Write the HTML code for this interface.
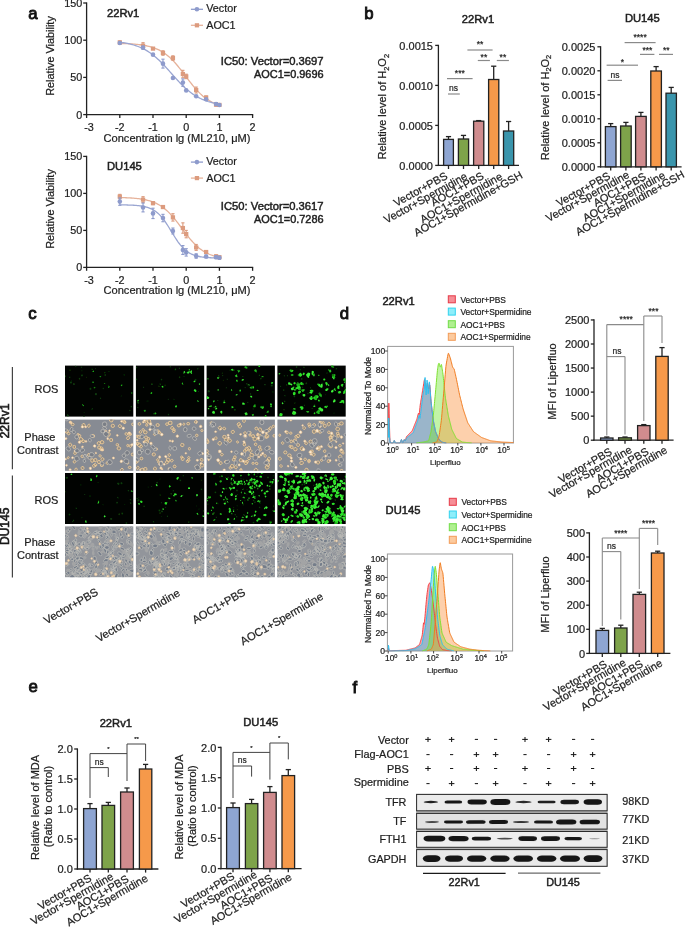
<!DOCTYPE html>
<html><head><meta charset="utf-8"><style>
html,body{margin:0;padding:0;background:#fff;}
svg{display:block;}
text{font-family:"Liberation Sans", sans-serif;}
svg{-webkit-font-smoothing:antialiased;will-change:transform;}
text{stroke:#1e1e1e;stroke-width:0.22px;}
</style></head><body>
<svg width="685" height="928" viewBox="0 0 685 928">
<rect width="685" height="928" fill="#fff"/>
<text x="28.30" y="19.00" font-size="16.8" text-anchor="start" fill="#111" style="stroke-width:0.9px;stroke:#111">a</text>
<line x1="86.60" y1="2.40" x2="86.60" y2="115.25" stroke="#222" stroke-width="1.3"/>
<line x1="85.95" y1="114.60" x2="253.20" y2="114.60" stroke="#222" stroke-width="1.3"/>
<line x1="83.20" y1="114.60" x2="86.60" y2="114.60" stroke="#222" stroke-width="1.3"/>
<text x="82.20" y="118.50" font-size="10.8" text-anchor="end" fill="#1e1e1e">0</text>
<line x1="83.20" y1="77.40" x2="86.60" y2="77.40" stroke="#222" stroke-width="1.3"/>
<text x="82.20" y="81.30" font-size="10.8" text-anchor="end" fill="#1e1e1e">50</text>
<line x1="83.20" y1="40.20" x2="86.60" y2="40.20" stroke="#222" stroke-width="1.3"/>
<text x="82.20" y="44.10" font-size="10.8" text-anchor="end" fill="#1e1e1e">100</text>
<line x1="83.20" y1="3.00" x2="86.60" y2="3.00" stroke="#222" stroke-width="1.3"/>
<text x="82.20" y="6.90" font-size="10.8" text-anchor="end" fill="#1e1e1e">150</text>
<line x1="86.60" y1="114.60" x2="86.60" y2="118.00" stroke="#222" stroke-width="1.3"/>
<text x="89.00" y="131.20" font-size="10.8" text-anchor="middle" fill="#1e1e1e">-3</text>
<line x1="119.80" y1="114.60" x2="119.80" y2="118.00" stroke="#222" stroke-width="1.3"/>
<text x="119.80" y="131.20" font-size="10.8" text-anchor="middle" fill="#1e1e1e">-2</text>
<line x1="153.00" y1="114.60" x2="153.00" y2="118.00" stroke="#222" stroke-width="1.3"/>
<text x="153.00" y="131.20" font-size="10.8" text-anchor="middle" fill="#1e1e1e">-1</text>
<line x1="186.20" y1="114.60" x2="186.20" y2="118.00" stroke="#222" stroke-width="1.3"/>
<text x="186.20" y="131.20" font-size="10.8" text-anchor="middle" fill="#1e1e1e">0</text>
<line x1="219.40" y1="114.60" x2="219.40" y2="118.00" stroke="#222" stroke-width="1.3"/>
<text x="219.40" y="131.20" font-size="10.8" text-anchor="middle" fill="#1e1e1e">1</text>
<line x1="252.60" y1="114.60" x2="252.60" y2="118.00" stroke="#222" stroke-width="1.3"/>
<text x="252.60" y="131.20" font-size="10.8" text-anchor="middle" fill="#1e1e1e">2</text>
<text x="177.00" y="142.20" font-size="11.1" text-anchor="middle" fill="#1e1e1e">Concentration lg (ML210, μM)</text>
<text x="54.30" y="56.00" font-size="10.9" text-anchor="middle" fill="#1e1e1e" transform="rotate(-90 54.30 56.00)">Relative Viability</text>
<text x="107.00" y="17.20" font-size="11.2" text-anchor="start" fill="#1e1e1e" style="stroke-width:0.5px">22Rv1</text>
<line x1="190.90" y1="9.30" x2="203.00" y2="9.30" stroke="#8e9bcc" stroke-width="1.3"/>
<circle cx="196.90" cy="9.30" r="2.30" fill="#8e9bcc"/>
<text x="206.20" y="12.10" font-size="10.8" text-anchor="start" fill="#1e1e1e">Vector</text>
<line x1="190.90" y1="25.30" x2="203.00" y2="25.30" stroke="#e6b29a" stroke-width="1.3"/>
<rect x="194.80" y="23.20" width="4.30" height="4.20" fill="#dc9b7e"/>
<text x="206.20" y="29.10" font-size="10.8" text-anchor="start" fill="#1e1e1e">AOC1</text>
<text x="323.60" y="65.00" font-size="11.2" text-anchor="end" fill="#1e1e1e" textLength="102.8" lengthAdjust="spacingAndGlyphs" style="stroke-width:0.45px">IC50: Vector=0.3697</text>
<text x="323.60" y="77.80" font-size="11.2" text-anchor="end" fill="#1e1e1e" textLength="69.6" lengthAdjust="spacingAndGlyphs" style="stroke-width:0.45px">AOC1=0.9696</text>
<path d="M119.80,43.45 L121.06,43.49 L122.32,43.53 L123.58,43.57 L124.84,43.61 L126.10,43.67 L127.36,43.72 L128.63,43.78 L129.89,43.85 L131.15,43.93 L132.41,44.01 L133.67,44.11 L134.93,44.21 L136.19,44.32 L137.45,44.45 L138.71,44.59 L139.97,44.74 L141.23,44.91 L142.49,45.09 L143.75,45.29 L145.02,45.52 L146.28,45.76 L147.54,46.03 L148.80,46.33 L150.06,46.65 L151.32,47.01 L152.58,47.40 L153.84,47.82 L155.10,48.29 L156.36,48.79 L157.62,49.34 L158.88,49.94 L160.14,50.59 L161.41,51.29 L162.67,52.05 L163.93,52.86 L165.19,53.74 L166.45,54.67 L167.71,55.68 L168.97,56.75 L170.23,57.88 L171.49,59.08 L172.75,60.34 L174.01,61.67 L175.27,63.06 L176.53,64.51 L177.79,66.00 L179.06,67.55 L180.32,69.14 L181.58,70.76 L182.84,72.41 L184.10,74.08 L185.36,75.76 L186.62,77.44 L187.88,79.11 L189.14,80.77 L190.40,82.41 L191.66,84.01 L192.92,85.58 L194.18,87.10 L195.45,88.57 L196.71,89.99 L197.97,91.35 L199.23,92.64 L200.49,93.87 L201.75,95.04 L203.01,96.14 L204.27,97.17 L205.53,98.14 L206.79,99.04 L208.05,99.89 L209.31,100.67 L210.57,101.40 L211.84,102.07 L213.10,102.69 L214.36,103.26 L215.62,103.79 L216.88,104.27 L218.14,104.72 L219.40,105.12" fill="none" stroke="#e6b29a" stroke-width="1.3"/>
<line x1="119.80" y1="40.94" x2="119.80" y2="43.92" stroke="#dc9b7e" stroke-width="1.1"/>
<line x1="118.20" y1="40.94" x2="121.40" y2="40.94" stroke="#dc9b7e" stroke-width="1.1"/>
<line x1="118.20" y1="43.92" x2="121.40" y2="43.92" stroke="#dc9b7e" stroke-width="1.1"/>
<rect x="117.65" y="40.33" width="4.30" height="4.20" fill="#dc9b7e"/>
<line x1="143.04" y1="42.66" x2="143.04" y2="48.61" stroke="#dc9b7e" stroke-width="1.1"/>
<line x1="141.44" y1="42.66" x2="144.64" y2="42.66" stroke="#dc9b7e" stroke-width="1.1"/>
<line x1="141.44" y1="48.61" x2="144.64" y2="48.61" stroke="#dc9b7e" stroke-width="1.1"/>
<rect x="140.89" y="43.53" width="4.30" height="4.20" fill="#dc9b7e"/>
<rect x="150.85" y="46.51" width="4.30" height="4.20" fill="#dc9b7e"/>
<line x1="162.96" y1="50.76" x2="162.96" y2="55.23" stroke="#dc9b7e" stroke-width="1.1"/>
<line x1="161.36" y1="50.76" x2="164.56" y2="50.76" stroke="#dc9b7e" stroke-width="1.1"/>
<line x1="161.36" y1="55.23" x2="164.56" y2="55.23" stroke="#dc9b7e" stroke-width="1.1"/>
<rect x="160.81" y="50.90" width="4.30" height="4.20" fill="#dc9b7e"/>
<line x1="172.92" y1="55.82" x2="172.92" y2="60.29" stroke="#dc9b7e" stroke-width="1.1"/>
<line x1="171.32" y1="55.82" x2="174.52" y2="55.82" stroke="#dc9b7e" stroke-width="1.1"/>
<line x1="171.32" y1="60.29" x2="174.52" y2="60.29" stroke="#dc9b7e" stroke-width="1.1"/>
<rect x="170.77" y="55.96" width="4.30" height="4.20" fill="#dc9b7e"/>
<line x1="182.88" y1="70.33" x2="182.88" y2="77.77" stroke="#dc9b7e" stroke-width="1.1"/>
<line x1="181.28" y1="70.33" x2="184.48" y2="70.33" stroke="#dc9b7e" stroke-width="1.1"/>
<line x1="181.28" y1="77.77" x2="184.48" y2="77.77" stroke="#dc9b7e" stroke-width="1.1"/>
<rect x="180.73" y="71.95" width="4.30" height="4.20" fill="#dc9b7e"/>
<line x1="186.20" y1="74.20" x2="186.20" y2="78.66" stroke="#dc9b7e" stroke-width="1.1"/>
<line x1="184.60" y1="74.20" x2="187.80" y2="74.20" stroke="#dc9b7e" stroke-width="1.1"/>
<line x1="184.60" y1="78.66" x2="187.80" y2="78.66" stroke="#dc9b7e" stroke-width="1.1"/>
<rect x="184.05" y="74.33" width="4.30" height="4.20" fill="#dc9b7e"/>
<line x1="196.16" y1="87.07" x2="196.16" y2="93.02" stroke="#dc9b7e" stroke-width="1.1"/>
<line x1="194.56" y1="87.07" x2="197.76" y2="87.07" stroke="#dc9b7e" stroke-width="1.1"/>
<line x1="194.56" y1="93.02" x2="197.76" y2="93.02" stroke="#dc9b7e" stroke-width="1.1"/>
<rect x="194.01" y="87.95" width="4.30" height="4.20" fill="#dc9b7e"/>
<line x1="206.12" y1="96.00" x2="206.12" y2="98.98" stroke="#dc9b7e" stroke-width="1.1"/>
<line x1="204.52" y1="96.00" x2="207.72" y2="96.00" stroke="#dc9b7e" stroke-width="1.1"/>
<line x1="204.52" y1="98.98" x2="207.72" y2="98.98" stroke="#dc9b7e" stroke-width="1.1"/>
<rect x="203.97" y="95.39" width="4.30" height="4.20" fill="#dc9b7e"/>
<line x1="216.08" y1="103.14" x2="216.08" y2="106.12" stroke="#dc9b7e" stroke-width="1.1"/>
<line x1="214.48" y1="103.14" x2="217.68" y2="103.14" stroke="#dc9b7e" stroke-width="1.1"/>
<line x1="214.48" y1="106.12" x2="217.68" y2="106.12" stroke="#dc9b7e" stroke-width="1.1"/>
<rect x="213.93" y="102.53" width="4.30" height="4.20" fill="#dc9b7e"/>
<line x1="219.40" y1="104.18" x2="219.40" y2="105.67" stroke="#dc9b7e" stroke-width="1.1"/>
<line x1="217.80" y1="104.18" x2="221.00" y2="104.18" stroke="#dc9b7e" stroke-width="1.1"/>
<line x1="217.80" y1="105.67" x2="221.00" y2="105.67" stroke="#dc9b7e" stroke-width="1.1"/>
<rect x="217.25" y="102.83" width="4.30" height="4.20" fill="#dc9b7e"/>
<path d="M119.80,42.22 L121.06,42.39 L122.32,42.57 L123.58,42.76 L124.84,42.97 L126.10,43.20 L127.36,43.44 L128.63,43.71 L129.89,43.99 L131.15,44.30 L132.41,44.64 L133.67,45.00 L134.93,45.38 L136.19,45.80 L137.45,46.25 L138.71,46.73 L139.97,47.25 L141.23,47.80 L142.49,48.39 L143.75,49.02 L145.02,49.69 L146.28,50.40 L147.54,51.16 L148.80,51.97 L150.06,52.82 L151.32,53.71 L152.58,54.66 L153.84,55.65 L155.10,56.69 L156.36,57.77 L157.62,58.90 L158.88,60.07 L160.14,61.29 L161.41,62.54 L162.67,63.83 L163.93,65.15 L165.19,66.50 L166.45,67.88 L167.71,69.27 L168.97,70.68 L170.23,72.10 L171.49,73.53 L172.75,74.95 L174.01,76.37 L175.27,77.78 L176.53,79.17 L177.79,80.54 L179.06,81.89 L180.32,83.20 L181.58,84.49 L182.84,85.73 L184.10,86.94 L185.36,88.11 L186.62,89.23 L187.88,90.30 L189.14,91.33 L190.40,92.32 L191.66,93.25 L192.92,94.14 L194.18,94.98 L195.45,95.78 L196.71,96.53 L197.97,97.24 L199.23,97.90 L200.49,98.53 L201.75,99.11 L203.01,99.65 L204.27,100.16 L205.53,100.64 L206.79,101.08 L208.05,101.50 L209.31,101.88 L210.57,102.23 L211.84,102.56 L213.10,102.87 L214.36,103.15 L215.62,103.41 L216.88,103.66 L218.14,103.88 L219.40,104.09" fill="none" stroke="#9aa6d2" stroke-width="1.3"/>
<line x1="119.80" y1="42.28" x2="119.80" y2="43.77" stroke="#8e9bcc" stroke-width="1.1"/>
<line x1="118.20" y1="42.28" x2="121.40" y2="42.28" stroke="#8e9bcc" stroke-width="1.1"/>
<line x1="118.20" y1="43.77" x2="121.40" y2="43.77" stroke="#8e9bcc" stroke-width="1.1"/>
<circle cx="119.80" cy="43.03" r="2.30" fill="#8e9bcc"/>
<line x1="143.04" y1="46.15" x2="143.04" y2="49.13" stroke="#8e9bcc" stroke-width="1.1"/>
<line x1="141.44" y1="46.15" x2="144.64" y2="46.15" stroke="#8e9bcc" stroke-width="1.1"/>
<line x1="141.44" y1="49.13" x2="144.64" y2="49.13" stroke="#8e9bcc" stroke-width="1.1"/>
<circle cx="143.04" cy="47.64" r="2.30" fill="#8e9bcc"/>
<circle cx="153.00" cy="54.63" r="2.30" fill="#8e9bcc"/>
<line x1="162.96" y1="59.17" x2="162.96" y2="68.10" stroke="#8e9bcc" stroke-width="1.1"/>
<line x1="161.36" y1="59.17" x2="164.56" y2="59.17" stroke="#8e9bcc" stroke-width="1.1"/>
<line x1="161.36" y1="68.10" x2="164.56" y2="68.10" stroke="#8e9bcc" stroke-width="1.1"/>
<circle cx="162.96" cy="63.64" r="2.30" fill="#8e9bcc"/>
<circle cx="172.92" cy="78.00" r="2.30" fill="#8e9bcc"/>
<line x1="182.88" y1="78.89" x2="182.88" y2="86.33" stroke="#8e9bcc" stroke-width="1.1"/>
<line x1="181.28" y1="78.89" x2="184.48" y2="78.89" stroke="#8e9bcc" stroke-width="1.1"/>
<line x1="181.28" y1="86.33" x2="184.48" y2="86.33" stroke="#8e9bcc" stroke-width="1.1"/>
<circle cx="182.88" cy="82.61" r="2.30" fill="#8e9bcc"/>
<circle cx="186.20" cy="90.42" r="2.30" fill="#8e9bcc"/>
<circle cx="196.16" cy="96.22" r="2.30" fill="#8e9bcc"/>
<circle cx="206.12" cy="99.20" r="2.30" fill="#8e9bcc"/>
<line x1="216.08" y1="102.55" x2="216.08" y2="105.52" stroke="#8e9bcc" stroke-width="1.1"/>
<line x1="214.48" y1="102.55" x2="217.68" y2="102.55" stroke="#8e9bcc" stroke-width="1.1"/>
<line x1="214.48" y1="105.52" x2="217.68" y2="105.52" stroke="#8e9bcc" stroke-width="1.1"/>
<circle cx="216.08" cy="104.04" r="2.30" fill="#8e9bcc"/>
<line x1="219.40" y1="104.26" x2="219.40" y2="105.75" stroke="#8e9bcc" stroke-width="1.1"/>
<line x1="217.80" y1="104.26" x2="221.00" y2="104.26" stroke="#8e9bcc" stroke-width="1.1"/>
<line x1="217.80" y1="105.75" x2="221.00" y2="105.75" stroke="#8e9bcc" stroke-width="1.1"/>
<circle cx="219.40" cy="105.00" r="2.30" fill="#8e9bcc"/>
<line x1="86.60" y1="155.80" x2="86.60" y2="268.05" stroke="#222" stroke-width="1.3"/>
<line x1="85.95" y1="267.40" x2="253.20" y2="267.40" stroke="#222" stroke-width="1.3"/>
<line x1="83.20" y1="267.40" x2="86.60" y2="267.40" stroke="#222" stroke-width="1.3"/>
<text x="82.20" y="271.30" font-size="10.8" text-anchor="end" fill="#1e1e1e">0</text>
<line x1="83.20" y1="230.40" x2="86.60" y2="230.40" stroke="#222" stroke-width="1.3"/>
<text x="82.20" y="234.30" font-size="10.8" text-anchor="end" fill="#1e1e1e">50</text>
<line x1="83.20" y1="193.40" x2="86.60" y2="193.40" stroke="#222" stroke-width="1.3"/>
<text x="82.20" y="197.30" font-size="10.8" text-anchor="end" fill="#1e1e1e">100</text>
<line x1="83.20" y1="156.40" x2="86.60" y2="156.40" stroke="#222" stroke-width="1.3"/>
<text x="82.20" y="160.30" font-size="10.8" text-anchor="end" fill="#1e1e1e">150</text>
<line x1="86.60" y1="267.40" x2="86.60" y2="270.80" stroke="#222" stroke-width="1.3"/>
<text x="89.00" y="284.00" font-size="10.8" text-anchor="middle" fill="#1e1e1e">-3</text>
<line x1="119.80" y1="267.40" x2="119.80" y2="270.80" stroke="#222" stroke-width="1.3"/>
<text x="119.80" y="284.00" font-size="10.8" text-anchor="middle" fill="#1e1e1e">-2</text>
<line x1="153.00" y1="267.40" x2="153.00" y2="270.80" stroke="#222" stroke-width="1.3"/>
<text x="153.00" y="284.00" font-size="10.8" text-anchor="middle" fill="#1e1e1e">-1</text>
<line x1="186.20" y1="267.40" x2="186.20" y2="270.80" stroke="#222" stroke-width="1.3"/>
<text x="186.20" y="284.00" font-size="10.8" text-anchor="middle" fill="#1e1e1e">0</text>
<line x1="219.40" y1="267.40" x2="219.40" y2="270.80" stroke="#222" stroke-width="1.3"/>
<text x="219.40" y="284.00" font-size="10.8" text-anchor="middle" fill="#1e1e1e">1</text>
<line x1="252.60" y1="267.40" x2="252.60" y2="270.80" stroke="#222" stroke-width="1.3"/>
<text x="252.60" y="284.00" font-size="10.8" text-anchor="middle" fill="#1e1e1e">2</text>
<text x="177.00" y="294.40" font-size="11.1" text-anchor="middle" fill="#1e1e1e">Concentration lg (ML210, μM)</text>
<text x="54.30" y="209.00" font-size="10.9" text-anchor="middle" fill="#1e1e1e" transform="rotate(-90 54.30 209.00)">Relative Viability</text>
<text x="107.00" y="169.60" font-size="11.2" text-anchor="start" fill="#1e1e1e" style="stroke-width:0.5px">DU145</text>
<line x1="190.90" y1="162.10" x2="203.00" y2="162.10" stroke="#8e9bcc" stroke-width="1.3"/>
<circle cx="196.90" cy="162.10" r="2.30" fill="#8e9bcc"/>
<text x="206.20" y="164.90" font-size="10.8" text-anchor="start" fill="#1e1e1e">Vector</text>
<line x1="190.90" y1="178.10" x2="203.00" y2="178.10" stroke="#e6b29a" stroke-width="1.3"/>
<rect x="194.80" y="176.00" width="4.30" height="4.20" fill="#dc9b7e"/>
<text x="206.20" y="181.90" font-size="10.8" text-anchor="start" fill="#1e1e1e">AOC1</text>
<text x="323.60" y="210.20" font-size="11.2" text-anchor="end" fill="#1e1e1e" textLength="102.8" lengthAdjust="spacingAndGlyphs" style="stroke-width:0.45px">IC50: Vector=0.3617</text>
<text x="323.60" y="223.00" font-size="11.2" text-anchor="end" fill="#1e1e1e" textLength="69.6" lengthAdjust="spacingAndGlyphs" style="stroke-width:0.45px">AOC1=0.7286</text>
<path d="M119.80,197.53 L121.06,197.56 L122.32,197.60 L123.58,197.64 L124.84,197.69 L126.10,197.74 L127.36,197.80 L128.63,197.86 L129.89,197.93 L131.15,198.01 L132.41,198.10 L133.67,198.20 L134.93,198.30 L136.19,198.42 L137.45,198.56 L138.71,198.70 L139.97,198.87 L141.23,199.05 L142.49,199.25 L143.75,199.47 L145.02,199.72 L146.28,199.99 L147.54,200.29 L148.80,200.63 L150.06,200.99 L151.32,201.39 L152.58,201.84 L153.84,202.32 L155.10,202.85 L156.36,203.43 L157.62,204.06 L158.88,204.75 L160.14,205.50 L161.41,206.31 L162.67,207.19 L163.93,208.13 L165.19,209.14 L166.45,210.22 L167.71,211.38 L168.97,212.60 L170.23,213.89 L171.49,215.25 L172.75,216.67 L174.01,218.16 L175.27,219.69 L176.53,221.28 L177.79,222.90 L179.06,224.56 L180.32,226.24 L181.58,227.93 L182.84,229.62 L184.10,231.31 L185.36,232.98 L186.62,234.63 L187.88,236.24 L189.14,237.80 L190.40,239.32 L191.66,240.78 L192.92,242.18 L194.18,243.51 L195.45,244.78 L196.71,245.97 L197.97,247.10 L199.23,248.15 L200.49,249.14 L201.75,250.05 L203.01,250.90 L204.27,251.69 L205.53,252.41 L206.79,253.08 L208.05,253.69 L209.31,254.25 L210.57,254.76 L211.84,255.23 L213.10,255.66 L214.36,256.05 L215.62,256.40 L216.88,256.72 L218.14,257.01 L219.40,257.27" fill="none" stroke="#e6b29a" stroke-width="1.3"/>
<line x1="119.80" y1="194.36" x2="119.80" y2="198.80" stroke="#dc9b7e" stroke-width="1.1"/>
<line x1="118.20" y1="194.36" x2="121.40" y2="194.36" stroke="#dc9b7e" stroke-width="1.1"/>
<line x1="118.20" y1="198.80" x2="121.40" y2="198.80" stroke="#dc9b7e" stroke-width="1.1"/>
<rect x="117.65" y="194.48" width="4.30" height="4.20" fill="#dc9b7e"/>
<line x1="143.04" y1="196.66" x2="143.04" y2="202.58" stroke="#dc9b7e" stroke-width="1.1"/>
<line x1="141.44" y1="196.66" x2="144.64" y2="196.66" stroke="#dc9b7e" stroke-width="1.1"/>
<line x1="141.44" y1="202.58" x2="144.64" y2="202.58" stroke="#dc9b7e" stroke-width="1.1"/>
<rect x="140.89" y="197.52" width="4.30" height="4.20" fill="#dc9b7e"/>
<line x1="153.00" y1="201.69" x2="153.00" y2="204.65" stroke="#dc9b7e" stroke-width="1.1"/>
<line x1="151.40" y1="201.69" x2="154.60" y2="201.69" stroke="#dc9b7e" stroke-width="1.1"/>
<line x1="151.40" y1="204.65" x2="154.60" y2="204.65" stroke="#dc9b7e" stroke-width="1.1"/>
<rect x="150.85" y="201.07" width="4.30" height="4.20" fill="#dc9b7e"/>
<line x1="162.96" y1="205.54" x2="162.96" y2="208.50" stroke="#dc9b7e" stroke-width="1.1"/>
<line x1="161.36" y1="205.54" x2="164.56" y2="205.54" stroke="#dc9b7e" stroke-width="1.1"/>
<line x1="161.36" y1="208.50" x2="164.56" y2="208.50" stroke="#dc9b7e" stroke-width="1.1"/>
<rect x="160.81" y="204.92" width="4.30" height="4.20" fill="#dc9b7e"/>
<line x1="172.92" y1="213.68" x2="172.92" y2="221.08" stroke="#dc9b7e" stroke-width="1.1"/>
<line x1="171.32" y1="213.68" x2="174.52" y2="213.68" stroke="#dc9b7e" stroke-width="1.1"/>
<line x1="171.32" y1="221.08" x2="174.52" y2="221.08" stroke="#dc9b7e" stroke-width="1.1"/>
<rect x="170.77" y="215.28" width="4.30" height="4.20" fill="#dc9b7e"/>
<line x1="182.88" y1="222.85" x2="182.88" y2="233.21" stroke="#dc9b7e" stroke-width="1.1"/>
<line x1="181.28" y1="222.85" x2="184.48" y2="222.85" stroke="#dc9b7e" stroke-width="1.1"/>
<line x1="181.28" y1="233.21" x2="184.48" y2="233.21" stroke="#dc9b7e" stroke-width="1.1"/>
<rect x="180.73" y="225.93" width="4.30" height="4.20" fill="#dc9b7e"/>
<line x1="186.20" y1="230.40" x2="186.20" y2="237.80" stroke="#dc9b7e" stroke-width="1.1"/>
<line x1="184.60" y1="230.40" x2="187.80" y2="230.40" stroke="#dc9b7e" stroke-width="1.1"/>
<line x1="184.60" y1="237.80" x2="187.80" y2="237.80" stroke="#dc9b7e" stroke-width="1.1"/>
<rect x="184.05" y="232.00" width="4.30" height="4.20" fill="#dc9b7e"/>
<line x1="196.16" y1="244.46" x2="196.16" y2="250.38" stroke="#dc9b7e" stroke-width="1.1"/>
<line x1="194.56" y1="244.46" x2="197.76" y2="244.46" stroke="#dc9b7e" stroke-width="1.1"/>
<line x1="194.56" y1="250.38" x2="197.76" y2="250.38" stroke="#dc9b7e" stroke-width="1.1"/>
<rect x="194.01" y="245.32" width="4.30" height="4.20" fill="#dc9b7e"/>
<line x1="206.12" y1="250.53" x2="206.12" y2="253.49" stroke="#dc9b7e" stroke-width="1.1"/>
<line x1="204.52" y1="250.53" x2="207.72" y2="250.53" stroke="#dc9b7e" stroke-width="1.1"/>
<line x1="204.52" y1="253.49" x2="207.72" y2="253.49" stroke="#dc9b7e" stroke-width="1.1"/>
<rect x="203.97" y="249.91" width="4.30" height="4.20" fill="#dc9b7e"/>
<line x1="216.08" y1="254.89" x2="216.08" y2="257.85" stroke="#dc9b7e" stroke-width="1.1"/>
<line x1="214.48" y1="254.89" x2="217.68" y2="254.89" stroke="#dc9b7e" stroke-width="1.1"/>
<line x1="214.48" y1="257.85" x2="217.68" y2="257.85" stroke="#dc9b7e" stroke-width="1.1"/>
<rect x="213.93" y="254.27" width="4.30" height="4.20" fill="#dc9b7e"/>
<line x1="219.40" y1="256.45" x2="219.40" y2="257.93" stroke="#dc9b7e" stroke-width="1.1"/>
<line x1="217.80" y1="256.45" x2="221.00" y2="256.45" stroke="#dc9b7e" stroke-width="1.1"/>
<line x1="217.80" y1="257.93" x2="221.00" y2="257.93" stroke="#dc9b7e" stroke-width="1.1"/>
<rect x="217.25" y="255.09" width="4.30" height="4.20" fill="#dc9b7e"/>
<path d="M119.80,204.86 L121.06,204.87 L122.32,204.89 L123.58,204.91 L124.84,204.93 L126.10,204.96 L127.36,205.00 L128.63,205.03 L129.89,205.08 L131.15,205.13 L132.41,205.19 L133.67,205.26 L134.93,205.35 L136.19,205.44 L137.45,205.55 L138.71,205.69 L139.97,205.84 L141.23,206.01 L142.49,206.22 L143.75,206.46 L145.02,206.73 L146.28,207.05 L147.54,207.41 L148.80,207.84 L150.06,208.32 L151.32,208.87 L152.58,209.51 L153.84,210.22 L155.10,211.04 L156.36,211.95 L157.62,212.98 L158.88,214.13 L160.14,215.39 L161.41,216.78 L162.67,218.30 L163.93,219.94 L165.19,221.69 L166.45,223.54 L167.71,225.48 L168.97,227.49 L170.23,229.55 L171.49,231.63 L172.75,233.71 L174.01,235.76 L175.27,237.76 L176.53,239.69 L177.79,241.53 L179.06,243.26 L180.32,244.88 L181.58,246.37 L182.84,247.75 L184.10,248.99 L185.36,250.12 L186.62,251.13 L187.88,252.03 L189.14,252.83 L190.40,253.53 L191.66,254.15 L192.92,254.69 L194.18,255.17 L195.45,255.58 L196.71,255.94 L197.97,256.25 L199.23,256.51 L200.49,256.75 L201.75,256.95 L203.01,257.12 L204.27,257.27 L205.53,257.40 L206.79,257.50 L208.05,257.60 L209.31,257.68 L210.57,257.75 L211.84,257.81 L213.10,257.86 L214.36,257.90 L215.62,257.94 L216.88,257.97 L218.14,258.00 L219.40,258.02" fill="none" stroke="#9aa6d2" stroke-width="1.3"/>
<line x1="119.80" y1="197.91" x2="119.80" y2="205.31" stroke="#8e9bcc" stroke-width="1.1"/>
<line x1="118.20" y1="197.91" x2="121.40" y2="197.91" stroke="#8e9bcc" stroke-width="1.1"/>
<line x1="118.20" y1="205.31" x2="121.40" y2="205.31" stroke="#8e9bcc" stroke-width="1.1"/>
<circle cx="119.80" cy="201.61" r="2.30" fill="#8e9bcc"/>
<line x1="143.04" y1="203.02" x2="143.04" y2="211.90" stroke="#8e9bcc" stroke-width="1.1"/>
<line x1="141.44" y1="203.02" x2="144.64" y2="203.02" stroke="#8e9bcc" stroke-width="1.1"/>
<line x1="141.44" y1="211.90" x2="144.64" y2="211.90" stroke="#8e9bcc" stroke-width="1.1"/>
<circle cx="143.04" cy="207.46" r="2.30" fill="#8e9bcc"/>
<line x1="153.00" y1="208.20" x2="153.00" y2="218.56" stroke="#8e9bcc" stroke-width="1.1"/>
<line x1="151.40" y1="208.20" x2="154.60" y2="208.20" stroke="#8e9bcc" stroke-width="1.1"/>
<line x1="151.40" y1="218.56" x2="154.60" y2="218.56" stroke="#8e9bcc" stroke-width="1.1"/>
<circle cx="153.00" cy="213.38" r="2.30" fill="#8e9bcc"/>
<line x1="162.96" y1="214.34" x2="162.96" y2="221.74" stroke="#8e9bcc" stroke-width="1.1"/>
<line x1="161.36" y1="214.34" x2="164.56" y2="214.34" stroke="#8e9bcc" stroke-width="1.1"/>
<line x1="161.36" y1="221.74" x2="164.56" y2="221.74" stroke="#8e9bcc" stroke-width="1.1"/>
<circle cx="162.96" cy="218.04" r="2.30" fill="#8e9bcc"/>
<line x1="172.92" y1="228.03" x2="172.92" y2="233.95" stroke="#8e9bcc" stroke-width="1.1"/>
<line x1="171.32" y1="228.03" x2="174.52" y2="228.03" stroke="#8e9bcc" stroke-width="1.1"/>
<line x1="171.32" y1="233.95" x2="174.52" y2="233.95" stroke="#8e9bcc" stroke-width="1.1"/>
<circle cx="172.92" cy="230.99" r="2.30" fill="#8e9bcc"/>
<line x1="182.88" y1="245.57" x2="182.88" y2="254.45" stroke="#8e9bcc" stroke-width="1.1"/>
<line x1="181.28" y1="245.57" x2="184.48" y2="245.57" stroke="#8e9bcc" stroke-width="1.1"/>
<line x1="181.28" y1="254.45" x2="184.48" y2="254.45" stroke="#8e9bcc" stroke-width="1.1"/>
<circle cx="182.88" cy="250.01" r="2.30" fill="#8e9bcc"/>
<line x1="186.20" y1="248.68" x2="186.20" y2="256.08" stroke="#8e9bcc" stroke-width="1.1"/>
<line x1="184.60" y1="248.68" x2="187.80" y2="248.68" stroke="#8e9bcc" stroke-width="1.1"/>
<line x1="184.60" y1="256.08" x2="187.80" y2="256.08" stroke="#8e9bcc" stroke-width="1.1"/>
<circle cx="186.20" cy="252.38" r="2.30" fill="#8e9bcc"/>
<line x1="196.16" y1="253.78" x2="196.16" y2="258.22" stroke="#8e9bcc" stroke-width="1.1"/>
<line x1="194.56" y1="253.78" x2="197.76" y2="253.78" stroke="#8e9bcc" stroke-width="1.1"/>
<line x1="194.56" y1="258.22" x2="197.76" y2="258.22" stroke="#8e9bcc" stroke-width="1.1"/>
<circle cx="196.16" cy="256.00" r="2.30" fill="#8e9bcc"/>
<line x1="206.12" y1="255.04" x2="206.12" y2="258.00" stroke="#8e9bcc" stroke-width="1.1"/>
<line x1="204.52" y1="255.04" x2="207.72" y2="255.04" stroke="#8e9bcc" stroke-width="1.1"/>
<line x1="204.52" y1="258.00" x2="207.72" y2="258.00" stroke="#8e9bcc" stroke-width="1.1"/>
<circle cx="206.12" cy="256.52" r="2.30" fill="#8e9bcc"/>
<line x1="216.08" y1="255.71" x2="216.08" y2="258.67" stroke="#8e9bcc" stroke-width="1.1"/>
<line x1="214.48" y1="255.71" x2="217.68" y2="255.71" stroke="#8e9bcc" stroke-width="1.1"/>
<line x1="214.48" y1="258.67" x2="217.68" y2="258.67" stroke="#8e9bcc" stroke-width="1.1"/>
<circle cx="216.08" cy="257.19" r="2.30" fill="#8e9bcc"/>
<line x1="219.40" y1="256.30" x2="219.40" y2="259.26" stroke="#8e9bcc" stroke-width="1.1"/>
<line x1="217.80" y1="256.30" x2="221.00" y2="256.30" stroke="#8e9bcc" stroke-width="1.1"/>
<line x1="217.80" y1="259.26" x2="221.00" y2="259.26" stroke="#8e9bcc" stroke-width="1.1"/>
<circle cx="219.40" cy="257.78" r="2.30" fill="#8e9bcc"/>
<text x="364.20" y="19.00" font-size="16.8" text-anchor="start" fill="#111" style="stroke-width:0.9px;stroke:#111">b</text>
<text x="478.00" y="23.00" font-size="11.2" text-anchor="middle" fill="#1e1e1e" style="stroke-width:0.5px">22Rv1</text>
<line x1="438.40" y1="44.80" x2="438.40" y2="166.05" stroke="#222" stroke-width="1.3"/>
<line x1="437.75" y1="165.40" x2="519.00" y2="165.40" stroke="#222" stroke-width="1.3"/>
<line x1="435.20" y1="45.40" x2="438.40" y2="45.40" stroke="#222" stroke-width="1.3"/>
<text x="433.00" y="49.50" font-size="11" text-anchor="end" fill="#1e1e1e">0.0015</text>
<line x1="435.20" y1="85.40" x2="438.40" y2="85.40" stroke="#222" stroke-width="1.3"/>
<text x="433.00" y="89.50" font-size="11" text-anchor="end" fill="#1e1e1e">0.0010</text>
<line x1="435.20" y1="125.40" x2="438.40" y2="125.40" stroke="#222" stroke-width="1.3"/>
<text x="433.00" y="129.50" font-size="11" text-anchor="end" fill="#1e1e1e">0.0005</text>
<line x1="435.20" y1="165.40" x2="438.40" y2="165.40" stroke="#222" stroke-width="1.3"/>
<text x="433.00" y="169.50" font-size="11" text-anchor="end" fill="#1e1e1e">0.0000</text>
<line x1="448.50" y1="136.60" x2="448.50" y2="139.40" stroke="#222" stroke-width="1.3"/>
<line x1="445.90" y1="136.60" x2="451.10" y2="136.60" stroke="#222" stroke-width="1.3"/>
<rect x="443.60" y="139.40" width="9.80" height="26.00" fill="#8ea5d2" stroke="#222" stroke-width="1.3"/>
<line x1="448.50" y1="165.40" x2="448.50" y2="169.00" stroke="#222" stroke-width="1.3"/>
<line x1="463.50" y1="135.40" x2="463.50" y2="139.00" stroke="#222" stroke-width="1.3"/>
<line x1="460.90" y1="135.40" x2="466.10" y2="135.40" stroke="#222" stroke-width="1.3"/>
<rect x="458.40" y="139.00" width="10.20" height="26.40" fill="#7ea34a" stroke="#222" stroke-width="1.3"/>
<line x1="463.50" y1="165.40" x2="463.50" y2="169.00" stroke="#222" stroke-width="1.3"/>
<line x1="478.70" y1="120.60" x2="478.70" y2="121.20" stroke="#222" stroke-width="1.3"/>
<line x1="476.10" y1="120.60" x2="481.30" y2="120.60" stroke="#222" stroke-width="1.3"/>
<rect x="473.60" y="121.20" width="10.20" height="44.20" fill="#d08c8e" stroke="#222" stroke-width="1.3"/>
<line x1="478.70" y1="165.40" x2="478.70" y2="169.00" stroke="#222" stroke-width="1.3"/>
<line x1="493.70" y1="66.20" x2="493.70" y2="79.50" stroke="#222" stroke-width="1.3"/>
<line x1="491.10" y1="66.20" x2="496.30" y2="66.20" stroke="#222" stroke-width="1.3"/>
<rect x="488.60" y="79.50" width="10.20" height="85.90" fill="#f6994a" stroke="#222" stroke-width="1.3"/>
<line x1="493.70" y1="165.40" x2="493.70" y2="169.00" stroke="#222" stroke-width="1.3"/>
<line x1="508.60" y1="121.50" x2="508.60" y2="131.00" stroke="#222" stroke-width="1.3"/>
<line x1="506.00" y1="121.50" x2="511.20" y2="121.50" stroke="#222" stroke-width="1.3"/>
<rect x="503.50" y="131.00" width="10.20" height="34.40" fill="#3a95ac" stroke="#222" stroke-width="1.3"/>
<line x1="508.60" y1="165.40" x2="508.60" y2="169.00" stroke="#222" stroke-width="1.3"/>
<text x="386.50" y="106.70" font-size="11" text-anchor="middle" fill="#1e1e1e" transform="rotate(-90 386.50 106.70)">Relative level of H<tspan font-size="7.48" dy="2.2">2</tspan><tspan dy="-2.2">O</tspan><tspan font-size="7.48" dy="2.2">2</tspan></text>
<line x1="448.00" y1="94.00" x2="459.80" y2="94.00" stroke="#8a8a8a" stroke-width="1.2"/>
<text x="453.50" y="90.50" font-size="8.5" text-anchor="middle" fill="#333">ns</text>
<line x1="447.00" y1="78.60" x2="472.60" y2="78.60" stroke="#8a8a8a" stroke-width="1.2"/>
<text x="459.80" y="75.50" font-size="8.5" text-anchor="middle" fill="#333">***</text>
<line x1="467.40" y1="50.00" x2="492.60" y2="50.00" stroke="#8a8a8a" stroke-width="1.2"/>
<text x="480.00" y="46.50" font-size="8.5" text-anchor="middle" fill="#333">**</text>
<line x1="477.80" y1="60.50" x2="489.90" y2="60.50" stroke="#8a8a8a" stroke-width="1.2"/>
<text x="483.90" y="60.30" font-size="8.5" text-anchor="middle" fill="#333">**</text>
<line x1="496.80" y1="60.50" x2="508.90" y2="60.50" stroke="#8a8a8a" stroke-width="1.2"/>
<text x="502.90" y="60.30" font-size="8.5" text-anchor="middle" fill="#333">**</text>
<text x="448.39" y="178.08" font-size="11" text-anchor="end" fill="#1e1e1e" transform="rotate(-29 448.39 178.08)">Vector+PBS</text>
<text x="468.09" y="178.58" font-size="11" text-anchor="end" fill="#1e1e1e" transform="rotate(-29 468.09 178.58)">Vector+Spermidine</text>
<text x="484.69" y="178.18" font-size="11" text-anchor="end" fill="#1e1e1e" transform="rotate(-29 484.69 178.18)">AOC1+PBS</text>
<text x="503.29" y="178.78" font-size="11" text-anchor="end" fill="#1e1e1e" transform="rotate(-29 503.29 178.78)">AOC1+Spermidine</text>
<text x="523.49" y="177.38" font-size="11" text-anchor="end" fill="#1e1e1e" transform="rotate(-29 523.49 177.38)">AOC1+Spermidine+GSH</text>
<text x="642.30" y="22.40" font-size="11.2" text-anchor="middle" fill="#1e1e1e" style="stroke-width:0.5px">DU145</text>
<line x1="600.60" y1="46.20" x2="600.60" y2="167.45" stroke="#222" stroke-width="1.3"/>
<line x1="599.95" y1="166.80" x2="681.60" y2="166.80" stroke="#222" stroke-width="1.3"/>
<line x1="597.40" y1="46.80" x2="600.60" y2="46.80" stroke="#222" stroke-width="1.3"/>
<text x="595.40" y="50.90" font-size="11" text-anchor="end" fill="#1e1e1e">0.0025</text>
<line x1="597.40" y1="70.80" x2="600.60" y2="70.80" stroke="#222" stroke-width="1.3"/>
<text x="595.40" y="74.90" font-size="11" text-anchor="end" fill="#1e1e1e">0.0020</text>
<line x1="597.40" y1="94.80" x2="600.60" y2="94.80" stroke="#222" stroke-width="1.3"/>
<text x="595.40" y="98.90" font-size="11" text-anchor="end" fill="#1e1e1e">0.0015</text>
<line x1="597.40" y1="118.80" x2="600.60" y2="118.80" stroke="#222" stroke-width="1.3"/>
<text x="595.40" y="122.90" font-size="11" text-anchor="end" fill="#1e1e1e">0.0010</text>
<line x1="597.40" y1="142.80" x2="600.60" y2="142.80" stroke="#222" stroke-width="1.3"/>
<text x="595.40" y="146.90" font-size="11" text-anchor="end" fill="#1e1e1e">0.0005</text>
<line x1="597.40" y1="166.80" x2="600.60" y2="166.80" stroke="#222" stroke-width="1.3"/>
<text x="595.40" y="170.90" font-size="11" text-anchor="end" fill="#1e1e1e">0.0000</text>
<line x1="610.70" y1="123.60" x2="610.70" y2="126.60" stroke="#222" stroke-width="1.3"/>
<line x1="608.10" y1="123.60" x2="613.30" y2="123.60" stroke="#222" stroke-width="1.3"/>
<rect x="605.40" y="126.60" width="10.60" height="40.20" fill="#8ea5d2" stroke="#222" stroke-width="1.3"/>
<line x1="610.70" y1="166.80" x2="610.70" y2="170.40" stroke="#222" stroke-width="1.3"/>
<line x1="625.90" y1="122.40" x2="625.90" y2="126.00" stroke="#222" stroke-width="1.3"/>
<line x1="623.30" y1="122.40" x2="628.50" y2="122.40" stroke="#222" stroke-width="1.3"/>
<rect x="620.60" y="126.00" width="10.60" height="40.80" fill="#7ea34a" stroke="#222" stroke-width="1.3"/>
<line x1="625.90" y1="166.80" x2="625.90" y2="170.40" stroke="#222" stroke-width="1.3"/>
<line x1="640.90" y1="112.40" x2="640.90" y2="116.40" stroke="#222" stroke-width="1.3"/>
<line x1="638.30" y1="112.40" x2="643.50" y2="112.40" stroke="#222" stroke-width="1.3"/>
<rect x="635.60" y="116.40" width="10.60" height="50.40" fill="#d08c8e" stroke="#222" stroke-width="1.3"/>
<line x1="640.90" y1="166.80" x2="640.90" y2="170.40" stroke="#222" stroke-width="1.3"/>
<line x1="656.10" y1="66.60" x2="656.10" y2="71.00" stroke="#222" stroke-width="1.3"/>
<line x1="653.50" y1="66.60" x2="658.70" y2="66.60" stroke="#222" stroke-width="1.3"/>
<rect x="650.80" y="71.00" width="10.60" height="95.80" fill="#f6994a" stroke="#222" stroke-width="1.3"/>
<line x1="656.10" y1="166.80" x2="656.10" y2="170.40" stroke="#222" stroke-width="1.3"/>
<line x1="671.20" y1="87.40" x2="671.20" y2="93.20" stroke="#222" stroke-width="1.3"/>
<line x1="668.60" y1="87.40" x2="673.80" y2="87.40" stroke="#222" stroke-width="1.3"/>
<rect x="666.00" y="93.20" width="10.40" height="73.60" fill="#3a95ac" stroke="#222" stroke-width="1.3"/>
<line x1="671.20" y1="166.80" x2="671.20" y2="170.40" stroke="#222" stroke-width="1.3"/>
<text x="548.50" y="107.50" font-size="11" text-anchor="middle" fill="#1e1e1e" transform="rotate(-90 548.50 107.50)">Relative level of H<tspan font-size="7.48" dy="2.2">2</tspan><tspan dy="-2.2">O</tspan><tspan font-size="7.48" dy="2.2">2</tspan></text>
<line x1="607.60" y1="80.40" x2="622.00" y2="80.40" stroke="#8a8a8a" stroke-width="1.2"/>
<text x="615.00" y="77.60" font-size="8.5" text-anchor="middle" fill="#333">ns</text>
<line x1="606.60" y1="65.20" x2="638.00" y2="65.20" stroke="#8a8a8a" stroke-width="1.2"/>
<text x="622.30" y="64.50" font-size="8.5" text-anchor="middle" fill="#333">*</text>
<line x1="624.60" y1="42.60" x2="655.60" y2="42.60" stroke="#8a8a8a" stroke-width="1.2"/>
<text x="640.10" y="39.50" font-size="8.5" text-anchor="middle" fill="#333">****</text>
<line x1="640.00" y1="54.40" x2="654.40" y2="54.40" stroke="#8a8a8a" stroke-width="1.2"/>
<text x="647.40" y="52.80" font-size="8.5" text-anchor="middle" fill="#333">***</text>
<line x1="659.00" y1="54.40" x2="673.00" y2="54.40" stroke="#8a8a8a" stroke-width="1.2"/>
<text x="666.20" y="52.80" font-size="8.5" text-anchor="middle" fill="#333">**</text>
<text x="611.09" y="178.18" font-size="11" text-anchor="end" fill="#1e1e1e" transform="rotate(-29 611.09 178.18)">Vector+PBS</text>
<text x="630.09" y="177.08" font-size="11" text-anchor="end" fill="#1e1e1e" transform="rotate(-29 630.09 177.08)">Vector+Spermidine</text>
<text x="646.99" y="178.58" font-size="11" text-anchor="end" fill="#1e1e1e" transform="rotate(-29 646.99 178.58)">AOC1+PBS</text>
<text x="666.09" y="177.48" font-size="11" text-anchor="end" fill="#1e1e1e" transform="rotate(-29 666.09 177.48)">AOC1+Spermidine</text>
<text x="685.19" y="176.78" font-size="11" text-anchor="end" fill="#1e1e1e" transform="rotate(-29 685.19 176.78)">AOC1+Spermidine+GSH</text>
<defs><filter id="gb" x="-5%" y="-5%" width="110%" height="110%"><feGaussianBlur stdDeviation="0.35"/></filter><filter id="pb" x="-5%" y="-5%" width="110%" height="110%"><feGaussianBlur stdDeviation="0.3"/></filter></defs>
<text x="28.30" y="319.20" font-size="16.8" text-anchor="start" fill="#111" style="stroke-width:0.9px;stroke:#111">c</text>
<line x1="12.40" y1="367.00" x2="12.40" y2="469.20" stroke="#444" stroke-width="1.2"/>
<line x1="12.40" y1="475.40" x2="12.40" y2="577.60" stroke="#444" stroke-width="1.2"/>
<text x="8.90" y="421.00" font-size="12" text-anchor="middle" fill="#111" transform="rotate(-90 8.90 421.00)" style="stroke-width:0.6px">22Rv1</text>
<text x="8.90" y="526.30" font-size="12" text-anchor="middle" fill="#111" transform="rotate(-90 8.90 526.30)" style="stroke-width:0.6px">DU145</text>
<text x="58.40" y="393.00" font-size="11" text-anchor="end" fill="#1e1e1e">ROS</text>
<text x="58.40" y="504.40" font-size="11" text-anchor="end" fill="#1e1e1e">ROS</text>
<text x="39.90" y="440.60" font-size="11" text-anchor="middle" fill="#1e1e1e">Phase</text>
<text x="58.60" y="453.60" font-size="11" text-anchor="end" fill="#1e1e1e">Contrast</text>
<text x="39.90" y="545.80" font-size="11" text-anchor="middle" fill="#1e1e1e">Phase</text>
<text x="58.60" y="559.40" font-size="11" text-anchor="end" fill="#1e1e1e">Contrast</text>
<clipPath id="clip11"><rect x="65.00" y="365.60" width="68.30" height="51.00"/></clipPath>
<rect x="65.00" y="365.60" width="68.30" height="51.00" fill="#010301"/>
<g clip-path="url(#clip11)"><g filter="url(#gb)">
<path d="M95.9,393.2A1.0,0.8,91,1,0,95.9,395.1A1.0,0.8,91,1,0,95.9,393.2ZM105.7,374.6A0.8,0.6,143,1,0,104.5,375.5A0.8,0.6,143,1,0,105.7,374.6ZM71.7,380.6A0.5,0.5,125,1,0,71.1,381.5A0.5,0.5,125,1,0,71.7,380.6ZM68.2,414.8A1.0,0.8,111,1,0,67.5,416.6A1.0,0.8,111,1,0,68.2,414.8ZM75.1,365.9A0.8,0.5,34,1,0,76.4,366.8A0.8,0.5,34,1,0,75.1,365.9ZM82.2,366.8A0.7,0.6,152,1,0,80.9,367.5A0.7,0.6,152,1,0,82.2,366.8ZM100.4,397.5A0.7,0.6,82,1,0,100.6,399.0A0.7,0.6,82,1,0,100.4,397.5ZM84.6,415.7A1.0,0.9,127,1,0,83.4,417.3A1.0,0.9,127,1,0,84.6,415.7ZM87.0,376.9A0.6,0.4,138,1,0,86.1,377.7A0.6,0.4,138,1,0,87.0,376.9ZM93.0,408.5A0.7,0.7,153,1,0,91.7,409.1A0.7,0.7,153,1,0,93.0,408.5ZM66.0,376.2A1.0,0.8,176,1,0,64.1,376.4A1.0,0.8,176,1,0,66.0,376.2ZM91.6,368.7A0.8,0.7,49,1,0,92.7,369.9A0.8,0.7,49,1,0,91.6,368.7ZM70.0,382.2A1.0,0.9,21,1,0,71.9,382.9A1.0,0.9,21,1,0,70.0,382.2ZM81.4,370.5A0.5,0.5,32,1,0,82.3,371.0A0.5,0.5,32,1,0,81.4,370.5ZM102.7,388.2A0.6,0.5,24,1,0,103.7,388.7A0.6,0.5,24,1,0,102.7,388.2ZM108.5,371.0A0.7,0.5,49,1,0,109.4,372.1A0.7,0.5,49,1,0,108.5,371.0ZM130.8,406.2A0.7,0.6,38,1,0,131.8,407.0A0.7,0.6,38,1,0,130.8,406.2ZM92.7,409.1A0.8,0.5,178,1,0,91.1,409.2A0.8,0.5,178,1,0,92.7,409.1ZM79.0,378.1A0.9,0.6,53,1,0,80.1,379.5A0.9,0.6,53,1,0,79.0,378.1ZM70.3,369.4A0.8,0.6,108,1,0,69.8,370.9A0.8,0.6,108,1,0,70.3,369.4ZM90.6,387.8A1.0,0.8,103,1,0,90.2,389.7A1.0,0.8,103,1,0,90.6,387.8ZM124.7,374.6A0.6,0.6,147,1,0,123.7,375.2A0.6,0.6,147,1,0,124.7,374.6ZM81.3,374.8A0.9,0.8,35,1,0,82.7,375.8A0.9,0.8,35,1,0,81.3,374.8ZM129.1,410.3A0.8,0.6,19,1,0,130.7,410.8A0.8,0.6,19,1,0,129.1,410.3ZM67.2,414.2A0.6,0.5,46,1,0,68.1,415.1A0.6,0.5,46,1,0,67.2,414.2ZM121.7,395.5A0.6,0.4,130,1,0,120.8,396.5A0.6,0.4,130,1,0,121.7,395.5ZM70.0,376.5A0.8,0.7,111,1,0,69.4,378.0A0.8,0.7,111,1,0,70.0,376.5ZM83.7,411.9A0.6,0.4,48,1,0,84.5,412.8A0.6,0.4,48,1,0,83.7,411.9ZM95.6,368.1A0.6,0.4,103,1,0,95.3,369.3A0.6,0.4,103,1,0,95.6,368.1ZM74.4,383.2A0.9,0.9,118,1,0,73.5,384.9A0.9,0.9,118,1,0,74.4,383.2Z" fill="#0d3a0b"/>
<path d="M105.4,372.6A0.5,0.4,164,1,0,104.4,372.9A0.5,0.4,164,1,0,105.4,372.6ZM91.9,382.5A0.5,0.4,5,1,0,92.9,382.6A0.5,0.4,5,1,0,91.9,382.5ZM101.3,375.9A0.5,0.3,151,1,0,100.4,376.4A0.5,0.3,151,1,0,101.3,375.9ZM105.1,382.9A0.3,0.1,110,1,0,104.9,383.4A0.3,0.1,110,1,0,105.1,382.9ZM103.9,383.1A0.3,0.2,43,1,0,104.4,383.5A0.3,0.2,43,1,0,103.9,383.1ZM109.7,386.6A0.4,0.4,153,1,0,108.9,387.0A0.4,0.4,153,1,0,109.7,386.6ZM95.4,387.4A0.9,0.6,168,1,0,93.7,387.8A0.9,0.6,168,1,0,95.4,387.4ZM132.5,392.8A0.8,0.6,164,1,0,131.0,393.2A0.8,0.6,164,1,0,132.5,392.8Z" fill="#127a10"/>
<path d="M92.2,381.9A0.6,0.4,14,1,0,93.4,382.2A0.6,0.4,14,1,0,92.2,381.9ZM93.9,382.1A0.5,0.4,165,1,0,93.0,382.3A0.5,0.4,165,1,0,93.9,382.1ZM99.6,376.5A0.7,0.5,14,1,0,101.0,376.8A0.7,0.5,14,1,0,99.6,376.5ZM104.2,383.2A0.5,0.4,20,1,0,105.2,383.5A0.5,0.4,20,1,0,104.2,383.2ZM109.5,386.8A0.8,0.5,158,1,0,108.0,387.4A0.8,0.5,158,1,0,109.5,386.8ZM108.5,385.6A0.5,0.3,85,1,0,108.6,386.6A0.5,0.3,85,1,0,108.5,385.6ZM122.2,384.6A0.7,0.6,129,1,0,121.3,385.7A0.7,0.6,129,1,0,122.2,384.6ZM121.1,385.0A0.4,0.3,51,1,0,121.5,385.5A0.4,0.3,51,1,0,121.1,385.0ZM120.9,385.4A0.5,0.3,34,1,0,121.7,385.9A0.5,0.3,34,1,0,120.9,385.4ZM82.4,405.1A0.8,0.4,21,1,0,84.0,405.6A0.8,0.4,21,1,0,82.4,405.1ZM82.6,403.9A0.7,0.4,86,1,0,82.8,405.3A0.7,0.4,86,1,0,82.6,403.9ZM83.1,405.4A0.5,0.3,49,1,0,83.8,406.2A0.5,0.3,49,1,0,83.1,405.4ZM93.9,371.1A0.7,0.5,158,1,0,92.7,371.6A0.7,0.5,158,1,0,93.9,371.1ZM93.0,371.4A0.4,0.2,162,1,0,92.3,371.6A0.4,0.2,162,1,0,93.0,371.4Z" fill="#1eb41a"/>
<path d="M131.2,392.5A0.5,0.4,88,1,0,131.3,393.5A0.5,0.4,88,1,0,131.2,392.5Z" fill="#0a3a08"/>
</g></g>
<clipPath id="clip21"><rect x="65.00" y="473.00" width="68.30" height="51.00"/></clipPath>
<rect x="65.00" y="473.00" width="68.30" height="51.00" fill="#010301"/>
<g clip-path="url(#clip21)"><g filter="url(#gb)">
<path d="M75.6,507.7A0.8,0.6,39,1,0,76.9,508.7A0.8,0.6,39,1,0,75.6,507.7ZM118.6,513.7A0.8,0.6,42,1,0,119.7,514.7A0.8,0.6,42,1,0,118.6,513.7ZM65.8,491.4A0.8,0.5,143,1,0,64.6,492.4A0.8,0.5,143,1,0,65.8,491.4ZM81.2,484.5A0.5,0.5,133,1,0,80.5,485.2A0.5,0.5,133,1,0,81.2,484.5ZM124.8,503.9A0.5,0.4,90,1,0,124.8,504.9A0.5,0.4,90,1,0,124.8,503.9ZM73.5,521.2A0.7,0.5,147,1,0,72.3,521.9A0.7,0.5,147,1,0,73.5,521.2ZM73.2,519.7A0.7,0.6,62,1,0,73.9,521.0A0.7,0.6,62,1,0,73.2,519.7ZM97.7,482.2A0.5,0.5,42,1,0,98.5,482.9A0.5,0.5,42,1,0,97.7,482.2ZM119.0,483.0A1.0,0.9,136,1,0,117.6,484.3A1.0,0.9,136,1,0,119.0,483.0ZM117.0,501.8A0.9,0.6,86,1,0,117.2,503.5A0.9,0.6,86,1,0,117.0,501.8ZM121.2,482.3A1.0,0.9,74,1,0,121.8,484.2A1.0,0.9,74,1,0,121.2,482.3ZM89.7,495.4A0.7,0.7,70,1,0,90.2,496.7A0.7,0.7,70,1,0,89.7,495.4ZM66.8,476.9A0.9,0.9,89,1,0,66.8,478.6A0.9,0.9,89,1,0,66.8,476.9ZM98.9,500.2A0.9,0.6,110,1,0,98.3,501.9A0.9,0.6,110,1,0,98.9,500.2ZM102.7,504.2A0.6,0.4,63,1,0,103.3,505.3A0.6,0.4,63,1,0,102.7,504.2ZM127.6,490.4A0.8,0.6,19,1,0,129.1,490.9A0.8,0.6,19,1,0,127.6,490.4ZM70.0,513.8A0.9,0.7,123,1,0,69.0,515.2A0.9,0.7,123,1,0,70.0,513.8ZM112.1,518.8A1.0,0.7,178,1,0,110.2,518.9A1.0,0.7,178,1,0,112.1,518.8ZM130.3,502.2A0.9,0.7,68,1,0,131.0,504.0A0.9,0.7,68,1,0,130.3,502.2ZM82.4,517.3A0.6,0.4,145,1,0,81.4,518.0A0.6,0.4,145,1,0,82.4,517.3ZM117.2,497.0A0.9,0.6,46,1,0,118.5,498.3A0.9,0.6,46,1,0,117.2,497.0ZM84.5,493.9A0.6,0.4,61,1,0,85.1,494.9A0.6,0.4,61,1,0,84.5,493.9ZM125.8,522.5A0.9,0.7,45,1,0,127.0,523.8A0.9,0.7,45,1,0,125.8,522.5ZM129.8,499.3A0.9,0.5,38,1,0,131.2,500.3A0.9,0.5,38,1,0,129.8,499.3ZM122.0,512.6A0.9,0.8,77,1,0,122.5,514.5A0.9,0.8,77,1,0,122.0,512.6Z" fill="#0d3a0b"/>
<path d="M104.1,515.7A0.9,0.6,50,1,0,105.2,517.0A0.9,0.6,50,1,0,104.1,515.7ZM86.1,520.2A0.9,0.5,112,1,0,85.4,521.9A0.9,0.5,112,1,0,86.1,520.2ZM85.4,521.9A0.7,0.6,1,1,0,86.7,522.0A0.7,0.6,1,1,0,85.4,521.9ZM130.9,490.8A0.9,0.4,19,1,0,132.5,491.4A0.9,0.4,19,1,0,130.9,490.8Z" fill="#3cf038"/>
<path d="M90.6,478.5A1.1,0.6,59,1,0,91.7,480.3A1.1,0.6,59,1,0,90.6,478.5ZM90.2,480.1A0.9,0.5,17,1,0,91.9,480.6A0.9,0.5,17,1,0,90.2,480.1ZM72.3,473.9A0.9,0.7,156,1,0,70.6,474.7A0.9,0.7,156,1,0,72.3,473.9ZM97.4,475.4A1.1,0.6,128,1,0,96.0,477.1A1.1,0.6,128,1,0,97.4,475.4ZM98.8,501.3A1.0,0.6,107,1,0,98.2,503.2A1.0,0.6,107,1,0,98.8,501.3ZM98.8,502.7A0.7,0.4,147,1,0,97.6,503.5A0.7,0.4,147,1,0,98.8,502.7Z" fill="#2ce028"/>
<path d="M97.2,475.1A0.6,0.5,145,1,0,96.2,475.8A0.6,0.5,145,1,0,97.2,475.1Z" fill="#1eb41a"/>
</g></g>
<clipPath id="clip31"><rect x="65.00" y="419.60" width="68.30" height="51.20"/></clipPath>
<rect x="65.00" y="419.60" width="68.30" height="51.20" fill="#878b93"/>
<g clip-path="url(#clip31)"><g filter="url(#pb)">
<path d="M134.4,424.1A1.4,1.1,169,1,0,131.7,424.6A1.4,1.1,169,1,0,134.4,424.1ZM118.6,425.3A1.5,1.4,32,1,0,121.2,427.0A1.5,1.4,32,1,0,118.6,425.3ZM117.2,447.8A1.8,1.4,18,1,0,120.6,448.9A1.8,1.4,18,1,0,117.2,447.8ZM81.7,441.0A1.5,1.3,10,1,0,84.7,441.5A1.5,1.3,10,1,0,81.7,441.0ZM98.9,460.4A1.6,1.4,88,1,0,99.0,463.7A1.6,1.4,88,1,0,98.9,460.4ZM61.5,428.7A1.2,1.1,8,1,0,63.9,429.1A1.2,1.1,8,1,0,61.5,428.7ZM99.1,455.1A1.2,1.1,41,1,0,101.0,456.7A1.2,1.1,41,1,0,99.1,455.1ZM100.0,442.2A1.6,1.6,141,1,0,97.5,444.2A1.6,1.6,141,1,0,100.0,442.2ZM114.5,425.7A1.7,1.6,174,1,0,111.1,426.0A1.7,1.6,174,1,0,114.5,425.7ZM121.0,468.9A1.3,1.3,49,1,0,122.7,470.8A1.3,1.3,49,1,0,121.0,468.9ZM67.2,429.8A1.7,1.5,109,1,0,66.1,433.0A1.7,1.5,109,1,0,67.2,429.8ZM63.1,416.5A1.4,1.2,163,1,0,60.3,417.3A1.4,1.2,163,1,0,63.1,416.5ZM82.8,423.7A1.6,1.5,59,1,0,84.5,426.5A1.6,1.5,59,1,0,82.8,423.7ZM69.2,443.6A1.6,1.5,49,1,0,71.3,446.1A1.6,1.5,49,1,0,69.2,443.6ZM113.3,417.2A1.2,1.1,30,1,0,115.3,418.4A1.2,1.1,30,1,0,113.3,417.2ZM96.3,464.0A1.2,1.2,135,1,0,94.6,465.6A1.2,1.2,135,1,0,96.3,464.0ZM129.3,445.2A1.3,1.0,43,1,0,131.2,446.9A1.3,1.0,43,1,0,129.3,445.2ZM109.7,419.7A1.7,1.5,17,1,0,112.9,420.7A1.7,1.5,17,1,0,109.7,419.7ZM87.6,454.7A1.5,1.3,11,1,0,90.5,455.3A1.5,1.3,11,1,0,87.6,454.7ZM103.4,458.0A1.5,1.5,127,1,0,101.6,460.4A1.5,1.5,127,1,0,103.4,458.0ZM66.8,416.4A1.7,1.3,154,1,0,63.8,417.9A1.7,1.3,154,1,0,66.8,416.4ZM106.9,433.9A1.7,1.6,18,1,0,110.1,434.9A1.7,1.6,18,1,0,106.9,433.9ZM92.3,458.7A1.8,1.5,93,1,0,92.1,462.3A1.8,1.5,93,1,0,92.3,458.7ZM59.3,429.4A1.2,0.9,7,1,0,61.6,429.7A1.2,0.9,7,1,0,59.3,429.4ZM129.2,436.7A1.7,1.4,129,1,0,127.0,439.3A1.7,1.4,129,1,0,129.2,436.7ZM61.5,421.9A1.6,1.5,3,1,0,64.7,422.1A1.6,1.5,3,1,0,61.5,421.9ZM125.2,433.1A1.4,1.2,41,1,0,127.4,434.9A1.4,1.2,41,1,0,125.2,433.1ZM130.4,433.6A1.3,1.2,172,1,0,127.9,434.0A1.3,1.2,172,1,0,130.4,433.6ZM93.1,434.5A1.6,1.6,92,1,0,93.0,437.7A1.6,1.6,92,1,0,93.1,434.5ZM117.6,443.7A1.1,1.0,100,1,0,117.2,445.8A1.1,1.0,100,1,0,117.6,443.7ZM71.1,424.2A1.5,1.2,8,1,0,74.1,424.6A1.5,1.2,8,1,0,71.1,424.2ZM101.7,463.3A1.6,1.3,85,1,0,102.0,466.4A1.6,1.3,85,1,0,101.7,463.3ZM95.8,458.4A1.7,1.3,102,1,0,95.1,461.7A1.7,1.3,102,1,0,95.8,458.4ZM128.0,444.3A1.2,0.9,101,1,0,127.5,446.7A1.2,0.9,101,1,0,128.0,444.3ZM79.9,434.6A1.4,1.2,113,1,0,78.8,437.1A1.4,1.2,113,1,0,79.9,434.6ZM123.2,420.1A1.6,1.3,64,1,0,124.7,423.0A1.6,1.3,64,1,0,123.2,420.1ZM83.0,466.6A1.5,1.5,106,1,0,82.1,469.5A1.5,1.5,106,1,0,83.0,466.6ZM76.4,452.8A1.4,1.2,164,1,0,73.7,453.6A1.4,1.2,164,1,0,76.4,452.8ZM112.6,440.0A1.5,1.2,177,1,0,109.7,440.1A1.5,1.2,177,1,0,112.6,440.0ZM130.4,433.2A1.1,1.0,83,1,0,130.7,435.4A1.1,1.0,83,1,0,130.4,433.2ZM77.0,434.1A1.2,0.9,19,1,0,79.3,434.8A1.2,0.9,19,1,0,77.0,434.1ZM100.3,442.1A1.7,1.6,6,1,0,103.8,442.4A1.7,1.6,6,1,0,100.3,442.1ZM75.5,446.9A1.3,1.2,179,1,0,73.0,446.9A1.3,1.2,179,1,0,75.5,446.9ZM67.4,432.8A1.3,1.2,33,1,0,69.7,434.3A1.3,1.2,33,1,0,67.4,432.8ZM68.9,456.8A1.1,0.9,128,1,0,67.5,458.6A1.1,0.9,128,1,0,68.9,456.8ZM125.9,422.0A1.2,1.1,165,1,0,123.6,422.6A1.2,1.1,165,1,0,125.9,422.0ZM132.5,453.1A1.4,1.2,83,1,0,132.9,455.8A1.4,1.2,83,1,0,132.5,453.1ZM102.4,447.2A1.7,1.5,127,1,0,100.3,450.0A1.7,1.5,127,1,0,102.4,447.2ZM131.1,467.3A1.4,1.1,177,1,0,128.3,467.5A1.4,1.1,177,1,0,131.1,467.3ZM98.8,446.1A1.5,1.2,74,1,0,99.6,448.9A1.5,1.2,74,1,0,98.8,446.1ZM106.2,462.3A1.3,1.2,34,1,0,108.4,463.8A1.3,1.2,34,1,0,106.2,462.3ZM75.5,460.5A1.5,1.2,131,1,0,73.5,462.8A1.5,1.2,131,1,0,75.5,460.5ZM76.2,468.1A1.5,1.2,96,1,0,75.9,471.1A1.5,1.2,96,1,0,76.2,468.1ZM95.4,465.0A1.5,1.4,149,1,0,92.8,466.6A1.5,1.4,149,1,0,95.4,465.0ZM82.1,438.1A1.6,1.6,127,1,0,80.2,440.6A1.6,1.6,127,1,0,82.1,438.1ZM89.4,424.2A1.6,1.2,107,1,0,88.4,427.3A1.6,1.2,107,1,0,89.4,424.2ZM80.9,456.2A1.4,1.2,7,1,0,83.7,456.5A1.4,1.2,7,1,0,80.9,456.2ZM128.5,462.2A1.2,1.1,149,1,0,126.5,463.4A1.2,1.1,149,1,0,128.5,462.2Z" fill="#948c80" stroke="#f0cc98" stroke-width="0.85"/>
<path d="M70.8,421.6A1.1,0.9,75,1,0,71.4,423.8A1.1,0.9,75,1,0,70.8,421.6ZM110.1,430.1A0.9,0.8,131,1,0,108.9,431.5A0.9,0.8,131,1,0,110.1,430.1ZM65.4,429.3A1.1,1.0,87,1,0,65.5,431.6A1.1,1.0,87,1,0,65.4,429.3ZM133.0,444.2A1.0,1.0,154,1,0,131.1,445.2A1.0,1.0,154,1,0,133.0,444.2ZM86.1,440.5A0.9,0.9,97,1,0,85.9,442.3A0.9,0.9,97,1,0,86.1,440.5ZM122.4,421.0A0.9,0.8,161,1,0,120.6,421.6A0.9,0.8,161,1,0,122.4,421.0ZM95.7,452.2A0.8,0.7,75,1,0,96.1,453.8A0.8,0.7,75,1,0,95.7,452.2ZM128.9,432.0A0.9,0.9,72,1,0,129.5,433.8A0.9,0.9,72,1,0,128.9,432.0ZM118.2,435.2A0.9,0.9,168,1,0,116.4,435.6A0.9,0.9,168,1,0,118.2,435.2ZM65.8,464.8A0.9,0.7,36,1,0,67.2,465.8A0.9,0.7,36,1,0,65.8,464.8ZM83.3,446.3A1.0,0.8,148,1,0,81.6,447.4A1.0,0.8,148,1,0,83.3,446.3ZM101.9,449.1A1.1,1.0,47,1,0,103.4,450.7A1.1,1.0,47,1,0,101.9,449.1ZM73.4,457.1A1.0,0.9,144,1,0,71.7,458.3A1.0,0.9,144,1,0,73.4,457.1ZM66.6,437.8A1.0,0.9,130,1,0,65.2,439.4A1.0,0.9,130,1,0,66.6,437.8ZM106.9,431.2A0.8,0.7,177,1,0,105.3,431.3A0.8,0.7,177,1,0,106.9,431.2ZM122.5,460.7A1.3,1.2,149,1,0,120.2,462.0A1.3,1.2,149,1,0,122.5,460.7ZM107.7,437.6A1.1,0.9,87,1,0,107.8,439.8A1.1,0.9,87,1,0,107.7,437.6ZM100.8,449.2A1.0,0.9,36,1,0,102.4,450.3A1.0,0.9,36,1,0,100.8,449.2ZM85.4,426.0A0.9,0.9,72,1,0,86.0,427.8A0.9,0.9,72,1,0,85.4,426.0ZM83.5,426.4A1.2,1.1,160,1,0,81.2,427.3A1.2,1.1,160,1,0,83.5,426.4ZM78.3,441.9A1.2,1.0,13,1,0,80.6,442.4A1.2,1.0,13,1,0,78.3,441.9ZM90.0,467.2A1.2,0.9,71,1,0,90.8,469.4A1.2,0.9,71,1,0,90.0,467.2ZM95.2,445.1A1.1,1.0,122,1,0,94.1,446.9A1.1,1.0,122,1,0,95.2,445.1ZM63.7,412.8A1.0,0.9,18,1,0,65.5,413.4A1.0,0.9,18,1,0,63.7,412.8ZM75.9,450.2A1.1,1.0,135,1,0,74.4,451.8A1.1,1.0,135,1,0,75.9,450.2ZM122.2,427.5A1.2,1.1,30,1,0,124.4,428.8A1.2,1.1,30,1,0,122.2,427.5ZM88.1,457.8A1.0,1.0,4,1,0,90.2,458.0A1.0,1.0,4,1,0,88.1,457.8ZM71.2,421.6A1.1,1.0,149,1,0,69.2,422.8A1.1,1.0,149,1,0,71.2,421.6ZM71.2,469.6A1.1,1.1,166,1,0,69.0,470.2A1.1,1.1,166,1,0,71.2,469.6ZM113.1,457.0A1.0,1.0,68,1,0,113.8,459.0A1.0,1.0,68,1,0,113.1,457.0ZM105.9,431.9A1.1,1.0,174,1,0,103.8,432.1A1.1,1.0,174,1,0,105.9,431.9ZM66.3,458.7A0.9,0.8,153,1,0,64.7,459.5A0.9,0.8,153,1,0,66.3,458.7Z" fill="#faeed8" stroke="#ecc08a" stroke-width="0.6"/>
<path d="M91.2,457.8A1.6,1.3,178,1,0,87.9,457.9A1.6,1.3,178,1,0,91.2,457.8ZM72.1,427.3A2.3,1.3,108,1,0,70.7,431.7A2.3,1.3,108,1,0,72.1,427.3ZM125.5,451.7A2.1,1.7,35,1,0,128.8,454.0A2.1,1.7,35,1,0,125.5,451.7ZM84.5,449.5A2.3,1.7,156,1,0,80.3,451.4A2.3,1.7,156,1,0,84.5,449.5ZM102.7,427.4A2.0,1.2,21,1,0,106.5,428.8A2.0,1.2,21,1,0,102.7,427.4ZM89.2,438.5A1.8,1.1,69,1,0,90.5,441.8A1.8,1.1,69,1,0,89.2,438.5ZM66.5,447.1A2.4,1.7,43,1,0,70.1,450.5A2.4,1.7,43,1,0,66.5,447.1ZM90.2,435.4A2.0,1.2,23,1,0,93.9,436.9A2.0,1.2,23,1,0,90.2,435.4ZM124.0,460.3A2.5,2.0,21,1,0,128.6,462.1A2.5,2.0,21,1,0,124.0,460.3ZM100.9,462.2A1.7,1.3,47,1,0,103.2,464.6A1.7,1.3,47,1,0,100.9,462.2ZM86.8,455.1A1.7,1.2,157,1,0,83.6,456.5A1.7,1.2,157,1,0,86.8,455.1ZM122.9,454.1A1.8,1.6,59,1,0,124.8,457.3A1.8,1.6,59,1,0,122.9,454.1ZM83.7,455.1A2.1,1.2,50,1,0,86.3,458.2A2.1,1.2,50,1,0,83.7,455.1ZM89.7,453.8A2.3,1.7,23,1,0,93.8,455.6A2.3,1.7,23,1,0,89.7,453.8ZM67.0,429.6A1.6,1.1,155,1,0,64.1,430.9A1.6,1.1,155,1,0,67.0,429.6ZM104.4,422.0A2.3,1.9,84,1,0,104.9,426.5A2.3,1.9,84,1,0,104.4,422.0ZM77.3,435.1A2.0,1.7,109,1,0,76.0,438.9A2.0,1.7,109,1,0,77.3,435.1ZM64.0,419.0A2.2,1.3,8,1,0,68.3,419.6A2.2,1.3,8,1,0,64.0,419.0ZM75.5,456.6A2.4,2.1,58,1,0,78.1,460.6A2.4,2.1,58,1,0,75.5,456.6ZM101.0,431.0A1.8,1.2,9,1,0,104.4,431.5A1.8,1.2,9,1,0,101.0,431.0ZM74.9,450.3A2.2,1.9,9,1,0,79.3,451.0A2.2,1.9,9,1,0,74.9,450.3ZM108.1,460.3A2.5,2.2,49,1,0,111.5,464.1A2.5,2.2,49,1,0,108.1,460.3ZM104.3,432.4A2.5,2.1,46,1,0,107.8,435.9A2.5,2.1,46,1,0,104.3,432.4ZM73.1,430.7A1.6,1.4,63,1,0,74.6,433.6A1.6,1.4,63,1,0,73.1,430.7ZM83.9,459.4A1.6,1.2,71,1,0,84.9,462.5A1.6,1.2,71,1,0,83.9,459.4Z" fill="#7a7e86" stroke="#cfcbc2" stroke-width="0.6"/>
</g></g>
<clipPath id="clip41"><rect x="65.00" y="526.40" width="68.30" height="50.80"/></clipPath>
<rect x="65.00" y="526.40" width="68.30" height="50.80" fill="#92959b"/>
<g clip-path="url(#clip41)"><g filter="url(#pb)">
<path d="M93.1,537.5A2.2,1.3,164,1,0,88.9,538.7A2.2,1.3,164,1,0,93.1,537.5ZM103.4,543.5A2.4,1.5,104,1,0,102.2,548.3A2.4,1.5,104,1,0,103.4,543.5ZM120.2,547.6A2.4,1.1,27,1,0,124.4,549.8A2.4,1.1,27,1,0,120.2,547.6ZM110.9,557.0A1.5,1.0,141,1,0,108.5,558.9A1.5,1.0,141,1,0,110.9,557.0ZM123.5,536.1A1.7,1.0,132,1,0,121.3,538.6A1.7,1.0,132,1,0,123.5,536.1ZM75.0,572.7A1.6,0.8,176,1,0,71.9,572.9A1.6,0.8,176,1,0,75.0,572.7ZM109.7,556.4A2.5,1.2,160,1,0,105.0,558.2A2.5,1.2,160,1,0,109.7,556.4ZM76.0,558.5A2.1,1.1,119,1,0,73.9,562.1A2.1,1.1,119,1,0,76.0,558.5ZM67.8,531.7A2.0,1.3,131,1,0,65.2,534.8A2.0,1.3,131,1,0,67.8,531.7ZM101.0,569.7A1.7,0.7,58,1,0,102.8,572.5A1.7,0.7,58,1,0,101.0,569.7ZM75.3,570.0A2.2,1.2,135,1,0,72.1,573.1A2.2,1.2,135,1,0,75.3,570.0ZM122.5,572.9A2.4,1.4,79,1,0,123.4,577.6A2.4,1.4,79,1,0,122.5,572.9ZM85.8,571.5A2.0,1.3,166,1,0,82.0,572.4A2.0,1.3,166,1,0,85.8,571.5ZM115.0,562.8A1.5,0.7,30,1,0,117.6,564.3A1.5,0.7,30,1,0,115.0,562.8ZM110.9,528.0A1.7,0.8,102,1,0,110.2,531.3A1.7,0.8,102,1,0,110.9,528.0ZM82.8,560.7A2.2,1.4,180,1,0,78.4,560.8A2.2,1.4,180,1,0,82.8,560.7ZM105.4,572.0A2.3,1.0,92,1,0,105.2,576.5A2.3,1.0,92,1,0,105.4,572.0ZM114.8,564.0A2.2,1.1,92,1,0,114.6,568.4A2.2,1.1,92,1,0,114.8,564.0ZM84.2,565.5A2.1,1.2,43,1,0,87.2,568.3A2.1,1.2,43,1,0,84.2,565.5ZM78.9,535.2A2.1,1.4,13,1,0,83.0,536.1A2.1,1.4,13,1,0,78.9,535.2ZM68.4,563.9A1.9,1.0,145,1,0,65.3,566.1A1.9,1.0,145,1,0,68.4,563.9ZM78.7,569.7A2.1,0.9,157,1,0,74.8,571.3A2.1,0.9,157,1,0,78.7,569.7ZM111.3,552.4A1.8,0.7,148,1,0,108.2,554.3A1.8,0.7,148,1,0,111.3,552.4ZM115.6,562.2A2.1,1.2,34,1,0,119.1,564.5A2.1,1.2,34,1,0,115.6,562.2ZM113.2,549.9A1.7,0.8,130,1,0,111.0,552.6A1.7,0.8,130,1,0,113.2,549.9ZM111.3,531.3A2.5,1.8,12,1,0,116.2,532.3A2.5,1.8,12,1,0,111.3,531.3ZM112.0,563.7A1.6,0.8,143,1,0,109.5,565.6A1.6,0.8,143,1,0,112.0,563.7ZM87.6,569.5A1.6,1.0,29,1,0,90.4,571.1A1.6,1.0,29,1,0,87.6,569.5ZM88.1,571.4A1.7,1.2,151,1,0,85.0,573.1A1.7,1.2,151,1,0,88.1,571.4ZM134.0,570.2A2.6,1.8,161,1,0,129.0,571.9A2.6,1.8,161,1,0,134.0,570.2ZM128.4,549.7A2.1,1.0,160,1,0,124.5,551.1A2.1,1.0,160,1,0,128.4,549.7ZM113.3,551.3A2.6,1.2,125,1,0,110.4,555.6A2.6,1.2,125,1,0,113.3,551.3ZM118.6,563.4A2.3,1.1,35,1,0,122.4,566.0A2.3,1.1,35,1,0,118.6,563.4ZM79.7,569.0A2.5,1.8,17,1,0,84.5,570.5A2.5,1.8,17,1,0,79.7,569.0ZM86.9,545.9A1.5,0.9,136,1,0,84.8,548.0A1.5,0.9,136,1,0,86.9,545.9ZM83.0,573.2A2.0,1.2,170,1,0,79.0,574.0A2.0,1.2,170,1,0,83.0,573.2ZM66.9,535.1A1.7,0.9,66,1,0,68.3,538.3A1.7,0.9,66,1,0,66.9,535.1ZM112.3,558.0A2.6,1.7,15,1,0,117.2,559.3A2.6,1.7,15,1,0,112.3,558.0ZM84.0,526.6A1.6,1.1,111,1,0,82.9,529.6A1.6,1.1,111,1,0,84.0,526.6ZM126.0,568.4A2.1,1.1,69,1,0,127.4,572.3A2.1,1.1,69,1,0,126.0,568.4ZM72.4,552.2A1.6,1.0,149,1,0,69.7,553.8A1.6,1.0,149,1,0,72.4,552.2ZM130.2,533.9A2.1,0.9,1,1,0,134.3,534.0A2.1,0.9,1,1,0,130.2,533.9ZM116.3,534.1A1.8,0.8,98,1,0,115.8,537.7A1.8,0.8,98,1,0,116.3,534.1ZM69.8,550.4A2.1,1.0,63,1,0,71.7,554.1A2.1,1.0,63,1,0,69.8,550.4ZM89.4,564.6A2.0,1.0,17,1,0,93.3,565.8A2.0,1.0,17,1,0,89.4,564.6ZM87.4,530.8A1.8,0.9,47,1,0,89.9,533.4A1.8,0.9,47,1,0,87.4,530.8ZM105.5,571.6A1.8,0.8,91,1,0,105.5,575.1A1.8,0.8,91,1,0,105.5,571.6ZM95.8,546.8A1.5,0.8,171,1,0,92.8,547.3A1.5,0.8,171,1,0,95.8,546.8ZM113.0,569.8A2.0,1.3,71,1,0,114.3,573.7A2.0,1.3,71,1,0,113.0,569.8ZM86.9,570.0A2.3,0.9,123,1,0,84.5,573.8A2.3,0.9,123,1,0,86.9,570.0ZM85.3,568.5A2.1,1.2,10,1,0,89.4,569.2A2.1,1.2,10,1,0,85.3,568.5ZM118.7,537.4A1.6,0.7,137,1,0,116.4,539.6A1.6,0.7,137,1,0,118.7,537.4ZM66.3,543.3A1.8,0.9,61,1,0,68.1,546.5A1.8,0.9,61,1,0,66.3,543.3ZM78.5,529.8A2.0,1.1,4,1,0,82.5,530.1A2.0,1.1,4,1,0,78.5,529.8ZM118.0,562.2A2.4,1.5,1,1,0,122.7,562.3A2.4,1.5,1,1,0,118.0,562.2ZM107.9,574.7A2.1,0.9,71,1,0,109.3,578.7A2.1,0.9,71,1,0,107.9,574.7ZM108.6,530.9A2.3,1.1,110,1,0,107.0,535.3A2.3,1.1,110,1,0,108.6,530.9ZM75.1,576.1A2.0,0.8,3,1,0,79.1,576.3A2.0,0.8,3,1,0,75.1,576.1ZM131.8,572.9A1.9,1.2,157,1,0,128.3,574.4A1.9,1.2,157,1,0,131.8,572.9ZM72.0,572.8A2.0,0.8,42,1,0,75.0,575.6A2.0,0.8,42,1,0,72.0,572.8ZM69.7,550.5A2.1,1.1,179,1,0,65.4,550.5A2.1,1.1,179,1,0,69.7,550.5ZM114.5,557.8A2.6,1.6,157,1,0,109.7,559.9A2.6,1.6,157,1,0,114.5,557.8ZM79.8,548.8A2.1,1.1,171,1,0,75.6,549.4A2.1,1.1,171,1,0,79.8,548.8ZM70.6,528.2A1.8,1.1,122,1,0,68.7,531.2A1.8,1.1,122,1,0,70.6,528.2ZM110.2,540.2A1.5,0.9,150,1,0,107.6,541.7A1.5,0.9,150,1,0,110.2,540.2ZM117.4,573.3A2.5,1.2,115,1,0,115.3,577.7A2.5,1.2,115,1,0,117.4,573.3ZM120.9,557.4A2.2,0.9,2,1,0,125.3,557.6A2.2,0.9,2,1,0,120.9,557.4ZM90.3,574.7A2.4,1.2,124,1,0,87.6,578.6A2.4,1.2,124,1,0,90.3,574.7ZM104.8,569.1A2.7,1.6,60,1,0,107.4,573.7A2.7,1.6,60,1,0,104.8,569.1ZM81.7,575.9A2.1,1.3,164,1,0,77.7,577.1A2.1,1.3,164,1,0,81.7,575.9ZM107.8,540.2A1.8,1.2,148,1,0,104.7,542.2A1.8,1.2,148,1,0,107.8,540.2ZM116.4,564.6A2.3,1.2,128,1,0,113.6,568.2A2.3,1.2,128,1,0,116.4,564.6ZM65.5,552.9A2.0,1.1,100,1,0,64.8,556.8A2.0,1.1,100,1,0,65.5,552.9ZM70.7,558.5A1.6,1.1,24,1,0,73.6,559.8A1.6,1.1,24,1,0,70.7,558.5ZM71.3,554.4A1.7,0.8,50,1,0,73.4,557.0A1.7,0.8,50,1,0,71.3,554.4ZM124.7,550.7A1.7,0.7,26,1,0,127.8,552.2A1.7,0.7,26,1,0,124.7,550.7ZM129.2,564.9A1.5,1.0,14,1,0,132.2,565.6A1.5,1.0,14,1,0,129.2,564.9ZM77.9,548.7A1.8,1.2,40,1,0,80.7,551.1A1.8,1.2,40,1,0,77.9,548.7ZM78.6,567.0A2.0,1.2,124,1,0,76.4,570.3A2.0,1.2,124,1,0,78.6,567.0ZM112.6,545.5A2.4,1.0,77,1,0,113.6,550.2A2.4,1.0,77,1,0,112.6,545.5ZM79.2,542.4A1.8,1.2,92,1,0,79.1,546.0A1.8,1.2,92,1,0,79.2,542.4ZM106.4,571.3A2.2,1.1,171,1,0,102.1,571.9A2.2,1.1,171,1,0,106.4,571.3ZM77.6,565.7A2.5,1.1,148,1,0,73.4,568.4A2.5,1.1,148,1,0,77.6,565.7ZM116.6,560.2A2.6,1.3,137,1,0,112.8,563.8A2.6,1.3,137,1,0,116.6,560.2ZM99.2,546.1A2.3,1.6,29,1,0,103.2,548.4A2.3,1.6,29,1,0,99.2,546.1ZM72.0,525.6A2.5,1.2,48,1,0,75.4,529.4A2.5,1.2,48,1,0,72.0,525.6ZM66.1,540.2A2.0,1.0,78,1,0,67.0,544.1A2.0,1.0,78,1,0,66.1,540.2ZM132.3,526.2A1.7,0.8,148,1,0,129.3,528.0A1.7,0.8,148,1,0,132.3,526.2ZM92.8,535.6A2.5,1.5,141,1,0,88.9,538.8A2.5,1.5,141,1,0,92.8,535.6ZM73.3,550.3A2.5,1.5,22,1,0,78.0,552.2A2.5,1.5,22,1,0,73.3,550.3ZM126.8,570.5A2.5,1.4,50,1,0,130.0,574.4A2.5,1.4,50,1,0,126.8,570.5ZM71.1,546.3A2.5,1.3,110,1,0,69.4,551.0A2.5,1.3,110,1,0,71.1,546.3ZM85.0,533.1A2.5,1.5,101,1,0,84.0,538.0A2.5,1.5,101,1,0,85.0,533.1ZM87.8,551.6A2.1,1.1,134,1,0,84.9,554.6A2.1,1.1,134,1,0,87.8,551.6ZM114.5,542.6A1.8,0.9,102,1,0,113.7,546.2A1.8,0.9,102,1,0,114.5,542.6ZM115.5,573.5A1.6,1.0,158,1,0,112.6,574.7A1.6,1.0,158,1,0,115.5,573.5ZM69.8,553.2A1.5,0.8,146,1,0,67.3,555.0A1.5,0.8,146,1,0,69.8,553.2ZM131.7,551.2A2.5,1.5,117,1,0,129.5,555.6A2.5,1.5,117,1,0,131.7,551.2ZM90.6,541.9A2.4,1.2,178,1,0,85.8,542.1A2.4,1.2,178,1,0,90.6,541.9ZM113.7,566.7A2.1,1.4,134,1,0,110.8,569.7A2.1,1.4,134,1,0,113.7,566.7ZM115.7,543.1A2.0,0.9,73,1,0,116.8,546.9A2.0,0.9,73,1,0,115.7,543.1ZM110.0,569.5A2.2,1.1,21,1,0,114.0,571.1A2.2,1.1,21,1,0,110.0,569.5ZM66.3,531.2A1.7,1.1,6,1,0,69.6,531.5A1.7,1.1,6,1,0,66.3,531.2ZM100.3,534.3A1.9,1.3,52,1,0,102.6,537.3A1.9,1.3,52,1,0,100.3,534.3ZM79.4,571.9A2.2,1.5,145,1,0,75.8,574.4A2.2,1.5,145,1,0,79.4,571.9ZM129.6,556.6A1.7,0.8,54,1,0,131.6,559.3A1.7,0.8,54,1,0,129.6,556.6ZM109.2,547.2A2.4,1.6,171,1,0,104.5,547.9A2.4,1.6,171,1,0,109.2,547.2ZM118.2,537.6A1.7,1.0,126,1,0,116.3,540.3A1.7,1.0,126,1,0,118.2,537.6ZM70.6,553.4A2.5,1.5,83,1,0,71.2,558.3A2.5,1.5,83,1,0,70.6,553.4ZM79.5,549.7A1.8,0.8,70,1,0,80.7,553.1A1.8,0.8,70,1,0,79.5,549.7ZM107.1,527.5A2.1,1.2,89,1,0,107.1,531.6A2.1,1.2,89,1,0,107.1,527.5ZM117.8,552.3A2.6,1.4,32,1,0,122.2,555.1A2.6,1.4,32,1,0,117.8,552.3ZM97.6,535.5A2.2,1.2,68,1,0,99.2,539.6A2.2,1.2,68,1,0,97.6,535.5ZM83.8,541.6A2.2,1.2,94,1,0,83.5,545.9A2.2,1.2,94,1,0,83.8,541.6ZM75.0,575.9A2.7,1.6,170,1,0,69.7,576.8A2.7,1.6,170,1,0,75.0,575.9ZM78.3,559.8A2.5,1.6,65,1,0,80.5,564.3A2.5,1.6,65,1,0,78.3,559.8ZM65.5,572.7A2.0,0.9,54,1,0,67.8,575.8A2.0,0.9,54,1,0,65.5,572.7ZM95.2,533.7A2.4,1.0,8,1,0,100.0,534.4A2.4,1.0,8,1,0,95.2,533.7ZM88.1,546.8A2.7,1.3,178,1,0,82.7,547.0A2.7,1.3,178,1,0,88.1,546.8ZM107.9,541.8A2.3,1.3,148,1,0,104.1,544.2A2.3,1.3,148,1,0,107.9,541.8ZM87.3,544.6A1.8,1.0,148,1,0,84.3,546.5A1.8,1.0,148,1,0,87.3,544.6ZM120.3,528.2A1.6,1.1,137,1,0,118.0,530.3A1.6,1.1,137,1,0,120.3,528.2ZM94.3,556.5A2.1,1.3,80,1,0,95.0,560.5A2.1,1.3,80,1,0,94.3,556.5ZM104.1,532.4A2.2,1.0,47,1,0,107.1,535.6A2.2,1.0,47,1,0,104.1,532.4ZM76.2,542.5A1.8,0.8,109,1,0,75.0,545.9A1.8,0.8,109,1,0,76.2,542.5ZM114.3,557.0A2.3,1.2,26,1,0,118.3,559.0A2.3,1.2,26,1,0,114.3,557.0ZM88.5,537.4A2.0,1.2,54,1,0,90.9,540.7A2.0,1.2,54,1,0,88.5,537.4ZM124.6,568.5A2.0,0.9,140,1,0,121.6,571.0A2.0,0.9,140,1,0,124.6,568.5ZM94.9,569.0A2.1,1.2,55,1,0,97.4,572.5A2.1,1.2,55,1,0,94.9,569.0ZM103.3,569.1A1.8,1.2,1,1,0,106.9,569.2A1.8,1.2,1,1,0,103.3,569.1ZM129.7,548.6A1.9,1.2,133,1,0,127.1,551.3A1.9,1.2,133,1,0,129.7,548.6ZM98.3,540.0A1.9,0.9,48,1,0,100.8,542.9A1.9,0.9,48,1,0,98.3,540.0ZM115.9,567.2A2.3,1.0,81,1,0,116.6,571.7A2.3,1.0,81,1,0,115.9,567.2ZM98.1,551.7A2.5,1.3,48,1,0,101.5,555.5A2.5,1.3,48,1,0,98.1,551.7ZM93.7,532.5A2.1,1.0,1,1,0,98.0,532.6A2.1,1.0,1,1,0,93.7,532.5ZM130.8,547.7A1.7,0.9,120,1,0,129.2,550.6A1.7,0.9,120,1,0,130.8,547.7ZM108.1,559.1A2.5,1.7,148,1,0,103.8,561.7A2.5,1.7,148,1,0,108.1,559.1ZM129.7,572.5A2.4,1.6,139,1,0,126.1,575.6A2.4,1.6,139,1,0,129.7,572.5ZM89.0,563.5A1.8,0.8,69,1,0,90.3,566.9A1.8,0.8,69,1,0,89.0,563.5ZM68.6,552.1A2.2,1.4,10,1,0,73.0,552.9A2.2,1.4,10,1,0,68.6,552.1ZM125.7,532.0A2.2,1.2,66,1,0,127.5,536.1A2.2,1.2,66,1,0,125.7,532.0ZM77.0,573.0A2.1,1.2,33,1,0,80.4,575.3A2.1,1.2,33,1,0,77.0,573.0ZM127.3,539.2A2.5,1.0,84,1,0,127.8,544.2A2.5,1.0,84,1,0,127.3,539.2ZM128.7,549.3A2.4,1.4,112,1,0,126.9,553.7A2.4,1.4,112,1,0,128.7,549.3ZM127.5,555.8A2.0,0.9,73,1,0,128.7,559.6A2.0,0.9,73,1,0,127.5,555.8ZM84.5,543.7A2.3,1.4,147,1,0,80.6,546.2A2.3,1.4,147,1,0,84.5,543.7ZM121.0,556.2A2.6,1.1,101,1,0,120.0,561.3A2.6,1.1,101,1,0,121.0,556.2ZM119.7,543.0A2.0,1.4,22,1,0,123.5,544.5A2.0,1.4,22,1,0,119.7,543.0ZM104.1,548.7A2.3,1.5,67,1,0,105.9,552.9A2.3,1.5,67,1,0,104.1,548.7ZM72.0,541.6A2.7,1.7,52,1,0,75.3,545.8A2.7,1.7,52,1,0,72.0,541.6ZM86.5,544.5A2.7,1.8,82,1,0,87.3,549.8A2.7,1.8,82,1,0,86.5,544.5ZM69.7,546.3A2.0,1.2,87,1,0,69.9,550.4A2.0,1.2,87,1,0,69.7,546.3ZM120.0,566.3A1.9,0.8,50,1,0,122.4,569.2A1.9,0.8,50,1,0,120.0,566.3ZM106.5,535.4A2.5,1.2,51,1,0,109.6,539.2A2.5,1.2,51,1,0,106.5,535.4ZM127.0,554.1A2.7,1.5,40,1,0,131.1,557.6A2.7,1.5,40,1,0,127.0,554.1ZM73.1,540.6A2.3,1.0,55,1,0,75.7,544.4A2.3,1.0,55,1,0,73.1,540.6ZM132.9,555.6A2.1,1.3,110,1,0,131.4,559.5A2.1,1.3,110,1,0,132.9,555.6ZM83.4,541.7A2.2,1.4,99,1,0,82.7,546.0A2.2,1.4,99,1,0,83.4,541.7ZM114.6,569.4A1.7,0.9,156,1,0,111.6,570.8A1.7,0.9,156,1,0,114.6,569.4ZM107.6,525.4A2.4,1.2,70,1,0,109.2,529.9A2.4,1.2,70,1,0,107.6,525.4ZM105.5,530.4A1.9,1.1,46,1,0,108.2,533.2A1.9,1.1,46,1,0,105.5,530.4ZM79.7,557.1A2.7,1.3,148,1,0,75.1,559.9A2.7,1.3,148,1,0,79.7,557.1ZM83.6,530.6A1.8,1.1,22,1,0,86.9,531.9A1.8,1.1,22,1,0,83.6,530.6ZM113.8,547.0A1.7,1.2,63,1,0,115.3,550.1A1.7,1.2,63,1,0,113.8,547.0ZM75.4,545.8A2.1,0.9,98,1,0,74.8,550.0A2.1,0.9,98,1,0,75.4,545.8ZM108.0,550.0A1.9,1.1,100,1,0,107.4,553.7A1.9,1.1,100,1,0,108.0,550.0ZM72.2,569.0A1.7,0.8,156,1,0,69.1,570.4A1.7,0.8,156,1,0,72.2,569.0ZM111.4,533.2A1.5,0.7,86,1,0,111.6,536.2A1.5,0.7,86,1,0,111.4,533.2ZM79.0,557.3A2.7,1.3,23,1,0,83.9,559.4A2.7,1.3,23,1,0,79.0,557.3ZM75.6,541.7A1.5,0.7,67,1,0,76.8,544.5A1.5,0.7,67,1,0,75.6,541.7ZM120.6,532.2A2.4,1.1,85,1,0,121.0,537.0A2.4,1.1,85,1,0,120.6,532.2ZM123.3,526.5A2.4,1.1,165,1,0,118.6,527.7A2.4,1.1,165,1,0,123.3,526.5ZM125.2,562.7A1.9,1.2,70,1,0,126.5,566.3A1.9,1.2,70,1,0,125.2,562.7ZM83.4,545.6A2.1,0.9,92,1,0,83.2,549.8A2.1,0.9,92,1,0,83.4,545.6ZM69.3,545.7A2.2,1.2,39,1,0,72.7,548.5A2.2,1.2,39,1,0,69.3,545.7ZM111.9,553.8A2.1,0.8,156,1,0,108.1,555.4A2.1,0.8,156,1,0,111.9,553.8ZM81.7,562.9A1.7,0.7,25,1,0,84.9,564.4A1.7,0.7,25,1,0,81.7,562.9ZM88.6,573.4A1.6,1.0,3,1,0,91.7,573.6A1.6,1.0,3,1,0,88.6,573.4ZM117.4,539.7A2.0,0.9,120,1,0,115.4,543.2A2.0,0.9,120,1,0,117.4,539.7ZM86.3,546.3A2.2,1.0,13,1,0,90.6,547.2A2.2,1.0,13,1,0,86.3,546.3ZM109.3,542.5A2.1,1.1,147,1,0,105.7,544.8A2.1,1.1,147,1,0,109.3,542.5ZM105.2,571.2A1.5,0.8,116,1,0,103.9,574.0A1.5,0.8,116,1,0,105.2,571.2ZM86.0,526.9A1.7,0.9,107,1,0,85.0,530.2A1.7,0.9,107,1,0,86.0,526.9ZM126.3,527.3A2.4,1.2,105,1,0,125.0,531.8A2.4,1.2,105,1,0,126.3,527.3ZM65.9,551.8A2.2,1.0,42,1,0,69.1,554.7A2.2,1.0,42,1,0,65.9,551.8ZM69.8,571.8A2.4,1.6,140,1,0,66.0,574.9A2.4,1.6,140,1,0,69.8,571.8ZM80.6,525.1A2.4,1.5,51,1,0,83.7,528.9A2.4,1.5,51,1,0,80.6,525.1ZM83.2,575.0A1.8,1.2,20,1,0,86.7,576.3A1.8,1.2,20,1,0,83.2,575.0ZM102.7,573.1A1.8,1.1,143,1,0,99.8,575.3A1.8,1.1,143,1,0,102.7,573.1ZM88.1,541.2A1.6,0.9,22,1,0,91.1,542.4A1.6,0.9,22,1,0,88.1,541.2ZM84.6,575.9A2.0,0.8,145,1,0,81.3,578.1A2.0,0.8,145,1,0,84.6,575.9ZM78.0,550.2A2.1,0.9,96,1,0,77.5,554.3A2.1,0.9,96,1,0,78.0,550.2ZM91.6,569.8A2.7,1.6,110,1,0,89.8,574.8A2.7,1.6,110,1,0,91.6,569.8ZM75.5,551.3A2.7,1.2,74,1,0,77.0,556.5A2.7,1.2,74,1,0,75.5,551.3ZM77.2,563.9A2.0,1.1,158,1,0,73.6,565.4A2.0,1.1,158,1,0,77.2,563.9ZM127.6,540.8A2.5,1.5,44,1,0,131.3,544.3A2.5,1.5,44,1,0,127.6,540.8ZM105.6,564.5A1.8,1.0,105,1,0,104.6,568.0A1.8,1.0,105,1,0,105.6,564.5ZM97.0,564.9A2.5,1.1,115,1,0,94.9,569.4A2.5,1.1,115,1,0,97.0,564.9ZM102.3,532.4A1.9,1.3,175,1,0,98.4,532.7A1.9,1.3,175,1,0,102.3,532.4ZM128.8,552.4A1.5,0.7,115,1,0,127.6,555.1A1.5,0.7,115,1,0,128.8,552.4ZM114.9,567.4A2.0,1.0,156,1,0,111.2,569.0A2.0,1.0,156,1,0,114.9,567.4ZM131.4,552.8A2.1,1.3,131,1,0,128.6,556.0A2.1,1.3,131,1,0,131.4,552.8ZM119.2,544.0A2.4,1.1,130,1,0,116.0,547.7A2.4,1.1,130,1,0,119.2,544.0ZM64.7,544.7A2.5,1.7,23,1,0,69.4,546.8A2.5,1.7,23,1,0,64.7,544.7ZM67.2,541.5A2.0,0.9,58,1,0,69.3,544.9A2.0,0.9,58,1,0,67.2,541.5ZM127.1,537.0A1.9,0.9,13,1,0,130.9,537.8A1.9,0.9,13,1,0,127.1,537.0ZM86.0,568.3A1.8,1.0,80,1,0,86.6,571.8A1.8,1.0,80,1,0,86.0,568.3ZM120.0,558.2A1.6,0.9,130,1,0,117.9,560.7A1.6,0.9,130,1,0,120.0,558.2ZM85.1,531.5A2.2,1.5,41,1,0,88.4,534.3A2.2,1.5,41,1,0,85.1,531.5ZM97.6,561.3A2.0,0.9,141,1,0,94.6,563.8A2.0,0.9,141,1,0,97.6,561.3ZM124.7,552.4A2.0,1.2,110,1,0,123.2,556.2A2.0,1.2,110,1,0,124.7,552.4ZM75.9,538.5A1.7,0.9,95,1,0,75.6,542.0A1.7,0.9,95,1,0,75.9,538.5ZM88.0,572.5A2.2,1.3,142,1,0,84.5,575.2A2.2,1.3,142,1,0,88.0,572.5ZM125.9,558.6A1.9,1.1,82,1,0,126.4,562.3A1.9,1.1,82,1,0,125.9,558.6ZM64.8,534.3A2.3,1.5,49,1,0,67.8,537.8A2.3,1.5,49,1,0,64.8,534.3ZM128.7,560.1A2.3,1.2,61,1,0,130.9,564.2A2.3,1.2,61,1,0,128.7,560.1ZM95.5,531.1A1.9,0.8,21,1,0,99.1,532.5A1.9,0.8,21,1,0,95.5,531.1ZM65.0,563.3A2.0,1.3,14,1,0,69.0,564.3A2.0,1.3,14,1,0,65.0,563.3ZM108.7,536.0A2.1,1.2,128,1,0,106.1,539.4A2.1,1.2,128,1,0,108.7,536.0Z" fill="#747d8a" stroke="#b9b9b5" stroke-width="0.8"/>
<path d="M68.8,569.1A1.6,1.2,135,1,0,66.6,571.3A1.6,1.2,135,1,0,68.8,569.1ZM91.9,548.0A1.7,1.3,50,1,0,94.2,550.6A1.7,1.3,50,1,0,91.9,548.0ZM104.9,550.9A2.3,1.2,161,1,0,100.5,552.5A2.3,1.2,161,1,0,104.9,550.9ZM110.6,571.9A1.7,1.4,55,1,0,112.5,574.6A1.7,1.4,55,1,0,110.6,571.9ZM72.9,554.2A2.1,1.9,154,1,0,69.1,556.1A2.1,1.9,154,1,0,72.9,554.2ZM118.0,525.3A2.0,1.3,102,1,0,117.2,529.1A2.0,1.3,102,1,0,118.0,525.3ZM130.4,571.1A2.0,1.6,94,1,0,130.1,575.1A2.0,1.6,94,1,0,130.4,571.1ZM83.6,534.4A1.8,1.2,49,1,0,85.9,537.1A1.8,1.2,49,1,0,83.6,534.4ZM130.8,544.1A1.8,1.6,26,1,0,134.0,545.7A1.8,1.6,26,1,0,130.8,544.1ZM99.5,568.8A2.4,1.4,147,1,0,95.4,571.4A2.4,1.4,147,1,0,99.5,568.8ZM129.4,550.3A2.2,1.7,95,1,0,129.0,554.8A2.2,1.7,95,1,0,129.4,550.3ZM98.1,546.1A1.9,1.3,121,1,0,96.1,549.5A1.9,1.3,121,1,0,98.1,546.1ZM114.9,573.2A1.7,1.3,138,1,0,112.4,575.4A1.7,1.3,138,1,0,114.9,573.2ZM83.9,526.0A1.8,1.4,126,1,0,81.8,528.9A1.8,1.4,126,1,0,83.9,526.0ZM117.5,562.9A1.6,1.1,75,1,0,118.4,566.0A1.6,1.1,75,1,0,117.5,562.9ZM125.3,556.9A2.2,1.5,38,1,0,128.8,559.5A2.2,1.5,38,1,0,125.3,556.9ZM93.6,543.2A2.3,1.8,127,1,0,90.8,546.9A2.3,1.8,127,1,0,93.6,543.2ZM68.6,539.5A2.3,1.3,133,1,0,65.5,542.8A2.3,1.3,133,1,0,68.6,539.5ZM106.1,561.1A2.0,1.7,93,1,0,105.9,565.0A2.0,1.7,93,1,0,106.1,561.1ZM79.8,530.2A2.4,1.5,105,1,0,78.5,534.9A2.4,1.5,105,1,0,79.8,530.2ZM92.5,538.8A1.7,1.1,170,1,0,89.1,539.4A1.7,1.1,170,1,0,92.5,538.8ZM128.7,565.2A1.6,1.2,157,1,0,125.8,566.4A1.6,1.2,157,1,0,128.7,565.2ZM96.1,568.1A2.1,1.4,152,1,0,92.3,570.1A2.1,1.4,152,1,0,96.1,568.1ZM125.6,572.0A2.2,1.5,12,1,0,129.9,572.9A2.2,1.5,12,1,0,125.6,572.0ZM87.9,544.7A2.2,1.8,161,1,0,83.7,546.2A2.2,1.8,161,1,0,87.9,544.7ZM102.2,525.6A2.4,1.5,132,1,0,99.0,529.1A2.4,1.5,132,1,0,102.2,525.6ZM121.1,549.6A1.8,1.0,35,1,0,124.2,551.7A1.8,1.0,35,1,0,121.1,549.6ZM100.9,569.9A2.2,1.3,158,1,0,96.9,571.5A2.2,1.3,158,1,0,100.9,569.9ZM129.4,542.7A1.7,1.5,40,1,0,132.1,544.9A1.7,1.5,40,1,0,129.4,542.7ZM107.1,539.0A2.5,1.7,38,1,0,111.0,542.0A2.5,1.7,38,1,0,107.1,539.0ZM83.2,556.9A1.8,1.3,20,1,0,86.6,558.1A1.8,1.3,20,1,0,83.2,556.9ZM93.1,550.7A2.4,1.3,86,1,0,93.4,555.5A2.4,1.3,86,1,0,93.1,550.7ZM65.4,529.9A2.0,1.1,84,1,0,65.8,533.9A2.0,1.1,84,1,0,65.4,529.9ZM124.7,550.3A2.0,1.6,110,1,0,123.3,554.1A2.0,1.6,110,1,0,124.7,550.3ZM111.1,529.6A1.6,1.5,89,1,0,111.2,532.9A1.6,1.5,89,1,0,111.1,529.6ZM91.3,533.8A1.8,1.5,34,1,0,94.3,535.8A1.8,1.5,34,1,0,91.3,533.8ZM73.1,562.0A2.3,1.8,70,1,0,74.7,566.4A2.3,1.8,70,1,0,73.1,562.0ZM105.2,563.6A1.5,0.8,173,1,0,102.2,564.0A1.5,0.8,173,1,0,105.2,563.6Z" fill="#a3a4a5"/>
<path d="M106.1,567.7A1.1,1.0,50,1,0,107.5,569.4A1.1,1.0,50,1,0,106.1,567.7ZM122.1,528.3A1.2,1.0,129,1,0,120.7,530.1A1.2,1.0,129,1,0,122.1,528.3ZM99.0,564.3A1.0,0.9,154,1,0,97.2,565.2A1.0,0.9,154,1,0,99.0,564.3ZM83.4,568.8A0.9,0.8,62,1,0,84.2,570.4A0.9,0.8,62,1,0,83.4,568.8ZM121.2,561.2A1.3,1.2,173,1,0,118.7,561.6A1.3,1.2,173,1,0,121.2,561.2ZM84.2,566.3A0.9,0.8,172,1,0,82.5,566.6A0.9,0.8,172,1,0,84.2,566.3ZM103.3,573.0A0.8,0.8,117,1,0,102.6,574.6A0.8,0.8,117,1,0,103.3,573.0ZM82.8,547.0A1.0,0.9,173,1,0,80.9,547.3A1.0,0.9,173,1,0,82.8,547.0ZM69.0,559.5A1.1,1.0,119,1,0,67.9,561.4A1.1,1.0,119,1,0,69.0,559.5ZM111.5,571.6A1.2,1.1,98,1,0,111.1,574.0A1.2,1.1,98,1,0,111.5,571.6ZM82.5,567.0A1.2,1.1,158,1,0,80.3,567.9A1.2,1.1,158,1,0,82.5,567.0ZM120.3,545.4A1.2,1.1,138,1,0,118.5,547.1A1.2,1.1,138,1,0,120.3,545.4ZM113.1,554.9A0.9,0.8,106,1,0,112.7,556.7A0.9,0.8,106,1,0,113.1,554.9ZM92.4,558.0A0.9,0.8,142,1,0,91.0,559.1A0.9,0.8,142,1,0,92.4,558.0ZM129.4,534.9A0.9,0.8,155,1,0,127.9,535.7A0.9,0.8,155,1,0,129.4,534.9ZM88.8,531.5A1.0,0.9,171,1,0,86.9,531.8A1.0,0.9,171,1,0,88.8,531.5ZM93.4,535.6A1.3,1.2,91,1,0,93.4,538.1A1.3,1.2,91,1,0,93.4,535.6ZM76.0,547.8A1.2,1.1,13,1,0,78.3,548.3A1.2,1.1,13,1,0,76.0,547.8ZM98.1,536.7A1.0,0.9,147,1,0,96.4,537.9A1.0,0.9,147,1,0,98.1,536.7ZM96.9,573.8A1.3,1.2,155,1,0,94.6,574.9A1.3,1.2,155,1,0,96.9,573.8ZM87.0,527.6A1.0,0.9,64,1,0,87.9,529.4A1.0,0.9,64,1,0,87.0,527.6ZM66.5,562.3A1.2,1.1,94,1,0,66.3,564.6A1.2,1.1,94,1,0,66.5,562.3ZM103.7,530.8A0.8,0.7,67,1,0,104.4,532.3A0.8,0.7,67,1,0,103.7,530.8ZM133.4,559.4A1.1,1.0,177,1,0,131.3,559.6A1.1,1.0,177,1,0,133.4,559.4ZM95.1,560.4A1.2,1.0,126,1,0,93.7,562.3A1.2,1.0,126,1,0,95.1,560.4ZM114.7,575.1A1.1,1.0,141,1,0,113.0,576.5A1.1,1.0,141,1,0,114.7,575.1ZM76.6,534.9A1.1,1.0,138,1,0,75.0,536.3A1.1,1.0,138,1,0,76.6,534.9ZM111.7,558.3A1.2,1.1,154,1,0,109.5,559.3A1.2,1.1,154,1,0,111.7,558.3ZM112.2,540.7A1.2,1.1,171,1,0,109.8,541.1A1.2,1.1,171,1,0,112.2,540.7ZM108.6,575.4A1.2,1.1,128,1,0,107.1,577.3A1.2,1.1,128,1,0,108.6,575.4ZM99.6,543.1A0.9,0.8,82,1,0,99.8,544.9A0.9,0.8,82,1,0,99.6,543.1ZM112.7,575.7A1.2,1.0,98,1,0,112.4,578.0A1.2,1.0,98,1,0,112.7,575.7ZM86.5,551.1A1.1,1.0,107,1,0,85.9,553.2A1.1,1.0,107,1,0,86.5,551.1Z" fill="#f0dcc0" stroke="#d8bc98" stroke-width="0.6"/>
</g></g>
<clipPath id="clip12"><rect x="135.90" y="365.60" width="68.30" height="51.00"/></clipPath>
<rect x="135.90" y="365.60" width="68.30" height="51.00" fill="#010301"/>
<g clip-path="url(#clip12)"><g filter="url(#gb)">
<path d="M167.5,399.1A0.8,0.5,2,1,0,169.1,399.2A0.8,0.5,2,1,0,167.5,399.1ZM161.8,378.7A0.9,0.8,108,1,0,161.2,380.4A0.9,0.8,108,1,0,161.8,378.7ZM173.5,399.0A0.6,0.4,29,1,0,174.5,399.6A0.6,0.4,29,1,0,173.5,399.0ZM198.3,367.8A0.9,0.6,124,1,0,197.3,369.4A0.9,0.6,124,1,0,198.3,367.8ZM158.0,386.1A0.9,0.6,11,1,0,159.8,386.4A0.9,0.6,11,1,0,158.0,386.1ZM198.9,391.5A0.5,0.5,170,1,0,197.9,391.6A0.5,0.5,170,1,0,198.9,391.5ZM143.8,386.7A0.6,0.4,112,1,0,143.4,387.7A0.6,0.4,112,1,0,143.8,386.7ZM147.5,400.9A0.5,0.4,147,1,0,146.6,401.4A0.5,0.4,147,1,0,147.5,400.9ZM163.0,386.2A0.8,0.6,69,1,0,163.5,387.7A0.8,0.6,69,1,0,163.0,386.2ZM138.5,401.8A1.0,1.0,119,1,0,137.5,403.5A1.0,1.0,119,1,0,138.5,401.8ZM159.4,383.8A0.8,0.7,20,1,0,161.0,384.4A0.8,0.7,20,1,0,159.4,383.8ZM151.9,383.4A0.8,0.7,90,1,0,151.9,384.9A0.8,0.7,90,1,0,151.9,383.4ZM137.3,407.1A0.7,0.6,40,1,0,138.4,408.0A0.7,0.6,40,1,0,137.3,407.1ZM165.2,384.5A0.9,0.6,99,1,0,164.9,386.3A0.9,0.6,99,1,0,165.2,384.5ZM147.8,400.6A0.5,0.4,62,1,0,148.3,401.5A0.5,0.4,62,1,0,147.8,400.6ZM178.9,367.7A0.7,0.5,51,1,0,179.9,368.8A0.7,0.5,51,1,0,178.9,367.7ZM167.8,414.1A0.7,0.7,30,1,0,169.1,414.9A0.7,0.7,30,1,0,167.8,414.1ZM199.6,384.0A0.6,0.5,164,1,0,198.5,384.3A0.6,0.5,164,1,0,199.6,384.0ZM135.7,378.7A0.9,0.7,43,1,0,137.0,379.9A0.9,0.7,43,1,0,135.7,378.7ZM137.3,367.6A0.8,0.8,180,1,0,135.7,367.6A0.8,0.8,180,1,0,137.3,367.6ZM170.9,366.5A0.7,0.6,150,1,0,169.7,367.2A0.7,0.6,150,1,0,170.9,366.5ZM179.9,376.6A0.8,0.6,113,1,0,179.3,378.0A0.8,0.6,113,1,0,179.9,376.6ZM153.3,413.1A0.9,0.6,52,1,0,154.4,414.6A0.9,0.6,52,1,0,153.3,413.1ZM196.1,379.0A1.0,0.8,125,1,0,195.0,380.6A1.0,0.8,125,1,0,196.1,379.0ZM184.4,376.0A0.6,0.5,123,1,0,183.7,377.1A0.6,0.5,123,1,0,184.4,376.0Z" fill="#0d3a0b"/>
<path d="M144.7,410.1A0.8,0.6,78,1,0,145.0,411.5A0.8,0.6,78,1,0,144.7,410.1ZM189.6,371.1A0.7,0.4,78,1,0,189.9,372.4A0.7,0.4,78,1,0,189.6,371.1ZM151.9,392.2A1.0,0.7,121,1,0,150.9,393.9A1.0,0.7,121,1,0,151.9,392.2ZM182.4,382.5A0.9,0.6,90,1,0,182.4,384.4A0.9,0.6,90,1,0,182.4,382.5ZM182.1,384.1A0.7,0.4,8,1,0,183.5,384.3A0.7,0.4,8,1,0,182.1,384.1ZM156.2,413.0A0.9,0.7,157,1,0,154.6,413.7A0.9,0.7,157,1,0,156.2,413.0ZM162.9,386.0A0.4,0.3,173,1,0,162.0,386.1A0.4,0.3,173,1,0,162.9,386.0ZM187.9,370.9A0.5,0.3,15,1,0,188.9,371.2A0.5,0.3,15,1,0,187.9,370.9ZM176.9,405.8A0.6,0.6,178,1,0,175.6,405.9A0.6,0.6,178,1,0,176.9,405.8ZM189.0,369.1A0.8,0.6,62,1,0,189.8,370.5A0.8,0.6,62,1,0,189.0,369.1Z" fill="#1eb41a"/>
<path d="M144.0,409.9A0.6,0.5,75,1,0,144.4,411.1A0.6,0.5,75,1,0,144.0,409.9ZM144.4,409.8A0.6,0.5,115,1,0,143.9,410.9A0.6,0.5,115,1,0,144.4,409.8ZM175.2,368.6A0.7,0.5,60,1,0,175.9,369.9A0.7,0.5,60,1,0,175.2,368.6ZM156.0,413.5A0.4,0.3,111,1,0,155.6,414.3A0.4,0.3,111,1,0,156.0,413.5Z" fill="#127a10"/>
<path d="M192.0,371.6A1.0,0.8,162,1,0,190.0,372.3A1.0,0.8,162,1,0,192.0,371.6ZM191.5,370.3A0.7,0.4,108,1,0,191.1,371.6A0.7,0.4,108,1,0,191.5,370.3ZM197.3,400.4A0.9,0.5,45,1,0,198.6,401.7A0.9,0.5,45,1,0,197.3,400.4ZM194.0,389.7A1.1,0.8,33,1,0,195.8,390.9A1.1,0.8,33,1,0,194.0,389.7ZM189.2,372.6A1.0,0.7,177,1,0,187.3,372.7A1.0,0.7,177,1,0,189.2,372.6ZM138.6,400.0A0.8,0.6,131,1,0,137.5,401.3A0.8,0.6,131,1,0,138.6,400.0ZM199.9,383.4A0.7,0.5,108,1,0,199.4,384.7A0.7,0.5,108,1,0,199.9,383.4ZM184.0,371.1A1.0,0.6,61,1,0,185.0,372.9A1.0,0.6,61,1,0,184.0,371.1Z" fill="#3cf038"/>
<path d="M190.9,372.5A0.8,0.5,49,1,0,191.9,373.7A0.8,0.5,49,1,0,190.9,372.5ZM196.3,390.6A0.9,0.8,165,1,0,194.7,391.0A0.9,0.8,165,1,0,196.3,390.6ZM195.5,381.0A1.0,0.7,155,1,0,193.6,381.9A1.0,0.7,155,1,0,195.5,381.0ZM188.8,371.4A0.5,0.4,81,1,0,189.0,372.5A0.5,0.4,81,1,0,188.8,371.4ZM187.2,371.7A0.8,0.6,84,1,0,187.4,373.3A0.8,0.6,84,1,0,187.2,371.7ZM161.9,386.1A0.8,0.7,50,1,0,163.0,387.4A0.8,0.7,50,1,0,161.9,386.1ZM175.6,405.8A0.9,0.6,61,1,0,176.4,407.3A0.9,0.6,61,1,0,175.6,405.8ZM183.5,372.3A0.7,0.4,61,1,0,184.2,373.6A0.7,0.4,61,1,0,183.5,372.3Z" fill="#2ce028"/>
<path d="M174.7,369.9A0.5,0.4,5,1,0,175.8,370.0A0.5,0.4,5,1,0,174.7,369.9ZM175.3,369.2A0.4,0.3,159,1,0,174.6,369.4A0.4,0.3,159,1,0,175.3,369.2Z" fill="#0a3a08"/>
</g></g>
<clipPath id="clip22"><rect x="135.90" y="473.00" width="68.30" height="51.00"/></clipPath>
<rect x="135.90" y="473.00" width="68.30" height="51.00" fill="#010301"/>
<g clip-path="url(#clip22)"><g filter="url(#gb)">
<path d="M200.9,479.9A0.5,0.5,33,1,0,201.8,480.4A0.5,0.5,33,1,0,200.9,479.9ZM143.6,505.8A0.7,0.6,42,1,0,144.6,506.7A0.7,0.6,42,1,0,143.6,505.8ZM201.9,488.6A0.8,0.8,123,1,0,201.0,490.0A0.8,0.8,123,1,0,201.9,488.6ZM199.1,508.6A0.5,0.5,106,1,0,198.9,509.6A0.5,0.5,106,1,0,199.1,508.6ZM158.0,482.5A0.9,0.8,169,1,0,156.2,482.9A0.9,0.8,169,1,0,158.0,482.5ZM189.0,521.3A0.8,0.7,110,1,0,188.5,522.8A0.8,0.7,110,1,0,189.0,521.3ZM154.2,521.7A0.7,0.6,172,1,0,152.9,521.9A0.7,0.6,172,1,0,154.2,521.7ZM179.6,479.8A0.9,0.8,33,1,0,181.1,480.8A0.9,0.8,33,1,0,179.6,479.8ZM139.3,499.6A0.5,0.5,91,1,0,139.2,500.6A0.5,0.5,91,1,0,139.3,499.6ZM170.8,493.2A0.8,0.8,55,1,0,171.7,494.6A0.8,0.8,55,1,0,170.8,493.2ZM161.5,502.1A0.6,0.5,98,1,0,161.3,503.4A0.6,0.5,98,1,0,161.5,502.1ZM166.3,507.3A0.8,0.5,179,1,0,164.7,507.3A0.8,0.5,179,1,0,166.3,507.3ZM160.9,494.9A0.7,0.7,171,1,0,159.5,495.1A0.7,0.7,171,1,0,160.9,494.9ZM170.4,493.2A0.5,0.5,31,1,0,171.3,493.7A0.5,0.5,31,1,0,170.4,493.2ZM172.7,490.4A0.7,0.5,34,1,0,173.8,491.2A0.7,0.5,34,1,0,172.7,490.4ZM137.7,499.8A0.9,0.8,36,1,0,139.1,500.8A0.9,0.8,36,1,0,137.7,499.8ZM184.0,475.5A0.7,0.7,166,1,0,182.6,475.8A0.7,0.7,166,1,0,184.0,475.5ZM167.6,515.5A0.7,0.6,105,1,0,167.2,516.9A0.7,0.6,105,1,0,167.6,515.5ZM203.9,510.3A0.7,0.7,116,1,0,203.3,511.6A0.7,0.7,116,1,0,203.9,510.3ZM161.0,512.8A0.9,0.8,170,1,0,159.2,513.2A0.9,0.8,170,1,0,161.0,512.8ZM136.4,498.1A0.8,0.6,31,1,0,137.8,498.9A0.8,0.6,31,1,0,136.4,498.1ZM183.8,495.1A0.6,0.4,174,1,0,182.5,495.2A0.6,0.4,174,1,0,183.8,495.1ZM160.5,478.8A0.6,0.4,156,1,0,159.4,479.3A0.6,0.4,156,1,0,160.5,478.8ZM147.8,486.8A0.5,0.4,37,1,0,148.7,487.4A0.5,0.4,37,1,0,147.8,486.8ZM158.4,510.4A1.0,0.9,7,1,0,160.4,510.6A1.0,0.9,7,1,0,158.4,510.4ZM161.7,515.8A0.5,0.4,88,1,0,161.7,516.8A0.5,0.4,88,1,0,161.7,515.8ZM161.4,510.7A0.9,0.7,45,1,0,162.6,511.9A0.9,0.7,45,1,0,161.4,510.7ZM151.2,486.3A0.5,0.5,28,1,0,152.1,486.8A0.5,0.5,28,1,0,151.2,486.3ZM196.8,505.4A0.5,0.4,109,1,0,196.5,506.4A0.5,0.4,109,1,0,196.8,505.4ZM138.3,497.8A0.5,0.5,1,1,0,139.3,497.8A0.5,0.5,1,1,0,138.3,497.8Z" fill="#0d3a0b"/>
<path d="M202.4,515.8A0.9,0.5,25,1,0,204.0,516.5A0.9,0.5,25,1,0,202.4,515.8ZM177.9,477.3A1.2,0.9,112,1,0,177.0,479.6A1.2,0.9,112,1,0,177.9,477.3ZM169.8,497.7A0.8,0.5,90,1,0,169.8,499.3A0.8,0.5,90,1,0,169.8,497.7ZM174.1,494.1A1.3,0.8,10,1,0,176.6,494.6A1.3,0.8,10,1,0,174.1,494.1ZM188.0,488.1A1.0,0.9,4,1,0,190.1,488.2A1.0,0.9,4,1,0,188.0,488.1ZM196.9,494.1A1.0,0.8,83,1,0,197.2,496.2A1.0,0.8,83,1,0,196.9,494.1ZM197.0,495.5A0.5,0.3,152,1,0,196.1,496.0A0.5,0.3,152,1,0,197.0,495.5ZM156.1,484.2A1.1,0.7,61,1,0,157.2,486.2A1.1,0.7,61,1,0,156.1,484.2ZM182.4,495.2A1.2,0.6,140,1,0,180.6,496.8A1.2,0.6,140,1,0,182.4,495.2ZM138.2,503.5A0.9,0.7,23,1,0,139.9,504.2A0.9,0.7,23,1,0,138.2,503.5ZM168.7,497.4A0.8,0.4,86,1,0,168.9,499.0A0.8,0.4,86,1,0,168.7,497.4Z" fill="#3cf038"/>
<path d="M177.8,477.0A0.7,0.5,63,1,0,178.4,478.2A0.7,0.5,63,1,0,177.8,477.0ZM192.3,477.2A0.8,0.6,91,1,0,192.3,478.8A0.8,0.6,91,1,0,192.3,477.2ZM196.8,513.0A1.1,0.6,51,1,0,198.2,514.7A1.1,0.6,51,1,0,196.8,513.0ZM175.8,499.7A0.9,0.5,80,1,0,176.1,501.5A0.9,0.5,80,1,0,175.8,499.7ZM166.0,502.2A1.2,1.0,97,1,0,165.7,504.5A1.2,1.0,97,1,0,166.0,502.2ZM167.4,502.4A0.7,0.4,148,1,0,166.2,503.1A0.7,0.4,148,1,0,167.4,502.4ZM173.1,495.3A0.9,0.6,27,1,0,174.7,496.1A0.9,0.6,27,1,0,173.1,495.3ZM140.2,501.3A1.2,0.9,23,1,0,142.4,502.2A1.2,0.9,23,1,0,140.2,501.3ZM169.7,485.3A1.1,0.6,100,1,0,169.3,487.5A1.1,0.6,100,1,0,169.7,485.3ZM163.0,508.2A0.9,0.7,79,1,0,163.3,510.0A0.9,0.7,79,1,0,163.0,508.2Z" fill="#2ce028"/>
<path d="M192.2,477.6A0.5,0.5,170,1,0,191.1,477.8A0.5,0.5,170,1,0,192.2,477.6ZM173.7,494.7A0.5,0.3,24,1,0,174.6,495.1A0.5,0.3,24,1,0,173.7,494.7ZM169.5,486.0A0.8,0.5,23,1,0,171.0,486.6A0.8,0.5,23,1,0,169.5,486.0Z" fill="#1eb41a"/>
</g></g>
<clipPath id="clip32"><rect x="135.90" y="419.60" width="68.30" height="51.20"/></clipPath>
<rect x="135.90" y="419.60" width="68.30" height="51.20" fill="#878b93"/>
<g clip-path="url(#clip32)"><g filter="url(#pb)">
<path d="M145.6,419.5A1.2,1.2,152,1,0,143.5,420.7A1.2,1.2,152,1,0,145.6,419.5ZM201.2,462.7A1.1,0.9,95,1,0,201.0,464.8A1.1,0.9,95,1,0,201.2,462.7ZM195.4,421.5A1.1,0.9,36,1,0,197.1,422.7A1.1,0.9,36,1,0,195.4,421.5ZM196.2,460.2A1.1,0.9,2,1,0,198.5,460.3A1.1,0.9,2,1,0,196.2,460.2ZM150.9,442.3A1.1,0.9,83,1,0,151.1,444.4A1.1,0.9,83,1,0,150.9,442.3ZM140.1,468.9A1.2,1.1,70,1,0,141.0,471.2A1.2,1.1,70,1,0,140.1,468.9ZM184.9,453.2A0.9,0.8,8,1,0,186.7,453.4A0.9,0.8,8,1,0,184.9,453.2ZM137.4,442.9A1.0,0.8,140,1,0,135.8,444.2A1.0,0.8,140,1,0,137.4,442.9ZM172.8,440.2A1.0,0.9,105,1,0,172.3,442.2A1.0,0.9,105,1,0,172.8,440.2ZM144.6,441.6A0.9,0.9,151,1,0,143.0,442.5A0.9,0.9,151,1,0,144.6,441.6ZM131.8,432.5A1.0,0.8,94,1,0,131.7,434.4A1.0,0.8,94,1,0,131.8,432.5ZM163.6,463.4A1.0,0.9,58,1,0,164.7,465.1A1.0,0.9,58,1,0,163.6,463.4ZM201.5,453.3A1.1,0.9,14,1,0,203.7,453.8A1.1,0.9,14,1,0,201.5,453.3ZM160.1,467.3A1.1,1.1,37,1,0,161.8,468.7A1.1,1.1,37,1,0,160.1,467.3ZM159.1,463.3A1.2,1.0,66,1,0,160.1,465.5A1.2,1.0,66,1,0,159.1,463.3ZM151.6,423.4A1.2,1.0,155,1,0,149.5,424.4A1.2,1.0,155,1,0,151.6,423.4ZM162.4,461.5A1.1,0.9,144,1,0,160.6,462.7A1.1,0.9,144,1,0,162.4,461.5ZM162.9,468.9A0.8,0.7,159,1,0,161.4,469.5A0.8,0.7,159,1,0,162.9,468.9ZM178.2,435.3A1.2,1.2,136,1,0,176.4,437.0A1.2,1.2,136,1,0,178.2,435.3ZM206.4,467.9A0.9,0.9,21,1,0,208.1,468.6A0.9,0.9,21,1,0,206.4,467.9ZM142.5,421.8A0.9,0.7,25,1,0,144.1,422.5A0.9,0.7,25,1,0,142.5,421.8ZM136.5,439.7A0.9,0.8,43,1,0,137.8,440.9A0.9,0.8,43,1,0,136.5,439.7ZM200.4,425.2A1.2,1.2,77,1,0,200.9,427.7A1.2,1.2,77,1,0,200.4,425.2ZM149.6,428.5A1.1,1.1,68,1,0,150.5,430.6A1.1,1.1,68,1,0,149.6,428.5ZM180.4,423.1A1.3,1.1,90,1,0,180.4,425.7A1.3,1.1,90,1,0,180.4,423.1ZM159.6,455.8A1.2,1.0,86,1,0,159.8,458.3A1.2,1.0,86,1,0,159.6,455.8ZM169.2,440.6A0.8,0.8,14,1,0,170.8,441.0A0.8,0.8,14,1,0,169.2,440.6ZM164.8,455.8A1.3,1.0,41,1,0,166.8,457.5A1.3,1.0,41,1,0,164.8,455.8ZM170.2,468.6A1.1,1.1,159,1,0,168.2,469.4A1.1,1.1,159,1,0,170.2,468.6ZM160.8,433.6A1.3,1.3,44,1,0,162.7,435.4A1.3,1.3,44,1,0,160.8,433.6Z" fill="#faeed8" stroke="#ecc08a" stroke-width="0.6"/>
<path d="M141.4,430.9A1.4,1.2,131,1,0,139.5,433.0A1.4,1.2,131,1,0,141.4,430.9ZM174.8,430.1A1.4,1.3,131,1,0,172.9,432.3A1.4,1.3,131,1,0,174.8,430.1ZM155.0,449.0A1.3,1.1,6,1,0,157.6,449.2A1.3,1.1,6,1,0,155.0,449.0ZM185.9,475.0A1.4,1.4,13,1,0,188.7,475.7A1.4,1.4,13,1,0,185.9,475.0ZM184.4,423.3A1.1,0.9,119,1,0,183.3,425.2A1.1,0.9,119,1,0,184.4,423.3ZM150.7,421.2A1.6,1.6,171,1,0,147.6,421.7A1.6,1.6,171,1,0,150.7,421.2ZM143.5,432.1A1.8,1.6,5,1,0,147.1,432.4A1.8,1.6,5,1,0,143.5,432.1ZM152.2,454.0A1.6,1.5,17,1,0,155.4,454.9A1.6,1.5,17,1,0,152.2,454.0ZM136.5,460.9A1.2,0.9,99,1,0,136.1,463.2A1.2,0.9,99,1,0,136.5,460.9ZM172.0,422.9A1.8,1.4,178,1,0,168.5,423.0A1.8,1.4,178,1,0,172.0,422.9ZM138.5,466.5A1.5,1.2,123,1,0,136.9,469.2A1.5,1.2,123,1,0,138.5,466.5ZM159.8,461.9A1.1,0.9,170,1,0,157.6,462.3A1.1,0.9,170,1,0,159.8,461.9ZM146.9,468.8A1.6,1.3,172,1,0,143.8,469.3A1.6,1.3,172,1,0,146.9,468.8ZM145.2,421.0A1.5,1.1,44,1,0,147.4,423.2A1.5,1.1,44,1,0,145.2,421.0ZM181.4,458.3A1.4,1.3,24,1,0,183.9,459.4A1.4,1.3,24,1,0,181.4,458.3ZM147.3,436.9A1.4,1.1,160,1,0,144.7,437.8A1.4,1.1,160,1,0,147.3,436.9ZM141.7,468.4A1.5,1.4,66,1,0,142.9,471.1A1.5,1.4,66,1,0,141.7,468.4ZM149.1,437.6A1.3,1.1,111,1,0,148.1,440.1A1.3,1.1,111,1,0,149.1,437.6ZM189.7,423.7A1.5,1.2,180,1,0,186.7,423.7A1.5,1.2,180,1,0,189.7,423.7ZM136.9,442.9A1.2,1.1,51,1,0,138.4,444.7A1.2,1.1,51,1,0,136.9,442.9ZM138.8,460.6A1.3,1.2,159,1,0,136.3,461.5A1.3,1.2,159,1,0,138.8,460.6ZM158.9,431.2A1.3,1.3,73,1,0,159.7,433.7A1.3,1.3,73,1,0,158.9,431.2ZM142.8,458.4A1.3,1.3,175,1,0,140.1,458.6A1.3,1.3,175,1,0,142.8,458.4ZM203.0,430.6A1.1,1.0,179,1,0,200.8,430.6A1.1,1.0,179,1,0,203.0,430.6ZM196.4,420.8A1.3,1.0,129,1,0,194.7,422.8A1.3,1.0,129,1,0,196.4,420.8ZM168.5,461.4A1.6,1.6,152,1,0,165.6,462.9A1.6,1.6,152,1,0,168.5,461.4ZM198.6,476.0A1.4,1.4,27,1,0,201.1,477.3A1.4,1.4,27,1,0,198.6,476.0ZM137.5,436.5A1.8,1.4,12,1,0,141.0,437.2A1.8,1.4,12,1,0,137.5,436.5ZM167.7,458.3A1.8,1.4,75,1,0,168.5,461.7A1.8,1.4,75,1,0,167.7,458.3ZM200.2,459.1A1.6,1.2,27,1,0,203.1,460.6A1.6,1.2,27,1,0,200.2,459.1ZM189.6,459.3A1.3,1.1,141,1,0,187.6,460.9A1.3,1.1,141,1,0,189.6,459.3ZM168.6,453.9A1.3,1.2,59,1,0,170.0,456.2A1.3,1.2,59,1,0,168.6,453.9ZM157.8,429.8A1.6,1.4,89,1,0,157.9,433.0A1.6,1.4,89,1,0,157.8,429.8ZM195.3,465.5A1.2,1.2,45,1,0,197.0,467.2A1.2,1.2,45,1,0,195.3,465.5ZM174.6,428.7A1.1,1.1,124,1,0,173.4,430.6A1.1,1.1,124,1,0,174.6,428.7ZM196.2,467.1A1.4,1.2,54,1,0,197.8,469.3A1.4,1.2,54,1,0,196.2,467.1ZM155.4,433.6A1.1,1.1,133,1,0,153.9,435.2A1.1,1.1,133,1,0,155.4,433.6ZM140.2,443.4A1.8,1.6,122,1,0,138.3,446.4A1.8,1.6,122,1,0,140.2,443.4ZM173.1,460.0A1.4,1.2,155,1,0,170.5,461.2A1.4,1.2,155,1,0,173.1,460.0ZM142.3,428.9A1.2,1.0,39,1,0,144.2,430.5A1.2,1.0,39,1,0,142.3,428.9ZM139.1,422.6A1.3,1.3,78,1,0,139.7,425.2A1.3,1.3,78,1,0,139.1,422.6ZM182.8,457.0A1.1,1.1,173,1,0,180.6,457.3A1.1,1.1,173,1,0,182.8,457.0ZM188.0,456.8A1.1,1.0,44,1,0,189.6,458.4A1.1,1.0,44,1,0,188.0,456.8ZM159.4,410.4A1.1,0.9,93,1,0,159.3,412.6A1.1,0.9,93,1,0,159.4,410.4ZM142.3,445.7A1.5,1.2,147,1,0,139.8,447.4A1.5,1.2,147,1,0,142.3,445.7ZM156.4,468.2A1.5,1.5,164,1,0,153.5,469.1A1.5,1.5,164,1,0,156.4,468.2ZM198.0,435.3A1.2,1.1,177,1,0,195.5,435.4A1.2,1.1,177,1,0,198.0,435.3ZM173.4,465.8A1.4,1.1,29,1,0,175.8,467.1A1.4,1.1,29,1,0,173.4,465.8ZM138.1,435.8A1.1,1.0,159,1,0,136.0,436.6A1.1,1.0,159,1,0,138.1,435.8ZM140.3,435.4A1.6,1.4,45,1,0,142.6,437.7A1.6,1.4,45,1,0,140.3,435.4ZM200.1,467.0A1.2,0.9,122,1,0,198.9,469.1A1.2,0.9,122,1,0,200.1,467.0ZM173.0,426.8A1.5,1.2,129,1,0,171.1,429.1A1.5,1.2,129,1,0,173.0,426.8ZM147.9,425.0A1.1,1.0,174,1,0,145.6,425.3A1.1,1.0,174,1,0,147.9,425.0ZM180.3,425.1A1.5,1.3,164,1,0,177.3,426.0A1.5,1.3,164,1,0,180.3,425.1ZM156.0,425.0A1.6,1.4,2,1,0,159.3,425.1A1.6,1.4,2,1,0,156.0,425.0ZM145.0,440.1A1.4,1.2,52,1,0,146.7,442.3A1.4,1.2,52,1,0,145.0,440.1ZM203.5,464.6A1.6,1.3,150,1,0,200.8,466.2A1.6,1.3,150,1,0,203.5,464.6ZM148.2,441.0A1.5,1.4,148,1,0,145.7,442.5A1.5,1.4,148,1,0,148.2,441.0ZM189.4,447.5A1.2,1.0,90,1,0,189.4,450.0A1.2,1.0,90,1,0,189.4,447.5ZM158.6,459.2A1.1,0.9,142,1,0,156.9,460.5A1.1,0.9,142,1,0,158.6,459.2ZM153.3,478.0A1.4,1.2,28,1,0,155.7,479.3A1.4,1.2,28,1,0,153.3,478.0ZM182.7,443.5A1.6,1.3,105,1,0,181.9,446.5A1.6,1.3,105,1,0,182.7,443.5ZM167.2,422.8A1.3,1.3,94,1,0,166.9,425.5A1.3,1.3,94,1,0,167.2,422.8ZM188.7,460.6A1.3,1.0,151,1,0,186.5,461.8A1.3,1.0,151,1,0,188.7,460.6Z" fill="#948c80" stroke="#f0cc98" stroke-width="0.85"/>
<path d="M185.3,427.4A2.2,1.8,92,1,0,185.2,431.8A2.2,1.8,92,1,0,185.3,427.4ZM191.2,435.3A2.1,1.2,166,1,0,187.2,436.3A2.1,1.2,166,1,0,191.2,435.3ZM160.9,461.4A2.4,1.4,90,1,0,160.9,466.2A2.4,1.4,90,1,0,160.9,461.4ZM135.6,458.2A2.0,1.4,41,1,0,138.7,460.9A2.0,1.4,41,1,0,135.6,458.2ZM171.4,468.2A1.7,1.3,135,1,0,169.1,470.5A1.7,1.3,135,1,0,171.4,468.2ZM139.2,450.2A2.3,2.0,81,1,0,139.9,454.8A2.3,2.0,81,1,0,139.2,450.2ZM196.1,465.3A2.6,2.1,58,1,0,198.8,469.7A2.6,2.1,58,1,0,196.1,465.3ZM176.5,448.0A1.9,1.5,167,1,0,172.9,448.9A1.9,1.5,167,1,0,176.5,448.0ZM154.7,429.4A2.0,1.1,80,1,0,155.3,433.4A2.0,1.1,80,1,0,154.7,429.4ZM145.4,451.1A2.5,2.0,14,1,0,150.1,452.3A2.5,2.0,14,1,0,145.4,451.1ZM145.4,442.8A1.7,1.5,77,1,0,146.1,446.1A1.7,1.5,77,1,0,145.4,442.8ZM201.5,452.1A2.1,1.4,145,1,0,198.2,454.5A2.1,1.4,145,1,0,201.5,452.1ZM140.2,449.8A1.7,1.3,15,1,0,143.5,450.7A1.7,1.3,15,1,0,140.2,449.8ZM143.2,435.4A1.9,1.5,133,1,0,140.7,438.2A1.9,1.5,133,1,0,143.2,435.4ZM169.7,446.1A1.9,1.1,77,1,0,170.6,449.9A1.9,1.1,77,1,0,169.7,446.1ZM192.8,437.0A2.3,1.5,42,1,0,196.2,440.1A2.3,1.5,42,1,0,192.8,437.0ZM155.8,429.9A2.4,1.5,85,1,0,156.1,434.6A2.4,1.5,85,1,0,155.8,429.9ZM150.0,427.2A2.3,2.0,1,1,0,154.6,427.3A2.3,2.0,1,1,0,150.0,427.2ZM151.2,445.2A2.5,1.4,44,1,0,154.8,448.7A2.5,1.4,44,1,0,151.2,445.2ZM156.5,448.5A1.7,1.0,148,1,0,153.6,450.3A1.7,1.0,148,1,0,156.5,448.5ZM192.4,427.9A1.9,1.4,26,1,0,195.8,429.5A1.9,1.4,26,1,0,192.4,427.9Z" fill="#7a7e86" stroke="#cfcbc2" stroke-width="0.6"/>
</g></g>
<clipPath id="clip42"><rect x="135.90" y="526.40" width="68.30" height="50.80"/></clipPath>
<rect x="135.90" y="526.40" width="68.30" height="50.80" fill="#92959b"/>
<g clip-path="url(#clip42)"><g filter="url(#pb)">
<path d="M177.8,526.1A2.4,1.4,40,1,0,181.4,529.2A2.4,1.4,40,1,0,177.8,526.1ZM195.1,530.7A1.8,1.0,5,1,0,198.6,531.0A1.8,1.0,5,1,0,195.1,530.7ZM138.0,534.8A1.8,1.0,98,1,0,137.5,538.2A1.8,1.0,98,1,0,138.0,534.8ZM145.0,574.6A1.6,1.1,17,1,0,148.1,575.5A1.6,1.1,17,1,0,145.0,574.6ZM177.4,564.8A2.7,1.4,97,1,0,176.8,570.1A2.7,1.4,97,1,0,177.4,564.8ZM175.6,567.6A2.2,1.3,155,1,0,171.6,569.5A2.2,1.3,155,1,0,175.6,567.6ZM137.3,537.5A1.8,0.8,14,1,0,140.8,538.4A1.8,0.8,14,1,0,137.3,537.5ZM154.2,557.1A1.8,0.8,67,1,0,155.6,560.3A1.8,0.8,67,1,0,154.2,557.1ZM197.8,558.1A2.4,1.1,31,1,0,201.9,560.5A2.4,1.1,31,1,0,197.8,558.1ZM162.2,574.4A2.3,1.5,100,1,0,161.4,579.0A2.3,1.5,100,1,0,162.2,574.4ZM187.9,536.5A1.8,0.8,57,1,0,189.9,539.6A1.8,0.8,57,1,0,187.9,536.5ZM201.2,569.2A2.0,1.3,118,1,0,199.4,572.7A2.0,1.3,118,1,0,201.2,569.2ZM167.6,538.1A1.8,1.0,101,1,0,166.9,541.6A1.8,1.0,101,1,0,167.6,538.1ZM199.3,546.7A2.1,0.9,180,1,0,195.1,546.7A2.1,0.9,180,1,0,199.3,546.7ZM140.7,530.8A2.0,0.8,143,1,0,137.5,533.2A2.0,0.8,143,1,0,140.7,530.8ZM164.5,576.8A2.5,1.0,175,1,0,159.4,577.2A2.5,1.0,175,1,0,164.5,576.8ZM183.6,559.3A2.3,1.0,48,1,0,186.6,562.7A2.3,1.0,48,1,0,183.6,559.3ZM148.0,563.8A2.1,0.9,140,1,0,144.7,566.5A2.1,0.9,140,1,0,148.0,563.8ZM187.7,563.2A2.2,1.0,86,1,0,188.0,567.5A2.2,1.0,86,1,0,187.7,563.2ZM195.8,545.5A2.4,1.1,97,1,0,195.2,550.3A2.4,1.1,97,1,0,195.8,545.5ZM156.8,574.9A2.1,0.9,79,1,0,157.6,579.0A2.1,0.9,79,1,0,156.8,574.9ZM149.9,542.4A1.8,0.7,41,1,0,152.6,544.7A1.8,0.7,41,1,0,149.9,542.4ZM183.7,536.8A2.2,1.2,168,1,0,179.5,537.7A2.2,1.2,168,1,0,183.7,536.8ZM187.6,566.8A2.0,1.1,17,1,0,191.4,568.0A2.0,1.1,17,1,0,187.6,566.8ZM169.4,563.4A1.6,0.8,177,1,0,166.2,563.5A1.6,0.8,177,1,0,169.4,563.4ZM157.4,569.0A2.0,1.1,34,1,0,160.8,571.3A2.0,1.1,34,1,0,157.4,569.0ZM192.3,533.6A2.0,0.8,38,1,0,195.4,536.1A2.0,0.8,38,1,0,192.3,533.6ZM163.4,575.2A2.0,1.1,141,1,0,160.2,577.7A2.0,1.1,141,1,0,163.4,575.2ZM202.4,575.7A1.7,0.8,129,1,0,200.2,578.3A1.7,0.8,129,1,0,202.4,575.7ZM203.2,554.7A1.6,0.9,135,1,0,201.0,556.9A1.6,0.9,135,1,0,203.2,554.7ZM171.8,569.5A1.6,0.7,173,1,0,168.7,569.9A1.6,0.7,173,1,0,171.8,569.5ZM174.2,559.8A2.6,1.2,22,1,0,178.9,561.6A2.6,1.2,22,1,0,174.2,559.8ZM177.1,555.8A2.1,1.4,105,1,0,176.0,559.9A2.1,1.4,105,1,0,177.1,555.8ZM149.1,560.6A2.3,1.1,71,1,0,150.6,565.0A2.3,1.1,71,1,0,149.1,560.6ZM157.1,561.9A2.7,1.9,82,1,0,157.8,567.3A2.7,1.9,82,1,0,157.1,561.9ZM143.4,536.7A2.6,1.7,168,1,0,138.4,537.8A2.6,1.7,168,1,0,143.4,536.7ZM204.9,558.6A1.9,1.1,147,1,0,201.8,560.6A1.9,1.1,147,1,0,204.9,558.6ZM198.0,532.5A2.2,1.0,19,1,0,202.1,533.9A2.2,1.0,19,1,0,198.0,532.5ZM178.0,561.2A1.8,1.0,114,1,0,176.5,564.5A1.8,1.0,114,1,0,178.0,561.2ZM197.3,567.6A1.8,0.7,76,1,0,198.2,571.2A1.8,0.7,76,1,0,197.3,567.6ZM190.1,557.2A2.2,1.1,133,1,0,187.1,560.3A2.2,1.1,133,1,0,190.1,557.2ZM174.2,531.8A2.6,1.6,55,1,0,177.1,536.0A2.6,1.6,55,1,0,174.2,531.8ZM193.5,570.9A1.6,1.0,45,1,0,195.8,573.2A1.6,1.0,45,1,0,193.5,570.9ZM194.0,545.8A2.6,1.7,28,1,0,198.6,548.3A2.6,1.7,28,1,0,194.0,545.8ZM185.7,540.4A2.0,1.1,92,1,0,185.6,544.3A2.0,1.1,92,1,0,185.7,540.4ZM155.4,561.9A2.1,1.3,167,1,0,151.2,562.9A2.1,1.3,167,1,0,155.4,561.9ZM184.3,560.0A2.3,1.1,13,1,0,188.8,561.0A2.3,1.1,13,1,0,184.3,560.0ZM156.2,568.0A1.9,1.0,54,1,0,158.4,571.0A1.9,1.0,54,1,0,156.2,568.0ZM162.7,538.9A2.6,1.6,76,1,0,164.0,544.0A2.6,1.6,76,1,0,162.7,538.9ZM197.8,556.2A1.5,0.7,99,1,0,197.3,559.2A1.5,0.7,99,1,0,197.8,556.2ZM165.0,553.8A2.0,0.9,84,1,0,165.5,557.9A2.0,0.9,84,1,0,165.0,553.8ZM173.1,557.3A2.4,1.4,147,1,0,169.1,559.9A2.4,1.4,147,1,0,173.1,557.3ZM149.8,535.1A2.1,1.4,44,1,0,152.7,538.0A2.1,1.4,44,1,0,149.8,535.1ZM139.0,546.1A2.3,1.3,35,1,0,142.8,548.8A2.3,1.3,35,1,0,139.0,546.1ZM154.3,558.0A2.4,1.0,135,1,0,150.8,561.4A2.4,1.0,135,1,0,154.3,558.0ZM153.4,528.9A1.9,1.1,49,1,0,155.9,531.8A1.9,1.1,49,1,0,153.4,528.9ZM146.3,536.9A1.6,0.8,127,1,0,144.4,539.4A1.6,0.8,127,1,0,146.3,536.9ZM172.3,545.0A2.6,1.5,76,1,0,173.6,550.0A2.6,1.5,76,1,0,172.3,545.0ZM185.6,553.0A1.8,0.9,40,1,0,188.3,555.3A1.8,0.9,40,1,0,185.6,553.0ZM137.4,541.9A1.7,0.9,73,1,0,138.4,545.1A1.7,0.9,73,1,0,137.4,541.9ZM143.9,556.0A2.2,0.9,71,1,0,145.3,560.1A2.2,0.9,71,1,0,143.9,556.0ZM177.9,533.0A2.0,0.9,9,1,0,181.7,533.6A2.0,0.9,9,1,0,177.9,533.0ZM160.0,563.3A2.5,1.2,135,1,0,156.4,566.8A2.5,1.2,135,1,0,160.0,563.3ZM143.4,527.4A1.9,1.1,180,1,0,139.6,527.4A1.9,1.1,180,1,0,143.4,527.4ZM138.4,532.3A2.2,1.0,121,1,0,136.2,536.0A2.2,1.0,121,1,0,138.4,532.3ZM184.5,563.1A2.4,1.0,109,1,0,182.9,567.6A2.4,1.0,109,1,0,184.5,563.1ZM190.0,575.3A1.9,1.1,5,1,0,193.7,575.6A1.9,1.1,5,1,0,190.0,575.3ZM199.1,546.0A2.3,1.4,14,1,0,203.6,547.1A2.3,1.4,14,1,0,199.1,546.0ZM202.7,564.3A1.9,1.1,77,1,0,203.5,568.1A1.9,1.1,77,1,0,202.7,564.3ZM178.8,566.2A2.4,1.6,78,1,0,179.8,570.8A2.4,1.6,78,1,0,178.8,566.2ZM154.2,565.4A2.0,1.3,87,1,0,154.5,569.5A2.0,1.3,87,1,0,154.2,565.4ZM152.0,548.6A1.5,1.0,68,1,0,153.1,551.4A1.5,1.0,68,1,0,152.0,548.6ZM185.4,540.2A1.6,1.0,171,1,0,182.2,540.7A1.6,1.0,171,1,0,185.4,540.2ZM170.2,563.0A2.1,1.3,116,1,0,168.3,566.8A2.1,1.3,116,1,0,170.2,563.0ZM141.0,535.9A2.2,1.2,55,1,0,143.5,539.5A2.2,1.2,55,1,0,141.0,535.9ZM153.1,538.2A1.6,0.9,35,1,0,155.8,540.1A1.6,0.9,35,1,0,153.1,538.2ZM187.8,533.4A2.4,1.6,87,1,0,188.1,538.2A2.4,1.6,87,1,0,187.8,533.4ZM170.3,539.8A1.8,0.8,35,1,0,173.2,541.8A1.8,0.8,35,1,0,170.3,539.8ZM139.0,553.4A2.2,1.3,175,1,0,134.7,553.7A2.2,1.3,175,1,0,139.0,553.4ZM146.5,569.7A2.2,1.2,157,1,0,142.5,571.4A2.2,1.2,157,1,0,146.5,569.7ZM168.0,535.4A2.1,1.3,169,1,0,163.9,536.1A2.1,1.3,169,1,0,168.0,535.4ZM161.6,529.9A1.7,1.0,10,1,0,164.9,530.4A1.7,1.0,10,1,0,161.6,529.9ZM158.3,575.4A2.2,1.4,138,1,0,155.0,578.4A2.2,1.4,138,1,0,158.3,575.4ZM150.9,550.5A2.5,1.8,80,1,0,151.8,555.4A2.5,1.8,80,1,0,150.9,550.5ZM158.6,556.0A2.6,1.2,133,1,0,155.0,559.9A2.6,1.2,133,1,0,158.6,556.0ZM149.0,559.1A1.6,0.6,31,1,0,151.7,560.8A1.6,0.6,31,1,0,149.0,559.1ZM164.9,555.0A2.3,1.4,42,1,0,168.4,558.1A2.3,1.4,42,1,0,164.9,555.0ZM200.8,545.7A2.6,1.7,117,1,0,198.5,550.3A2.6,1.7,117,1,0,200.8,545.7ZM142.3,533.3A2.2,1.1,135,1,0,139.2,536.4A2.2,1.1,135,1,0,142.3,533.3ZM146.5,561.0A2.1,1.2,170,1,0,142.3,561.8A2.1,1.2,170,1,0,146.5,561.0ZM140.4,526.9A1.8,0.8,58,1,0,142.3,530.0A1.8,0.8,58,1,0,140.4,526.9ZM204.3,568.5A2.7,1.6,171,1,0,198.9,569.3A2.7,1.6,171,1,0,204.3,568.5ZM199.3,533.7A2.1,0.9,114,1,0,197.6,537.5A2.1,0.9,114,1,0,199.3,533.7ZM161.4,542.5A1.9,1.2,154,1,0,158.0,544.2A1.9,1.2,154,1,0,161.4,542.5ZM179.2,552.9A1.9,1.2,34,1,0,182.4,555.0A1.9,1.2,34,1,0,179.2,552.9ZM179.0,562.4A2.6,1.4,99,1,0,178.2,567.6A2.6,1.4,99,1,0,179.0,562.4ZM176.1,554.4A2.6,1.4,179,1,0,170.9,554.5A2.6,1.4,179,1,0,176.1,554.4ZM145.3,567.0A2.1,1.0,129,1,0,142.6,570.3A2.1,1.0,129,1,0,145.3,567.0ZM193.2,574.3A2.0,1.3,99,1,0,192.6,578.1A2.0,1.3,99,1,0,193.2,574.3ZM165.8,572.9A1.8,0.9,148,1,0,162.7,574.8A1.8,0.9,148,1,0,165.8,572.9ZM174.1,576.2A2.1,1.1,27,1,0,177.9,578.1A2.1,1.1,27,1,0,174.1,576.2ZM172.7,552.5A1.7,1.1,58,1,0,174.5,555.5A1.7,1.1,58,1,0,172.7,552.5ZM185.3,565.5A2.5,1.7,119,1,0,182.8,569.8A2.5,1.7,119,1,0,185.3,565.5ZM170.4,525.8A2.5,1.7,106,1,0,169.0,530.7A2.5,1.7,106,1,0,170.4,525.8ZM167.3,551.6A2.0,1.2,130,1,0,164.7,554.6A2.0,1.2,130,1,0,167.3,551.6ZM180.7,568.6A2.6,1.1,125,1,0,177.7,572.8A2.6,1.1,125,1,0,180.7,568.6ZM188.4,540.4A2.1,1.2,26,1,0,192.2,542.2A2.1,1.2,26,1,0,188.4,540.4ZM192.1,534.1A2.2,1.1,157,1,0,188.0,535.9A2.2,1.1,157,1,0,192.1,534.1ZM197.0,532.4A1.8,0.7,46,1,0,199.5,535.0A1.8,0.7,46,1,0,197.0,532.4ZM189.1,571.2A2.0,1.0,28,1,0,192.6,573.1A2.0,1.0,28,1,0,189.1,571.2ZM174.3,557.1A2.5,1.2,45,1,0,177.8,560.6A2.5,1.2,45,1,0,174.3,557.1ZM162.7,548.8A2.2,1.5,103,1,0,161.7,553.1A2.2,1.5,103,1,0,162.7,548.8ZM154.6,574.4A2.2,1.3,49,1,0,157.5,577.7A2.2,1.3,49,1,0,154.6,574.4ZM186.7,526.3A2.6,1.3,89,1,0,186.8,531.5A2.6,1.3,89,1,0,186.7,526.3ZM191.4,555.2A2.2,1.4,115,1,0,189.5,559.3A2.2,1.4,115,1,0,191.4,555.2ZM180.6,539.8A2.4,1.0,104,1,0,179.5,544.4A2.4,1.0,104,1,0,180.6,539.8ZM154.1,563.5A2.1,1.5,24,1,0,158.0,565.2A2.1,1.5,24,1,0,154.1,563.5ZM203.2,566.3A1.5,0.9,142,1,0,200.8,568.2A1.5,0.9,142,1,0,203.2,566.3ZM167.6,558.2A2.5,1.7,105,1,0,166.3,563.0A2.5,1.7,105,1,0,167.6,558.2ZM145.3,537.5A2.2,1.5,159,1,0,141.3,539.1A2.2,1.5,159,1,0,145.3,537.5ZM197.7,531.2A2.4,1.6,121,1,0,195.3,535.3A2.4,1.6,121,1,0,197.7,531.2ZM164.1,562.5A1.6,0.9,75,1,0,165.0,565.7A1.6,0.9,75,1,0,164.1,562.5ZM163.0,572.9A2.0,1.4,67,1,0,164.6,576.6A2.0,1.4,67,1,0,163.0,572.9ZM194.7,528.8A2.7,1.4,98,1,0,194.0,534.1A2.7,1.4,98,1,0,194.7,528.8ZM164.9,535.1A2.0,1.2,153,1,0,161.3,537.0A2.0,1.2,153,1,0,164.9,535.1ZM181.1,555.6A1.8,0.8,142,1,0,178.3,557.8A1.8,0.8,142,1,0,181.1,555.6ZM196.7,542.6A1.5,1.0,162,1,0,193.9,543.6A1.5,1.0,162,1,0,196.7,542.6ZM143.8,531.8A2.3,0.9,31,1,0,147.7,534.2A2.3,0.9,31,1,0,143.8,531.8ZM136.0,565.1A1.7,0.7,58,1,0,137.8,568.0A1.7,0.7,58,1,0,136.0,565.1ZM172.5,531.7A1.6,1.0,170,1,0,169.4,532.2A1.6,1.0,170,1,0,172.5,531.7ZM196.7,552.7A1.6,0.9,174,1,0,193.6,553.1A1.6,0.9,174,1,0,196.7,552.7ZM164.9,560.8A1.6,0.7,164,1,0,161.8,561.7A1.6,0.7,164,1,0,164.9,560.8ZM178.3,527.8A2.2,1.1,114,1,0,176.6,531.7A2.2,1.1,114,1,0,178.3,527.8ZM204.4,551.8A1.6,1.0,109,1,0,203.3,554.9A1.6,1.0,109,1,0,204.4,551.8ZM166.5,536.0A2.0,0.9,82,1,0,167.0,540.0A2.0,0.9,82,1,0,166.5,536.0ZM162.7,559.0A2.6,1.1,27,1,0,167.4,561.4A2.6,1.1,27,1,0,162.7,559.0ZM194.4,529.3A2.5,1.4,133,1,0,191.0,532.9A2.5,1.4,133,1,0,194.4,529.3ZM174.2,554.2A1.9,1.2,22,1,0,177.7,555.6A1.9,1.2,22,1,0,174.2,554.2ZM189.4,570.3A2.2,1.1,174,1,0,184.9,570.7A2.2,1.1,174,1,0,189.4,570.3ZM174.1,536.2A1.6,1.1,40,1,0,176.6,538.3A1.6,1.1,40,1,0,174.1,536.2ZM163.1,563.7A2.5,1.7,145,1,0,158.9,566.6A2.5,1.7,145,1,0,163.1,563.7ZM189.2,557.4A2.6,1.7,5,1,0,194.4,557.8A2.6,1.7,5,1,0,189.2,557.4ZM153.1,534.0A1.9,0.8,56,1,0,155.2,537.1A1.9,0.8,56,1,0,153.1,534.0ZM193.3,554.2A2.3,0.9,26,1,0,197.4,556.1A2.3,0.9,26,1,0,193.3,554.2ZM185.9,535.6A1.9,1.2,61,1,0,187.8,539.0A1.9,1.2,61,1,0,185.9,535.6ZM187.3,555.0A1.7,1.0,9,1,0,190.6,555.5A1.7,1.0,9,1,0,187.3,555.0ZM181.8,538.2A2.0,1.0,87,1,0,182.0,542.3A2.0,1.0,87,1,0,181.8,538.2ZM186.0,530.4A2.3,1.3,51,1,0,188.9,534.0A2.3,1.3,51,1,0,186.0,530.4ZM181.9,527.3A1.5,0.7,108,1,0,181.0,530.1A1.5,0.7,108,1,0,181.9,527.3ZM149.6,532.1A1.5,0.9,59,1,0,151.1,534.7A1.5,0.9,59,1,0,149.6,532.1ZM147.9,543.2A2.5,1.6,90,1,0,147.9,548.2A2.5,1.6,90,1,0,147.9,543.2ZM138.2,570.0A2.6,1.7,3,1,0,143.4,570.3A2.6,1.7,3,1,0,138.2,570.0ZM174.8,553.9A1.6,0.7,75,1,0,175.6,557.1A1.6,0.7,75,1,0,174.8,553.9ZM160.3,565.8A2.6,1.1,150,1,0,155.8,568.4A2.6,1.1,150,1,0,160.3,565.8ZM193.7,536.8A2.0,1.0,94,1,0,193.4,540.7A2.0,1.0,94,1,0,193.7,536.8ZM159.1,541.7A1.6,0.9,92,1,0,159.0,545.0A1.6,0.9,92,1,0,159.1,541.7ZM199.9,542.8A2.5,1.2,147,1,0,195.7,545.5A2.5,1.2,147,1,0,199.9,542.8ZM147.6,534.9A2.3,1.0,137,1,0,144.2,538.0A2.3,1.0,137,1,0,147.6,534.9ZM200.0,552.7A2.5,1.5,112,1,0,198.1,557.4A2.5,1.5,112,1,0,200.0,552.7ZM145.1,528.4A1.8,0.8,55,1,0,147.3,531.4A1.8,0.8,55,1,0,145.1,528.4ZM168.1,541.7A2.5,1.1,10,1,0,173.0,542.6A2.5,1.1,10,1,0,168.1,541.7ZM195.0,567.8A2.1,1.2,91,1,0,194.9,571.9A2.1,1.2,91,1,0,195.0,567.8ZM191.9,570.6A2.3,1.1,146,1,0,188.1,573.2A2.3,1.1,146,1,0,191.9,570.6ZM165.9,533.2A2.6,1.3,19,1,0,170.8,534.9A2.6,1.3,19,1,0,165.9,533.2ZM183.2,550.6A2.0,1.1,45,1,0,186.1,553.5A2.0,1.1,45,1,0,183.2,550.6ZM170.3,532.9A2.0,1.0,51,1,0,172.9,536.0A2.0,1.0,51,1,0,170.3,532.9ZM175.2,566.2A1.6,1.0,12,1,0,178.3,566.8A1.6,1.0,12,1,0,175.2,566.2ZM157.7,562.4A2.5,1.3,163,1,0,152.9,563.9A2.5,1.3,163,1,0,157.7,562.4ZM178.0,533.3A2.3,1.2,174,1,0,173.4,533.8A2.3,1.2,174,1,0,178.0,533.3ZM175.6,571.8A2.4,1.6,68,1,0,177.5,576.3A2.4,1.6,68,1,0,175.6,571.8ZM182.8,566.7A2.1,1.3,123,1,0,180.5,570.3A2.1,1.3,123,1,0,182.8,566.7ZM163.3,543.8A1.8,1.2,32,1,0,166.3,545.7A1.8,1.2,32,1,0,163.3,543.8ZM166.7,537.3A2.5,1.1,14,1,0,171.6,538.5A2.5,1.1,14,1,0,166.7,537.3ZM146.9,544.3A2.4,1.6,150,1,0,142.8,546.8A2.4,1.6,150,1,0,146.9,544.3ZM148.1,547.1A1.8,1.0,122,1,0,146.3,550.2A1.8,1.0,122,1,0,148.1,547.1ZM155.6,562.6A1.9,1.2,96,1,0,155.2,566.3A1.9,1.2,96,1,0,155.6,562.6ZM170.6,568.4A2.7,1.4,170,1,0,165.3,569.3A2.7,1.4,170,1,0,170.6,568.4ZM157.6,545.5A2.5,1.6,174,1,0,152.7,546.1A2.5,1.6,174,1,0,157.6,545.5ZM147.4,538.3A2.2,0.9,157,1,0,143.4,539.9A2.2,0.9,157,1,0,147.4,538.3ZM195.0,568.4A1.8,1.2,137,1,0,192.3,570.9A1.8,1.2,137,1,0,195.0,568.4ZM135.7,527.3A2.7,1.4,42,1,0,139.7,530.9A2.7,1.4,42,1,0,135.7,527.3ZM182.3,548.7A1.8,1.2,14,1,0,185.8,549.6A1.8,1.2,14,1,0,182.3,548.7ZM171.6,562.7A1.8,0.9,20,1,0,175.1,564.0A1.8,0.9,20,1,0,171.6,562.7ZM197.8,554.9A1.8,0.8,93,1,0,197.6,558.5A1.8,0.8,93,1,0,197.8,554.9ZM164.6,555.4A2.3,1.0,75,1,0,165.8,559.9A2.3,1.0,75,1,0,164.6,555.4ZM202.5,527.2A2.7,1.5,91,1,0,202.4,532.5A2.7,1.5,91,1,0,202.5,527.2ZM164.4,550.2A1.8,0.7,177,1,0,160.8,550.4A1.8,0.7,177,1,0,164.4,550.2ZM190.7,541.7A2.4,1.5,113,1,0,188.8,546.1A2.4,1.5,113,1,0,190.7,541.7ZM160.0,527.7A1.7,1.1,146,1,0,157.2,529.6A1.7,1.1,146,1,0,160.0,527.7ZM168.9,560.8A1.6,1.0,146,1,0,166.3,562.6A1.6,1.0,146,1,0,168.9,560.8ZM165.9,540.4A1.6,1.1,36,1,0,168.4,542.2A1.6,1.1,36,1,0,165.9,540.4ZM169.4,574.9A2.4,1.1,46,1,0,172.8,578.4A2.4,1.1,46,1,0,169.4,574.9ZM204.5,551.1A2.1,1.4,166,1,0,200.3,552.1A2.1,1.4,166,1,0,204.5,551.1ZM187.4,529.3A2.2,1.1,148,1,0,183.7,531.6A2.2,1.1,148,1,0,187.4,529.3ZM142.0,558.1A2.0,1.2,108,1,0,140.7,561.9A2.0,1.2,108,1,0,142.0,558.1ZM203.6,572.8A1.9,1.2,115,1,0,202.0,576.3A1.9,1.2,115,1,0,203.6,572.8ZM183.1,572.5A2.4,1.0,109,1,0,181.5,577.1A2.4,1.0,109,1,0,183.1,572.5ZM139.7,563.9A2.2,1.3,69,1,0,141.3,568.0A2.2,1.3,69,1,0,139.7,563.9ZM183.9,573.1A2.2,1.2,137,1,0,180.7,576.1A2.2,1.2,137,1,0,183.9,573.1ZM160.9,558.6A2.4,1.3,20,1,0,165.3,560.2A2.4,1.3,20,1,0,160.9,558.6ZM160.9,553.4A2.0,1.4,47,1,0,163.7,556.4A2.0,1.4,47,1,0,160.9,553.4ZM153.1,572.0A2.5,1.4,22,1,0,157.7,573.9A2.5,1.4,22,1,0,153.1,572.0ZM198.6,546.9A2.5,1.2,123,1,0,195.9,551.1A2.5,1.2,123,1,0,198.6,546.9ZM162.0,528.9A2.5,1.5,160,1,0,157.3,530.5A2.5,1.5,160,1,0,162.0,528.9ZM161.6,565.7A1.6,0.8,110,1,0,160.5,568.7A1.6,0.8,110,1,0,161.6,565.7ZM206.0,561.3A2.5,1.1,138,1,0,202.3,564.6A2.5,1.1,138,1,0,206.0,561.3ZM203.3,557.4A1.9,1.3,122,1,0,201.3,560.6A1.9,1.3,122,1,0,203.3,557.4ZM191.2,558.7A2.0,1.4,174,1,0,187.2,559.1A2.0,1.4,174,1,0,191.2,558.7ZM138.0,531.8A1.9,1.2,30,1,0,141.3,533.6A1.9,1.2,30,1,0,138.0,531.8ZM173.7,530.7A2.1,0.9,96,1,0,173.3,534.9A2.1,0.9,96,1,0,173.7,530.7ZM201.6,532.5A2.2,1.5,130,1,0,198.8,535.9A2.2,1.5,130,1,0,201.6,532.5ZM172.1,568.0A2.3,1.3,8,1,0,176.6,568.6A2.3,1.3,8,1,0,172.1,568.0ZM181.3,563.5A2.1,1.2,115,1,0,179.5,567.3A2.1,1.2,115,1,0,181.3,563.5ZM157.6,573.7A2.3,1.1,145,1,0,153.8,576.3A2.3,1.1,145,1,0,157.6,573.7ZM140.8,527.7A1.7,1.0,87,1,0,141.0,531.2A1.7,1.0,87,1,0,140.8,527.7ZM159.7,561.8A2.7,1.2,155,1,0,154.8,564.0A2.7,1.2,155,1,0,159.7,561.8ZM161.0,553.1A1.8,0.9,84,1,0,161.4,556.7A1.8,0.9,84,1,0,161.0,553.1ZM143.1,539.5A1.8,1.2,111,1,0,141.9,542.8A1.8,1.2,111,1,0,143.1,539.5ZM145.5,541.0A2.4,1.3,56,1,0,148.1,545.0A2.4,1.3,56,1,0,145.5,541.0ZM168.4,551.5A2.6,1.5,4,1,0,173.7,551.9A2.6,1.5,4,1,0,168.4,551.5ZM199.9,537.0A2.1,1.4,9,1,0,204.0,537.7A2.1,1.4,9,1,0,199.9,537.0ZM182.4,549.4A2.0,1.3,152,1,0,178.8,551.2A2.0,1.3,152,1,0,182.4,549.4ZM184.9,563.1A2.2,1.0,72,1,0,186.3,567.3A2.2,1.0,72,1,0,184.9,563.1ZM175.0,528.9A1.8,1.3,138,1,0,172.3,531.4A1.8,1.3,138,1,0,175.0,528.9ZM200.1,562.7A2.1,0.9,92,1,0,200.0,566.9A2.1,0.9,92,1,0,200.1,562.7ZM145.0,541.1A2.2,1.2,82,1,0,145.6,545.5A2.2,1.2,82,1,0,145.0,541.1Z" fill="#747d8a" stroke="#b9b9b5" stroke-width="0.8"/>
<path d="M191.7,525.9A1.0,0.9,126,1,0,190.6,527.5A1.0,0.9,126,1,0,191.7,525.9ZM140.6,577.0A1.3,1.1,174,1,0,138.1,577.3A1.3,1.1,174,1,0,140.6,577.0ZM161.8,533.5A1.1,1.0,127,1,0,160.5,535.3A1.1,1.0,127,1,0,161.8,533.5ZM200.2,566.6A0.9,0.8,146,1,0,198.7,567.7A0.9,0.8,146,1,0,200.2,566.6ZM166.7,541.4A0.8,0.7,41,1,0,168.0,542.4A0.8,0.7,41,1,0,166.7,541.4ZM150.0,543.0A0.9,0.8,174,1,0,148.2,543.2A0.9,0.8,174,1,0,150.0,543.0ZM167.5,571.8A0.8,0.8,31,1,0,168.9,572.6A0.8,0.8,31,1,0,167.5,571.8ZM194.5,548.5A1.3,1.2,120,1,0,193.2,550.7A1.3,1.2,120,1,0,194.5,548.5ZM152.9,557.7A1.1,1.0,94,1,0,152.7,559.9A1.1,1.0,94,1,0,152.9,557.7ZM183.1,569.2A0.8,0.7,68,1,0,183.7,570.7A0.8,0.7,68,1,0,183.1,569.2ZM160.9,564.5A1.0,0.9,172,1,0,158.9,564.8A1.0,0.9,172,1,0,160.9,564.5ZM190.1,559.4A0.9,0.8,171,1,0,188.4,559.7A0.9,0.8,171,1,0,190.1,559.4ZM143.1,564.8A0.9,0.8,108,1,0,142.6,566.5A0.9,0.8,108,1,0,143.1,564.8ZM158.0,569.1A1.3,1.2,19,1,0,160.4,570.0A1.3,1.2,19,1,0,158.0,569.1ZM153.0,569.3A1.2,1.1,16,1,0,155.4,570.0A1.2,1.1,16,1,0,153.0,569.3ZM147.7,536.1A1.2,1.1,61,1,0,148.9,538.3A1.2,1.1,61,1,0,147.7,536.1ZM171.6,547.0A1.2,1.0,60,1,0,172.7,549.0A1.2,1.0,60,1,0,171.6,547.0ZM154.2,527.3A1.1,1.0,85,1,0,154.4,529.6A1.1,1.0,85,1,0,154.2,527.3ZM155.7,573.4A1.0,0.9,99,1,0,155.4,575.4A1.0,0.9,99,1,0,155.7,573.4ZM169.8,570.2A1.2,1.1,50,1,0,171.4,572.0A1.2,1.1,50,1,0,169.8,570.2ZM173.8,538.1A1.2,1.1,8,1,0,176.1,538.4A1.2,1.1,8,1,0,173.8,538.1ZM193.7,568.8A1.0,0.9,68,1,0,194.4,570.6A1.0,0.9,68,1,0,193.7,568.8ZM198.6,576.2A0.8,0.8,78,1,0,199.0,577.9A0.8,0.8,78,1,0,198.6,576.2ZM185.6,558.7A1.3,1.1,113,1,0,184.6,561.0A1.3,1.1,113,1,0,185.6,558.7ZM171.3,571.9A1.2,1.1,46,1,0,173.0,573.7A1.2,1.1,46,1,0,171.3,571.9ZM168.4,566.6A0.9,0.8,61,1,0,169.2,568.1A0.9,0.8,61,1,0,168.4,566.6ZM151.9,529.3A1.0,0.9,164,1,0,150.1,529.9A1.0,0.9,164,1,0,151.9,529.3ZM173.7,529.3A0.9,0.8,37,1,0,175.2,530.4A0.9,0.8,37,1,0,173.7,529.3ZM186.5,551.9A1.2,1.1,86,1,0,186.6,554.3A1.2,1.1,86,1,0,186.5,551.9ZM194.7,558.8A0.9,0.8,130,1,0,193.6,560.2A0.9,0.8,130,1,0,194.7,558.8ZM189.4,550.8A1.0,0.9,137,1,0,187.9,552.2A1.0,0.9,137,1,0,189.4,550.8ZM138.4,572.6A1.2,1.1,117,1,0,137.3,574.8A1.2,1.1,117,1,0,138.4,572.6ZM145.8,540.3A0.9,0.8,125,1,0,144.8,541.7A0.9,0.8,125,1,0,145.8,540.3ZM139.0,546.9A0.9,0.8,82,1,0,139.3,548.6A0.9,0.8,82,1,0,139.0,546.9ZM159.8,565.3A0.9,0.8,60,1,0,160.7,566.8A0.9,0.8,60,1,0,159.8,565.3ZM162.0,571.3A1.0,0.9,161,1,0,160.1,571.9A1.0,0.9,161,1,0,162.0,571.3ZM199.3,557.9A0.9,0.8,92,1,0,199.2,559.7A0.9,0.8,92,1,0,199.3,557.9ZM148.6,533.4A1.1,1.0,5,1,0,150.7,533.5A1.1,1.0,5,1,0,148.6,533.4Z" fill="#f0dcc0" stroke="#d8bc98" stroke-width="0.6"/>
<path d="M167.2,548.8A1.8,1.2,158,1,0,164.0,550.1A1.8,1.2,158,1,0,167.2,548.8ZM146.8,571.0A2.1,1.6,54,1,0,149.4,574.5A2.1,1.6,54,1,0,146.8,571.0ZM160.2,526.5A2.3,1.5,158,1,0,155.9,528.3A2.3,1.5,158,1,0,160.2,526.5ZM137.9,570.5A2.0,1.0,15,1,0,141.8,571.5A2.0,1.0,15,1,0,137.9,570.5ZM180.4,537.4A1.6,0.9,155,1,0,177.6,538.7A1.6,0.9,155,1,0,180.4,537.4ZM154.5,536.8A2.4,1.7,80,1,0,155.3,541.4A2.4,1.7,80,1,0,154.5,536.8ZM138.5,529.6A2.0,1.7,163,1,0,134.6,530.8A2.0,1.7,163,1,0,138.5,529.6ZM200.3,567.4A2.2,1.4,4,1,0,204.8,567.8A2.2,1.4,4,1,0,200.3,567.4ZM191.2,531.2A1.7,1.4,155,1,0,188.1,532.6A1.7,1.4,155,1,0,191.2,531.2ZM180.0,544.3A2.4,1.3,97,1,0,179.4,549.1A2.4,1.3,97,1,0,180.0,544.3ZM201.1,534.3A1.6,1.1,48,1,0,203.3,536.7A1.6,1.1,48,1,0,201.1,534.3ZM165.0,533.8A1.6,0.9,93,1,0,164.9,536.9A1.6,0.9,93,1,0,165.0,533.8ZM177.3,572.6A2.2,1.6,110,1,0,175.8,576.7A2.2,1.6,110,1,0,177.3,572.6ZM194.0,552.8A2.0,1.2,134,1,0,191.3,555.7A2.0,1.2,134,1,0,194.0,552.8ZM168.6,560.0A2.1,1.6,142,1,0,165.2,562.6A2.1,1.6,142,1,0,168.6,560.0ZM156.8,540.9A2.0,1.8,73,1,0,158.0,544.7A2.0,1.8,73,1,0,156.8,540.9ZM184.2,530.9A1.7,1.0,110,1,0,183.0,534.2A1.7,1.0,110,1,0,184.2,530.9ZM145.4,548.3A2.2,1.7,61,1,0,147.5,552.2A2.2,1.7,61,1,0,145.4,548.3ZM183.4,564.8A1.6,1.2,6,1,0,186.5,565.2A1.6,1.2,6,1,0,183.4,564.8ZM203.7,532.6A2.2,2.0,155,1,0,199.7,534.5A2.2,2.0,155,1,0,203.7,532.6ZM162.6,531.9A2.0,1.1,55,1,0,164.9,535.1A2.0,1.1,55,1,0,162.6,531.9ZM186.7,568.6A1.8,1.5,7,1,0,190.4,569.0A1.8,1.5,7,1,0,186.7,568.6ZM144.5,547.4A2.0,1.2,40,1,0,147.5,549.9A2.0,1.2,40,1,0,144.5,547.4ZM158.8,526.3A2.5,1.5,63,1,0,161.0,530.8A2.5,1.5,63,1,0,158.8,526.3ZM161.1,573.4A1.8,1.3,152,1,0,158.0,575.0A1.8,1.3,152,1,0,161.1,573.4ZM181.6,530.3A2.3,1.5,71,1,0,183.1,534.6A2.3,1.5,71,1,0,181.6,530.3Z" fill="#a3a4a5"/>
</g></g>
<clipPath id="clip13"><rect x="206.60" y="365.60" width="68.30" height="51.00"/></clipPath>
<rect x="206.60" y="365.60" width="68.30" height="51.00" fill="#010301"/>
<g clip-path="url(#clip13)"><g filter="url(#gb)">
<path d="M223.6,400.1A0.8,0.8,33,1,0,225.0,401.0A0.8,0.8,33,1,0,223.6,400.1ZM221.8,372.9A0.6,0.5,23,1,0,222.9,373.3A0.6,0.5,23,1,0,221.8,372.9ZM243.5,376.2A0.6,0.5,151,1,0,242.3,376.8A0.6,0.5,151,1,0,243.5,376.2ZM248.7,366.1A0.6,0.4,157,1,0,247.6,366.6A0.6,0.4,157,1,0,248.7,366.1ZM262.8,406.6A0.9,0.8,171,1,0,261.0,406.9A0.9,0.8,171,1,0,262.8,406.6ZM261.5,378.0A0.9,0.7,136,1,0,260.2,379.3A0.9,0.7,136,1,0,261.5,378.0ZM244.8,386.9A0.7,0.5,56,1,0,245.5,388.1A0.7,0.5,56,1,0,244.8,386.9ZM215.1,406.7A0.9,0.9,124,1,0,214.1,408.1A0.9,0.9,124,1,0,215.1,406.7ZM244.4,403.2A0.6,0.5,80,1,0,244.6,404.3A0.6,0.5,80,1,0,244.4,403.2ZM218.6,375.2A0.8,0.5,83,1,0,218.8,376.7A0.8,0.5,83,1,0,218.6,375.2ZM247.5,385.4A0.6,0.5,42,1,0,248.4,386.2A0.6,0.5,42,1,0,247.5,385.4ZM223.0,374.9A0.7,0.4,117,1,0,222.4,376.1A0.7,0.4,117,1,0,223.0,374.9ZM270.9,385.4A0.9,0.8,8,1,0,272.6,385.6A0.9,0.8,8,1,0,270.9,385.4ZM215.5,406.3A0.9,0.8,29,1,0,217.1,407.2A0.9,0.8,29,1,0,215.5,406.3ZM234.1,409.3A0.9,0.9,37,1,0,235.6,410.4A0.9,0.9,37,1,0,234.1,409.3ZM265.8,384.6A0.9,0.6,175,1,0,264.0,384.8A0.9,0.6,175,1,0,265.8,384.6ZM248.0,401.9A0.6,0.5,105,1,0,247.7,403.0A0.6,0.5,105,1,0,248.0,401.9ZM246.5,383.2A0.9,0.6,53,1,0,247.5,384.6A0.9,0.6,53,1,0,246.5,383.2ZM217.3,400.4A0.6,0.4,12,1,0,218.4,400.6A0.6,0.4,12,1,0,217.3,400.4ZM250.4,393.2A0.8,0.5,79,1,0,250.7,394.7A0.8,0.5,79,1,0,250.4,393.2ZM229.6,370.1A0.5,0.5,22,1,0,230.5,370.5A0.5,0.5,22,1,0,229.6,370.1ZM227.1,378.5A0.8,0.5,85,1,0,227.3,380.1A0.8,0.5,85,1,0,227.1,378.5ZM231.6,407.7A0.5,0.4,89,1,0,231.7,408.7A0.5,0.4,89,1,0,231.6,407.7ZM272.4,391.4A0.7,0.6,53,1,0,273.3,392.5A0.7,0.6,53,1,0,272.4,391.4ZM208.1,390.5A1.0,0.9,46,1,0,209.4,391.9A1.0,0.9,46,1,0,208.1,390.5ZM253.0,408.3A0.6,0.5,64,1,0,253.6,409.5A0.6,0.5,64,1,0,253.0,408.3ZM222.7,380.2A0.6,0.4,7,1,0,223.9,380.3A0.6,0.4,7,1,0,222.7,380.2ZM232.9,370.0A0.9,0.7,1,1,0,234.6,370.0A0.9,0.7,1,1,0,232.9,370.0ZM259.1,374.7A0.7,0.6,60,1,0,259.8,376.0A0.7,0.6,60,1,0,259.1,374.7ZM225.8,387.6A0.6,0.5,20,1,0,226.9,388.0A0.6,0.5,20,1,0,225.8,387.6Z" fill="#0d3a0b"/>
<path d="M262.0,376.6A0.8,0.4,6,1,0,263.7,376.8A0.8,0.4,6,1,0,262.0,376.6ZM270.2,404.0A0.9,0.6,27,1,0,271.7,404.7A0.9,0.6,27,1,0,270.2,404.0ZM271.7,404.3A0.4,0.2,129,1,0,271.2,405.0A0.4,0.2,129,1,0,271.7,404.3ZM266.2,415.5A1.2,0.9,112,1,0,265.3,417.7A1.2,0.9,112,1,0,266.2,415.5ZM266.0,415.3A0.6,0.4,179,1,0,264.8,415.3A0.6,0.4,179,1,0,266.0,415.3ZM241.7,379.9A0.6,0.4,28,1,0,242.7,380.4A0.6,0.4,28,1,0,241.7,379.9ZM232.4,406.2A0.9,0.8,74,1,0,232.9,408.1A0.9,0.8,74,1,0,232.4,406.2ZM232.2,406.5A0.6,0.5,123,1,0,231.6,407.5A0.6,0.5,123,1,0,232.2,406.5ZM233.0,369.0A0.9,0.7,147,1,0,231.5,370.1A0.9,0.7,147,1,0,233.0,369.0ZM231.0,369.4A0.7,0.3,39,1,0,232.0,370.2A0.7,0.3,39,1,0,231.0,369.4ZM232.8,369.6A0.6,0.4,101,1,0,232.6,370.7A0.6,0.4,101,1,0,232.8,369.6ZM214.3,400.7A1.0,0.5,128,1,0,213.1,402.3A1.0,0.5,128,1,0,214.3,400.7ZM260.3,407.0A0.9,0.4,25,1,0,261.9,407.7A0.9,0.4,25,1,0,260.3,407.0ZM261.3,405.9A0.5,0.4,113,1,0,260.9,406.8A0.5,0.4,113,1,0,261.3,405.9ZM244.4,403.3A0.8,0.6,111,1,0,243.8,404.9A0.8,0.6,111,1,0,244.4,403.3ZM236.3,375.0A1.1,0.6,70,1,0,237.0,377.2A1.1,0.6,70,1,0,236.3,375.0ZM235.8,375.0A0.7,0.4,3,1,0,237.3,375.1A0.7,0.4,3,1,0,235.8,375.0ZM235.4,375.2A0.7,0.6,82,1,0,235.6,376.6A0.7,0.6,82,1,0,235.4,375.2ZM209.7,405.9A1.0,0.6,20,1,0,211.7,406.6A1.0,0.6,20,1,0,209.7,405.9ZM211.7,405.2A0.5,0.3,132,1,0,211.0,406.0A0.5,0.3,132,1,0,211.7,405.2ZM208.9,406.2A0.6,0.3,12,1,0,210.0,406.4A0.6,0.3,12,1,0,208.9,406.2ZM260.0,365.0A1.1,0.9,128,1,0,258.6,366.8A1.1,0.9,128,1,0,260.0,365.0ZM224.0,401.6A0.9,0.6,50,1,0,225.2,403.0A0.9,0.6,50,1,0,224.0,401.6ZM223.7,401.5A0.7,0.5,43,1,0,224.7,402.5A0.7,0.5,43,1,0,223.7,401.5ZM223.5,402.2A0.6,0.3,59,1,0,224.0,403.1A0.6,0.3,59,1,0,223.5,402.2ZM256.6,390.4A1.0,0.7,0,1,0,258.6,390.4A1.0,0.7,0,1,0,256.6,390.4ZM273.1,382.5A1.1,0.8,160,1,0,271.0,383.3A1.1,0.8,160,1,0,273.1,382.5ZM246.6,413.9A0.7,0.5,13,1,0,248.0,414.2A0.7,0.5,13,1,0,246.6,413.9ZM246.0,413.9A0.5,0.4,19,1,0,247.0,414.3A0.5,0.4,19,1,0,246.0,413.9ZM252.7,386.7A0.4,0.2,30,1,0,253.4,387.1A0.4,0.2,30,1,0,252.7,386.7ZM252.8,387.5A0.5,0.2,76,1,0,253.0,388.4A0.5,0.2,76,1,0,252.8,387.5ZM253.1,414.3A0.8,0.5,107,1,0,252.6,415.9A0.8,0.5,107,1,0,253.1,414.3ZM252.8,413.9A0.9,0.6,72,1,0,253.4,415.7A0.9,0.6,72,1,0,252.8,413.9ZM215.1,408.7A0.6,0.6,19,1,0,216.3,409.2A0.6,0.6,19,1,0,215.1,408.7ZM221.6,412.0A0.9,0.6,94,1,0,221.5,413.8A0.9,0.6,94,1,0,221.6,412.0ZM220.5,412.8A1.0,0.8,1,1,0,222.5,412.8A1.0,0.8,1,1,0,220.5,412.8ZM262.2,407.1A0.9,0.7,33,1,0,263.8,408.1A0.9,0.7,33,1,0,262.2,407.1ZM263.0,408.4A0.6,0.3,169,1,0,261.9,408.6A0.6,0.3,169,1,0,263.0,408.4ZM231.4,389.3A0.7,0.6,76,1,0,231.7,390.7A0.7,0.6,76,1,0,231.4,389.3ZM207.2,378.7A0.7,0.6,13,1,0,208.6,379.0A0.7,0.6,13,1,0,207.2,378.7Z" fill="#2ce028"/>
<path d="M262.1,376.2A0.6,0.3,96,1,0,262.0,377.3A0.6,0.3,96,1,0,262.1,376.2ZM268.7,411.9A1.1,0.5,168,1,0,266.6,412.4A1.1,0.5,168,1,0,268.7,411.9ZM268.7,411.2A0.8,0.6,166,1,0,267.2,411.6A0.8,0.6,166,1,0,268.7,411.2ZM265.0,415.8A0.9,0.6,95,1,0,264.8,417.6A0.9,0.6,95,1,0,265.0,415.8ZM244.6,367.0A1.2,0.8,19,1,0,246.8,367.7A1.2,0.8,19,1,0,244.6,367.0ZM247.5,367.4A0.8,0.5,134,1,0,246.3,368.6A0.8,0.5,134,1,0,247.5,367.4ZM252.1,386.9A1.3,0.6,155,1,0,249.8,388.0A1.3,0.6,155,1,0,252.1,386.9ZM253.3,406.1A1.2,0.8,10,1,0,255.6,406.5A1.2,0.8,10,1,0,253.3,406.1ZM254.8,404.2A0.9,0.7,77,1,0,255.2,406.0A0.9,0.7,77,1,0,254.8,404.2ZM256.4,370.1A1.1,0.9,154,1,0,254.5,371.0A1.1,0.9,154,1,0,256.4,370.1ZM256.1,370.8A0.8,0.4,79,1,0,256.4,372.3A0.8,0.4,79,1,0,256.1,370.8ZM213.4,400.7A0.8,0.4,18,1,0,214.8,401.2A0.8,0.4,18,1,0,213.4,400.7ZM261.3,407.4A0.6,0.3,65,1,0,261.8,408.4A0.6,0.3,65,1,0,261.3,407.4ZM240.3,389.5A1.0,0.8,96,1,0,240.1,391.6A1.0,0.8,96,1,0,240.3,389.5ZM238.6,370.4A1.1,0.6,95,1,0,238.4,372.6A1.1,0.6,95,1,0,238.6,370.4ZM240.2,370.7A0.7,0.6,160,1,0,238.9,371.2A0.7,0.6,160,1,0,240.2,370.7ZM238.5,370.1A0.6,0.5,151,1,0,237.4,370.6A0.6,0.5,151,1,0,238.5,370.1ZM246.7,413.6A0.4,0.3,85,1,0,246.8,414.3A0.4,0.3,85,1,0,246.7,413.6ZM252.9,386.3A0.9,0.7,66,1,0,253.6,387.9A0.9,0.7,66,1,0,252.9,386.3ZM253.0,387.6A0.6,0.3,57,1,0,253.6,388.6A0.6,0.3,57,1,0,253.0,387.6ZM236.6,379.7A1.0,0.7,76,1,0,237.1,381.6A1.0,0.7,76,1,0,236.6,379.7ZM237.2,381.1A0.5,0.3,39,1,0,238.0,381.7A0.5,0.3,39,1,0,237.2,381.1ZM251.7,414.6A0.7,0.5,12,1,0,253.1,414.9A0.7,0.5,12,1,0,251.7,414.6ZM263.7,406.2A0.7,0.6,155,1,0,262.4,406.8A0.7,0.6,155,1,0,263.7,406.2Z" fill="#1eb41a"/>
<path d="M215.6,405.8A0.8,0.4,98,1,0,215.3,407.4A0.8,0.4,98,1,0,215.6,405.8ZM237.7,394.5A1.0,0.5,162,1,0,235.7,395.2A1.0,0.5,162,1,0,237.7,394.5ZM243.7,379.6A0.8,0.6,172,1,0,242.2,379.8A0.8,0.6,172,1,0,243.7,379.6ZM246.7,413.7A0.9,0.7,129,1,0,245.5,415.2A0.9,0.7,129,1,0,246.7,413.7ZM250.5,396.0A1.0,0.6,42,1,0,251.9,397.3A1.0,0.6,42,1,0,250.5,396.0ZM214.5,411.6A1.3,0.9,150,1,0,212.4,412.9A1.3,0.9,150,1,0,214.5,411.6ZM213.0,412.8A0.7,0.4,32,1,0,214.2,413.5A0.7,0.4,32,1,0,213.0,412.8ZM215.0,412.7A0.7,0.6,158,1,0,213.7,413.2A0.7,0.6,158,1,0,215.0,412.7ZM207.9,396.6A1.2,1.0,118,1,0,206.8,398.7A1.2,1.0,118,1,0,207.9,396.6ZM206.1,397.9A0.7,0.4,33,1,0,207.3,398.6A0.7,0.4,33,1,0,206.1,397.9ZM209.0,397.2A1.0,0.8,128,1,0,207.7,398.8A1.0,0.8,128,1,0,209.0,397.2ZM271.0,405.3A1.0,0.7,89,1,0,271.1,407.3A1.0,0.7,89,1,0,271.0,405.3ZM248.6,384.3A0.6,0.4,61,1,0,249.2,385.3A0.6,0.4,61,1,0,248.6,384.3ZM249.2,384.7A0.3,0.3,79,1,0,249.4,385.4A0.3,0.3,79,1,0,249.2,384.7ZM244.3,403.5A1.1,0.7,160,1,0,242.2,404.2A1.1,0.7,160,1,0,244.3,403.5ZM244.0,402.9A0.9,0.6,162,1,0,242.2,403.5A0.9,0.6,162,1,0,244.0,402.9ZM217.4,389.9A0.7,0.5,0,1,0,218.9,389.9A0.7,0.5,0,1,0,217.4,389.9ZM246.8,412.5A1.1,0.7,126,1,0,245.5,414.3A1.1,0.7,126,1,0,246.8,412.5ZM244.9,412.8A0.8,0.6,52,1,0,245.9,414.0A0.8,0.6,52,1,0,244.9,412.8ZM207.9,408.5A0.7,0.5,15,1,0,209.2,408.9A0.7,0.5,15,1,0,207.9,408.5ZM252.7,387.0A0.6,0.3,38,1,0,253.8,387.7A0.6,0.3,38,1,0,252.7,387.0ZM218.4,377.4A0.8,0.5,107,1,0,217.9,378.9A0.8,0.5,107,1,0,218.4,377.4ZM217.4,377.4A0.6,0.5,47,1,0,218.2,378.2A0.6,0.5,47,1,0,217.4,377.4ZM219.3,377.6A0.6,0.3,157,1,0,218.2,378.0A0.6,0.3,157,1,0,219.3,377.6ZM216.8,407.7A0.8,0.6,111,1,0,216.2,409.3A0.8,0.6,111,1,0,216.8,407.7ZM222.3,411.1A1.2,0.6,155,1,0,220.1,412.2A1.2,0.6,155,1,0,222.3,411.1Z" fill="#3cf038"/>
<path d="M250.5,388.1A0.9,0.5,4,1,0,252.2,388.2A0.9,0.5,4,1,0,250.5,388.1ZM252.6,387.8A0.9,0.7,163,1,0,250.9,388.3A0.9,0.7,163,1,0,252.6,387.8ZM253.2,406.1A0.7,0.6,50,1,0,254.1,407.2A0.7,0.6,50,1,0,253.2,406.1Z" fill="#127a10"/>
</g></g>
<clipPath id="clip23"><rect x="206.60" y="473.00" width="68.30" height="51.00"/></clipPath>
<rect x="206.60" y="473.00" width="68.30" height="51.00" fill="#010301"/>
<g clip-path="url(#clip23)"><g filter="url(#gb)">
<path d="M270.0,520.5A0.9,0.6,107,1,0,269.5,522.3A0.9,0.6,107,1,0,270.0,520.5ZM235.4,499.5A0.6,0.4,80,1,0,235.6,500.6A0.6,0.4,80,1,0,235.4,499.5ZM222.0,495.8A0.5,0.3,128,1,0,221.4,496.6A0.5,0.3,128,1,0,222.0,495.8ZM234.5,499.0A0.9,0.6,10,1,0,236.2,499.3A0.9,0.6,10,1,0,234.5,499.0ZM260.9,503.0A0.8,0.7,175,1,0,259.3,503.1A0.8,0.7,175,1,0,260.9,503.0ZM231.7,511.1A0.7,0.6,119,1,0,231.0,512.3A0.7,0.6,119,1,0,231.7,511.1ZM228.3,476.7A0.7,0.7,106,1,0,227.9,478.1A0.7,0.7,106,1,0,228.3,476.7ZM236.8,505.3A0.6,0.4,58,1,0,237.5,506.3A0.6,0.4,58,1,0,236.8,505.3ZM261.8,482.9A0.6,0.4,7,1,0,262.9,483.0A0.6,0.4,7,1,0,261.8,482.9ZM225.1,501.4A0.9,0.7,67,1,0,225.8,503.0A0.9,0.7,67,1,0,225.1,501.4ZM225.7,487.9A0.9,0.7,47,1,0,226.9,489.2A0.9,0.7,47,1,0,225.7,487.9ZM213.3,512.4A0.9,0.8,43,1,0,214.5,513.6A0.9,0.8,43,1,0,213.3,512.4ZM243.2,519.5A0.8,0.8,30,1,0,244.5,520.3A0.8,0.8,30,1,0,243.2,519.5ZM273.8,475.5A0.7,0.4,146,1,0,272.6,476.3A0.7,0.4,146,1,0,273.8,475.5ZM253.6,521.8A0.9,0.9,97,1,0,253.4,523.6A0.9,0.9,97,1,0,253.6,521.8ZM273.8,510.6A0.7,0.7,68,1,0,274.3,511.8A0.7,0.7,68,1,0,273.8,510.6ZM220.5,476.7A0.7,0.5,168,1,0,219.1,477.0A0.7,0.5,168,1,0,220.5,476.7ZM271.0,483.7A0.6,0.4,31,1,0,272.0,484.3A0.6,0.4,31,1,0,271.0,483.7ZM244.3,514.3A0.6,0.5,162,1,0,243.1,514.6A0.6,0.5,162,1,0,244.3,514.3ZM237.9,490.2A0.9,0.9,161,1,0,236.1,490.8A0.9,0.9,161,1,0,237.9,490.2ZM253.9,493.3A0.8,0.8,115,1,0,253.2,494.8A0.8,0.8,115,1,0,253.9,493.3ZM223.0,487.4A0.7,0.6,100,1,0,222.8,488.8A0.7,0.6,100,1,0,223.0,487.4ZM243.9,514.7A0.6,0.5,60,1,0,244.4,515.6A0.6,0.5,60,1,0,243.9,514.7ZM244.2,515.5A0.6,0.6,14,1,0,245.4,515.8A0.6,0.6,14,1,0,244.2,515.5ZM244.9,500.0A0.6,0.5,85,1,0,245.0,501.2A0.6,0.5,85,1,0,244.9,500.0ZM237.7,509.3A0.5,0.4,141,1,0,236.9,510.0A0.5,0.4,141,1,0,237.7,509.3ZM215.8,516.9A0.6,0.5,31,1,0,216.8,517.5A0.6,0.5,31,1,0,215.8,516.9ZM237.3,494.0A0.5,0.5,86,1,0,237.3,495.1A0.5,0.5,86,1,0,237.3,494.0ZM253.2,499.9A0.8,0.6,54,1,0,254.1,501.1A0.8,0.6,54,1,0,253.2,499.9ZM268.0,476.5A0.9,0.9,90,1,0,268.0,478.3A0.9,0.9,90,1,0,268.0,476.5ZM259.2,506.7A0.8,0.6,58,1,0,260.1,508.0A0.8,0.6,58,1,0,259.2,506.7ZM230.1,487.5A1.0,0.7,70,1,0,230.8,489.3A1.0,0.7,70,1,0,230.1,487.5ZM234.7,514.1A0.7,0.6,46,1,0,235.8,515.2A0.7,0.6,46,1,0,234.7,514.1ZM226.1,477.3A0.6,0.4,153,1,0,225.0,477.8A0.6,0.4,153,1,0,226.1,477.3ZM241.1,477.9A0.7,0.5,102,1,0,240.8,479.3A0.7,0.5,102,1,0,241.1,477.9ZM236.3,516.3A0.6,0.6,45,1,0,237.2,517.2A0.6,0.6,45,1,0,236.3,516.3ZM273.4,504.9A0.5,0.5,50,1,0,274.1,505.7A0.5,0.5,50,1,0,273.4,504.9ZM232.0,479.8A0.9,0.6,133,1,0,230.7,481.1A0.9,0.6,133,1,0,232.0,479.8ZM234.3,507.5A0.6,0.4,165,1,0,233.0,507.8A0.6,0.4,165,1,0,234.3,507.5ZM250.5,481.1A1.0,1.0,33,1,0,252.1,482.2A1.0,1.0,33,1,0,250.5,481.1ZM207.8,503.6A0.6,0.5,84,1,0,208.0,504.7A0.6,0.5,84,1,0,207.8,503.6ZM255.3,501.2A0.9,0.8,109,1,0,254.7,502.9A0.9,0.8,109,1,0,255.3,501.2ZM247.5,489.4A0.6,0.4,154,1,0,246.5,489.9A0.6,0.4,154,1,0,247.5,489.4ZM220.7,494.1A0.7,0.6,96,1,0,220.6,495.4A0.7,0.6,96,1,0,220.7,494.1ZM265.7,494.7A0.7,0.6,134,1,0,264.8,495.7A0.7,0.6,134,1,0,265.7,494.7ZM270.8,488.9A0.9,0.9,177,1,0,268.9,489.0A0.9,0.9,177,1,0,270.8,488.9ZM214.5,492.3A0.9,0.8,7,1,0,216.3,492.5A0.9,0.8,7,1,0,214.5,492.3ZM232.9,509.4A0.9,0.7,38,1,0,234.3,510.5A0.9,0.7,38,1,0,232.9,509.4ZM234.9,475.6A0.7,0.5,148,1,0,233.8,476.3A0.7,0.5,148,1,0,234.9,475.6ZM247.2,493.6A0.6,0.5,121,1,0,246.5,494.7A0.6,0.5,121,1,0,247.2,493.6ZM237.9,481.7A0.9,0.8,174,1,0,236.1,481.9A0.9,0.8,174,1,0,237.9,481.7ZM243.9,504.6A0.7,0.6,165,1,0,242.5,505.0A0.7,0.6,165,1,0,243.9,504.6ZM274.2,506.4A0.7,0.4,151,1,0,273.0,507.1A0.7,0.4,151,1,0,274.2,506.4ZM233.2,492.0A0.5,0.3,70,1,0,233.5,493.0A0.5,0.3,70,1,0,233.2,492.0ZM272.6,510.1A0.9,0.7,49,1,0,273.7,511.4A0.9,0.7,49,1,0,272.6,510.1ZM218.1,503.2A0.5,0.4,93,1,0,218.1,504.3A0.5,0.4,93,1,0,218.1,503.2ZM243.2,479.0A0.5,0.4,26,1,0,244.1,479.4A0.5,0.4,26,1,0,243.2,479.0ZM250.7,488.0A0.8,0.7,109,1,0,250.1,489.6A0.8,0.7,109,1,0,250.7,488.0ZM242.5,482.6A0.7,0.7,48,1,0,243.4,483.6A0.7,0.7,48,1,0,242.5,482.6ZM225.6,497.5A0.8,0.7,53,1,0,226.5,498.8A0.8,0.7,53,1,0,225.6,497.5Z" fill="#0d3a0b"/>
<path d="M207.3,512.9A1.0,0.7,28,1,0,209.0,513.8A1.0,0.7,28,1,0,207.3,512.9ZM225.9,503.4A1.1,0.9,171,1,0,223.7,503.8A1.1,0.9,171,1,0,225.9,503.4ZM250.8,486.6A0.9,0.5,138,1,0,249.4,487.9A0.9,0.5,138,1,0,250.8,486.6ZM257.6,480.1A1.0,0.6,137,1,0,256.2,481.4A1.0,0.6,137,1,0,257.6,480.1ZM249.7,486.6A1.1,0.8,54,1,0,251.0,488.3A1.1,0.8,54,1,0,249.7,486.6ZM265.7,491.2A1.1,0.8,19,1,0,267.8,492.0A1.1,0.8,19,1,0,265.7,491.2ZM266.9,490.9A0.9,0.6,23,1,0,268.6,491.6A0.9,0.6,23,1,0,266.9,490.9ZM252.0,478.3A0.8,0.6,131,1,0,251.0,479.5A0.8,0.6,131,1,0,252.0,478.3ZM258.8,484.9A1.2,0.9,27,1,0,261.0,486.0A1.2,0.9,27,1,0,258.8,484.9ZM260.1,486.1A0.9,0.7,162,1,0,258.5,486.7A0.9,0.7,162,1,0,260.1,486.1ZM249.9,481.9A0.8,0.6,146,1,0,248.5,482.8A0.8,0.6,146,1,0,249.9,481.9ZM263.2,514.9A1.0,0.6,8,1,0,265.1,515.2A1.0,0.6,8,1,0,263.2,514.9ZM264.5,514.2A0.6,0.4,25,1,0,265.6,514.8A0.6,0.4,25,1,0,264.5,514.2ZM223.9,498.9A0.7,0.5,78,1,0,224.2,500.3A0.7,0.5,78,1,0,223.9,498.9ZM235.9,482.7A1.2,0.6,162,1,0,233.5,483.5A1.2,0.6,162,1,0,235.9,482.7ZM267.6,484.7A0.9,0.7,104,1,0,267.2,486.5A0.9,0.7,104,1,0,267.6,484.7ZM244.4,480.9A0.8,0.6,86,1,0,244.5,482.5A0.8,0.6,86,1,0,244.4,480.9ZM231.6,487.8A1.1,0.6,126,1,0,230.3,489.6A1.1,0.6,126,1,0,231.6,487.8ZM231.3,489.5A0.7,0.4,157,1,0,229.9,490.1A0.7,0.4,157,1,0,231.3,489.5ZM240.2,481.7A1.2,1.0,172,1,0,237.8,482.0A1.2,1.0,172,1,0,240.2,481.7ZM230.4,510.6A1.2,0.7,122,1,0,229.1,512.5A1.2,0.7,122,1,0,230.4,510.6ZM253.7,478.9A1.1,0.7,43,1,0,255.3,480.3A1.1,0.7,43,1,0,253.7,478.9ZM254.1,478.9A0.6,0.5,129,1,0,253.3,479.9A0.6,0.5,129,1,0,254.1,478.9ZM233.3,510.5A0.8,0.5,71,1,0,233.8,512.0A0.8,0.5,71,1,0,233.3,510.5ZM273.4,511.2A1.1,0.6,4,1,0,275.7,511.3A1.1,0.6,4,1,0,273.4,511.2ZM237.2,482.9A1.2,1.0,65,1,0,238.2,485.0A1.2,1.0,65,1,0,237.2,482.9ZM232.3,477.9A1.1,0.6,130,1,0,230.8,479.6A1.1,0.6,130,1,0,232.3,477.9ZM222.5,491.3A0.9,0.5,91,1,0,222.5,493.0A0.9,0.5,91,1,0,222.5,491.3ZM250.8,491.0A1.2,1.0,149,1,0,248.7,492.3A1.2,1.0,149,1,0,250.8,491.0ZM257.5,501.0A0.9,0.8,2,1,0,259.3,501.1A0.9,0.8,2,1,0,257.5,501.0ZM228.8,523.1A0.8,0.7,58,1,0,229.7,524.5A0.8,0.7,58,1,0,228.8,523.1ZM246.9,512.7A0.7,0.4,30,1,0,248.1,513.4A0.7,0.4,30,1,0,246.9,512.7ZM253.8,481.6A0.8,0.5,135,1,0,252.7,482.8A0.8,0.5,135,1,0,253.8,481.6ZM253.3,482.5A0.5,0.4,135,1,0,252.6,483.2A0.5,0.4,135,1,0,253.3,482.5ZM249.3,483.3A0.8,0.7,152,1,0,247.9,484.0A0.8,0.7,152,1,0,249.3,483.3ZM241.4,483.7A0.8,0.5,29,1,0,242.8,484.4A0.8,0.5,29,1,0,241.4,483.7ZM241.2,483.3A0.4,0.2,52,1,0,241.7,483.9A0.4,0.2,52,1,0,241.2,483.3ZM261.4,482.9A1.1,0.8,61,1,0,262.5,484.9A1.1,0.8,61,1,0,261.4,482.9ZM251.4,493.2A0.7,0.4,78,1,0,251.7,494.6A0.7,0.4,78,1,0,251.4,493.2ZM251.7,493.9A0.5,0.3,128,1,0,251.0,494.7A0.5,0.3,128,1,0,251.7,493.9ZM247.2,516.0A1.1,0.9,123,1,0,246.0,517.8A1.1,0.9,123,1,0,247.2,516.0ZM247.4,515.4A0.7,0.4,128,1,0,246.6,516.5A0.7,0.4,128,1,0,247.4,515.4ZM234.2,486.9A1.0,0.7,108,1,0,233.7,488.7A1.0,0.7,108,1,0,234.2,486.9ZM239.9,500.6A0.6,0.3,2,1,0,241.2,500.6A0.6,0.3,2,1,0,239.9,500.6ZM232.8,494.6A1.2,0.9,171,1,0,230.5,495.0A1.2,0.9,171,1,0,232.8,494.6ZM233.6,479.4A0.6,0.5,98,1,0,233.4,480.7A0.6,0.5,98,1,0,233.6,479.4ZM243.7,489.1A0.6,0.3,173,1,0,242.5,489.2A0.6,0.3,173,1,0,243.7,489.1ZM254.2,497.4A0.9,0.6,179,1,0,252.3,497.5A0.9,0.6,179,1,0,254.2,497.4ZM236.6,495.5A0.9,0.7,139,1,0,235.2,496.7A0.9,0.7,139,1,0,236.6,495.5ZM256.6,485.1A0.8,0.7,72,1,0,257.1,486.7A0.8,0.7,72,1,0,256.6,485.1ZM256.6,484.5A0.7,0.5,118,1,0,256.0,485.7A0.7,0.5,118,1,0,256.6,484.5ZM256.4,481.8A1.0,0.9,160,1,0,254.4,482.5A1.0,0.9,160,1,0,256.4,481.8ZM229.2,487.6A0.7,0.5,34,1,0,230.3,488.3A0.7,0.5,34,1,0,229.2,487.6ZM265.5,506.7A1.2,0.9,43,1,0,267.2,508.3A1.2,0.9,43,1,0,265.5,506.7ZM242.1,501.8A0.9,0.4,61,1,0,242.9,503.4A0.9,0.4,61,1,0,242.1,501.8ZM249.9,490.8A1.1,0.9,68,1,0,250.7,492.8A1.1,0.9,68,1,0,249.9,490.8ZM251.5,492.0A0.7,0.4,135,1,0,250.5,493.0A0.7,0.4,135,1,0,251.5,492.0ZM259.6,476.5A1.1,0.7,3,1,0,261.7,476.6A1.1,0.7,3,1,0,259.6,476.5ZM257.8,487.7A0.8,0.4,86,1,0,257.9,489.4A0.8,0.4,86,1,0,257.8,487.7ZM221.7,495.7A0.6,0.5,132,1,0,220.8,496.6A0.6,0.5,132,1,0,221.7,495.7ZM221.8,495.4A0.4,0.3,107,1,0,221.6,496.1A0.4,0.3,107,1,0,221.8,495.4ZM254.5,514.4A0.9,0.7,75,1,0,255.0,516.0A0.9,0.7,75,1,0,254.5,514.4ZM254.6,515.2A0.7,0.4,115,1,0,254.0,516.6A0.7,0.4,115,1,0,254.6,515.2ZM246.3,480.5A0.7,0.4,30,1,0,247.4,481.1A0.7,0.4,30,1,0,246.3,480.5ZM246.0,479.9A0.5,0.3,35,1,0,246.9,480.5A0.5,0.3,35,1,0,246.0,479.9ZM228.1,501.7A0.6,0.5,171,1,0,226.9,501.9A0.6,0.5,171,1,0,228.1,501.7ZM224.0,488.1A0.8,0.4,77,1,0,224.3,489.7A0.8,0.4,77,1,0,224.0,488.1ZM223.7,488.1A0.7,0.5,122,1,0,223.0,489.2A0.7,0.5,122,1,0,223.7,488.1ZM245.2,483.6A0.8,0.4,111,1,0,244.6,485.1A0.8,0.4,111,1,0,245.2,483.6ZM257.4,471.5A1.0,0.5,67,1,0,258.2,473.2A1.0,0.5,67,1,0,257.4,471.5ZM258.2,470.9A0.6,0.5,127,1,0,257.4,471.9A0.6,0.5,127,1,0,258.2,470.9ZM229.2,519.1A1.1,0.8,174,1,0,227.1,519.3A1.1,0.8,174,1,0,229.2,519.1ZM252.1,485.3A0.8,0.5,61,1,0,252.9,486.7A0.8,0.5,61,1,0,252.1,485.3Z" fill="#3cf038"/>
<path d="M215.3,519.3A1.2,0.6,149,1,0,213.2,520.6A1.2,0.6,149,1,0,215.3,519.3ZM208.1,496.4A1.2,0.8,48,1,0,209.7,498.2A1.2,0.8,48,1,0,208.1,496.4ZM210.6,496.4A1.0,0.8,119,1,0,209.6,498.1A1.0,0.8,119,1,0,210.6,496.4ZM251.3,479.5A0.7,0.6,110,1,0,250.8,480.9A0.7,0.6,110,1,0,251.3,479.5ZM219.8,513.5A1.1,0.8,25,1,0,221.8,514.5A1.1,0.8,25,1,0,219.8,513.5ZM252.3,515.5A0.8,0.4,110,1,0,251.8,516.9A0.8,0.4,110,1,0,252.3,515.5ZM251.3,516.1A0.5,0.4,94,1,0,251.2,517.1A0.5,0.4,94,1,0,251.3,516.1ZM257.5,476.0A0.7,0.4,156,1,0,256.2,476.6A0.7,0.4,156,1,0,257.5,476.0ZM254.0,486.4A1.1,0.7,55,1,0,255.3,488.2A1.1,0.7,55,1,0,254.0,486.4ZM271.4,521.8A1.2,0.7,133,1,0,269.8,523.5A1.2,0.7,133,1,0,271.4,521.8ZM220.7,475.9A1.2,0.6,11,1,0,223.1,476.3A1.2,0.6,11,1,0,220.7,475.9ZM246.4,467.1A0.7,0.4,92,1,0,246.4,468.6A0.7,0.4,92,1,0,246.4,467.1ZM245.7,467.1A0.5,0.3,14,1,0,246.6,467.3A0.5,0.3,14,1,0,245.7,467.1ZM242.7,517.1A0.6,0.5,37,1,0,243.7,517.9A0.6,0.5,37,1,0,242.7,517.1ZM221.5,480.7A1.1,0.8,145,1,0,219.8,481.9A1.1,0.8,145,1,0,221.5,480.7ZM249.3,497.4A0.8,0.6,108,1,0,248.8,498.9A0.8,0.6,108,1,0,249.3,497.4ZM232.2,483.4A1.0,0.6,95,1,0,232.0,485.4A1.0,0.6,95,1,0,232.2,483.4ZM232.2,483.9A0.6,0.4,170,1,0,231.0,484.1A0.6,0.4,170,1,0,232.2,483.9ZM263.1,472.7A1.2,0.6,157,1,0,261.0,473.6A1.2,0.6,157,1,0,263.1,472.7ZM234.3,482.8A0.4,0.3,14,1,0,235.2,483.0A0.4,0.3,14,1,0,234.3,482.8ZM216.9,502.5A0.8,0.5,103,1,0,216.6,504.0A0.8,0.5,103,1,0,216.9,502.5ZM249.7,474.2A1.1,0.9,149,1,0,247.8,475.3A1.1,0.9,149,1,0,249.7,474.2ZM248.6,473.3A0.6,0.4,117,1,0,248.0,474.4A0.6,0.4,117,1,0,248.6,473.3ZM255.3,497.1A0.4,0.3,161,1,0,254.6,497.4A0.4,0.3,161,1,0,255.3,497.1ZM252.9,495.4A0.7,0.5,61,1,0,253.6,496.6A0.7,0.5,61,1,0,252.9,495.4ZM215.3,473.2A0.6,0.4,115,1,0,214.9,474.2A0.6,0.4,115,1,0,215.3,473.2ZM216.9,484.2A0.9,0.7,134,1,0,215.6,485.5A0.9,0.7,134,1,0,216.9,484.2ZM261.9,490.5A0.6,0.4,89,1,0,261.9,491.7A0.6,0.4,89,1,0,261.9,490.5ZM266.5,514.3A0.6,0.3,151,1,0,265.4,514.9A0.6,0.3,151,1,0,266.5,514.3ZM254.6,473.4A1.0,0.6,105,1,0,254.1,475.3A1.0,0.6,105,1,0,254.6,473.4ZM271.3,481.0A1.1,0.7,123,1,0,270.1,482.8A1.1,0.7,123,1,0,271.3,481.0ZM254.9,511.6A0.6,0.4,52,1,0,255.6,512.5A0.6,0.4,52,1,0,254.9,511.6ZM223.9,499.0A0.7,0.4,112,1,0,223.4,500.3A0.7,0.4,112,1,0,223.9,499.0ZM256.8,467.1A0.9,0.7,36,1,0,258.2,468.1A0.9,0.7,36,1,0,256.8,467.1ZM229.3,508.9A0.9,0.8,29,1,0,230.9,509.8A0.9,0.8,29,1,0,229.3,508.9ZM260.7,482.3A0.5,0.3,29,1,0,261.5,482.8A0.5,0.3,29,1,0,260.7,482.3ZM257.8,481.6A0.6,0.4,123,1,0,257.2,482.5A0.6,0.4,123,1,0,257.8,481.6ZM241.2,480.4A0.9,0.6,65,1,0,241.9,482.0A0.9,0.6,65,1,0,241.2,480.4ZM251.7,503.7A0.7,0.5,4,1,0,253.0,503.8A0.7,0.5,4,1,0,251.7,503.7ZM228.6,471.3A0.5,0.3,101,1,0,228.4,472.2A0.5,0.3,101,1,0,228.6,471.3ZM260.2,500.6A1.1,0.7,124,1,0,259.0,502.5A1.1,0.7,124,1,0,260.2,500.6ZM226.1,498.5A1.1,0.6,25,1,0,228.2,499.5A1.1,0.6,25,1,0,226.1,498.5ZM270.4,486.0A0.9,0.6,170,1,0,268.7,486.3A0.9,0.6,170,1,0,270.4,486.0ZM240.4,475.8A0.5,0.3,31,1,0,241.3,476.3A0.5,0.3,31,1,0,240.4,475.8ZM244.2,496.8A0.9,0.6,96,1,0,244.0,498.6A0.9,0.6,96,1,0,244.2,496.8ZM252.4,472.2A0.7,0.4,134,1,0,251.5,473.2A0.7,0.4,134,1,0,252.4,472.2Z" fill="#1eb41a"/>
<path d="M252.2,478.9A1.1,0.9,133,1,0,250.7,480.6A1.1,0.9,133,1,0,252.2,478.9ZM252.4,478.7A0.9,0.7,103,1,0,251.9,480.5A0.9,0.7,103,1,0,252.4,478.7ZM250.4,479.0A1.1,0.7,105,1,0,249.8,481.2A1.1,0.7,105,1,0,250.4,479.0ZM236.0,497.7A1.1,0.8,97,1,0,235.7,500.0A1.1,0.8,97,1,0,236.0,497.7ZM247.6,484.2A1.0,0.7,7,1,0,249.5,484.5A1.0,0.7,7,1,0,247.6,484.2ZM251.0,486.2A0.7,0.5,132,1,0,250.0,487.3A0.7,0.5,132,1,0,251.0,486.2ZM252.3,478.1A0.6,0.4,167,1,0,251.1,478.4A0.6,0.4,167,1,0,252.3,478.1ZM258.7,517.9A1.1,0.8,91,1,0,258.7,520.0A1.1,0.8,91,1,0,258.7,517.9ZM264.6,507.5A0.9,0.7,88,1,0,264.7,509.3A0.9,0.7,88,1,0,264.6,507.5ZM245.1,482.4A0.6,0.5,172,1,0,243.9,482.6A0.6,0.5,172,1,0,245.1,482.4ZM243.2,517.1A0.7,0.5,173,1,0,241.7,517.3A0.7,0.5,173,1,0,243.2,517.1ZM233.6,474.2A1.2,1.0,103,1,0,233.0,476.5A1.2,1.0,103,1,0,233.6,474.2ZM233.7,481.7A0.9,0.4,42,1,0,235.0,482.9A0.9,0.4,42,1,0,233.7,481.7ZM241.9,519.4A1.1,0.6,104,1,0,241.4,521.4A1.1,0.6,104,1,0,241.9,519.4ZM242.6,519.7A0.6,0.5,67,1,0,243.1,520.8A0.6,0.5,67,1,0,242.6,519.7ZM225.3,496.2A0.7,0.4,80,1,0,225.5,497.6A0.7,0.4,80,1,0,225.3,496.2ZM225.2,497.2A0.6,0.3,81,1,0,225.4,498.3A0.6,0.3,81,1,0,225.2,497.2ZM257.7,500.9A0.6,0.4,102,1,0,257.4,502.1A0.6,0.4,102,1,0,257.7,500.9ZM255.7,496.7A0.6,0.4,156,1,0,254.6,497.2A0.6,0.4,156,1,0,255.7,496.7ZM211.8,509.8A0.6,0.5,122,1,0,211.2,510.9A0.6,0.5,122,1,0,211.8,509.8ZM263.8,493.2A1.1,0.9,10,1,0,265.9,493.6A1.1,0.9,10,1,0,263.8,493.2ZM230.3,523.4A0.7,0.5,103,1,0,230.0,524.6A0.7,0.5,103,1,0,230.3,523.4ZM255.0,496.5A1.1,0.6,157,1,0,252.9,497.4A1.1,0.6,157,1,0,255.0,496.5ZM231.4,513.3A0.6,0.5,42,1,0,232.3,514.2A0.6,0.5,42,1,0,231.4,513.3ZM247.9,511.8A0.5,0.4,104,1,0,247.7,512.9A0.5,0.4,104,1,0,247.9,511.8ZM246.2,483.7A0.8,0.5,175,1,0,244.5,483.8A0.8,0.5,175,1,0,246.2,483.7ZM248.0,483.6A0.6,0.5,99,1,0,247.8,484.7A0.6,0.5,99,1,0,248.0,483.6ZM239.4,483.2A0.8,0.5,38,1,0,240.6,484.1A0.8,0.5,38,1,0,239.4,483.2ZM241.0,483.5A0.4,0.2,155,1,0,240.2,483.9A0.4,0.2,155,1,0,241.0,483.5ZM214.1,472.7A1.1,0.7,93,1,0,214.0,474.9A1.1,0.7,93,1,0,214.1,472.7ZM261.0,482.3A0.9,0.7,65,1,0,261.7,483.8A0.9,0.7,65,1,0,261.0,482.3ZM215.7,482.7A1.1,0.6,78,1,0,216.1,484.9A1.1,0.6,78,1,0,215.7,482.7ZM235.0,481.0A0.9,0.7,98,1,0,234.7,482.7A0.9,0.7,98,1,0,235.0,481.0ZM207.8,499.8A1.0,0.5,122,1,0,206.7,501.5A1.0,0.5,122,1,0,207.8,499.8ZM262.9,489.8A1.1,0.6,147,1,0,261.0,491.0A1.1,0.6,147,1,0,262.9,489.8ZM231.4,493.3A0.9,0.7,59,1,0,232.3,494.8A0.9,0.7,59,1,0,231.4,493.3ZM264.6,514.2A1.1,0.9,52,1,0,265.9,515.9A1.1,0.9,52,1,0,264.6,514.2ZM242.9,489.3A0.3,0.2,94,1,0,242.8,490.0A0.3,0.2,94,1,0,242.9,489.3ZM253.9,496.1A0.6,0.4,113,1,0,253.4,497.3A0.6,0.4,113,1,0,253.9,496.1ZM254.3,498.0A0.6,0.5,35,1,0,255.4,498.7A0.6,0.5,35,1,0,254.3,498.0ZM255.8,481.5A0.9,0.6,75,1,0,256.2,483.3A0.9,0.6,75,1,0,255.8,481.5ZM256.1,510.7A0.9,0.6,112,1,0,255.4,512.3A0.9,0.6,112,1,0,256.1,510.7ZM213.5,513.7A0.6,0.5,152,1,0,212.5,514.3A0.6,0.5,152,1,0,213.5,513.7ZM212.3,513.7A0.4,0.2,67,1,0,212.7,514.5A0.4,0.2,67,1,0,212.3,513.7ZM241.0,492.1A0.6,0.4,60,1,0,241.7,493.2A0.6,0.4,60,1,0,241.0,492.1ZM241.4,491.4A0.5,0.3,93,1,0,241.4,492.4A0.5,0.3,93,1,0,241.4,491.4ZM255.8,480.9A0.5,0.5,58,1,0,256.4,481.8A0.5,0.5,58,1,0,255.8,480.9ZM208.5,498.4A0.8,0.4,178,1,0,206.9,498.4A0.8,0.4,178,1,0,208.5,498.4ZM234.7,518.0A1.0,0.5,113,1,0,233.9,519.8A1.0,0.5,113,1,0,234.7,518.0ZM256.8,519.8A1.0,0.8,53,1,0,258.0,521.3A1.0,0.8,53,1,0,256.8,519.8ZM229.2,507.9A0.7,0.6,48,1,0,230.2,509.0A0.7,0.6,48,1,0,229.2,507.9ZM229.3,508.4A0.6,0.5,110,1,0,228.9,509.5A0.6,0.5,110,1,0,229.3,508.4ZM251.5,487.5A1.0,0.5,60,1,0,252.4,489.2A1.0,0.5,60,1,0,251.5,487.5ZM251.1,487.8A0.8,0.6,93,1,0,251.0,489.4A0.8,0.6,93,1,0,251.1,487.8ZM229.7,487.5A0.5,0.3,160,1,0,228.7,487.9A0.5,0.3,160,1,0,229.7,487.5ZM243.1,503.0A0.5,0.4,137,1,0,242.3,503.7A0.5,0.4,137,1,0,243.1,503.0ZM230.1,509.5A1.1,0.7,95,1,0,229.9,511.7A1.1,0.7,95,1,0,230.1,509.5ZM212.5,506.5A1.1,0.6,66,1,0,213.4,508.6A1.1,0.6,66,1,0,212.5,506.5ZM226.3,478.1A1.1,0.9,51,1,0,227.7,479.9A1.1,0.9,51,1,0,226.3,478.1ZM259.9,482.0A0.7,0.5,9,1,0,261.3,482.2A0.7,0.5,9,1,0,259.9,482.0ZM254.5,482.3A1.2,0.8,74,1,0,255.1,484.5A1.2,0.8,74,1,0,254.5,482.3ZM253.8,483.6A0.7,0.4,52,1,0,254.7,484.7A0.7,0.4,52,1,0,253.8,483.6ZM241.6,480.5A1.0,0.7,94,1,0,241.4,482.5A1.0,0.7,94,1,0,241.6,480.5ZM272.8,479.3A0.9,0.6,29,1,0,274.4,480.2A0.9,0.6,29,1,0,272.8,479.3ZM254.1,491.7A0.7,0.6,178,1,0,252.6,491.7A0.7,0.6,178,1,0,254.1,491.7ZM253.0,492.2A0.6,0.5,8,1,0,254.1,492.4A0.6,0.5,8,1,0,253.0,492.2ZM251.1,493.2A0.9,0.7,10,1,0,252.8,493.5A0.9,0.7,10,1,0,251.1,493.2ZM219.8,495.5A0.7,0.5,21,1,0,221.1,496.0A0.7,0.5,21,1,0,219.8,495.5ZM231.5,482.3A0.7,0.4,129,1,0,230.6,483.5A0.7,0.4,129,1,0,231.5,482.3ZM256.5,481.1A1.0,0.6,13,1,0,258.4,481.5A1.0,0.6,13,1,0,256.5,481.1ZM260.9,475.8A0.9,0.6,67,1,0,261.6,477.5A0.9,0.6,67,1,0,260.9,475.8ZM227.8,501.7A0.5,0.3,74,1,0,228.1,502.7A0.5,0.3,74,1,0,227.8,501.7ZM241.9,481.0A1.1,0.6,171,1,0,239.6,481.4A1.1,0.6,171,1,0,241.9,481.0ZM259.8,518.6A0.8,0.6,79,1,0,260.1,520.1A0.8,0.6,79,1,0,259.8,518.6ZM229.1,471.6A0.8,0.4,100,1,0,228.8,473.1A0.8,0.4,100,1,0,229.1,471.6ZM234.0,469.2A1.1,0.9,94,1,0,233.8,471.4A1.1,0.9,94,1,0,234.0,469.2ZM247.2,499.8A0.7,0.4,11,1,0,248.7,500.1A0.7,0.4,11,1,0,247.2,499.8ZM258.4,495.5A0.8,0.6,20,1,0,259.9,496.1A0.8,0.6,20,1,0,258.4,495.5ZM241.1,474.7A0.8,0.7,99,1,0,240.9,476.3A0.8,0.7,99,1,0,241.1,474.7ZM232.8,488.3A1.0,0.4,6,1,0,234.8,488.5A1.0,0.4,6,1,0,232.8,488.3ZM232.2,487.7A0.7,0.6,30,1,0,233.4,488.4A0.7,0.6,30,1,0,232.2,487.7ZM272.3,481.2A1.2,0.9,82,1,0,272.6,483.6A1.2,0.9,82,1,0,272.3,481.2ZM271.9,481.3A0.9,0.5,7,1,0,273.7,481.5A0.9,0.5,7,1,0,271.9,481.3ZM244.6,497.1A1.1,0.5,177,1,0,242.4,497.2A1.1,0.5,177,1,0,244.6,497.1ZM251.6,486.0A0.5,0.4,73,1,0,251.9,487.0A0.5,0.4,73,1,0,251.6,486.0ZM264.9,496.2A0.8,0.7,33,1,0,266.2,497.1A0.8,0.7,33,1,0,264.9,496.2ZM245.8,493.5A0.8,0.4,169,1,0,244.1,493.8A0.8,0.4,169,1,0,245.8,493.5ZM244.5,492.4A0.7,0.4,60,1,0,245.2,493.6A0.7,0.4,60,1,0,244.5,492.4Z" fill="#2ce028"/>
<path d="M270.8,521.3A0.7,0.5,75,1,0,271.2,522.6A0.7,0.5,75,1,0,270.8,521.3ZM221.3,480.3A0.6,0.4,171,1,0,220.1,480.5A0.6,0.4,171,1,0,221.3,480.3ZM261.2,471.5A0.9,0.8,46,1,0,262.6,472.8A0.9,0.8,46,1,0,261.2,471.5ZM270.2,481.5A0.7,0.5,148,1,0,269.0,482.3A0.7,0.5,148,1,0,270.2,481.5ZM227.2,498.9A0.8,0.5,131,1,0,226.1,500.2A0.8,0.5,131,1,0,227.2,498.9Z" fill="#127a10"/>
</g></g>
<clipPath id="clip33"><rect x="206.60" y="419.60" width="68.30" height="51.20"/></clipPath>
<rect x="206.60" y="419.60" width="68.30" height="51.20" fill="#878b93"/>
<g clip-path="url(#clip33)"><g filter="url(#pb)">
<path d="M250.0,433.9A1.1,1.0,89,1,0,250.0,436.2A1.1,1.0,89,1,0,250.0,433.9ZM267.2,463.2A1.6,1.5,66,1,0,268.4,466.1A1.6,1.5,66,1,0,267.2,463.2ZM208.2,440.0A1.6,1.3,156,1,0,205.4,441.2A1.6,1.3,156,1,0,208.2,440.0ZM261.8,449.2A1.4,1.1,155,1,0,259.2,450.4A1.4,1.1,155,1,0,261.8,449.2ZM266.0,465.9A1.8,1.5,50,1,0,268.2,468.6A1.8,1.5,50,1,0,266.0,465.9ZM250.1,457.5A1.3,1.3,137,1,0,248.1,459.3A1.3,1.3,137,1,0,250.1,457.5ZM236.4,466.0A1.4,1.3,116,1,0,235.2,468.5A1.4,1.3,116,1,0,236.4,466.0ZM206.7,440.3A1.7,1.3,67,1,0,208.0,443.4A1.7,1.3,67,1,0,206.7,440.3ZM245.1,448.8A1.6,1.6,4,1,0,248.4,449.0A1.6,1.6,4,1,0,245.1,448.8ZM267.0,459.8A1.3,1.2,52,1,0,268.7,461.9A1.3,1.2,52,1,0,267.0,459.8ZM222.9,427.9A1.4,1.2,25,1,0,225.6,429.1A1.4,1.2,25,1,0,222.9,427.9ZM240.4,469.2A1.4,1.1,61,1,0,241.8,471.6A1.4,1.1,61,1,0,240.4,469.2ZM224.5,439.3A1.7,1.3,15,1,0,227.7,440.2A1.7,1.3,15,1,0,224.5,439.3ZM234.2,431.2A1.6,1.2,153,1,0,231.4,432.6A1.6,1.2,153,1,0,234.2,431.2ZM264.7,454.6A1.3,1.1,69,1,0,265.6,457.1A1.3,1.1,69,1,0,264.7,454.6ZM255.6,437.4A1.8,1.5,115,1,0,254.1,440.6A1.8,1.5,115,1,0,255.6,437.4ZM224.6,461.1A1.3,1.3,34,1,0,226.8,462.6A1.3,1.3,34,1,0,224.6,461.1ZM239.4,459.8A1.5,1.3,17,1,0,242.2,460.7A1.5,1.3,17,1,0,239.4,459.8ZM250.0,431.5A1.3,1.2,91,1,0,249.9,434.2A1.3,1.2,91,1,0,250.0,431.5ZM245.3,461.5A1.6,1.3,5,1,0,248.5,461.8A1.6,1.3,5,1,0,245.3,461.5ZM221.9,462.3A1.5,1.2,148,1,0,219.4,463.9A1.5,1.2,148,1,0,221.9,462.3ZM236.7,441.2A1.1,0.9,44,1,0,238.4,442.8A1.1,0.9,44,1,0,236.7,441.2ZM258.2,453.9A1.2,1.0,178,1,0,255.9,454.0A1.2,1.0,178,1,0,258.2,453.9ZM261.0,434.9A1.4,1.4,129,1,0,259.2,437.1A1.4,1.4,129,1,0,261.0,434.9ZM255.3,462.8A1.4,1.1,27,1,0,257.9,464.1A1.4,1.1,27,1,0,255.3,462.8ZM247.4,462.5A1.6,1.4,160,1,0,244.4,463.5A1.6,1.4,160,1,0,247.4,462.5ZM249.9,446.9A1.8,1.5,130,1,0,247.6,449.6A1.8,1.5,130,1,0,249.9,446.9ZM230.9,466.8A1.2,1.0,120,1,0,229.7,468.8A1.2,1.0,120,1,0,230.9,466.8ZM268.5,457.3A1.5,1.4,72,1,0,269.5,460.3A1.5,1.4,72,1,0,268.5,457.3ZM267.3,429.6A1.5,1.4,20,1,0,270.1,430.7A1.5,1.4,20,1,0,267.3,429.6ZM243.9,443.2A1.4,1.1,72,1,0,244.8,445.8A1.4,1.1,72,1,0,243.9,443.2ZM222.8,436.6A1.7,1.3,11,1,0,226.1,437.2A1.7,1.3,11,1,0,222.8,436.6ZM244.5,449.7A1.4,1.1,77,1,0,245.1,452.4A1.4,1.1,77,1,0,244.5,449.7ZM266.5,429.9A1.2,0.9,60,1,0,267.7,432.1A1.2,0.9,60,1,0,266.5,429.9ZM242.8,420.2A1.4,1.4,31,1,0,245.2,421.7A1.4,1.4,31,1,0,242.8,420.2ZM232.4,459.3A1.4,1.3,14,1,0,235.1,460.0A1.4,1.3,14,1,0,232.4,459.3ZM257.0,468.8A1.7,1.6,126,1,0,255.0,471.5A1.7,1.6,126,1,0,257.0,468.8ZM266.6,435.9A1.2,1.0,111,1,0,265.8,438.1A1.2,1.0,111,1,0,266.6,435.9ZM221.0,453.9A1.2,1.1,40,1,0,222.8,455.4A1.2,1.1,40,1,0,221.0,453.9ZM256.0,443.0A1.3,1.2,106,1,0,255.2,445.6A1.3,1.2,106,1,0,256.0,443.0ZM268.4,460.0A1.8,1.8,122,1,0,266.5,463.1A1.8,1.8,122,1,0,268.4,460.0ZM216.4,437.1A1.2,1.1,119,1,0,215.3,439.2A1.2,1.1,119,1,0,216.4,437.1ZM274.7,426.3A1.2,1.1,178,1,0,272.2,426.4A1.2,1.1,178,1,0,274.7,426.3ZM256.1,427.1A1.4,1.4,82,1,0,256.6,429.9A1.4,1.4,82,1,0,256.1,427.1ZM208.0,450.6A1.5,1.4,156,1,0,205.4,451.9A1.5,1.4,156,1,0,208.0,450.6ZM271.5,427.3A1.4,1.3,139,1,0,269.3,429.2A1.4,1.3,139,1,0,271.5,427.3ZM234.9,455.8A1.4,1.3,89,1,0,234.9,458.6A1.4,1.3,89,1,0,234.9,455.8ZM273.8,434.5A1.3,1.1,77,1,0,274.4,437.1A1.3,1.1,77,1,0,273.8,434.5ZM219.1,426.5A1.8,1.5,60,1,0,220.9,429.6A1.8,1.5,60,1,0,219.1,426.5ZM205.9,453.5A1.4,1.2,28,1,0,208.3,454.8A1.4,1.2,28,1,0,205.9,453.5ZM259.4,428.0A1.7,1.5,67,1,0,260.7,431.2A1.7,1.5,67,1,0,259.4,428.0ZM266.6,430.5A1.3,1.2,58,1,0,268.0,432.7A1.3,1.2,58,1,0,266.6,430.5ZM235.6,472.6A1.2,1.1,175,1,0,233.2,472.8A1.2,1.1,175,1,0,235.6,472.6ZM238.3,425.5A1.7,1.6,26,1,0,241.4,427.0A1.7,1.6,26,1,0,238.3,425.5ZM232.6,464.6A1.7,1.4,107,1,0,231.7,467.8A1.7,1.4,107,1,0,232.6,464.6ZM251.7,475.3A1.1,0.9,166,1,0,249.5,475.8A1.1,0.9,166,1,0,251.7,475.3ZM244.2,432.0A1.5,1.3,54,1,0,246.0,434.4A1.5,1.3,54,1,0,244.2,432.0ZM212.3,422.2A1.2,1.1,145,1,0,210.3,423.6A1.2,1.1,145,1,0,212.3,422.2ZM260.9,446.8A1.3,1.2,174,1,0,258.3,447.1A1.3,1.2,174,1,0,260.9,446.8ZM254.2,463.2A1.1,1.0,174,1,0,251.9,463.4A1.1,1.0,174,1,0,254.2,463.2ZM218.2,442.6A1.7,1.6,27,1,0,221.2,444.1A1.7,1.6,27,1,0,218.2,442.6ZM257.7,437.9A1.7,1.3,38,1,0,260.4,440.0A1.7,1.3,38,1,0,257.7,437.9ZM252.0,453.5A1.6,1.4,104,1,0,251.3,456.5A1.6,1.4,104,1,0,252.0,453.5ZM240.1,423.1A1.7,1.5,139,1,0,237.5,425.3A1.7,1.5,139,1,0,240.1,423.1ZM254.4,436.0A1.4,1.2,174,1,0,251.7,436.3A1.4,1.2,174,1,0,254.4,436.0ZM268.3,446.3A1.6,1.4,78,1,0,268.9,449.4A1.6,1.4,78,1,0,268.3,446.3ZM251.2,449.7A1.4,1.3,117,1,0,249.9,452.3A1.4,1.3,117,1,0,251.2,449.7ZM265.4,435.3A1.8,1.4,29,1,0,268.5,436.9A1.8,1.4,29,1,0,265.4,435.3ZM241.0,468.6A1.1,0.9,99,1,0,240.7,470.8A1.1,0.9,99,1,0,241.0,468.6ZM228.7,439.5A1.6,1.6,48,1,0,230.8,441.9A1.6,1.6,48,1,0,228.7,439.5Z" fill="#948c80" stroke="#f0cc98" stroke-width="0.85"/>
<path d="M236.1,460.7A2.3,1.3,100,1,0,235.3,465.2A2.3,1.3,100,1,0,236.1,460.7ZM268.4,462.1A2.3,1.7,164,1,0,264.0,463.4A2.3,1.7,164,1,0,268.4,462.1ZM268.2,430.5A1.8,1.4,163,1,0,264.8,431.6A1.8,1.4,163,1,0,268.2,430.5ZM206.9,457.8A2.1,1.7,2,1,0,211.1,457.9A2.1,1.7,2,1,0,206.9,457.8ZM210.1,424.3A2.2,1.3,36,1,0,213.7,426.9A2.2,1.3,36,1,0,210.1,424.3ZM244.4,452.3A1.9,1.1,90,1,0,244.4,456.2A1.9,1.1,90,1,0,244.4,452.3ZM261.9,419.9A2.4,2.0,90,1,0,261.9,424.7A2.4,2.0,90,1,0,261.9,419.9ZM224.6,441.8A1.9,1.2,42,1,0,227.3,444.3A1.9,1.2,42,1,0,224.6,441.8ZM229.5,461.0A2.4,1.5,158,1,0,225.1,462.9A2.4,1.5,158,1,0,229.5,461.0ZM256.3,455.5A2.5,2.0,112,1,0,254.5,460.1A2.5,2.0,112,1,0,256.3,455.5ZM263.7,437.4A2.5,2.2,158,1,0,259.1,439.2A2.5,2.2,158,1,0,263.7,437.4ZM258.8,450.0A2.5,1.6,126,1,0,255.9,454.0A2.5,1.6,126,1,0,258.8,450.0ZM210.9,423.4A2.5,2.2,22,1,0,215.6,425.3A2.5,2.2,22,1,0,210.9,423.4ZM268.6,446.7A2.3,1.8,135,1,0,265.4,450.0A2.3,1.8,135,1,0,268.6,446.7ZM269.4,451.4A2.5,1.7,18,1,0,274.2,453.0A2.5,1.7,18,1,0,269.4,451.4ZM243.3,435.5A2.0,1.3,29,1,0,246.8,437.5A2.0,1.3,29,1,0,243.3,435.5ZM210.6,455.0A2.5,2.2,129,1,0,207.4,458.9A2.5,2.2,129,1,0,210.6,455.0ZM234.9,451.4A1.7,1.5,37,1,0,237.6,453.5A1.7,1.5,37,1,0,234.9,451.4ZM249.3,431.3A1.6,1.4,117,1,0,247.9,434.2A1.6,1.4,117,1,0,249.3,431.3Z" fill="#7a7e86" stroke="#cfcbc2" stroke-width="0.6"/>
<path d="M228.6,436.7A1.0,0.9,100,1,0,228.3,438.7A1.0,0.9,100,1,0,228.6,436.7ZM232.2,451.4A0.8,0.7,153,1,0,230.8,452.1A0.8,0.7,153,1,0,232.2,451.4ZM257.4,437.2A1.3,1.2,44,1,0,259.3,439.0A1.3,1.2,44,1,0,257.4,437.2ZM212.5,438.5A1.2,1.1,49,1,0,214.1,440.3A1.2,1.1,49,1,0,212.5,438.5ZM245.5,434.6A1.3,1.1,103,1,0,244.9,437.1A1.3,1.1,103,1,0,245.5,434.6ZM216.6,431.5A1.0,0.8,170,1,0,214.6,431.9A1.0,0.8,170,1,0,216.6,431.5ZM264.0,431.7A1.3,1.1,157,1,0,261.7,432.7A1.3,1.1,157,1,0,264.0,431.7ZM242.4,452.7A1.3,1.2,113,1,0,241.3,455.1A1.3,1.2,113,1,0,242.4,452.7ZM257.0,434.3A0.9,0.9,0,1,0,258.7,434.3A0.9,0.9,0,1,0,257.0,434.3ZM241.6,434.0A1.0,0.8,161,1,0,239.7,434.7A1.0,0.8,161,1,0,241.6,434.0ZM243.0,460.0A1.2,1.1,74,1,0,243.7,462.3A1.2,1.1,74,1,0,243.0,460.0ZM220.2,428.4A0.8,0.8,56,1,0,221.1,429.8A0.8,0.8,56,1,0,220.2,428.4ZM263.7,453.0A1.1,0.9,157,1,0,261.7,453.8A1.1,0.9,157,1,0,263.7,453.0ZM223.0,469.8A1.3,1.3,24,1,0,225.4,470.8A1.3,1.3,24,1,0,223.0,469.8ZM209.2,459.2A0.8,0.8,134,1,0,208.0,460.4A0.8,0.8,134,1,0,209.2,459.2ZM219.3,459.7A1.3,1.3,156,1,0,217.0,460.8A1.3,1.3,156,1,0,219.3,459.7ZM237.3,470.7A1.0,0.9,140,1,0,235.7,472.0A1.0,0.9,140,1,0,237.3,470.7ZM259.9,456.8A0.9,0.9,178,1,0,258.0,456.9A0.9,0.9,178,1,0,259.9,456.8ZM256.8,434.3A0.9,0.8,56,1,0,257.8,435.9A0.9,0.8,56,1,0,256.8,434.3ZM244.8,441.5A0.9,0.9,146,1,0,243.4,442.4A0.9,0.9,146,1,0,244.8,441.5ZM227.1,434.8A1.0,0.9,22,1,0,229.1,435.6A1.0,0.9,22,1,0,227.1,434.8ZM239.9,472.4A1.2,1.1,149,1,0,237.8,473.7A1.2,1.1,149,1,0,239.9,472.4ZM261.5,454.4A0.9,0.8,129,1,0,260.4,455.8A0.9,0.8,129,1,0,261.5,454.4ZM221.1,451.3A1.3,1.1,174,1,0,218.6,451.6A1.3,1.1,174,1,0,221.1,451.3ZM265.6,432.7A0.8,0.8,41,1,0,266.9,433.8A0.8,0.8,41,1,0,265.6,432.7ZM240.0,464.5A1.0,0.8,153,1,0,238.3,465.4A1.0,0.8,153,1,0,240.0,464.5Z" fill="#faeed8" stroke="#ecc08a" stroke-width="0.6"/>
</g></g>
<clipPath id="clip43"><rect x="206.60" y="526.40" width="68.30" height="50.80"/></clipPath>
<rect x="206.60" y="526.40" width="68.30" height="50.80" fill="#92959b"/>
<g clip-path="url(#clip43)"><g filter="url(#pb)">
<path d="M209.0,559.5A2.3,1.5,83,1,0,209.5,564.1A2.3,1.5,83,1,0,209.0,559.5ZM237.1,549.8A1.9,1.3,78,1,0,238.0,553.6A1.9,1.3,78,1,0,237.1,549.8ZM241.8,563.4A2.5,1.6,32,1,0,246.1,566.1A2.5,1.6,32,1,0,241.8,563.4ZM232.2,528.8A2.4,1.4,89,1,0,232.3,533.7A2.4,1.4,89,1,0,232.2,528.8ZM239.7,555.4A1.6,1.1,9,1,0,242.8,555.9A1.6,1.1,9,1,0,239.7,555.4ZM244.4,573.1A2.2,1.4,17,1,0,248.7,574.4A2.2,1.4,17,1,0,244.4,573.1ZM269.0,541.9A1.7,1.1,126,1,0,267.0,544.6A1.7,1.1,126,1,0,269.0,541.9ZM259.2,527.4A1.7,1.0,66,1,0,260.6,530.5A1.7,1.0,66,1,0,259.2,527.4ZM272.8,552.0A2.4,1.7,89,1,0,272.8,556.9A2.4,1.7,89,1,0,272.8,552.0ZM213.8,559.2A1.6,0.9,145,1,0,211.1,561.1A1.6,0.9,145,1,0,213.8,559.2ZM239.4,527.5A2.7,1.2,163,1,0,234.3,529.1A2.7,1.2,163,1,0,239.4,527.5ZM242.9,572.8A2.5,1.3,152,1,0,238.4,575.2A2.5,1.3,152,1,0,242.9,572.8ZM257.2,530.7A2.0,1.2,169,1,0,253.3,531.5A2.0,1.2,169,1,0,257.2,530.7ZM247.7,539.1A1.9,1.0,164,1,0,244.1,540.1A1.9,1.0,164,1,0,247.7,539.1ZM250.9,574.1A1.8,0.9,34,1,0,253.8,576.1A1.8,0.9,34,1,0,250.9,574.1ZM272.7,537.5A1.5,0.9,11,1,0,275.7,538.1A1.5,0.9,11,1,0,272.7,537.5ZM252.7,531.5A2.0,0.8,36,1,0,256.0,533.9A2.0,0.8,36,1,0,252.7,531.5ZM230.3,542.2A2.2,1.3,24,1,0,234.3,544.0A2.2,1.3,24,1,0,230.3,542.2ZM221.3,527.1A1.8,1.1,126,1,0,219.2,530.1A1.8,1.1,126,1,0,221.3,527.1ZM209.8,560.6A2.4,1.3,40,1,0,213.4,563.7A2.4,1.3,40,1,0,209.8,560.6ZM249.1,539.3A2.1,1.1,54,1,0,251.6,542.6A2.1,1.1,54,1,0,249.1,539.3ZM270.9,563.6A2.2,1.4,152,1,0,266.9,565.7A2.2,1.4,152,1,0,270.9,563.6ZM244.2,555.1A2.3,1.5,168,1,0,239.8,556.1A2.3,1.5,168,1,0,244.2,555.1ZM250.2,526.8A2.3,1.6,159,1,0,245.8,528.5A2.3,1.6,159,1,0,250.2,526.8ZM223.0,549.6A1.9,1.0,54,1,0,225.2,552.6A1.9,1.0,54,1,0,223.0,549.6ZM258.7,559.8A2.5,1.2,56,1,0,261.5,563.9A2.5,1.2,56,1,0,258.7,559.8ZM272.4,555.8A1.8,1.0,163,1,0,269.0,556.8A1.8,1.0,163,1,0,272.4,555.8ZM271.3,534.9A2.5,1.4,159,1,0,266.7,536.8A2.5,1.4,159,1,0,271.3,534.9ZM217.0,567.5A1.8,0.8,136,1,0,214.4,570.0A1.8,0.8,136,1,0,217.0,567.5ZM253.6,544.4A2.1,1.1,79,1,0,254.3,548.4A2.1,1.1,79,1,0,253.6,544.4ZM250.8,529.3A2.5,1.2,88,1,0,251.0,534.3A2.5,1.2,88,1,0,250.8,529.3ZM253.3,535.0A2.2,1.2,123,1,0,251.0,538.7A2.2,1.2,123,1,0,253.3,535.0ZM270.7,543.3A1.6,1.0,60,1,0,272.3,546.0A1.6,1.0,60,1,0,270.7,543.3ZM261.6,534.3A2.5,1.3,37,1,0,265.7,537.3A2.5,1.3,37,1,0,261.6,534.3ZM213.1,557.8A2.6,1.5,161,1,0,208.2,559.5A2.6,1.5,161,1,0,213.1,557.8ZM221.6,565.1A1.9,0.8,20,1,0,225.1,566.4A1.9,0.8,20,1,0,221.6,565.1ZM263.3,546.2A2.3,1.2,153,1,0,259.2,548.3A2.3,1.2,153,1,0,263.3,546.2ZM248.7,535.7A2.1,0.8,150,1,0,245.1,537.8A2.1,0.8,150,1,0,248.7,535.7ZM262.8,531.9A2.4,1.1,104,1,0,261.6,536.6A2.4,1.1,104,1,0,262.8,531.9ZM237.6,548.2A1.8,1.1,113,1,0,236.2,551.5A1.8,1.1,113,1,0,237.6,548.2ZM242.0,552.0A1.5,0.7,137,1,0,239.8,554.1A1.5,0.7,137,1,0,242.0,552.0ZM213.7,529.2A1.6,0.7,94,1,0,213.5,532.4A1.6,0.7,94,1,0,213.7,529.2ZM237.2,559.0A2.2,1.5,118,1,0,235.1,562.9A2.2,1.5,118,1,0,237.2,559.0ZM263.7,576.1A1.9,0.9,159,1,0,260.2,577.4A1.9,0.9,159,1,0,263.7,576.1ZM233.5,527.0A2.2,0.9,16,1,0,237.8,528.2A2.2,0.9,16,1,0,233.5,527.0ZM213.9,557.7A1.9,0.9,49,1,0,216.4,560.5A1.9,0.9,49,1,0,213.9,557.7ZM259.7,535.5A2.2,1.1,60,1,0,261.9,539.3A2.2,1.1,60,1,0,259.7,535.5ZM216.9,558.9A2.3,1.0,47,1,0,220.0,562.1A2.3,1.0,47,1,0,216.9,558.9ZM234.8,552.6A2.5,1.6,46,1,0,238.2,556.2A2.5,1.6,46,1,0,234.8,552.6ZM218.5,542.4A2.1,1.2,58,1,0,220.7,546.0A2.1,1.2,58,1,0,218.5,542.4ZM270.3,553.8A2.2,1.1,114,1,0,268.6,557.8A2.2,1.1,114,1,0,270.3,553.8ZM216.8,575.4A1.8,1.1,134,1,0,214.2,578.0A1.8,1.1,134,1,0,216.8,575.4ZM206.8,565.9A2.0,1.1,31,1,0,210.3,568.0A2.0,1.1,31,1,0,206.8,565.9ZM210.1,532.6A2.3,1.0,98,1,0,209.4,537.2A2.3,1.0,98,1,0,210.1,532.6ZM213.3,572.3A1.7,0.9,136,1,0,210.9,574.7A1.7,0.9,136,1,0,213.3,572.3ZM226.9,538.3A2.0,1.2,113,1,0,225.3,542.1A2.0,1.2,113,1,0,226.9,538.3ZM227.9,568.8A2.5,1.7,3,1,0,232.9,569.1A2.5,1.7,3,1,0,227.9,568.8ZM269.6,542.5A2.0,1.2,149,1,0,266.1,544.6A2.0,1.2,149,1,0,269.6,542.5ZM231.2,571.8A2.0,1.2,44,1,0,234.1,574.6A2.0,1.2,44,1,0,231.2,571.8ZM231.2,541.3A2.1,0.9,57,1,0,233.4,544.8A2.1,0.9,57,1,0,231.2,541.3ZM227.3,530.5A2.0,0.8,59,1,0,229.4,533.9A2.0,0.8,59,1,0,227.3,530.5ZM274.6,535.6A1.5,0.9,105,1,0,273.8,538.6A1.5,0.9,105,1,0,274.6,535.6ZM270.5,528.5A1.8,0.8,150,1,0,267.4,530.2A1.8,0.8,150,1,0,270.5,528.5ZM251.7,568.0A2.6,1.4,67,1,0,253.7,572.8A2.6,1.4,67,1,0,251.7,568.0ZM227.3,565.3A2.2,0.9,75,1,0,228.5,569.5A2.2,0.9,75,1,0,227.3,565.3ZM262.3,556.9A1.9,1.0,17,1,0,265.8,558.0A1.9,1.0,17,1,0,262.3,556.9ZM207.6,541.3A1.7,1.0,86,1,0,207.8,544.7A1.7,1.0,86,1,0,207.6,541.3ZM251.7,553.2A1.7,1.1,80,1,0,252.3,556.5A1.7,1.1,80,1,0,251.7,553.2ZM222.5,568.6A2.2,1.1,99,1,0,221.7,573.0A2.2,1.1,99,1,0,222.5,568.6ZM273.0,567.2A2.6,1.7,61,1,0,275.6,571.7A2.6,1.7,61,1,0,273.0,567.2ZM230.9,531.0A2.0,1.2,83,1,0,231.4,535.0A2.0,1.2,83,1,0,230.9,531.0ZM207.8,553.7A1.5,0.9,99,1,0,207.3,556.6A1.5,0.9,99,1,0,207.8,553.7ZM268.6,559.5A1.8,0.9,68,1,0,269.9,562.8A1.8,0.9,68,1,0,268.6,559.5ZM272.2,532.4A1.6,0.8,94,1,0,272.0,535.7A1.6,0.8,94,1,0,272.2,532.4ZM225.9,530.0A1.9,1.1,149,1,0,222.7,531.9A1.9,1.1,149,1,0,225.9,530.0ZM238.4,552.4A1.6,0.7,6,1,0,241.5,552.8A1.6,0.7,6,1,0,238.4,552.4ZM253.3,539.5A1.7,0.7,143,1,0,250.5,541.6A1.7,0.7,143,1,0,253.3,539.5ZM269.4,543.5A1.7,0.8,175,1,0,265.9,543.8A1.7,0.8,175,1,0,269.4,543.5ZM227.1,540.4A2.5,1.7,4,1,0,232.0,540.8A2.5,1.7,4,1,0,227.1,540.4ZM222.4,544.9A2.0,1.3,127,1,0,220.0,548.1A2.0,1.3,127,1,0,222.4,544.9ZM271.9,538.3A1.6,0.8,109,1,0,270.8,541.3A1.6,0.8,109,1,0,271.9,538.3ZM221.9,567.3A2.2,1.4,150,1,0,218.0,569.5A2.2,1.4,150,1,0,221.9,567.3ZM253.7,565.2A2.0,0.9,145,1,0,250.5,567.4A2.0,0.9,145,1,0,253.7,565.2ZM223.6,566.8A1.6,0.6,137,1,0,221.3,568.9A1.6,0.6,137,1,0,223.6,566.8ZM255.1,537.7A1.9,1.2,11,1,0,258.7,538.5A1.9,1.2,11,1,0,255.1,537.7ZM223.9,568.5A1.8,1.3,172,1,0,220.3,569.0A1.8,1.3,172,1,0,223.9,568.5ZM257.9,528.1A1.9,1.1,21,1,0,261.5,529.4A1.9,1.1,21,1,0,257.9,528.1ZM273.4,568.0A2.1,0.9,105,1,0,272.3,572.0A2.1,0.9,105,1,0,273.4,568.0ZM227.0,550.5A1.9,1.3,129,1,0,224.7,553.4A1.9,1.3,129,1,0,227.0,550.5ZM267.8,540.3A1.9,1.0,40,1,0,270.8,542.8A1.9,1.0,40,1,0,267.8,540.3ZM234.6,557.2A1.7,0.9,2,1,0,238.0,557.3A1.7,0.9,2,1,0,234.6,557.2ZM271.8,542.6A2.1,1.3,39,1,0,275.1,545.3A2.1,1.3,39,1,0,271.8,542.6ZM226.8,530.2A1.5,0.7,13,1,0,229.8,530.9A1.5,0.7,13,1,0,226.8,530.2ZM226.6,526.7A1.9,1.1,26,1,0,230.1,528.4A1.9,1.1,26,1,0,226.6,526.7ZM273.5,572.1A2.5,1.7,125,1,0,270.6,576.2A2.5,1.7,125,1,0,273.5,572.1ZM239.4,556.6A2.2,1.4,1,1,0,243.8,556.7A2.2,1.4,1,1,0,239.4,556.6ZM234.1,532.2A2.5,1.5,9,1,0,239.1,533.0A2.5,1.5,9,1,0,234.1,532.2ZM261.4,566.6A1.7,0.8,98,1,0,260.9,570.0A1.7,0.8,98,1,0,261.4,566.6ZM216.6,552.1A2.5,1.6,15,1,0,221.4,553.4A2.5,1.6,15,1,0,216.6,552.1ZM241.8,570.2A2.5,1.4,29,1,0,246.1,572.6A2.5,1.4,29,1,0,241.8,570.2ZM223.7,538.3A2.6,1.3,126,1,0,220.6,542.5A2.6,1.3,126,1,0,223.7,538.3ZM212.2,567.4A1.9,0.9,20,1,0,215.7,568.7A1.9,0.9,20,1,0,212.2,567.4ZM210.3,553.1A1.7,0.8,146,1,0,207.5,555.0A1.7,0.8,146,1,0,210.3,553.1ZM257.0,574.7A2.3,1.6,59,1,0,259.4,578.7A2.3,1.6,59,1,0,257.0,574.7ZM209.2,534.0A2.5,1.3,103,1,0,208.0,538.9A2.5,1.3,103,1,0,209.2,534.0ZM260.7,525.6A2.5,1.5,39,1,0,264.6,528.7A2.5,1.5,39,1,0,260.7,525.6ZM212.1,534.9A1.8,0.8,93,1,0,211.8,538.6A1.8,0.8,93,1,0,212.1,534.9ZM211.3,566.9A2.4,1.5,62,1,0,213.5,571.2A2.4,1.5,62,1,0,211.3,566.9ZM238.9,538.1A2.2,1.1,152,1,0,235.0,540.2A2.2,1.1,152,1,0,238.9,538.1ZM271.1,551.5A1.6,0.7,143,1,0,268.6,553.4A1.6,0.7,143,1,0,271.1,551.5ZM238.1,525.6A1.9,1.0,119,1,0,236.2,529.0A1.9,1.0,119,1,0,238.1,525.6ZM213.9,565.9A2.4,1.3,39,1,0,217.7,569.0A2.4,1.3,39,1,0,213.9,565.9ZM249.7,551.0A2.1,0.9,111,1,0,248.3,554.8A2.1,0.9,111,1,0,249.7,551.0ZM238.3,553.6A2.7,1.3,0,1,0,243.6,553.6A2.7,1.3,0,1,0,238.3,553.6ZM216.6,530.4A2.5,1.4,158,1,0,212.0,532.3A2.5,1.4,158,1,0,216.6,530.4ZM259.3,560.3A1.9,1.1,160,1,0,255.7,561.6A1.9,1.1,160,1,0,259.3,560.3ZM258.1,556.6A1.9,0.9,55,1,0,260.3,559.7A1.9,0.9,55,1,0,258.1,556.6ZM209.3,529.8A2.1,1.5,180,1,0,205.0,529.9A2.1,1.5,180,1,0,209.3,529.8ZM236.1,560.0A2.2,1.0,8,1,0,240.5,560.7A2.2,1.0,8,1,0,236.1,560.0ZM230.5,535.6A2.4,1.7,69,1,0,232.2,540.1A2.4,1.7,69,1,0,230.5,535.6ZM222.8,560.8A2.5,1.5,175,1,0,217.8,561.2A2.5,1.5,175,1,0,222.8,560.8ZM258.1,541.8A1.5,1.0,117,1,0,256.7,544.5A1.5,1.0,117,1,0,258.1,541.8ZM271.3,566.4A2.4,1.6,17,1,0,275.8,567.8A2.4,1.6,17,1,0,271.3,566.4ZM255.1,549.1A1.9,0.9,110,1,0,253.7,552.7A1.9,0.9,110,1,0,255.1,549.1ZM239.8,553.2A1.9,1.0,125,1,0,237.7,556.3A1.9,1.0,125,1,0,239.8,553.2ZM257.8,571.7A1.5,0.8,91,1,0,257.7,574.8A1.5,0.8,91,1,0,257.8,571.7ZM240.0,552.4A2.0,1.1,83,1,0,240.6,556.4A2.0,1.1,83,1,0,240.0,552.4ZM230.8,565.7A2.6,1.6,160,1,0,225.9,567.5A2.6,1.6,160,1,0,230.8,565.7ZM255.8,544.4A2.6,1.3,2,1,0,260.9,544.6A2.6,1.3,2,1,0,255.8,544.4ZM222.4,545.2A1.9,1.0,30,1,0,225.7,547.1A1.9,1.0,30,1,0,222.4,545.2ZM231.0,545.3A2.4,1.3,22,1,0,235.4,547.1A2.4,1.3,22,1,0,231.0,545.3ZM227.6,550.5A2.6,1.8,39,1,0,231.7,553.8A2.6,1.8,39,1,0,227.6,550.5ZM242.0,553.2A2.2,1.2,136,1,0,238.8,556.3A2.2,1.2,136,1,0,242.0,553.2ZM211.1,568.4A2.4,1.4,57,1,0,213.7,572.4A2.4,1.4,57,1,0,211.1,568.4ZM213.1,532.0A1.8,1.2,121,1,0,211.2,535.1A1.8,1.2,121,1,0,213.1,532.0ZM269.6,551.5A2.0,1.1,51,1,0,272.0,554.6A2.0,1.1,51,1,0,269.6,551.5ZM227.3,535.9A2.3,1.3,35,1,0,231.0,538.5A2.3,1.3,35,1,0,227.3,535.9ZM209.9,558.9A2.2,1.4,33,1,0,213.6,561.4A2.2,1.4,33,1,0,209.9,558.9ZM224.6,563.6A1.9,0.9,37,1,0,227.6,565.8A1.9,0.9,37,1,0,224.6,563.6ZM263.3,544.1A2.4,1.4,34,1,0,267.3,546.8A2.4,1.4,34,1,0,263.3,544.1ZM241.3,554.1A1.7,1.0,102,1,0,240.6,557.4A1.7,1.0,102,1,0,241.3,554.1ZM209.0,538.6A1.8,1.0,17,1,0,212.5,539.6A1.8,1.0,17,1,0,209.0,538.6ZM210.3,571.8A2.0,1.1,104,1,0,209.3,575.7A2.0,1.1,104,1,0,210.3,571.8ZM243.7,557.6A2.6,1.4,120,1,0,241.2,562.1A2.6,1.4,120,1,0,243.7,557.6ZM264.1,532.5A2.2,1.1,9,1,0,268.4,533.2A2.2,1.1,9,1,0,264.1,532.5ZM218.7,575.2A1.7,0.7,116,1,0,217.2,578.2A1.7,0.7,116,1,0,218.7,575.2ZM211.5,564.6A2.4,1.3,40,1,0,215.1,567.6A2.4,1.3,40,1,0,211.5,564.6ZM231.9,563.6A1.6,1.0,169,1,0,228.6,564.2A1.6,1.0,169,1,0,231.9,563.6ZM233.9,540.4A2.0,1.2,39,1,0,237.1,543.0A2.0,1.2,39,1,0,233.9,540.4ZM222.9,544.8A2.0,1.0,68,1,0,224.4,548.5A2.0,1.0,68,1,0,222.9,544.8ZM237.5,524.6A2.3,1.3,107,1,0,236.2,529.0A2.3,1.3,107,1,0,237.5,524.6ZM251.7,570.2A2.3,1.1,75,1,0,252.9,574.6A2.3,1.1,75,1,0,251.7,570.2ZM255.1,563.1A2.3,1.5,150,1,0,251.0,565.4A2.3,1.5,150,1,0,255.1,563.1ZM272.2,548.4A2.1,1.3,73,1,0,273.4,552.3A2.1,1.3,73,1,0,272.2,548.4ZM213.3,538.8A2.2,1.3,78,1,0,214.3,543.1A2.2,1.3,78,1,0,213.3,538.8ZM225.7,572.3A2.6,1.2,61,1,0,228.2,576.8A2.6,1.2,61,1,0,225.7,572.3ZM207.6,532.4A2.5,1.2,66,1,0,209.6,536.9A2.5,1.2,66,1,0,207.6,532.4ZM272.4,537.2A2.5,1.2,141,1,0,268.5,540.4A2.5,1.2,141,1,0,272.4,537.2ZM254.7,543.1A2.4,1.1,102,1,0,253.7,547.9A2.4,1.1,102,1,0,254.7,543.1ZM223.7,548.5A1.8,1.2,29,1,0,226.9,550.2A1.8,1.2,29,1,0,223.7,548.5ZM222.3,551.9A2.7,1.5,126,1,0,219.1,556.2A2.7,1.5,126,1,0,222.3,551.9ZM243.5,558.2A2.0,1.3,71,1,0,244.7,562.0A2.0,1.3,71,1,0,243.5,558.2ZM242.7,544.2A2.5,1.6,99,1,0,241.9,549.1A2.5,1.6,99,1,0,242.7,544.2ZM223.8,569.7A1.9,1.0,26,1,0,227.2,571.3A1.9,1.0,26,1,0,223.8,569.7ZM266.8,543.5A1.9,0.8,145,1,0,263.7,545.7A1.9,0.8,145,1,0,266.8,543.5ZM239.9,548.5A2.7,1.4,115,1,0,237.7,553.3A2.7,1.4,115,1,0,239.9,548.5ZM243.8,564.0A2.0,1.3,120,1,0,241.8,567.4A2.0,1.3,120,1,0,243.8,564.0ZM276.5,568.6A2.0,0.9,166,1,0,272.5,569.6A2.0,0.9,166,1,0,276.5,568.6ZM262.0,565.7A2.7,1.8,22,1,0,267.0,567.7A2.7,1.8,22,1,0,262.0,565.7ZM270.5,575.7A1.8,1.2,142,1,0,267.6,577.9A1.8,1.2,142,1,0,270.5,575.7ZM251.1,548.5A2.2,1.2,180,1,0,246.7,548.5A2.2,1.2,180,1,0,251.1,548.5ZM257.6,566.0A2.5,1.7,124,1,0,254.9,570.1A2.5,1.7,124,1,0,257.6,566.0ZM243.2,526.6A1.6,0.8,95,1,0,243.0,529.7A1.6,0.8,95,1,0,243.2,526.6ZM235.1,526.2A2.4,1.6,157,1,0,230.8,528.0A2.4,1.6,157,1,0,235.1,526.2ZM258.2,573.4A2.6,1.3,165,1,0,253.1,574.8A2.6,1.3,165,1,0,258.2,573.4ZM238.1,574.5A1.5,0.6,125,1,0,236.3,577.1A1.5,0.6,125,1,0,238.1,574.5ZM233.7,571.4A2.7,1.3,144,1,0,229.4,574.5A2.7,1.3,144,1,0,233.7,571.4ZM233.9,570.2A1.5,1.0,161,1,0,231.0,571.2A1.5,1.0,161,1,0,233.9,570.2ZM250.8,556.4A2.6,1.4,60,1,0,253.4,561.0A2.6,1.4,60,1,0,250.8,556.4ZM269.8,542.8A1.7,1.1,121,1,0,268.0,545.8A1.7,1.1,121,1,0,269.8,542.8ZM215.8,533.1A1.5,0.6,70,1,0,216.8,536.0A1.5,0.6,70,1,0,215.8,533.1ZM252.4,561.4A2.1,1.3,5,1,0,256.5,561.8A2.1,1.3,5,1,0,252.4,561.4ZM218.9,538.7A2.5,1.5,8,1,0,223.8,539.4A2.5,1.5,8,1,0,218.9,538.7ZM225.3,547.5A2.7,1.5,156,1,0,220.4,549.7A2.7,1.5,156,1,0,225.3,547.5ZM221.3,537.6A1.7,1.0,160,1,0,218.1,538.7A1.7,1.0,160,1,0,221.3,537.6ZM230.7,566.8A1.8,0.9,150,1,0,227.6,568.6A1.8,0.9,150,1,0,230.7,566.8ZM267.7,545.4A2.2,1.3,128,1,0,265.1,548.8A2.2,1.3,128,1,0,267.7,545.4ZM227.1,545.0A1.7,1.1,39,1,0,229.6,547.1A1.7,1.1,39,1,0,227.1,545.0ZM222.2,533.9A1.8,0.8,33,1,0,225.2,535.8A1.8,0.8,33,1,0,222.2,533.9ZM240.3,566.6A2.0,0.9,35,1,0,243.6,568.9A2.0,0.9,35,1,0,240.3,566.6ZM250.1,540.0A2.7,1.8,32,1,0,254.6,542.9A2.7,1.8,32,1,0,250.1,540.0ZM218.4,552.2A2.7,1.7,2,1,0,223.7,552.4A2.7,1.7,2,1,0,218.4,552.2ZM210.7,554.5A1.8,0.8,65,1,0,212.2,557.7A1.8,0.8,65,1,0,210.7,554.5ZM232.4,533.5A1.7,1.0,68,1,0,233.6,536.7A1.7,1.0,68,1,0,232.4,533.5ZM212.2,541.9A1.7,1.0,67,1,0,213.5,545.0A1.7,1.0,67,1,0,212.2,541.9ZM269.7,567.3A1.6,1.0,135,1,0,267.4,569.5A1.6,1.0,135,1,0,269.7,567.3ZM221.3,537.8A2.2,1.1,103,1,0,220.3,542.1A2.2,1.1,103,1,0,221.3,537.8ZM228.7,528.7A2.0,1.0,110,1,0,227.3,532.4A2.0,1.0,110,1,0,228.7,528.7ZM272.8,551.7A1.8,0.9,13,1,0,276.3,552.6A1.8,0.9,13,1,0,272.8,551.7ZM219.3,556.9A2.6,1.4,133,1,0,215.8,560.6A2.6,1.4,133,1,0,219.3,556.9ZM210.4,543.2A2.3,1.5,10,1,0,214.9,544.0A2.3,1.5,10,1,0,210.4,543.2ZM213.6,557.6A2.0,1.4,96,1,0,213.2,561.5A2.0,1.4,96,1,0,213.6,557.6ZM249.0,528.4A2.5,1.6,179,1,0,244.0,528.5A2.5,1.6,179,1,0,249.0,528.4ZM235.6,534.0A1.7,0.7,54,1,0,237.5,536.8A1.7,0.7,54,1,0,235.6,534.0ZM259.6,563.6A2.6,1.0,119,1,0,257.1,568.1A2.6,1.0,119,1,0,259.6,563.6ZM237.0,552.9A2.1,0.9,89,1,0,237.1,557.2A2.1,0.9,89,1,0,237.0,552.9ZM244.3,560.1A1.6,0.7,75,1,0,245.2,563.1A1.6,0.7,75,1,0,244.3,560.1ZM211.4,553.5A1.9,1.1,62,1,0,213.2,556.8A1.9,1.1,62,1,0,211.4,553.5ZM272.0,564.5A1.7,1.2,120,1,0,270.3,567.4A1.7,1.2,120,1,0,272.0,564.5ZM240.5,531.3A1.8,1.1,67,1,0,241.9,534.6A1.8,1.1,67,1,0,240.5,531.3ZM209.4,559.7A2.0,1.0,51,1,0,212.0,562.9A2.0,1.0,51,1,0,209.4,559.7ZM205.6,556.7A2.7,1.5,19,1,0,210.6,558.5A2.7,1.5,19,1,0,205.6,556.7ZM249.2,555.2A1.7,0.9,152,1,0,246.2,556.8A1.7,0.9,152,1,0,249.2,555.2ZM255.3,559.5A1.7,1.1,152,1,0,252.2,561.1A1.7,1.1,152,1,0,255.3,559.5ZM272.6,539.9A1.9,1.0,107,1,0,271.5,543.6A1.9,1.0,107,1,0,272.6,539.9ZM222.9,552.8A1.7,0.7,153,1,0,219.8,554.4A1.7,0.7,153,1,0,222.9,552.8ZM273.1,538.5A2.1,1.2,134,1,0,270.2,541.5A2.1,1.2,134,1,0,273.1,538.5ZM238.1,526.4A2.6,1.3,138,1,0,234.3,529.8A2.6,1.3,138,1,0,238.1,526.4ZM243.1,553.7A2.0,1.0,79,1,0,243.9,557.6A2.0,1.0,79,1,0,243.1,553.7ZM219.9,549.3A2.1,1.2,149,1,0,216.3,551.4A2.1,1.2,149,1,0,219.9,549.3ZM234.6,575.4A2.1,1.0,51,1,0,237.1,578.6A2.1,1.0,51,1,0,234.6,575.4Z" fill="#747d8a" stroke="#b9b9b5" stroke-width="0.8"/>
<path d="M264.0,539.8A1.6,1.4,94,1,0,263.8,543.0A1.6,1.4,94,1,0,264.0,539.8ZM255.9,527.0A1.6,0.9,108,1,0,254.9,530.0A1.6,0.9,108,1,0,255.9,527.0ZM258.5,576.0A1.8,1.4,159,1,0,255.1,577.3A1.8,1.4,159,1,0,258.5,576.0ZM250.7,551.3A2.5,1.8,155,1,0,246.3,553.4A2.5,1.8,155,1,0,250.7,551.3ZM268.4,536.1A2.2,1.6,110,1,0,266.9,540.3A2.2,1.6,110,1,0,268.4,536.1ZM236.7,544.0A2.1,1.5,43,1,0,239.8,546.9A2.1,1.5,43,1,0,236.7,544.0ZM211.3,534.6A1.7,1.0,142,1,0,208.6,536.7A1.7,1.0,142,1,0,211.3,534.6ZM234.7,537.7A1.9,1.2,54,1,0,236.9,540.7A1.9,1.2,54,1,0,234.7,537.7ZM215.9,543.9A1.9,1.3,161,1,0,212.2,545.2A1.9,1.3,161,1,0,215.9,543.9ZM230.7,546.7A2.3,1.3,4,1,0,235.3,547.0A2.3,1.3,4,1,0,230.7,546.7ZM257.5,526.3A1.6,1.2,157,1,0,254.6,527.5A1.6,1.2,157,1,0,257.5,526.3ZM262.0,542.9A1.9,1.3,67,1,0,263.5,546.4A1.9,1.3,67,1,0,262.0,542.9ZM261.7,541.5A2.1,1.8,134,1,0,258.7,544.5A2.1,1.8,134,1,0,261.7,541.5ZM263.2,560.5A1.7,1.3,124,1,0,261.2,563.4A1.7,1.3,124,1,0,263.2,560.5ZM254.6,555.4A1.5,0.9,10,1,0,257.6,555.9A1.5,0.9,10,1,0,254.6,555.4ZM231.5,532.8A2.3,1.7,123,1,0,229.1,536.6A2.3,1.7,123,1,0,231.5,532.8ZM242.0,553.9A1.8,1.7,52,1,0,244.2,556.8A1.8,1.7,52,1,0,242.0,553.9ZM210.4,560.1A2.0,1.7,80,1,0,211.1,564.0A2.0,1.7,80,1,0,210.4,560.1ZM228.2,561.9A1.9,1.1,56,1,0,230.3,565.0A1.9,1.1,56,1,0,228.2,561.9ZM213.4,538.8A1.6,1.0,138,1,0,211.0,541.0A1.6,1.0,138,1,0,213.4,538.8ZM260.5,536.5A1.5,1.4,15,1,0,263.4,537.3A1.5,1.4,15,1,0,260.5,536.5ZM226.7,534.3A2.1,1.2,102,1,0,225.8,538.3A2.1,1.2,102,1,0,226.7,534.3ZM228.9,528.3A2.4,1.5,135,1,0,225.5,531.7A2.4,1.5,135,1,0,228.9,528.3ZM218.4,547.9A2.0,1.8,102,1,0,217.6,551.9A2.0,1.8,102,1,0,218.4,547.9ZM236.4,536.2A2.3,1.7,47,1,0,239.6,539.6A2.3,1.7,47,1,0,236.4,536.2ZM241.4,533.1A2.2,1.2,48,1,0,244.3,536.4A2.2,1.2,48,1,0,241.4,533.1ZM212.7,536.2A2.2,1.7,113,1,0,210.9,540.3A2.2,1.7,113,1,0,212.7,536.2ZM268.3,554.7A2.0,1.5,14,1,0,272.1,555.7A2.0,1.5,14,1,0,268.3,554.7ZM263.9,524.8A1.8,1.7,80,1,0,264.6,528.4A1.8,1.7,80,1,0,263.9,524.8ZM216.1,534.0A1.6,1.1,66,1,0,217.3,536.8A1.6,1.1,66,1,0,216.1,534.0Z" fill="#a3a4a5"/>
<path d="M220.1,534.4A1.3,1.2,127,1,0,218.5,536.5A1.3,1.2,127,1,0,220.1,534.4ZM223.9,532.6A0.8,0.7,28,1,0,225.3,533.4A0.8,0.7,28,1,0,223.9,532.6ZM224.4,532.6A1.0,0.9,64,1,0,225.2,534.4A1.0,0.9,64,1,0,224.4,532.6ZM266.7,559.5A0.9,0.8,118,1,0,265.8,561.2A0.9,0.8,118,1,0,266.7,559.5ZM226.0,556.4A1.0,0.9,113,1,0,225.2,558.2A1.0,0.9,113,1,0,226.0,556.4ZM228.5,540.1A1.1,1.0,111,1,0,227.7,542.1A1.1,1.0,111,1,0,228.5,540.1ZM275.4,556.2A1.3,1.2,171,1,0,272.8,556.6A1.3,1.2,171,1,0,275.4,556.2ZM210.3,560.8A1.0,0.9,77,1,0,210.8,562.7A1.0,0.9,77,1,0,210.3,560.8ZM274.6,538.4A1.0,0.9,145,1,0,272.9,539.6A1.0,0.9,145,1,0,274.6,538.4ZM262.0,566.3A1.1,1.0,132,1,0,260.6,567.9A1.1,1.0,132,1,0,262.0,566.3ZM211.7,544.1A0.9,0.8,5,1,0,213.5,544.3A0.9,0.8,5,1,0,211.7,544.1ZM214.3,565.3A1.2,1.1,74,1,0,215.0,567.7A1.2,1.1,74,1,0,214.3,565.3ZM256.3,562.3A1.1,1.0,66,1,0,257.2,564.4A1.1,1.0,66,1,0,256.3,562.3ZM240.4,563.2A1.1,1.0,69,1,0,241.2,565.3A1.1,1.0,69,1,0,240.4,563.2ZM227.3,551.7A0.8,0.7,132,1,0,226.2,552.9A0.8,0.7,132,1,0,227.3,551.7ZM258.3,572.5A1.2,1.0,108,1,0,257.5,574.7A1.2,1.0,108,1,0,258.3,572.5ZM231.9,530.2A1.3,1.2,50,1,0,233.6,532.2A1.3,1.2,50,1,0,231.9,530.2ZM209.1,575.6A1.0,0.9,101,1,0,208.8,577.6A1.0,0.9,101,1,0,209.1,575.6ZM218.9,539.7A1.2,1.1,46,1,0,220.5,541.4A1.2,1.1,46,1,0,218.9,539.7ZM246.1,553.3A1.2,1.1,159,1,0,243.8,554.2A1.2,1.1,159,1,0,246.1,553.3ZM251.2,561.0A1.2,1.1,47,1,0,252.7,562.7A1.2,1.1,47,1,0,251.2,561.0ZM255.7,564.0A1.1,1.0,15,1,0,257.9,564.6A1.1,1.0,15,1,0,255.7,564.0ZM212.5,567.7A1.2,1.1,8,1,0,214.8,568.0A1.2,1.1,8,1,0,212.5,567.7ZM258.1,534.8A1.1,1.0,51,1,0,259.4,536.4A1.1,1.0,51,1,0,258.1,534.8ZM254.0,544.6A1.2,1.1,106,1,0,253.3,546.9A1.2,1.1,106,1,0,254.0,544.6ZM242.3,544.1A0.9,0.8,160,1,0,240.7,544.7A0.9,0.8,160,1,0,242.3,544.1ZM245.0,549.4A1.0,0.9,158,1,0,243.0,550.1A1.0,0.9,158,1,0,245.0,549.4ZM226.2,556.7A1.1,1.0,29,1,0,228.1,557.8A1.1,1.0,29,1,0,226.2,556.7ZM263.8,573.7A1.1,1.0,21,1,0,265.9,574.5A1.1,1.0,21,1,0,263.8,573.7ZM265.1,531.7A1.2,1.1,50,1,0,266.6,533.6A1.2,1.1,50,1,0,265.1,531.7ZM229.8,569.9A1.2,1.1,125,1,0,228.4,571.9A1.2,1.1,125,1,0,229.8,569.9ZM212.3,553.2A1.1,1.0,154,1,0,210.3,554.1A1.1,1.0,154,1,0,212.3,553.2ZM229.1,563.0A1.1,1.0,87,1,0,229.2,565.2A1.1,1.0,87,1,0,229.1,563.0ZM219.7,576.4A0.9,0.8,169,1,0,217.9,576.7A0.9,0.8,169,1,0,219.7,576.4ZM246.3,559.9A1.3,1.1,120,1,0,245.0,562.1A1.3,1.1,120,1,0,246.3,559.9ZM210.6,547.2A0.9,0.8,42,1,0,211.9,548.4A0.9,0.8,42,1,0,210.6,547.2ZM238.9,562.4A1.2,1.1,173,1,0,236.6,562.7A1.2,1.1,173,1,0,238.9,562.4ZM238.3,528.3A1.1,1.0,46,1,0,239.9,529.9A1.1,1.0,46,1,0,238.3,528.3ZM213.7,538.4A1.1,1.0,59,1,0,214.8,540.3A1.1,1.0,59,1,0,213.7,538.4Z" fill="#f0dcc0" stroke="#d8bc98" stroke-width="0.6"/>
</g></g>
<clipPath id="clip14"><rect x="277.40" y="365.60" width="68.30" height="51.00"/></clipPath>
<rect x="277.40" y="365.60" width="68.30" height="51.00" fill="#010301"/>
<g clip-path="url(#clip14)"><g filter="url(#gb)">
<path d="M284.2,400.8A0.8,0.8,49,1,0,285.2,402.1A0.8,0.8,49,1,0,284.2,400.8ZM295.3,402.3A0.8,0.6,123,1,0,294.4,403.7A0.8,0.6,123,1,0,295.3,402.3ZM305.0,405.1A0.6,0.4,162,1,0,304.0,405.4A0.6,0.4,162,1,0,305.0,405.1ZM301.0,378.5A0.9,0.8,27,1,0,302.7,379.3A0.9,0.8,27,1,0,301.0,378.5ZM314.5,399.2A0.6,0.5,22,1,0,315.6,399.7A0.6,0.5,22,1,0,314.5,399.2ZM300.2,369.3A0.6,0.6,73,1,0,300.6,370.4A0.6,0.6,73,1,0,300.2,369.3ZM345.5,387.3A0.8,0.8,124,1,0,344.6,388.6A0.8,0.8,124,1,0,345.5,387.3ZM284.2,395.4A0.8,0.5,17,1,0,285.8,395.9A0.8,0.5,17,1,0,284.2,395.4ZM336.7,391.4A0.6,0.5,39,1,0,337.6,392.2A0.6,0.5,39,1,0,336.7,391.4ZM331.4,391.0A0.6,0.5,16,1,0,332.4,391.3A0.6,0.5,16,1,0,331.4,391.0ZM296.6,366.2A0.9,0.6,95,1,0,296.5,367.9A0.9,0.6,95,1,0,296.6,366.2ZM283.6,389.3A0.8,0.7,82,1,0,283.9,390.9A0.8,0.7,82,1,0,283.6,389.3ZM310.5,387.1A0.8,0.5,85,1,0,310.6,388.7A0.8,0.5,85,1,0,310.5,387.1ZM292.7,409.3A1.0,0.6,26,1,0,294.4,410.2A1.0,0.6,26,1,0,292.7,409.3ZM325.9,394.7A0.5,0.4,170,1,0,324.9,394.8A0.5,0.4,170,1,0,325.9,394.7ZM305.8,382.7A0.8,0.8,47,1,0,306.8,383.9A0.8,0.8,47,1,0,305.8,382.7ZM297.5,374.6A0.8,0.6,46,1,0,298.6,375.8A0.8,0.6,46,1,0,297.5,374.6ZM304.1,366.7A0.7,0.7,105,1,0,303.7,368.0A0.7,0.7,105,1,0,304.1,366.7ZM296.0,413.3A0.7,0.5,6,1,0,297.4,413.4A0.7,0.5,6,1,0,296.0,413.3ZM287.0,375.3A0.6,0.6,48,1,0,287.8,376.2A0.6,0.6,48,1,0,287.0,375.3ZM295.1,395.7A1.0,0.7,137,1,0,293.7,397.1A1.0,0.7,137,1,0,295.1,395.7ZM303.2,393.7A0.8,0.8,136,1,0,302.0,394.8A0.8,0.8,136,1,0,303.2,393.7ZM312.8,408.4A0.7,0.5,173,1,0,311.4,408.6A0.7,0.5,173,1,0,312.8,408.4ZM314.9,404.4A0.7,0.6,110,1,0,314.5,405.7A0.7,0.6,110,1,0,314.9,404.4ZM293.8,412.7A0.7,0.5,47,1,0,294.8,413.8A0.7,0.5,47,1,0,293.8,412.7ZM283.9,375.2A0.8,0.6,47,1,0,285.0,376.4A0.8,0.6,47,1,0,283.9,375.2ZM307.5,392.9A0.7,0.6,46,1,0,308.4,393.9A0.7,0.6,46,1,0,307.5,392.9ZM302.1,387.0A0.6,0.4,26,1,0,303.1,387.5A0.6,0.4,26,1,0,302.1,387.0ZM327.3,372.3A0.8,0.6,116,1,0,326.6,373.8A0.8,0.6,116,1,0,327.3,372.3ZM322.4,382.7A1.0,0.8,100,1,0,322.1,384.6A1.0,0.8,100,1,0,322.4,382.7ZM281.2,386.2A0.6,0.5,168,1,0,279.9,386.5A0.6,0.5,168,1,0,281.2,386.2ZM336.5,367.9A0.8,0.8,98,1,0,336.3,369.6A0.8,0.8,98,1,0,336.5,367.9ZM284.7,409.5A0.7,0.7,157,1,0,283.3,410.1A0.7,0.7,157,1,0,284.7,409.5ZM333.7,412.7A0.5,0.5,55,1,0,334.3,413.5A0.5,0.5,55,1,0,333.7,412.7ZM286.5,384.2A0.8,0.5,81,1,0,286.8,385.7A0.8,0.5,81,1,0,286.5,384.2Z" fill="#0d3a0b"/>
<path d="M310.5,391.8A1.1,0.8,45,1,0,312.0,393.3A1.1,0.8,45,1,0,310.5,391.8ZM311.0,392.2A0.8,0.7,162,1,0,309.5,392.7A0.8,0.7,162,1,0,311.0,392.2ZM350.0,375.6A1.5,1.2,94,1,0,349.8,378.7A1.5,1.2,94,1,0,350.0,375.6ZM348.8,377.7A1.2,0.9,44,1,0,350.5,379.3A1.2,0.9,44,1,0,348.8,377.7ZM291.9,387.7A1.3,1.1,66,1,0,292.9,390.0A1.3,1.1,66,1,0,291.9,387.7ZM320.0,408.5A1.9,1.5,41,1,0,322.9,411.0A1.9,1.5,41,1,0,320.0,408.5ZM321.1,407.9A1.5,1.0,154,1,0,318.4,409.2A1.5,1.0,154,1,0,321.1,407.9ZM328.4,388.7A1.5,0.7,158,1,0,325.7,389.8A1.5,0.7,158,1,0,328.4,388.7ZM325.5,390.1A1.0,0.7,7,1,0,327.4,390.3A1.0,0.7,7,1,0,325.5,390.1ZM328.4,384.3A0.9,0.5,76,1,0,328.9,386.0A0.9,0.5,76,1,0,328.4,384.3ZM345.5,388.8A1.8,0.9,88,1,0,345.7,392.5A1.8,0.9,88,1,0,345.5,388.8ZM347.7,389.7A1.2,0.9,156,1,0,345.6,390.6A1.2,0.9,156,1,0,347.7,389.7ZM289.4,383.6A1.6,0.8,27,1,0,292.3,385.0A1.6,0.8,27,1,0,289.4,383.6ZM289.2,382.4A1.2,0.9,86,1,0,289.3,384.7A1.2,0.9,86,1,0,289.2,382.4ZM292.5,412.3A1.8,1.4,20,1,0,295.8,413.4A1.8,1.4,20,1,0,292.5,412.3ZM306.9,373.7A1.8,1.5,52,1,0,309.1,376.5A1.8,1.5,52,1,0,306.9,373.7ZM309.2,376.7A0.9,0.7,150,1,0,307.6,377.6A0.9,0.7,150,1,0,309.2,376.7ZM308.9,372.7A1.5,1.2,99,1,0,308.5,375.6A1.5,1.2,99,1,0,308.9,372.7ZM309.4,397.6A1.7,1.0,35,1,0,312.2,399.6A1.7,1.0,35,1,0,309.4,397.6ZM310.5,396.7A0.9,0.6,11,1,0,312.2,397.0A0.9,0.6,11,1,0,310.5,396.7ZM339.0,385.5A1.4,0.7,118,1,0,337.7,387.9A1.4,0.7,118,1,0,339.0,385.5ZM339.3,387.8A0.8,0.6,161,1,0,337.7,388.3A0.8,0.6,161,1,0,339.3,387.8ZM331.5,371.0A1.1,0.6,175,1,0,329.3,371.2A1.1,0.6,175,1,0,331.5,371.0ZM330.6,369.7A0.8,0.4,119,1,0,329.7,371.1A0.8,0.4,119,1,0,330.6,369.7ZM313.5,371.9A1.5,0.9,122,1,0,311.8,374.5A1.5,0.9,122,1,0,313.5,371.9ZM313.4,371.0A1.1,1.0,130,1,0,311.9,372.7A1.1,1.0,130,1,0,313.4,371.0ZM302.8,394.8A1.3,1.1,20,1,0,305.2,395.7A1.3,1.1,20,1,0,302.8,394.8ZM332.6,376.8A1.5,0.7,55,1,0,334.3,379.3A1.5,0.7,55,1,0,332.6,376.8ZM332.9,376.0A1.1,1.0,78,1,0,333.3,378.2A1.1,1.0,78,1,0,332.9,376.0ZM321.7,384.0A1.9,1.0,97,1,0,321.3,387.7A1.9,1.0,97,1,0,321.7,384.0ZM319.3,384.8A1.1,0.6,71,1,0,320.0,386.9A1.1,0.6,71,1,0,319.3,384.8ZM304.0,390.3A1.1,0.6,144,1,0,302.2,391.6A1.1,0.6,144,1,0,304.0,390.3ZM302.5,389.6A0.7,0.5,135,1,0,301.6,390.6A0.7,0.5,135,1,0,302.5,389.6ZM334.4,399.3A1.4,1.0,85,1,0,334.7,402.1A1.4,1.0,85,1,0,334.4,399.3ZM333.5,400.6A1.0,0.8,73,1,0,334.1,402.6A1.0,0.8,73,1,0,333.5,400.6ZM294.0,386.4A0.8,0.5,102,1,0,293.6,388.0A0.8,0.5,102,1,0,294.0,386.4ZM366.9,381.6A1.1,0.8,178,1,0,364.7,381.7A1.1,0.8,178,1,0,366.9,381.6ZM280.3,373.4A0.9,0.6,159,1,0,278.6,374.1A0.9,0.6,159,1,0,280.3,373.4ZM282.1,402.4A1.0,0.7,64,1,0,283.0,404.2A1.0,0.7,64,1,0,282.1,402.4ZM333.3,390.2A1.4,1.1,136,1,0,331.3,392.2A1.4,1.1,136,1,0,333.3,390.2ZM312.4,374.7A1.1,0.8,8,1,0,314.7,375.0A1.1,0.8,8,1,0,312.4,374.7ZM312.9,375.5A0.8,0.5,12,1,0,314.6,375.9A0.8,0.5,12,1,0,312.9,375.5Z" fill="#3cf038"/>
<path d="M311.4,391.2A0.7,0.5,60,1,0,312.1,392.4A0.7,0.5,60,1,0,311.4,391.2ZM352.5,376.6A1.3,1.0,143,1,0,350.4,378.2A1.3,1.0,143,1,0,352.5,376.6ZM301.4,381.9A1.6,1.3,90,1,0,301.4,385.1A1.6,1.3,90,1,0,301.4,381.9ZM299.6,407.2A1.9,1.1,3,1,0,303.4,407.4A1.9,1.1,3,1,0,299.6,407.2ZM303.1,407.4A1.5,1.0,133,1,0,301.1,409.6A1.5,1.0,133,1,0,303.1,407.4ZM297.8,388.1A1.2,0.8,178,1,0,295.5,388.2A1.2,0.8,178,1,0,297.8,388.1ZM314.7,412.5A0.8,0.6,98,1,0,314.5,414.0A0.8,0.6,98,1,0,314.7,412.5ZM315.2,412.7A0.5,0.3,171,1,0,314.1,412.8A0.5,0.3,171,1,0,315.2,412.7ZM326.3,388.8A0.8,0.4,97,1,0,326.1,390.3A0.8,0.4,97,1,0,326.3,388.8ZM344.3,401.0A1.8,1.2,170,1,0,340.6,401.7A1.8,1.2,170,1,0,344.3,401.0ZM342.2,402.1A1.4,0.8,173,1,0,339.4,402.4A1.4,0.8,173,1,0,342.2,402.1ZM343.0,401.0A1.3,0.7,71,1,0,343.9,403.5A1.3,0.7,71,1,0,343.0,401.0ZM341.0,391.8A1.5,1.0,162,1,0,338.2,392.7A1.5,1.0,162,1,0,341.0,391.8ZM300.9,391.5A1.3,0.7,178,1,0,298.4,391.6A1.3,0.7,178,1,0,300.9,391.5ZM298.2,392.4A1.0,0.9,11,1,0,300.1,392.8A1.0,0.9,11,1,0,298.2,392.4ZM315.2,396.4A1.7,1.4,12,1,0,318.6,397.1A1.7,1.4,12,1,0,315.2,396.4ZM281.4,413.3A1.6,1.2,107,1,0,280.5,416.2A1.6,1.2,107,1,0,281.4,413.3ZM345.2,381.3A0.9,0.5,119,1,0,344.3,382.9A0.9,0.5,119,1,0,345.2,381.3ZM293.6,375.0A1.4,0.7,177,1,0,290.7,375.1A1.4,0.7,177,1,0,293.6,375.0ZM299.4,373.4A1.7,1.4,57,1,0,301.2,376.2A1.7,1.4,57,1,0,299.4,373.4ZM294.4,391.7A1.8,1.4,95,1,0,294.1,395.3A1.8,1.4,95,1,0,294.4,391.7ZM318.4,383.9A1.2,0.6,71,1,0,319.1,386.1A1.2,0.6,71,1,0,318.4,383.9ZM319.9,383.9A0.7,0.6,129,1,0,319.1,385.0A0.7,0.6,129,1,0,319.9,383.9ZM292.4,412.9A1.1,0.8,41,1,0,294.0,414.3A1.1,0.8,41,1,0,292.4,412.9ZM293.1,370.1A1.3,0.7,135,1,0,291.3,371.9A1.3,0.7,135,1,0,293.1,370.1ZM295.5,389.5A0.8,0.4,137,1,0,294.3,390.7A0.8,0.4,137,1,0,295.5,389.5ZM295.1,389.4A0.7,0.4,48,1,0,295.9,390.3A0.7,0.4,48,1,0,295.1,389.4ZM294.5,389.2A0.5,0.4,109,1,0,294.2,390.0A0.5,0.4,109,1,0,294.5,389.2ZM325.3,406.0A1.2,0.6,56,1,0,326.6,407.9A1.2,0.6,56,1,0,325.3,406.0ZM324.9,406.3A0.7,0.6,81,1,0,325.1,407.6A0.7,0.6,81,1,0,324.9,406.3ZM297.5,386.2A1.9,1.4,47,1,0,300.0,388.9A1.9,1.4,47,1,0,297.5,386.2ZM294.0,382.5A1.0,0.8,59,1,0,295.0,384.1A1.0,0.8,59,1,0,294.0,382.5ZM294.3,382.1A0.7,0.4,41,1,0,295.3,383.0A0.7,0.4,41,1,0,294.3,382.1ZM346.6,373.5A1.2,0.7,43,1,0,348.4,375.1A1.2,0.7,43,1,0,346.6,373.5ZM349.0,374.4A0.8,0.6,164,1,0,347.4,374.8A0.8,0.6,164,1,0,349.0,374.4ZM312.8,398.0A1.1,0.6,170,1,0,310.8,398.4A1.1,0.6,170,1,0,312.8,398.0ZM333.6,389.2A1.0,0.7,22,1,0,335.5,390.0A1.0,0.7,22,1,0,333.6,389.2ZM335.2,389.5A0.8,0.5,75,1,0,335.6,391.1A0.8,0.5,75,1,0,335.2,389.5ZM339.4,388.0A1.0,0.6,170,1,0,337.5,388.3A1.0,0.6,170,1,0,339.4,388.0ZM354.3,399.7A1.2,0.9,165,1,0,352.1,400.3A1.2,0.9,165,1,0,354.3,399.7ZM354.2,398.8A0.9,0.6,178,1,0,352.3,398.9A0.9,0.6,178,1,0,354.2,398.8ZM309.8,390.6A1.8,1.0,6,1,0,313.5,391.0A1.8,1.0,6,1,0,309.8,390.6ZM318.4,399.7A1.0,0.7,58,1,0,319.4,401.4A1.0,0.7,58,1,0,318.4,399.7ZM317.7,411.0A1.2,0.6,117,1,0,316.6,413.2A1.2,0.6,117,1,0,317.7,411.0ZM318.3,411.3A0.7,0.3,127,1,0,317.5,412.3A0.7,0.3,127,1,0,318.3,411.3ZM318.6,411.9A0.7,0.6,132,1,0,317.7,412.9A0.7,0.6,132,1,0,318.6,411.9ZM316.5,397.7A1.7,1.3,173,1,0,313.1,398.1A1.7,1.3,173,1,0,316.5,397.7ZM313.2,406.2A1.1,0.8,2,1,0,315.4,406.3A1.1,0.8,2,1,0,313.2,406.2ZM330.0,371.1A0.7,0.6,82,1,0,330.2,372.5A0.7,0.6,82,1,0,330.0,371.1ZM326.7,382.3A1.6,1.0,88,1,0,326.8,385.5A1.6,1.0,88,1,0,326.7,382.3ZM326.8,382.4A0.9,0.7,148,1,0,325.3,383.4A0.9,0.7,148,1,0,326.8,382.4ZM332.6,376.1A0.8,0.5,88,1,0,332.7,377.7A0.8,0.5,88,1,0,332.6,376.1ZM343.6,378.8A1.5,0.8,24,1,0,346.3,380.0A1.5,0.8,24,1,0,343.6,378.8ZM341.0,384.6A1.2,0.9,38,1,0,343.0,386.1A1.2,0.9,38,1,0,341.0,384.6ZM342.1,384.1A0.8,0.6,55,1,0,343.0,385.3A0.8,0.6,55,1,0,342.1,384.1ZM304.8,389.8A0.8,0.4,152,1,0,303.4,390.6A0.8,0.4,152,1,0,304.8,389.8ZM319.5,375.0A0.7,0.5,162,1,0,318.1,375.5A0.7,0.5,162,1,0,319.5,375.0ZM345.6,390.7A1.4,1.1,127,1,0,344.0,392.9A1.4,1.1,127,1,0,345.6,390.7ZM344.1,392.4A0.8,0.6,119,1,0,343.4,393.8A0.8,0.6,119,1,0,344.1,392.4ZM303.4,372.7A1.1,0.7,64,1,0,304.3,374.6A1.1,0.7,64,1,0,303.4,372.7ZM302.9,373.7A0.8,0.5,81,1,0,303.2,375.3A0.8,0.5,81,1,0,302.9,373.7ZM304.2,389.8A0.8,0.6,163,1,0,302.7,390.2A0.8,0.6,163,1,0,304.2,389.8ZM306.4,411.3A1.1,0.6,26,1,0,308.5,412.3A1.1,0.6,26,1,0,306.4,411.3ZM325.2,379.3A1.0,0.8,170,1,0,323.3,379.6A1.0,0.8,170,1,0,325.2,379.3ZM293.4,408.2A1.0,0.6,34,1,0,295.1,409.3A1.0,0.6,34,1,0,293.4,408.2Z" fill="#2ce028"/>
<path d="M335.3,374.5A1.7,1.1,142,1,0,332.6,376.6A1.7,1.1,142,1,0,335.3,374.5ZM334.1,376.1A1.2,1.0,83,1,0,334.4,378.6A1.2,1.0,83,1,0,334.1,376.1ZM302.2,383.1A1.1,0.7,55,1,0,303.4,384.8A1.1,0.7,55,1,0,302.2,383.1ZM313.7,413.7A0.4,0.4,15,1,0,314.5,413.9A0.4,0.4,15,1,0,313.7,413.7ZM319.9,410.6A1.7,1.0,152,1,0,317.0,412.1A1.7,1.0,152,1,0,319.9,410.6ZM317.1,412.3A1.3,0.9,27,1,0,319.4,413.4A1.3,0.9,27,1,0,317.1,412.3ZM319.8,412.8A1.0,0.7,164,1,0,317.9,413.3A1.0,0.7,164,1,0,319.8,412.8ZM299.9,391.6A0.7,0.7,70,1,0,300.4,393.0A0.7,0.7,70,1,0,299.9,391.6ZM314.2,373.7A0.8,0.4,108,1,0,313.7,375.2A0.8,0.4,108,1,0,314.2,373.7ZM345.7,381.1A0.8,0.5,88,1,0,345.8,382.6A0.8,0.5,88,1,0,345.7,381.1ZM299.0,374.7A0.8,0.4,96,1,0,298.8,376.3A0.8,0.4,96,1,0,299.0,374.7ZM318.1,383.4A0.8,0.8,101,1,0,317.8,385.1A0.8,0.8,101,1,0,318.1,383.4ZM291.6,370.0A1.1,0.8,148,1,0,289.9,371.1A1.1,0.8,148,1,0,291.6,370.0ZM327.7,405.8A0.9,0.7,137,1,0,326.4,407.0A0.9,0.7,137,1,0,327.7,405.8ZM300.6,389.2A1.1,0.8,180,1,0,298.5,389.3A1.1,0.8,180,1,0,300.6,389.2ZM295.0,382.4A0.6,0.4,161,1,0,293.8,382.8A0.6,0.4,161,1,0,295.0,382.4ZM347.0,372.7A0.6,0.4,102,1,0,346.8,374.0A0.6,0.4,102,1,0,347.0,372.7ZM335.2,388.2A0.7,0.5,134,1,0,334.2,389.1A0.7,0.5,134,1,0,335.2,388.2ZM296.4,384.5A1.8,1.3,5,1,0,299.9,384.8A1.8,1.3,5,1,0,296.4,384.5ZM351.6,399.5A0.8,0.4,65,1,0,352.3,400.9A0.8,0.4,65,1,0,351.6,399.5ZM314.5,398.7A1.4,1.0,11,1,0,317.2,399.2A1.4,1.0,11,1,0,314.5,398.7ZM315.1,395.4A1.4,1.0,69,1,0,316.1,398.0A1.4,1.0,69,1,0,315.1,395.4ZM343.6,379.2A1.0,0.7,54,1,0,344.7,380.8A1.0,0.7,54,1,0,343.6,379.2ZM345.1,379.1A1.2,0.6,61,1,0,346.3,381.1A1.2,0.6,61,1,0,345.1,379.1ZM342.9,386.0A0.7,0.6,172,1,0,341.5,386.2A0.7,0.6,172,1,0,342.9,386.0ZM346.1,391.3A0.8,0.6,116,1,0,345.5,392.7A0.8,0.6,116,1,0,346.1,391.3ZM304.6,389.3A0.4,0.3,144,1,0,304.0,389.8A0.4,0.3,144,1,0,304.6,389.3ZM303.7,390.2A0.6,0.6,176,1,0,302.4,390.3A0.6,0.6,176,1,0,303.7,390.2ZM328.1,369.5A1.3,0.7,37,1,0,330.2,371.1A1.3,0.7,37,1,0,328.1,369.5ZM319.1,393.9A1.6,1.2,38,1,0,321.7,395.9A1.6,1.2,38,1,0,319.1,393.9ZM320.0,395.3A1.2,0.6,44,1,0,321.7,397.0A1.2,0.6,44,1,0,320.0,395.3ZM307.5,411.6A0.8,0.6,3,1,0,309.2,411.7A0.8,0.6,3,1,0,307.5,411.6ZM332.2,364.2A1.6,1.1,89,1,0,332.3,367.5A1.6,1.1,89,1,0,332.2,364.2ZM295.5,408.4A0.7,0.5,114,1,0,294.9,409.7A0.7,0.5,114,1,0,295.5,408.4Z" fill="#1eb41a"/>
<path d="M332.6,373.9A1.3,1.0,76,1,0,333.2,376.4A1.3,1.0,76,1,0,332.6,373.9ZM313.8,373.1A0.7,0.5,82,1,0,314.0,374.4A0.7,0.5,82,1,0,313.8,373.1ZM313.2,374.7A0.5,0.3,66,1,0,313.6,375.6A0.5,0.3,66,1,0,313.2,374.7ZM297.9,381.9A1.1,0.9,97,1,0,297.6,384.1A1.1,0.9,97,1,0,297.9,381.9ZM318.4,393.4A1.2,1.0,0,1,0,320.8,393.4A1.2,1.0,0,1,0,318.4,393.4ZM332.5,366.8A0.9,0.7,24,1,0,334.1,367.5A0.9,0.7,24,1,0,332.5,366.8Z" fill="#127a10"/>
</g></g>
<clipPath id="clip24"><rect x="277.40" y="473.00" width="68.30" height="51.00"/></clipPath>
<rect x="277.40" y="473.00" width="68.30" height="51.00" fill="#010301"/>
<g clip-path="url(#clip24)"><g filter="url(#gb)">
<path d="M325.6,515.5A0.6,0.6,35,1,0,326.5,516.2A0.6,0.6,35,1,0,325.6,515.5ZM323.8,477.0A0.9,0.6,127,1,0,322.7,478.4A0.9,0.6,127,1,0,323.8,477.0ZM327.6,512.0A0.7,0.7,178,1,0,326.2,512.1A0.7,0.7,178,1,0,327.6,512.0ZM285.1,498.4A1.0,0.9,80,1,0,285.5,500.3A1.0,0.9,80,1,0,285.1,498.4ZM298.7,521.3A0.5,0.5,152,1,0,297.7,521.9A0.5,0.5,152,1,0,298.7,521.3ZM287.9,489.1A0.7,0.5,66,1,0,288.4,490.3A0.7,0.5,66,1,0,287.9,489.1ZM337.8,520.0A0.7,0.6,13,1,0,339.1,520.3A0.7,0.6,13,1,0,337.8,520.0ZM284.9,506.9A0.9,0.8,179,1,0,283.1,506.9A0.9,0.8,179,1,0,284.9,506.9ZM335.3,486.3A0.9,0.8,17,1,0,337.0,486.8A0.9,0.8,17,1,0,335.3,486.3ZM311.5,480.4A0.6,0.5,121,1,0,310.9,481.4A0.6,0.5,121,1,0,311.5,480.4ZM344.5,479.2A0.8,0.8,138,1,0,343.4,480.2A0.8,0.8,138,1,0,344.5,479.2ZM314.1,484.6A0.8,0.6,116,1,0,313.4,486.1A0.8,0.6,116,1,0,314.1,484.6ZM321.6,492.1A0.9,0.7,84,1,0,321.8,493.8A0.9,0.7,84,1,0,321.6,492.1ZM334.1,485.2A0.6,0.5,78,1,0,334.3,486.4A0.6,0.5,78,1,0,334.1,485.2ZM337.0,485.0A0.7,0.4,81,1,0,337.2,486.4A0.7,0.4,81,1,0,337.0,485.0ZM299.6,495.9A0.9,0.5,178,1,0,297.9,495.9A0.9,0.5,178,1,0,299.6,495.9ZM325.8,513.6A0.8,0.6,74,1,0,326.2,515.1A0.8,0.6,74,1,0,325.8,513.6ZM304.1,483.7A0.7,0.5,61,1,0,304.8,484.8A0.7,0.5,61,1,0,304.1,483.7ZM338.8,513.1A0.8,0.5,47,1,0,339.9,514.3A0.8,0.5,47,1,0,338.8,513.1ZM315.2,508.1A0.7,0.6,163,1,0,313.8,508.5A0.7,0.6,163,1,0,315.2,508.1ZM296.2,491.8A0.9,0.6,130,1,0,295.1,493.2A0.9,0.6,130,1,0,296.2,491.8ZM305.1,473.5A0.7,0.5,141,1,0,304.0,474.4A0.7,0.5,141,1,0,305.1,473.5ZM335.0,499.1A0.9,0.7,80,1,0,335.3,500.9A0.9,0.7,80,1,0,335.0,499.1ZM290.3,475.3A0.9,0.6,168,1,0,288.5,475.7A0.9,0.6,168,1,0,290.3,475.3ZM315.8,508.4A0.5,0.5,143,1,0,315.0,509.1A0.5,0.5,143,1,0,315.8,508.4ZM283.9,482.2A0.6,0.5,14,1,0,285.0,482.5A0.6,0.5,14,1,0,283.9,482.2ZM332.3,497.6A0.9,0.6,118,1,0,331.5,499.1A0.9,0.6,118,1,0,332.3,497.6ZM309.0,505.7A0.7,0.7,152,1,0,307.8,506.4A0.7,0.7,152,1,0,309.0,505.7ZM333.7,490.2A0.6,0.4,24,1,0,334.8,490.6A0.6,0.4,24,1,0,333.7,490.2ZM343.8,486.5A0.9,0.6,112,1,0,343.1,488.3A0.9,0.6,112,1,0,343.8,486.5ZM295.3,488.5A0.9,0.7,170,1,0,293.6,488.8A0.9,0.7,170,1,0,295.3,488.5ZM294.1,486.8A0.5,0.4,177,1,0,293.1,486.8A0.5,0.4,177,1,0,294.1,486.8ZM316.3,496.7A0.7,0.6,124,1,0,315.5,497.8A0.7,0.6,124,1,0,316.3,496.7ZM288.4,474.9A0.6,0.5,132,1,0,287.6,475.8A0.6,0.5,132,1,0,288.4,474.9ZM293.3,484.5A0.7,0.6,135,1,0,292.4,485.4A0.7,0.6,135,1,0,293.3,484.5ZM293.8,489.2A0.6,0.6,99,1,0,293.6,490.4A0.6,0.6,99,1,0,293.8,489.2ZM342.4,485.2A0.8,0.7,168,1,0,340.8,485.5A0.8,0.7,168,1,0,342.4,485.2ZM302.3,483.7A0.9,0.9,92,1,0,302.3,485.6A0.9,0.9,92,1,0,302.3,483.7ZM299.8,476.7A0.7,0.7,64,1,0,300.4,478.0A0.7,0.7,64,1,0,299.8,476.7ZM308.1,501.2A0.6,0.4,93,1,0,308.0,502.4A0.6,0.4,93,1,0,308.1,501.2Z" fill="#0d3a0b"/>
<path d="M344.5,516.9A1.2,0.8,150,1,0,342.4,518.1A1.2,0.8,150,1,0,344.5,516.9ZM345.7,517.1A0.9,0.6,171,1,0,343.9,517.4A0.9,0.6,171,1,0,345.7,517.1ZM321.9,498.5A1.1,0.7,113,1,0,321.0,500.5A1.1,0.7,113,1,0,321.9,498.5ZM320.7,498.5A0.9,0.5,104,1,0,320.3,500.3A0.9,0.5,104,1,0,320.7,498.5ZM305.1,473.4A1.7,1.0,165,1,0,301.7,474.3A1.7,1.0,165,1,0,305.1,473.4ZM304.8,472.4A1.0,0.8,63,1,0,305.6,474.1A1.0,0.8,63,1,0,304.8,472.4ZM283.1,505.0A1.0,0.7,32,1,0,284.8,506.1A1.0,0.7,32,1,0,283.1,505.0ZM344.1,483.2A1.1,0.6,175,1,0,342.0,483.3A1.1,0.6,175,1,0,344.1,483.2ZM328.0,505.9A1.1,0.9,97,1,0,327.8,508.2A1.1,0.9,97,1,0,328.0,505.9ZM328.1,513.9A1.7,0.9,104,1,0,327.3,517.2A1.7,0.9,104,1,0,328.1,513.9ZM325.1,513.8A1.1,0.6,29,1,0,327.1,514.9A1.1,0.6,29,1,0,325.1,513.8ZM321.4,493.8A1.1,0.9,42,1,0,323.0,495.3A1.1,0.9,42,1,0,321.4,493.8ZM322.9,493.7A0.6,0.4,48,1,0,323.7,494.7A0.6,0.4,48,1,0,322.9,493.7ZM289.1,500.8A1.7,0.8,143,1,0,286.4,502.8A1.7,0.8,143,1,0,289.1,500.8ZM325.2,478.7A1.6,0.7,26,1,0,328.2,480.1A1.6,0.7,26,1,0,325.2,478.7ZM307.0,519.5A1.6,0.8,174,1,0,303.9,519.9A1.6,0.8,174,1,0,307.0,519.5ZM329.0,512.6A1.0,0.8,18,1,0,331.0,513.3A1.0,0.8,18,1,0,329.0,512.6ZM283.6,517.9A1.2,0.8,78,1,0,284.1,520.2A1.2,0.8,78,1,0,283.6,517.9ZM296.2,509.0A1.5,0.8,70,1,0,297.2,511.8A1.5,0.8,70,1,0,296.2,509.0ZM344.9,514.5A1.0,0.8,147,1,0,343.2,515.6A1.0,0.8,147,1,0,344.9,514.5ZM318.6,519.9A1.8,1.3,179,1,0,314.9,520.0A1.8,1.3,179,1,0,318.6,519.9ZM345.3,475.7A1.1,0.6,72,1,0,346.0,477.7A1.1,0.6,72,1,0,345.3,475.7ZM316.9,502.2A1.0,0.8,93,1,0,316.8,504.3A1.0,0.8,93,1,0,316.9,502.2ZM316.7,502.0A0.6,0.5,156,1,0,315.7,502.4A0.6,0.5,156,1,0,316.7,502.0ZM327.0,521.7A1.3,0.8,104,1,0,326.3,524.1A1.3,0.8,104,1,0,327.0,521.7ZM328.5,522.6A0.8,0.5,170,1,0,326.8,522.9A0.8,0.5,170,1,0,328.5,522.6ZM284.6,495.6A1.9,1.3,28,1,0,288.0,497.4A1.9,1.3,28,1,0,284.6,495.6ZM323.2,481.8A1.3,0.9,79,1,0,323.7,484.3A1.3,0.9,79,1,0,323.2,481.8ZM341.1,516.9A1.2,0.8,176,1,0,338.7,517.0A1.2,0.8,176,1,0,341.1,516.9ZM341.5,516.2A1.0,0.6,164,1,0,339.5,516.8A1.0,0.6,164,1,0,341.5,516.2ZM304.2,480.3A1.2,0.8,63,1,0,305.3,482.4A1.2,0.8,63,1,0,304.2,480.3ZM329.0,508.2A1.9,1.2,113,1,0,327.5,511.6A1.9,1.2,113,1,0,329.0,508.2ZM309.5,479.0A1.5,0.7,67,1,0,310.7,481.8A1.5,0.7,67,1,0,309.5,479.0ZM346.3,505.4A1.6,0.7,143,1,0,343.7,507.3A1.6,0.7,143,1,0,346.3,505.4ZM308.7,476.1A1.6,1.1,118,1,0,307.2,479.0A1.6,1.1,118,1,0,308.7,476.1ZM285.0,484.2A0.9,0.8,107,1,0,284.5,485.9A0.9,0.8,107,1,0,285.0,484.2ZM340.4,495.4A1.9,1.0,49,1,0,342.9,498.2A1.9,1.0,49,1,0,340.4,495.4ZM310.3,505.7A1.6,1.1,12,1,0,313.5,506.3A1.6,1.1,12,1,0,310.3,505.7ZM311.2,506.7A0.9,0.7,106,1,0,310.7,508.4A0.9,0.7,106,1,0,311.2,506.7ZM284.2,487.8A1.8,1.1,112,1,0,282.9,491.1A1.8,1.1,112,1,0,284.2,487.8ZM343.6,499.2A1.1,0.7,167,1,0,341.5,499.7A1.1,0.7,167,1,0,343.6,499.2ZM292.9,486.0A1.3,0.6,169,1,0,290.4,486.5A1.3,0.6,169,1,0,292.9,486.0ZM330.3,477.0A1.7,1.3,54,1,0,332.3,479.7A1.7,1.3,54,1,0,330.3,477.0ZM280.0,501.9A1.7,1.1,91,1,0,280.0,505.4A1.7,1.1,91,1,0,280.0,501.9ZM335.1,515.9A1.1,0.7,59,1,0,336.2,517.8A1.1,0.7,59,1,0,335.1,515.9ZM283.0,484.2A1.0,0.6,47,1,0,284.4,485.7A1.0,0.6,47,1,0,283.0,484.2ZM324.5,522.9A1.2,0.6,31,1,0,326.5,524.1A1.2,0.6,31,1,0,324.5,522.9ZM325.3,523.8A0.8,0.5,159,1,0,323.8,524.4A0.8,0.5,159,1,0,325.3,523.8ZM312.5,507.6A1.7,1.0,106,1,0,311.6,510.9A1.7,1.0,106,1,0,312.5,507.6ZM318.0,512.0A1.5,0.7,16,1,0,320.9,512.8A1.5,0.7,16,1,0,318.0,512.0ZM336.4,516.1A1.6,0.9,153,1,0,333.6,517.5A1.6,0.9,153,1,0,336.4,516.1ZM325.6,521.8A1.5,0.8,97,1,0,325.3,524.8A1.5,0.8,97,1,0,325.6,521.8ZM326.0,521.6A1.1,0.6,67,1,0,326.9,523.6A1.1,0.6,67,1,0,326.0,521.6ZM316.5,497.4A1.2,0.6,80,1,0,316.9,499.7A1.2,0.6,80,1,0,316.5,497.4ZM293.8,493.8A1.6,0.8,37,1,0,296.4,495.7A1.6,0.8,37,1,0,293.8,493.8ZM324.2,490.2A1.8,1.2,8,1,0,327.8,490.7A1.8,1.2,8,1,0,324.2,490.2ZM326.0,496.8A1.9,0.9,15,1,0,329.6,497.8A1.9,0.9,15,1,0,326.0,496.8ZM315.1,486.7A1.8,1.5,84,1,0,315.5,490.3A1.8,1.5,84,1,0,315.1,486.7ZM295.3,488.6A1.4,1.0,47,1,0,297.1,490.6A1.4,1.0,47,1,0,295.3,488.6ZM306.7,495.0A1.0,0.5,178,1,0,304.6,495.1A1.0,0.5,178,1,0,306.7,495.0ZM306.0,498.7A1.5,0.8,40,1,0,308.3,500.7A1.5,0.8,40,1,0,306.0,498.7ZM307.3,495.7A1.5,1.1,177,1,0,304.2,495.9A1.5,1.1,177,1,0,307.3,495.7ZM329.9,507.8A1.7,1.0,165,1,0,326.6,508.7A1.7,1.0,165,1,0,329.9,507.8ZM300.8,505.0A1.2,0.5,34,1,0,302.7,506.3A1.2,0.5,34,1,0,300.8,505.0ZM302.5,504.8A0.6,0.5,32,1,0,303.5,505.5A0.6,0.5,32,1,0,302.5,504.8ZM319.7,489.6A1.0,0.6,31,1,0,321.4,490.6A1.0,0.6,31,1,0,319.7,489.6ZM325.2,493.4A1.8,1.1,89,1,0,325.3,497.1A1.8,1.1,89,1,0,325.2,493.4ZM294.9,481.7A1.3,0.7,131,1,0,293.2,483.7A1.3,0.7,131,1,0,294.9,481.7ZM284.5,522.2A1.1,0.6,9,1,0,286.7,522.5A1.1,0.6,9,1,0,284.5,522.2ZM296.9,489.9A1.9,1.4,78,1,0,297.7,493.6A1.9,1.4,78,1,0,296.9,489.9ZM298.5,492.7A1.4,0.9,131,1,0,296.7,494.8A1.4,0.9,131,1,0,298.5,492.7ZM288.9,516.0A1.2,0.7,106,1,0,288.2,518.3A1.2,0.7,106,1,0,288.9,516.0ZM305.5,508.2A1.4,1.1,16,1,0,308.3,509.0A1.4,1.1,16,1,0,305.5,508.2ZM309.3,514.7A1.6,0.8,138,1,0,307.0,516.9A1.6,0.8,138,1,0,309.3,514.7ZM308.7,514.2A1.4,1.0,159,1,0,306.2,515.1A1.4,1.0,159,1,0,308.7,514.2ZM336.9,479.0A0.9,0.7,76,1,0,337.4,480.8A0.9,0.7,76,1,0,336.9,479.0ZM334.5,474.4A1.8,1.1,179,1,0,330.9,474.5A1.8,1.1,179,1,0,334.5,474.4ZM320.0,477.0A1.5,1.2,35,1,0,322.4,478.7A1.5,1.2,35,1,0,320.0,477.0ZM335.8,479.6A1.5,0.8,148,1,0,333.2,481.2A1.5,0.8,148,1,0,335.8,479.6ZM287.5,472.4A1.9,1.6,146,1,0,284.4,474.5A1.9,1.6,146,1,0,287.5,472.4ZM319.8,512.2A1.2,0.6,179,1,0,317.4,512.2A1.2,0.6,179,1,0,319.8,512.2ZM318.0,512.0A0.7,0.4,107,1,0,317.5,513.4A0.7,0.4,107,1,0,318.0,512.0ZM340.3,498.8A1.0,0.7,24,1,0,342.2,499.7A1.0,0.7,24,1,0,340.3,498.8ZM342.0,498.1A0.7,0.5,122,1,0,341.3,499.2A0.7,0.5,122,1,0,342.0,498.1ZM309.9,489.9A1.6,1.2,155,1,0,306.9,491.3A1.6,1.2,155,1,0,309.9,489.9ZM289.9,490.3A1.7,1.2,165,1,0,286.5,491.3A1.7,1.2,165,1,0,289.9,490.3ZM290.1,491.8A1.4,1.2,146,1,0,287.8,493.4A1.4,1.2,146,1,0,290.1,491.8ZM328.0,486.0A1.2,0.8,85,1,0,328.2,488.4A1.2,0.8,85,1,0,328.0,486.0ZM339.8,505.2A1.0,0.6,45,1,0,341.3,506.6A1.0,0.6,45,1,0,339.8,505.2ZM278.3,479.9A1.3,0.7,114,1,0,277.2,482.3A1.3,0.7,114,1,0,278.3,479.9ZM292.6,473.0A1.0,0.8,144,1,0,291.1,474.1A1.0,0.8,144,1,0,292.6,473.0ZM282.3,520.2A1.0,0.5,126,1,0,281.1,521.8A1.0,0.5,126,1,0,282.3,520.2ZM303.4,520.2A1.7,1.4,91,1,0,303.3,523.5A1.7,1.4,91,1,0,303.4,520.2ZM302.7,519.6A1.1,0.9,70,1,0,303.4,521.6A1.1,0.9,70,1,0,302.7,519.6ZM340.3,495.0A0.9,0.8,14,1,0,342.1,495.5A0.9,0.8,14,1,0,340.3,495.0ZM339.3,495.4A1.0,0.5,171,1,0,337.4,495.7A1.0,0.5,171,1,0,339.3,495.4ZM295.2,494.7A1.5,1.0,94,1,0,295.0,497.6A1.5,1.0,94,1,0,295.2,494.7ZM328.6,521.5A1.4,1.0,164,1,0,326.0,522.2A1.4,1.0,164,1,0,328.6,521.5ZM326.2,507.8A1.3,0.8,76,1,0,326.9,510.5A1.3,0.8,76,1,0,326.2,507.8ZM339.9,515.7A1.4,0.9,149,1,0,337.5,517.2A1.4,0.9,149,1,0,339.9,515.7ZM338.4,514.8A1.2,1.0,117,1,0,337.4,516.9A1.2,1.0,117,1,0,338.4,514.8ZM335.7,482.8A1.3,0.9,139,1,0,333.8,484.4A1.3,0.9,139,1,0,335.7,482.8ZM309.2,501.2A1.3,1.0,65,1,0,310.3,503.5A1.3,1.0,65,1,0,309.2,501.2ZM309.9,500.4A1.1,0.6,59,1,0,311.0,502.2A1.1,0.6,59,1,0,309.9,500.4ZM300.7,490.5A1.2,0.8,35,1,0,302.5,491.8A1.2,0.8,35,1,0,300.7,490.5ZM315.4,516.0A1.1,0.6,179,1,0,313.3,516.0A1.1,0.6,179,1,0,315.4,516.0ZM309.2,500.7A1.4,1.1,105,1,0,308.5,503.5A1.4,1.1,105,1,0,309.2,500.7ZM303.6,512.6A1.8,1.5,23,1,0,306.9,513.9A1.8,1.5,23,1,0,303.6,512.6ZM327.0,481.2A1.0,0.4,8,1,0,328.9,481.4A1.0,0.4,8,1,0,327.0,481.2ZM311.5,493.6A1.6,1.2,37,1,0,314.0,495.6A1.6,1.2,37,1,0,311.5,493.6ZM319.7,483.6A1.3,0.9,105,1,0,319.1,486.0A1.3,0.9,105,1,0,319.7,483.6ZM319.6,483.2A0.7,0.5,51,1,0,320.5,484.3A0.7,0.5,51,1,0,319.6,483.2ZM326.4,516.5A1.2,0.6,178,1,0,324.0,516.6A1.2,0.6,178,1,0,326.4,516.5ZM324.3,515.4A0.6,0.4,113,1,0,323.8,516.6A0.6,0.4,113,1,0,324.3,515.4ZM287.8,481.0A1.2,0.8,49,1,0,289.4,482.8A1.2,0.8,49,1,0,287.8,481.0ZM288.6,480.9A0.6,0.5,5,1,0,289.8,481.0A0.6,0.5,5,1,0,288.6,480.9ZM307.2,476.7A1.3,0.7,98,1,0,306.8,479.3A1.3,0.7,98,1,0,307.2,476.7ZM309.7,480.5A1.8,0.8,173,1,0,306.2,481.0A1.8,0.8,173,1,0,309.7,480.5ZM335.1,516.1A1.1,0.5,89,1,0,335.2,518.2A1.1,0.5,89,1,0,335.1,516.1ZM311.7,518.6A1.3,1.1,23,1,0,314.1,519.6A1.3,1.1,23,1,0,311.7,518.6ZM318.6,493.6A1.8,1.2,29,1,0,321.7,495.3A1.8,1.2,29,1,0,318.6,493.6ZM279.2,499.7A1.6,1.1,149,1,0,276.5,501.4A1.6,1.1,149,1,0,279.2,499.7ZM278.7,501.6A1.0,0.7,129,1,0,277.5,503.2A1.0,0.7,129,1,0,278.7,501.6ZM344.2,482.3A1.3,0.6,59,1,0,345.5,484.4A1.3,0.6,59,1,0,344.2,482.3ZM344.3,483.0A0.7,0.5,96,1,0,344.1,484.5A0.7,0.5,96,1,0,344.3,483.0ZM341.8,520.8A1.3,1.1,143,1,0,339.7,522.3A1.3,1.1,143,1,0,341.8,520.8ZM305.1,494.1A1.4,1.1,120,1,0,303.8,496.5A1.4,1.1,120,1,0,305.1,494.1ZM302.8,493.7A1.2,0.6,28,1,0,304.8,494.8A1.2,0.6,28,1,0,302.8,493.7ZM280.3,475.8A1.8,0.8,34,1,0,283.2,477.8A1.8,0.8,34,1,0,280.3,475.8ZM279.3,476.4A1.4,0.7,17,1,0,281.9,477.2A1.4,0.7,17,1,0,279.3,476.4ZM328.5,497.6A1.3,0.6,46,1,0,330.3,499.5A1.3,0.6,46,1,0,328.5,497.6ZM304.8,521.3A1.3,0.9,19,1,0,307.2,522.1A1.3,0.9,19,1,0,304.8,521.3ZM305.8,497.9A1.8,1.3,79,1,0,306.5,501.5A1.8,1.3,79,1,0,305.8,497.9ZM307.4,496.6A1.4,1.1,105,1,0,306.7,499.3A1.4,1.1,105,1,0,307.4,496.6ZM336.3,495.3A1.3,1.1,62,1,0,337.6,497.6A1.3,1.1,62,1,0,336.3,495.3ZM341.2,484.2A1.4,0.7,161,1,0,338.4,485.1A1.4,0.7,161,1,0,341.2,484.2ZM339.4,484.6A1.2,0.9,65,1,0,340.5,486.7A1.2,0.9,65,1,0,339.4,484.6ZM312.9,504.9A1.6,0.7,70,1,0,314.0,507.9A1.6,0.7,70,1,0,312.9,504.9ZM301.7,513.5A1.7,1.4,111,1,0,300.5,516.6A1.7,1.4,111,1,0,301.7,513.5ZM298.9,514.0A1.1,1.0,15,1,0,301.1,514.6A1.1,1.0,15,1,0,298.9,514.0ZM311.0,510.0A1.2,0.6,176,1,0,308.7,510.2A1.2,0.6,176,1,0,311.0,510.0ZM321.8,492.8A1.9,1.0,53,1,0,324.0,495.8A1.9,1.0,53,1,0,321.8,492.8ZM287.6,519.4A1.7,1.2,155,1,0,284.6,520.8A1.7,1.2,155,1,0,287.6,519.4ZM326.9,517.4A1.4,0.9,168,1,0,324.2,518.0A1.4,0.9,168,1,0,326.9,517.4ZM336.3,517.8A1.5,1.2,46,1,0,338.4,520.0A1.5,1.2,46,1,0,336.3,517.8ZM337.7,483.7A1.5,1.0,91,1,0,337.6,486.8A1.5,1.0,91,1,0,337.7,483.7ZM336.9,486.0A1.0,0.6,69,1,0,337.6,487.9A1.0,0.6,69,1,0,336.9,486.0ZM344.9,487.5A1.5,1.2,117,1,0,343.5,490.3A1.5,1.2,117,1,0,344.9,487.5ZM285.9,478.0A1.6,0.8,106,1,0,285.0,481.0A1.6,0.8,106,1,0,285.9,478.0ZM285.2,477.8A0.8,0.6,129,1,0,284.2,479.1A0.8,0.6,129,1,0,285.2,477.8ZM287.5,472.9A1.6,1.3,9,1,0,290.7,473.4A1.6,1.3,9,1,0,287.5,472.9ZM298.5,491.6A1.9,1.4,115,1,0,296.9,495.0A1.9,1.4,115,1,0,298.5,491.6ZM337.4,483.3A1.3,0.8,34,1,0,339.6,484.8A1.3,0.8,34,1,0,337.4,483.3ZM278.4,503.2A1.0,0.5,81,1,0,278.7,505.1A1.0,0.5,81,1,0,278.4,503.2ZM296.6,488.0A1.6,1.4,44,1,0,298.9,490.3A1.6,1.4,44,1,0,296.6,488.0ZM299.3,503.2A1.4,1.1,154,1,0,296.7,504.5A1.4,1.1,154,1,0,299.3,503.2ZM335.2,519.8A1.8,1.3,5,1,0,338.7,520.1A1.8,1.3,5,1,0,335.2,519.8ZM341.3,509.0A0.9,0.7,72,1,0,341.9,510.8A0.9,0.7,72,1,0,341.3,509.0ZM315.5,503.2A1.1,0.7,125,1,0,314.3,505.0A1.1,0.7,125,1,0,315.5,503.2ZM293.2,479.7A1.4,1.1,64,1,0,294.4,482.3A1.4,1.1,64,1,0,293.2,479.7ZM292.3,481.5A1.0,0.7,28,1,0,294.1,482.5A1.0,0.7,28,1,0,292.3,481.5ZM307.2,482.4A1.0,0.5,136,1,0,305.8,483.7A1.0,0.5,136,1,0,307.2,482.4ZM306.0,475.4A1.2,0.8,155,1,0,303.7,476.4A1.2,0.8,155,1,0,306.0,475.4ZM305.4,474.4A0.8,0.5,179,1,0,303.9,474.4A0.8,0.5,179,1,0,305.4,474.4ZM314.5,478.6A1.5,0.7,97,1,0,314.1,481.5A1.5,0.7,97,1,0,314.5,478.6ZM318.0,500.3A1.0,0.7,99,1,0,317.7,502.3A1.0,0.7,99,1,0,318.0,500.3ZM316.7,501.2A0.7,0.5,64,1,0,317.3,502.4A0.7,0.5,64,1,0,316.7,501.2ZM319.5,505.5A1.6,0.7,132,1,0,317.3,507.9A1.6,0.7,132,1,0,319.5,505.5ZM319.8,521.2A1.8,1.4,117,1,0,318.2,524.4A1.8,1.4,117,1,0,319.8,521.2ZM319.4,521.7A1.0,0.9,177,1,0,317.3,521.8A1.0,0.9,177,1,0,319.4,521.7ZM279.0,489.3A1.8,1.2,89,1,0,279.1,492.9A1.8,1.2,89,1,0,279.0,489.3ZM281.1,489.6A1.3,0.9,127,1,0,279.5,491.7A1.3,0.9,127,1,0,281.1,489.6ZM320.4,494.8A0.9,0.6,176,1,0,318.6,494.9A0.9,0.6,176,1,0,320.4,494.8ZM320.6,493.7A0.7,0.5,135,1,0,319.6,494.7A0.7,0.5,135,1,0,320.6,493.7ZM304.4,479.5A1.5,0.8,92,1,0,304.4,482.5A1.5,0.8,92,1,0,304.4,479.5ZM322.0,519.7A1.8,1.5,54,1,0,324.1,522.7A1.8,1.5,54,1,0,322.0,519.7ZM321.9,522.3A1.0,0.6,61,1,0,323.0,524.2A1.0,0.6,61,1,0,321.9,522.3ZM310.8,496.5A1.1,0.6,93,1,0,310.7,498.6A1.1,0.6,93,1,0,310.8,496.5ZM301.8,494.8A1.9,1.0,161,1,0,298.3,496.0A1.9,1.0,161,1,0,301.8,494.8ZM302.8,494.4A1.4,0.8,124,1,0,301.2,496.7A1.4,0.8,124,1,0,302.8,494.4ZM333.0,488.2A1.7,1.3,64,1,0,334.5,491.2A1.7,1.3,64,1,0,333.0,488.2ZM335.4,491.1A1.4,1.0,178,1,0,332.6,491.2A1.4,1.0,178,1,0,335.4,491.1ZM340.0,494.1A1.2,0.8,71,1,0,340.8,496.4A1.2,0.8,71,1,0,340.0,494.1ZM314.2,476.5A1.4,1.1,153,1,0,311.8,477.8A1.4,1.1,153,1,0,314.2,476.5ZM282.5,506.5A1.5,0.9,57,1,0,284.1,509.1A1.5,0.9,57,1,0,282.5,506.5ZM326.5,496.1A1.2,0.8,27,1,0,328.7,497.2A1.2,0.8,27,1,0,326.5,496.1ZM314.8,490.7A1.3,1.0,155,1,0,312.5,491.8A1.3,1.0,155,1,0,314.8,490.7ZM321.3,518.3A1.7,1.0,25,1,0,324.5,519.8A1.7,1.0,25,1,0,321.3,518.3ZM317.2,483.6A1.1,0.7,124,1,0,316.0,485.4A1.1,0.7,124,1,0,317.2,483.6ZM303.0,489.7A1.4,0.7,14,1,0,305.8,490.3A1.4,0.7,14,1,0,303.0,489.7ZM316.8,506.5A1.9,1.2,155,1,0,313.4,508.1A1.9,1.2,155,1,0,316.8,506.5ZM321.4,519.9A1.4,1.0,30,1,0,323.9,521.3A1.4,1.0,30,1,0,321.4,519.9ZM322.7,520.9A0.8,0.5,75,1,0,323.2,522.4A0.8,0.5,75,1,0,322.7,520.9ZM303.4,497.8A1.6,1.3,159,1,0,300.4,499.0A1.6,1.3,159,1,0,303.4,497.8ZM300.5,499.1A1.3,0.9,36,1,0,302.6,500.6A1.3,0.9,36,1,0,300.5,499.1ZM343.4,509.4A1.8,1.4,117,1,0,341.8,512.6A1.8,1.4,117,1,0,343.4,509.4ZM342.7,508.9A1.5,1.0,121,1,0,341.1,511.4A1.5,1.0,121,1,0,342.7,508.9ZM321.5,500.8A0.9,0.6,80,1,0,321.8,502.6A0.9,0.6,80,1,0,321.5,500.8ZM324.2,514.2A1.8,1.4,111,1,0,322.9,517.6A1.8,1.4,111,1,0,324.2,514.2ZM301.6,515.5A1.3,0.7,20,1,0,304.2,516.4A1.3,0.7,20,1,0,301.6,515.5ZM343.6,518.3A1.5,1.2,51,1,0,345.5,520.7A1.5,1.2,51,1,0,343.6,518.3ZM299.7,486.4A1.8,1.3,147,1,0,296.6,488.4A1.8,1.3,147,1,0,299.7,486.4ZM298.8,481.8A1.2,0.9,131,1,0,297.2,483.6A1.2,0.9,131,1,0,298.8,481.8ZM342.5,488.3A1.2,0.6,149,1,0,340.4,489.5A1.2,0.6,149,1,0,342.5,488.3ZM343.8,508.3A1.8,1.2,178,1,0,340.2,508.4A1.8,1.2,178,1,0,343.8,508.3ZM341.2,483.9A1.1,0.9,169,1,0,339.1,484.3A1.1,0.9,169,1,0,341.2,483.9ZM286.3,501.6A1.9,0.9,103,1,0,285.5,505.2A1.9,0.9,103,1,0,286.3,501.6ZM302.8,502.3A0.9,0.7,116,1,0,301.9,503.9A0.9,0.7,116,1,0,302.8,502.3ZM320.2,513.6A1.1,0.9,179,1,0,318.0,513.6A1.1,0.9,179,1,0,320.2,513.6ZM307.4,486.5A1.7,1.5,88,1,0,307.5,489.9A1.7,1.5,88,1,0,307.4,486.5ZM307.6,487.7A1.2,0.7,34,1,0,309.7,489.1A1.2,0.7,34,1,0,307.6,487.7ZM289.2,483.6A1.0,0.7,103,1,0,288.7,485.5A1.0,0.7,103,1,0,289.2,483.6ZM338.5,519.1A1.5,0.8,3,1,0,341.5,519.3A1.5,0.8,3,1,0,338.5,519.1ZM289.5,491.5A1.4,0.6,123,1,0,288.0,493.8A1.4,0.6,123,1,0,289.5,491.5ZM326.9,490.6A1.5,1.0,126,1,0,325.2,493.0A1.5,1.0,126,1,0,326.9,490.6ZM312.8,476.5A1.3,0.9,106,1,0,312.1,479.0A1.3,0.9,106,1,0,312.8,476.5ZM315.0,499.4A1.9,1.3,92,1,0,314.9,503.2A1.9,1.3,92,1,0,315.0,499.4ZM305.6,509.0A1.2,0.8,68,1,0,306.5,511.2A1.2,0.8,68,1,0,305.6,509.0ZM304.7,487.3A1.5,1.1,10,1,0,307.7,487.8A1.5,1.1,10,1,0,304.7,487.3ZM316.6,504.2A1.2,0.9,138,1,0,314.7,505.8A1.2,0.9,138,1,0,316.6,504.2ZM299.0,476.0A1.8,0.8,171,1,0,295.5,476.5A1.8,0.8,171,1,0,299.0,476.0ZM306.9,514.7A1.9,1.6,50,1,0,309.4,517.6A1.9,1.6,50,1,0,306.9,514.7ZM339.6,480.7A1.7,1.4,20,1,0,342.9,481.8A1.7,1.4,20,1,0,339.6,480.7ZM305.2,477.5A1.6,1.2,172,1,0,302.0,478.0A1.6,1.2,172,1,0,305.2,477.5ZM332.1,518.4A1.9,1.0,17,1,0,335.7,519.5A1.9,1.0,17,1,0,332.1,518.4ZM294.9,490.0A1.8,1.2,2,1,0,298.5,490.1A1.8,1.2,2,1,0,294.9,490.0ZM323.5,486.8A1.5,0.8,55,1,0,325.2,489.3A1.5,0.8,55,1,0,323.5,486.8ZM324.5,485.5A1.2,0.7,98,1,0,324.1,488.0A1.2,0.7,98,1,0,324.5,485.5ZM337.6,485.5A1.0,0.6,10,1,0,339.7,485.8A1.0,0.6,10,1,0,337.6,485.5ZM328.6,510.6A1.9,1.5,56,1,0,330.7,513.7A1.9,1.5,56,1,0,328.6,510.6ZM323.6,509.6A1.1,0.9,144,1,0,321.8,510.9A1.1,0.9,144,1,0,323.6,509.6ZM333.1,516.9A1.2,1.0,43,1,0,334.8,518.6A1.2,1.0,43,1,0,333.1,516.9ZM338.6,488.9A1.3,0.6,119,1,0,337.4,491.3A1.3,0.6,119,1,0,338.6,488.9ZM316.2,513.0A1.7,1.1,86,1,0,316.5,516.4A1.7,1.1,86,1,0,316.2,513.0ZM314.6,512.3A1.3,1.0,45,1,0,316.4,514.1A1.3,1.0,45,1,0,314.6,512.3ZM340.2,506.4A1.3,1.0,74,1,0,341.0,508.8A1.3,1.0,74,1,0,340.2,506.4ZM329.2,501.1A1.7,1.0,141,1,0,326.6,503.3A1.7,1.0,141,1,0,329.2,501.1ZM332.1,485.2A1.1,0.8,57,1,0,333.2,487.0A1.1,0.8,57,1,0,332.1,485.2ZM336.9,491.3A1.5,1.1,78,1,0,337.5,494.2A1.5,1.1,78,1,0,336.9,491.3ZM330.8,479.3A1.1,0.6,151,1,0,328.8,480.4A1.1,0.6,151,1,0,330.8,479.3ZM332.9,517.8A0.9,0.5,37,1,0,334.3,518.9A0.9,0.5,37,1,0,332.9,517.8ZM333.2,511.8A1.0,0.7,55,1,0,334.3,513.3A1.0,0.7,55,1,0,333.2,511.8ZM334.6,513.0A0.6,0.4,163,1,0,333.5,513.4A0.6,0.4,163,1,0,334.6,513.0ZM327.5,510.8A1.8,0.9,46,1,0,330.0,513.4A1.8,0.9,46,1,0,327.5,510.8ZM292.2,503.8A1.7,1.1,74,1,0,293.1,507.1A1.7,1.1,74,1,0,292.2,503.8ZM299.6,476.4A1.3,1.1,5,1,0,302.2,476.6A1.3,1.1,5,1,0,299.6,476.4ZM306.8,507.6A1.6,1.1,156,1,0,304.0,508.9A1.6,1.1,156,1,0,306.8,507.6ZM279.5,489.9A1.3,1.0,66,1,0,280.6,492.3A1.3,1.0,66,1,0,279.5,489.9ZM280.7,489.3A0.7,0.5,131,1,0,279.8,490.4A0.7,0.5,131,1,0,280.7,489.3ZM325.5,474.3A1.4,0.7,67,1,0,326.6,476.9A1.4,0.7,67,1,0,325.5,474.3ZM315.8,486.5A1.5,0.7,19,1,0,318.6,487.4A1.5,0.7,19,1,0,315.8,486.5ZM325.1,486.6A1.0,0.7,83,1,0,325.4,488.6A1.0,0.7,83,1,0,325.1,486.6ZM326.6,486.7A0.7,0.6,115,1,0,326.0,488.1A0.7,0.6,115,1,0,326.6,486.7ZM316.9,501.0A1.8,1.5,115,1,0,315.4,504.2A1.8,1.5,115,1,0,316.9,501.0ZM293.6,503.6A1.6,1.2,152,1,0,290.8,505.0A1.6,1.2,152,1,0,293.6,503.6ZM328.2,493.6A1.6,1.1,102,1,0,327.5,496.8A1.6,1.1,102,1,0,328.2,493.6ZM306.0,510.7A1.6,1.1,170,1,0,302.8,511.3A1.6,1.1,170,1,0,306.0,510.7ZM303.6,510.8A1.3,0.8,82,1,0,304.0,513.4A1.3,0.8,82,1,0,303.6,510.8ZM284.8,495.8A1.0,0.5,55,1,0,286.0,497.4A1.0,0.5,55,1,0,284.8,495.8ZM285.5,496.1A0.8,0.4,153,1,0,284.1,496.8A0.8,0.4,153,1,0,285.5,496.1ZM296.9,497.8A1.8,1.5,180,1,0,293.3,497.9A1.8,1.5,180,1,0,296.9,497.8ZM333.5,489.3A1.7,1.2,42,1,0,336.1,491.6A1.7,1.2,42,1,0,333.5,489.3ZM293.0,508.1A1.3,1.0,125,1,0,291.6,510.2A1.3,1.0,125,1,0,293.0,508.1ZM310.6,519.4A1.0,0.5,169,1,0,308.6,519.8A1.0,0.5,169,1,0,310.6,519.4ZM316.4,496.2A0.9,0.6,79,1,0,316.8,498.0A0.9,0.6,79,1,0,316.4,496.2ZM312.4,476.3A1.4,0.8,45,1,0,314.3,478.3A1.4,0.8,45,1,0,312.4,476.3ZM301.2,481.3A1.5,1.2,155,1,0,298.5,482.6A1.5,1.2,155,1,0,301.2,481.3ZM308.0,514.4A1.6,0.7,137,1,0,305.7,516.6A1.6,0.7,137,1,0,308.0,514.4ZM335.1,485.9A1.8,0.9,72,1,0,336.3,489.3A1.8,0.9,72,1,0,335.1,485.9Z" fill="#3cf038"/>
<path d="M344.0,482.4A0.7,0.4,85,1,0,344.1,483.8A0.7,0.4,85,1,0,344.0,482.4ZM342.2,516.7A1.0,0.8,95,1,0,342.0,518.7A1.0,0.8,95,1,0,342.2,516.7ZM331.6,512.1A0.7,0.6,135,1,0,330.5,513.1A0.7,0.6,135,1,0,331.6,512.1ZM291.3,481.1A1.2,0.8,30,1,0,293.4,482.4A1.2,0.8,30,1,0,291.3,481.1ZM304.0,481.8A0.7,0.5,78,1,0,304.3,483.3A0.7,0.5,78,1,0,304.0,481.8ZM325.8,513.8A1.8,0.9,100,1,0,325.1,517.2A1.8,0.9,100,1,0,325.8,513.8ZM316.8,485.4A1.8,0.9,28,1,0,320.0,487.1A1.8,0.9,28,1,0,316.8,485.4ZM318.8,485.6A1.2,1.0,42,1,0,320.6,487.2A1.2,1.0,42,1,0,318.8,485.6ZM327.0,508.2A1.0,0.6,28,1,0,328.8,509.2A1.0,0.6,28,1,0,327.0,508.2ZM295.4,510.9A1.4,1.1,84,1,0,295.7,513.6A1.4,1.1,84,1,0,295.4,510.9ZM286.3,473.6A1.5,1.2,1,1,0,289.4,473.6A1.5,1.2,1,1,0,286.3,473.6ZM288.8,471.8A0.8,0.7,178,1,0,287.2,471.8A0.8,0.7,178,1,0,288.8,471.8ZM285.3,484.1A0.8,0.4,153,1,0,283.9,484.8A0.8,0.4,153,1,0,285.3,484.1ZM290.7,485.7A1.7,0.9,70,1,0,291.9,488.9A1.7,0.9,70,1,0,290.7,485.7ZM285.5,489.4A1.1,0.6,135,1,0,284.0,490.9A1.1,0.6,135,1,0,285.5,489.4ZM278.3,502.0A1.1,0.9,15,1,0,280.4,502.6A1.1,0.9,15,1,0,278.3,502.0ZM334.7,515.8A0.8,0.7,72,1,0,335.3,517.4A0.8,0.7,72,1,0,334.7,515.8ZM335.4,494.5A1.7,1.3,56,1,0,337.3,497.3A1.7,1.3,56,1,0,335.4,494.5ZM286.7,479.3A1.3,0.7,118,1,0,285.4,481.6A1.3,0.7,118,1,0,286.7,479.3ZM285.2,479.8A1.0,0.5,89,1,0,285.2,481.8A1.0,0.5,89,1,0,285.2,479.8ZM302.1,510.7A1.3,0.6,89,1,0,302.1,513.3A1.3,0.6,89,1,0,302.1,510.7ZM334.3,513.9A1.4,0.8,57,1,0,335.8,516.2A1.4,0.8,57,1,0,334.3,513.9ZM315.5,497.3A0.9,0.5,71,1,0,316.2,499.1A0.9,0.5,71,1,0,315.5,497.3ZM286.1,482.4A0.9,0.5,130,1,0,284.9,483.8A0.9,0.5,130,1,0,286.1,482.4ZM295.8,492.9A0.8,0.5,119,1,0,295.0,494.4A0.8,0.5,119,1,0,295.8,492.9ZM300.2,497.8A1.8,1.2,51,1,0,302.5,500.6A1.8,1.2,51,1,0,300.2,497.8ZM325.8,488.1A1.0,0.6,39,1,0,327.3,489.3A1.0,0.6,39,1,0,325.8,488.1ZM328.3,496.6A1.4,0.8,33,1,0,330.6,498.1A1.4,0.8,33,1,0,328.3,496.6ZM328.9,497.9A0.9,0.8,35,1,0,330.5,499.0A0.9,0.8,35,1,0,328.9,497.9ZM335.1,490.3A1.7,1.0,150,1,0,332.1,492.1A1.7,1.0,150,1,0,335.1,490.3ZM296.0,489.2A0.9,0.8,117,1,0,295.1,490.9A0.9,0.8,117,1,0,296.0,489.2ZM307.1,494.8A1.1,0.5,103,1,0,306.7,496.9A1.1,0.5,103,1,0,307.1,494.8ZM329.5,507.7A1.0,0.7,63,1,0,330.4,509.5A1.0,0.7,63,1,0,329.5,507.7ZM343.3,494.7A1.1,0.6,112,1,0,342.5,496.7A1.1,0.6,112,1,0,343.3,494.7ZM324.8,495.5A1.0,0.7,143,1,0,323.2,496.7A1.0,0.7,143,1,0,324.8,495.5ZM287.3,522.0A0.7,0.4,167,1,0,285.9,522.3A0.7,0.4,167,1,0,287.3,522.0ZM319.0,519.9A1.0,0.7,174,1,0,317.0,520.1A1.0,0.7,174,1,0,319.0,519.9ZM317.1,519.5A0.8,0.8,103,1,0,316.8,521.2A0.8,0.8,103,1,0,317.1,519.5ZM335.1,480.7A1.1,0.9,93,1,0,335.0,482.8A1.1,0.9,93,1,0,335.1,480.7ZM288.2,473.7A1.5,0.9,144,1,0,285.7,475.4A1.5,0.9,144,1,0,288.2,473.7ZM344.8,513.2A1.8,1.0,80,1,0,345.5,516.8A1.8,1.0,80,1,0,344.8,513.2ZM327.6,484.9A1.0,0.8,68,1,0,328.3,486.8A1.0,0.8,68,1,0,327.6,484.9ZM291.5,499.4A1.8,1.1,59,1,0,293.3,502.4A1.8,1.1,59,1,0,291.5,499.4ZM292.0,499.6A1.3,0.9,122,1,0,290.6,501.8A1.3,0.9,122,1,0,292.0,499.6ZM282.2,513.5A1.6,1.3,46,1,0,284.4,515.8A1.6,1.3,46,1,0,282.2,513.5ZM307.1,490.7A1.0,0.5,11,1,0,309.1,491.0A1.0,0.5,11,1,0,307.1,490.7ZM341.2,495.7A0.6,0.4,47,1,0,342.1,496.7A0.6,0.4,47,1,0,341.2,495.7ZM326.8,521.4A0.7,0.6,116,1,0,326.2,522.7A0.7,0.6,116,1,0,326.8,521.4ZM291.9,488.1A1.4,0.9,24,1,0,294.6,489.3A1.4,0.9,24,1,0,291.9,488.1ZM313.3,515.1A0.6,0.4,60,1,0,313.9,516.2A0.6,0.4,60,1,0,313.3,515.1ZM338.0,522.1A1.6,1.2,173,1,0,334.9,522.5A1.6,1.2,173,1,0,338.0,522.1ZM333.4,477.6A1.8,1.3,3,1,0,337.0,477.8A1.8,1.3,3,1,0,333.4,477.6ZM310.2,501.5A1.2,0.6,89,1,0,310.2,503.8A1.2,0.6,89,1,0,310.2,501.5ZM303.5,511.7A1.2,0.6,56,1,0,304.9,513.8A1.2,0.6,56,1,0,303.5,511.7ZM315.2,493.6A1.2,1.0,140,1,0,313.4,495.1A1.2,1.0,140,1,0,315.2,493.6ZM314.7,497.4A1.3,0.8,36,1,0,316.8,498.9A1.3,0.8,36,1,0,314.7,497.4ZM306.3,477.6A0.7,0.5,118,1,0,305.7,478.9A0.7,0.5,118,1,0,306.3,477.6ZM308.6,479.5A1.1,0.8,65,1,0,309.6,481.6A1.1,0.8,65,1,0,308.6,479.5ZM332.3,494.3A1.3,1.0,136,1,0,330.5,496.1A1.3,1.0,136,1,0,332.3,494.3ZM336.6,516.0A0.6,0.5,134,1,0,335.7,516.9A0.6,0.5,134,1,0,336.6,516.0ZM303.7,475.7A1.6,1.1,111,1,0,302.5,478.7A1.6,1.1,111,1,0,303.7,475.7ZM303.3,476.8A1.1,0.8,4,1,0,305.6,476.9A1.1,0.8,4,1,0,303.3,476.8ZM330.1,498.4A0.8,0.7,40,1,0,331.3,499.4A0.8,0.7,40,1,0,330.1,498.4ZM338.3,494.7A0.8,0.5,100,1,0,338.0,496.2A0.8,0.5,100,1,0,338.3,494.7ZM312.9,510.8A1.7,1.0,147,1,0,310.1,512.7A1.7,1.0,147,1,0,312.9,510.8ZM311.2,509.7A0.9,0.7,56,1,0,312.2,511.1A0.9,0.7,56,1,0,311.2,509.7ZM315.1,504.9A1.3,0.8,154,1,0,312.7,506.0A1.3,0.8,154,1,0,315.1,504.9ZM341.3,522.0A1.2,0.6,127,1,0,339.8,524.0A1.2,0.6,127,1,0,341.3,522.0ZM342.2,523.0A0.9,0.7,168,1,0,340.4,523.4A0.9,0.7,168,1,0,342.2,523.0ZM305.7,495.6A1.7,1.2,102,1,0,305.1,498.8A1.7,1.2,102,1,0,305.7,495.6ZM322.4,495.2A1.2,1.0,95,1,0,322.1,497.5A1.2,1.0,95,1,0,322.4,495.2ZM287.2,517.9A1.2,0.6,76,1,0,287.8,520.2A1.2,0.6,76,1,0,287.2,517.9ZM333.9,480.0A1.7,1.2,84,1,0,334.2,483.5A1.7,1.2,84,1,0,333.9,480.0ZM338.1,517.8A1.0,0.6,170,1,0,336.1,518.2A1.0,0.6,170,1,0,338.1,517.8ZM334.9,503.8A1.6,1.2,179,1,0,331.7,503.9A1.6,1.2,179,1,0,334.9,503.8ZM299.1,521.4A1.3,1.0,77,1,0,299.7,523.9A1.3,1.0,77,1,0,299.1,521.4ZM295.7,491.9A1.2,0.6,73,1,0,296.4,494.1A1.2,0.6,73,1,0,295.7,491.9ZM341.0,508.6A0.7,0.6,47,1,0,342.0,509.7A0.7,0.6,47,1,0,341.0,508.6ZM330.3,485.8A1.2,0.8,77,1,0,330.8,488.1A1.2,0.8,77,1,0,330.3,485.8ZM332.4,486.5A0.9,0.4,146,1,0,331.0,487.4A0.9,0.4,146,1,0,332.4,486.5ZM324.3,511.1A1.1,0.6,27,1,0,326.4,512.2A1.1,0.6,27,1,0,324.3,511.1ZM326.4,510.9A1.0,0.8,90,1,0,326.4,512.8A1.0,0.8,90,1,0,326.4,510.9ZM329.8,511.5A1.4,0.8,83,1,0,330.2,514.3A1.4,0.8,83,1,0,329.8,511.5ZM343.1,512.8A1.9,1.2,133,1,0,340.6,515.5A1.9,1.2,133,1,0,343.1,512.8ZM308.8,511.1A1.4,1.2,58,1,0,310.3,513.5A1.4,1.2,58,1,0,308.8,511.1ZM292.6,520.3A1.5,0.7,132,1,0,290.7,522.5A1.5,0.7,132,1,0,292.6,520.3ZM341.6,496.2A0.8,0.4,157,1,0,340.2,496.8A0.8,0.4,157,1,0,341.6,496.2ZM311.3,475.6A0.9,0.8,44,1,0,312.5,476.8A0.9,0.8,44,1,0,311.3,475.6ZM327.7,495.2A0.8,0.7,114,1,0,327.0,496.7A0.8,0.7,114,1,0,327.7,495.2ZM300.0,521.6A1.8,0.9,158,1,0,296.7,523.0A1.8,0.9,158,1,0,300.0,521.6ZM304.7,487.3A1.1,0.8,105,1,0,304.1,489.4A1.1,0.8,105,1,0,304.7,487.3ZM312.4,505.1A1.5,1.3,32,1,0,315.0,506.7A1.5,1.3,32,1,0,312.4,505.1ZM332.4,512.8A1.8,1.4,71,1,0,333.5,516.2A1.8,1.4,71,1,0,332.4,512.8ZM322.3,501.9A0.6,0.4,77,1,0,322.5,503.0A0.6,0.4,77,1,0,322.3,501.9ZM302.9,516.9A1.2,0.9,35,1,0,304.8,518.3A1.2,0.9,35,1,0,302.9,516.9ZM341.3,487.8A1.0,0.7,10,1,0,343.2,488.1A1.0,0.7,10,1,0,341.3,487.8ZM341.2,507.6A1.1,0.9,118,1,0,340.2,509.5A1.1,0.9,118,1,0,341.2,507.6ZM302.7,501.9A0.6,0.5,105,1,0,302.4,503.1A0.6,0.5,105,1,0,302.7,501.9ZM295.2,495.4A1.2,0.9,53,1,0,296.6,497.3A1.2,0.9,53,1,0,295.2,495.4ZM340.0,519.2A1.3,1.1,90,1,0,340.0,521.7A1.3,1.1,90,1,0,340.0,519.2ZM288.3,492.2A0.8,0.6,110,1,0,287.7,493.8A0.8,0.6,110,1,0,288.3,492.2ZM324.5,490.8A0.9,0.5,82,1,0,324.8,492.7A0.9,0.5,82,1,0,324.5,490.8ZM313.0,475.8A0.7,0.5,85,1,0,313.2,477.2A0.7,0.5,85,1,0,313.0,475.8ZM336.8,508.5A1.2,0.6,9,1,0,339.1,508.9A1.2,0.6,9,1,0,336.8,508.5ZM308.8,516.3A1.6,1.3,138,1,0,306.4,518.4A1.6,1.3,138,1,0,308.8,516.3ZM327.8,520.4A1.8,1.1,141,1,0,325.0,522.8A1.8,1.1,141,1,0,327.8,520.4ZM336.1,519.7A1.2,0.9,163,1,0,333.8,520.5A1.2,0.9,163,1,0,336.1,519.7ZM341.2,506.1A0.8,0.5,149,1,0,339.9,506.9A0.8,0.5,149,1,0,341.2,506.1ZM337.2,492.7A1.2,0.9,3,1,0,339.6,492.8A1.2,0.9,3,1,0,337.2,492.7ZM325.3,475.2A0.7,0.7,116,1,0,324.7,476.6A0.7,0.7,116,1,0,325.3,475.2ZM317.6,487.1A0.9,0.5,54,1,0,318.6,488.5A0.9,0.5,54,1,0,317.6,487.1ZM296.9,515.4A1.4,1.2,49,1,0,298.8,517.5A1.4,1.2,49,1,0,296.9,515.4ZM315.6,499.3A1.5,1.0,103,1,0,314.9,502.2A1.5,1.0,103,1,0,315.6,499.3ZM335.0,520.0A1.3,0.8,145,1,0,332.8,521.5A1.3,0.8,145,1,0,335.0,520.0ZM327.6,495.9A1.1,0.6,25,1,0,329.5,496.8A1.1,0.6,25,1,0,327.6,495.9ZM318.5,483.9A1.8,0.9,31,1,0,321.5,485.7A1.8,0.9,31,1,0,318.5,483.9ZM318.0,511.7A0.9,0.5,106,1,0,317.5,513.4A0.9,0.5,106,1,0,318.0,511.7ZM292.6,509.5A0.7,0.4,68,1,0,293.0,510.7A0.7,0.4,68,1,0,292.6,509.5ZM290.7,515.1A1.6,0.7,28,1,0,293.4,516.6A1.6,0.7,28,1,0,290.7,515.1ZM316.8,496.1A0.6,0.5,161,1,0,315.7,496.5A0.6,0.5,161,1,0,316.8,496.1ZM318.0,513.7A1.4,0.7,170,1,0,315.3,514.2A1.4,0.7,170,1,0,318.0,513.7ZM313.5,493.1A1.3,0.7,56,1,0,314.8,495.2A1.3,0.7,56,1,0,313.5,493.1ZM286.7,518.9A1.1,0.5,75,1,0,287.3,521.1A1.1,0.5,75,1,0,286.7,518.9Z" fill="#2ce028"/>
<path d="M325.3,515.2A1.4,0.9,29,1,0,327.8,516.5A1.4,0.9,29,1,0,325.3,515.2ZM295.3,511.1A0.8,0.6,33,1,0,296.7,511.9A0.8,0.6,33,1,0,295.3,511.1ZM289.0,488.0A1.4,1.2,24,1,0,291.6,489.2A1.4,1.2,24,1,0,289.0,488.0ZM335.2,493.9A1.0,0.8,52,1,0,336.5,495.5A1.0,0.8,52,1,0,335.2,493.9ZM285.0,482.5A0.7,0.4,109,1,0,284.6,483.8A0.7,0.4,109,1,0,285.0,482.5ZM332.3,490.5A1.0,0.6,89,1,0,332.3,492.5A1.0,0.6,89,1,0,332.3,490.5ZM343.6,496.2A0.7,0.4,166,1,0,342.2,496.6A0.7,0.4,166,1,0,343.6,496.2ZM348.2,513.2A1.4,1.1,147,1,0,345.9,514.7A1.4,1.1,147,1,0,348.2,513.2ZM336.8,522.7A1.3,1.1,166,1,0,334.2,523.3A1.3,1.1,166,1,0,336.8,522.7ZM335.3,477.6A1.2,0.8,64,1,0,336.4,479.7A1.2,0.8,64,1,0,335.3,477.6ZM332.0,495.9A0.7,0.5,122,1,0,331.2,497.1A0.7,0.5,122,1,0,332.0,495.9ZM307.1,498.2A1.1,0.6,159,1,0,305.0,499.0A1.1,0.6,159,1,0,307.1,498.2ZM295.8,493.0A0.8,0.5,98,1,0,295.6,494.6A0.8,0.5,98,1,0,295.8,493.0ZM330.7,511.1A0.8,0.5,127,1,0,329.7,512.4A0.8,0.5,127,1,0,330.7,511.1ZM331.3,515.4A1.0,0.7,64,1,0,332.2,517.2A1.0,0.7,64,1,0,331.3,515.4ZM295.7,515.5A0.8,0.4,52,1,0,296.7,516.8A0.8,0.4,52,1,0,295.7,515.5ZM318.1,511.0A0.6,0.3,98,1,0,317.9,512.3A0.6,0.3,98,1,0,318.1,511.0Z" fill="#1eb41a"/>
</g></g>
<clipPath id="clip34"><rect x="277.40" y="419.60" width="68.30" height="51.20"/></clipPath>
<rect x="277.40" y="419.60" width="68.30" height="51.20" fill="#878b93"/>
<g clip-path="url(#clip34)"><g filter="url(#pb)">
<path d="M327.8,423.0A1.5,1.4,46,1,0,329.8,425.1A1.5,1.4,46,1,0,327.8,423.0ZM318.6,447.7A1.3,1.2,76,1,0,319.2,450.2A1.3,1.2,76,1,0,318.6,447.7ZM327.3,460.7A1.3,1.3,21,1,0,329.7,461.6A1.3,1.3,21,1,0,327.3,460.7ZM306.2,458.9A1.2,1.1,156,1,0,304.0,459.8A1.2,1.1,156,1,0,306.2,458.9ZM305.3,442.3A1.3,1.0,50,1,0,306.9,444.2A1.3,1.0,50,1,0,305.3,442.3ZM331.8,437.1A1.4,1.3,168,1,0,329.1,437.7A1.4,1.3,168,1,0,331.8,437.1ZM341.3,455.5A1.7,1.5,134,1,0,338.9,457.9A1.7,1.5,134,1,0,341.3,455.5ZM307.9,424.1A1.3,1.1,10,1,0,310.4,424.6A1.3,1.1,10,1,0,307.9,424.1ZM318.2,446.1A1.4,1.2,73,1,0,319.1,448.8A1.4,1.2,73,1,0,318.2,446.1ZM279.8,434.1A1.1,0.9,91,1,0,279.8,436.4A1.1,0.9,91,1,0,279.8,434.1ZM293.0,446.9A1.3,1.3,169,1,0,290.5,447.4A1.3,1.3,169,1,0,293.0,446.9ZM280.5,457.3A1.5,1.5,115,1,0,279.2,460.1A1.5,1.5,115,1,0,280.5,457.3ZM351.5,469.6A1.4,1.3,122,1,0,350.1,471.9A1.4,1.3,122,1,0,351.5,469.6ZM280.4,464.8A1.3,1.1,64,1,0,281.6,467.2A1.3,1.1,64,1,0,280.4,464.8ZM311.8,450.1A1.2,1.1,84,1,0,312.0,452.4A1.2,1.1,84,1,0,311.8,450.1ZM332.4,446.1A1.5,1.2,167,1,0,329.5,446.7A1.5,1.2,167,1,0,332.4,446.1ZM323.9,421.8A1.3,1.1,128,1,0,322.3,423.9A1.3,1.1,128,1,0,323.9,421.8ZM287.0,431.1A1.4,1.2,88,1,0,287.1,433.9A1.4,1.2,88,1,0,287.0,431.1ZM344.1,452.9A1.1,1.0,170,1,0,341.9,453.3A1.1,1.0,170,1,0,344.1,452.9ZM313.4,423.8A1.4,1.3,54,1,0,315.1,426.2A1.4,1.3,54,1,0,313.4,423.8ZM286.9,452.4A1.6,1.5,179,1,0,283.7,452.4A1.6,1.5,179,1,0,286.9,452.4ZM339.8,450.7A1.7,1.5,9,1,0,343.2,451.2A1.7,1.5,9,1,0,339.8,450.7ZM324.1,424.4A1.6,1.3,66,1,0,325.4,427.3A1.6,1.3,66,1,0,324.1,424.4ZM328.6,431.1A1.3,1.2,77,1,0,329.2,433.7A1.3,1.2,77,1,0,328.6,431.1ZM301.0,447.3A1.8,1.5,52,1,0,303.1,450.1A1.8,1.5,52,1,0,301.0,447.3ZM321.5,431.7A1.4,1.1,177,1,0,318.8,431.9A1.4,1.1,177,1,0,321.5,431.7ZM297.0,435.8A1.3,1.2,130,1,0,295.4,437.8A1.3,1.2,130,1,0,297.0,435.8ZM336.1,428.2A1.8,1.5,25,1,0,339.3,429.7A1.8,1.5,25,1,0,336.1,428.2ZM320.6,459.6A1.1,0.9,41,1,0,322.3,461.1A1.1,0.9,41,1,0,320.6,459.6ZM307.0,468.3A1.6,1.6,107,1,0,306.0,471.4A1.6,1.6,107,1,0,307.0,468.3ZM325.9,450.5A1.4,1.2,152,1,0,323.4,451.8A1.4,1.2,152,1,0,325.9,450.5ZM290.0,445.2A1.1,1.0,85,1,0,290.2,447.5A1.1,1.0,85,1,0,290.0,445.2ZM341.1,421.9A1.6,1.6,78,1,0,341.8,425.0A1.6,1.6,78,1,0,341.1,421.9ZM336.2,439.2A1.4,1.4,176,1,0,333.4,439.4A1.4,1.4,176,1,0,336.2,439.2ZM333.3,434.6A1.4,1.3,153,1,0,330.8,435.9A1.4,1.3,153,1,0,333.3,434.6ZM309.8,425.1A1.1,1.1,111,1,0,309.0,427.2A1.1,1.1,111,1,0,309.8,425.1ZM315.1,413.8A1.3,1.3,148,1,0,312.9,415.1A1.3,1.3,148,1,0,315.1,413.8ZM342.7,470.5A1.3,1.0,166,1,0,340.3,471.1A1.3,1.0,166,1,0,342.7,470.5ZM287.7,455.0A1.8,1.5,13,1,0,291.2,455.9A1.8,1.5,13,1,0,287.7,455.0ZM292.5,440.9A1.3,1.1,159,1,0,290.1,441.8A1.3,1.1,159,1,0,292.5,440.9ZM337.2,424.4A1.3,1.0,1,1,0,339.8,424.5A1.3,1.0,1,1,0,337.2,424.4ZM292.0,433.1A1.2,1.1,176,1,0,289.6,433.2A1.2,1.1,176,1,0,292.0,433.1ZM282.1,442.0A1.2,1.0,61,1,0,283.2,444.1A1.2,1.0,61,1,0,282.1,442.0ZM314.4,453.2A1.6,1.3,115,1,0,313.1,456.2A1.6,1.3,115,1,0,314.4,453.2ZM338.7,445.2A1.3,1.2,17,1,0,341.2,446.0A1.3,1.2,17,1,0,338.7,445.2ZM310.3,460.3A1.3,1.1,171,1,0,307.6,460.8A1.3,1.1,171,1,0,310.3,460.3ZM298.6,443.7A1.4,1.3,110,1,0,297.6,446.3A1.4,1.3,110,1,0,298.6,443.7ZM329.6,438.8A1.8,1.7,24,1,0,332.9,440.3A1.8,1.7,24,1,0,329.6,438.8ZM293.4,440.6A1.6,1.5,8,1,0,296.5,441.1A1.6,1.5,8,1,0,293.4,440.6ZM304.8,426.9A1.3,1.3,116,1,0,303.6,429.3A1.3,1.3,116,1,0,304.8,426.9ZM338.3,464.1A1.3,1.1,29,1,0,340.7,465.4A1.3,1.1,29,1,0,338.3,464.1ZM348.2,436.2A1.7,1.6,52,1,0,350.3,438.9A1.7,1.6,52,1,0,348.2,436.2ZM299.4,435.1A1.5,1.5,148,1,0,296.9,436.7A1.5,1.5,148,1,0,299.4,435.1ZM319.4,461.9A1.5,1.3,155,1,0,316.7,463.1A1.5,1.3,155,1,0,319.4,461.9ZM339.2,434.4A1.6,1.3,125,1,0,337.3,437.0A1.6,1.3,125,1,0,339.2,434.4ZM294.8,447.8A1.6,1.4,67,1,0,296.0,450.7A1.6,1.4,67,1,0,294.8,447.8ZM303.3,462.4A1.8,1.4,161,1,0,299.9,463.5A1.8,1.4,161,1,0,303.3,462.4ZM321.7,421.7A1.2,1.1,128,1,0,320.2,423.6A1.2,1.1,128,1,0,321.7,421.7ZM332.2,436.6A1.6,1.2,145,1,0,329.5,438.4A1.6,1.2,145,1,0,332.2,436.6ZM330.8,444.9A1.4,1.4,165,1,0,328.1,445.6A1.4,1.4,165,1,0,330.8,444.9ZM315.7,431.2A1.7,1.6,169,1,0,312.4,431.9A1.7,1.6,169,1,0,315.7,431.2ZM310.0,460.7A1.3,1.2,136,1,0,308.1,462.5A1.3,1.2,136,1,0,310.0,460.7ZM309.2,440.8A1.7,1.6,33,1,0,312.1,442.7A1.7,1.6,33,1,0,309.2,440.8ZM337.5,432.3A1.3,1.1,78,1,0,338.0,434.8A1.3,1.1,78,1,0,337.5,432.3Z" fill="#948c80" stroke="#f0cc98" stroke-width="0.85"/>
<path d="M340.6,449.0A1.0,0.8,53,1,0,341.8,450.5A1.0,0.8,53,1,0,340.6,449.0ZM311.7,453.5A1.0,0.8,134,1,0,310.4,454.9A1.0,0.8,134,1,0,311.7,453.5ZM335.2,446.8A1.1,1.1,45,1,0,336.8,448.4A1.1,1.1,45,1,0,335.2,446.8ZM332.4,432.2A1.2,1.2,127,1,0,330.9,434.2A1.2,1.2,127,1,0,332.4,432.2ZM286.1,430.6A1.1,1.0,114,1,0,285.2,432.7A1.1,1.0,114,1,0,286.1,430.6ZM340.7,436.1A1.2,1.2,54,1,0,342.2,438.1A1.2,1.2,54,1,0,340.7,436.1ZM335.5,459.4A1.0,0.9,55,1,0,336.7,461.1A1.0,0.9,55,1,0,335.5,459.4ZM311.0,451.0A1.3,1.1,118,1,0,309.9,453.2A1.3,1.1,118,1,0,311.0,451.0ZM329.9,459.6A0.9,0.8,72,1,0,330.5,461.4A0.9,0.8,72,1,0,329.9,459.6ZM303.4,425.2A0.8,0.7,162,1,0,301.9,425.7A0.8,0.7,162,1,0,303.4,425.2ZM287.4,465.6A0.9,0.7,40,1,0,288.8,466.7A0.9,0.7,40,1,0,287.4,465.6ZM289.8,419.9A1.0,1.0,4,1,0,291.9,420.1A1.0,1.0,4,1,0,289.8,419.9ZM320.4,421.5A0.8,0.8,149,1,0,319.0,422.4A0.8,0.8,149,1,0,320.4,421.5ZM335.8,441.0A0.8,0.7,61,1,0,336.6,442.5A0.8,0.7,61,1,0,335.8,441.0ZM342.4,443.0A0.8,0.7,29,1,0,343.8,443.8A0.8,0.7,29,1,0,342.4,443.0ZM299.6,459.0A1.2,1.0,5,1,0,302.0,459.2A1.2,1.0,5,1,0,299.6,459.0ZM301.3,431.2A1.3,1.1,125,1,0,299.9,433.3A1.3,1.1,125,1,0,301.3,431.2ZM287.3,419.6A0.9,0.8,89,1,0,287.4,421.4A0.9,0.8,89,1,0,287.3,419.6ZM321.0,425.7A1.1,1.0,149,1,0,319.2,426.8A1.1,1.0,149,1,0,321.0,425.7ZM289.7,414.0A0.9,0.8,7,1,0,291.4,414.2A0.9,0.8,7,1,0,289.7,414.0ZM335.0,436.4A0.8,0.7,118,1,0,334.2,437.8A0.8,0.7,118,1,0,335.0,436.4ZM318.3,447.6A1.3,1.0,142,1,0,316.3,449.2A1.3,1.0,142,1,0,318.3,447.6ZM321.0,445.8A1.0,0.9,67,1,0,321.7,447.6A1.0,0.9,67,1,0,321.0,445.8ZM304.0,440.4A1.1,1.0,43,1,0,305.6,441.9A1.1,1.0,43,1,0,304.0,440.4ZM324.9,455.8A0.9,0.7,18,1,0,326.5,456.3A0.9,0.7,18,1,0,324.9,455.8ZM318.4,430.5A1.3,1.3,165,1,0,315.9,431.1A1.3,1.3,165,1,0,318.4,430.5ZM290.3,460.6A1.3,1.2,21,1,0,292.7,461.6A1.3,1.2,21,1,0,290.3,460.6ZM295.1,466.5A1.1,1.1,49,1,0,296.6,468.2A1.1,1.1,49,1,0,295.1,466.5ZM290.4,457.2A1.1,1.0,42,1,0,292.1,458.8A1.1,1.0,42,1,0,290.4,457.2ZM315.4,461.0A1.1,1.1,74,1,0,316.0,463.1A1.1,1.1,74,1,0,315.4,461.0ZM304.3,448.6A1.1,1.0,131,1,0,302.9,450.2A1.1,1.0,131,1,0,304.3,448.6Z" fill="#faeed8" stroke="#ecc08a" stroke-width="0.6"/>
<path d="M342.0,465.0A1.7,1.2,178,1,0,338.5,465.1A1.7,1.2,178,1,0,342.0,465.0ZM285.8,437.8A2.6,2.2,55,1,0,288.8,442.1A2.6,2.2,55,1,0,285.8,437.8ZM291.0,462.7A2.3,1.8,56,1,0,293.6,466.5A2.3,1.8,56,1,0,291.0,462.7ZM329.2,442.7A2.1,1.6,54,1,0,331.7,446.2A2.1,1.6,54,1,0,329.2,442.7ZM315.4,442.4A1.7,1.2,128,1,0,313.4,445.0A1.7,1.2,128,1,0,315.4,442.4ZM344.4,433.8A1.8,1.1,45,1,0,346.9,436.4A1.8,1.1,45,1,0,344.4,433.8ZM301.9,454.8A2.4,2.1,167,1,0,297.1,455.9A2.4,2.1,167,1,0,301.9,454.8ZM314.3,438.7A2.6,2.1,81,1,0,315.1,443.8A2.6,2.1,81,1,0,314.3,438.7ZM335.5,422.1A2.1,1.5,77,1,0,336.5,426.2A2.1,1.5,77,1,0,335.5,422.1ZM349.9,437.3A2.4,1.5,122,1,0,347.4,441.4A2.4,1.5,122,1,0,349.9,437.3ZM323.3,456.8A1.8,1.4,73,1,0,324.3,460.2A1.8,1.4,73,1,0,323.3,456.8ZM319.4,422.8A2.0,1.4,85,1,0,319.7,426.8A2.0,1.4,85,1,0,319.4,422.8ZM340.1,457.4A2.6,2.1,65,1,0,342.3,462.1A2.6,2.1,65,1,0,340.1,457.4ZM295.1,440.6A1.8,1.5,65,1,0,296.6,443.9A1.8,1.5,65,1,0,295.1,440.6ZM328.5,453.3A1.9,1.5,74,1,0,329.6,456.9A1.9,1.5,74,1,0,328.5,453.3ZM333.1,437.1A2.0,1.8,36,1,0,336.3,439.4A2.0,1.8,36,1,0,333.1,437.1ZM323.7,430.5A1.7,1.4,174,1,0,320.3,430.9A1.7,1.4,174,1,0,323.7,430.5ZM310.1,443.8A2.4,1.5,42,1,0,313.6,447.0A2.4,1.5,42,1,0,310.1,443.8ZM317.1,469.7A1.9,1.1,25,1,0,320.4,471.2A1.9,1.1,25,1,0,317.1,469.7ZM310.9,426.3A1.9,1.2,0,1,0,314.7,426.3A1.9,1.2,0,1,0,310.9,426.3Z" fill="#7a7e86" stroke="#cfcbc2" stroke-width="0.6"/>
</g></g>
<clipPath id="clip44"><rect x="277.40" y="526.40" width="68.30" height="50.80"/></clipPath>
<rect x="277.40" y="526.40" width="68.30" height="50.80" fill="#92959b"/>
<g clip-path="url(#clip44)"><g filter="url(#pb)">
<path d="M304.5,553.5A0.9,0.8,32,1,0,306.1,554.4A0.9,0.8,32,1,0,304.5,553.5ZM289.7,568.1A1.3,1.2,50,1,0,291.4,570.1A1.3,1.2,50,1,0,289.7,568.1ZM321.9,531.4A1.1,1.0,140,1,0,320.2,532.9A1.1,1.0,140,1,0,321.9,531.4ZM296.8,546.8A1.1,1.0,21,1,0,298.9,547.6A1.1,1.0,21,1,0,296.8,546.8ZM316.1,537.6A1.1,1.0,51,1,0,317.5,539.4A1.1,1.0,51,1,0,316.1,537.6ZM323.3,548.0A1.2,1.1,52,1,0,324.7,549.9A1.2,1.1,52,1,0,323.3,548.0ZM323.4,536.9A1.2,1.1,101,1,0,322.9,539.2A1.2,1.1,101,1,0,323.4,536.9ZM281.3,531.2A1.3,1.1,47,1,0,283.0,533.1A1.3,1.1,47,1,0,281.3,531.2ZM289.8,557.1A1.2,1.1,133,1,0,288.2,558.8A1.2,1.1,133,1,0,289.8,557.1ZM282.3,565.6A1.3,1.1,68,1,0,283.3,567.9A1.3,1.1,68,1,0,282.3,565.6ZM303.5,571.2A1.0,0.9,19,1,0,305.4,571.9A1.0,0.9,19,1,0,303.5,571.2ZM345.9,553.8A1.1,1.0,114,1,0,345.0,555.8A1.1,1.0,114,1,0,345.9,553.8ZM323.6,546.3A1.0,0.9,152,1,0,321.8,547.3A1.0,0.9,152,1,0,323.6,546.3ZM340.2,543.4A0.9,0.8,139,1,0,338.8,544.6A0.9,0.8,139,1,0,340.2,543.4ZM326.9,567.7A1.1,1.0,71,1,0,327.6,569.8A1.1,1.0,71,1,0,326.9,567.7ZM301.5,564.0A0.9,0.8,53,1,0,302.6,565.4A0.9,0.8,53,1,0,301.5,564.0ZM340.3,542.4A0.8,0.7,116,1,0,339.6,543.8A0.8,0.7,116,1,0,340.3,542.4ZM298.2,534.9A1.1,1.0,58,1,0,299.3,536.7A1.1,1.0,58,1,0,298.2,534.9ZM298.3,563.1A1.1,1.0,118,1,0,297.3,565.1A1.1,1.0,118,1,0,298.3,563.1ZM291.3,566.1A1.1,1.0,92,1,0,291.2,568.3A1.1,1.0,92,1,0,291.3,566.1ZM337.2,539.9A1.1,1.0,127,1,0,335.9,541.7A1.1,1.0,127,1,0,337.2,539.9ZM333.8,566.7A1.0,0.9,24,1,0,335.7,567.5A1.0,0.9,24,1,0,333.8,566.7ZM278.8,566.8A1.1,1.0,149,1,0,276.9,568.0A1.1,1.0,149,1,0,278.8,566.8ZM339.7,573.3A1.2,1.1,28,1,0,341.9,574.4A1.2,1.1,28,1,0,339.7,573.3ZM284.9,566.3A1.1,1.0,90,1,0,284.9,568.5A1.1,1.0,90,1,0,284.9,566.3ZM293.1,535.9A1.0,0.9,97,1,0,292.8,537.9A1.0,0.9,97,1,0,293.1,535.9ZM334.2,539.6A0.9,0.8,70,1,0,334.8,541.3A0.9,0.8,70,1,0,334.2,539.6ZM312.9,543.2A0.9,0.8,106,1,0,312.4,545.0A0.9,0.8,106,1,0,312.9,543.2ZM284.1,526.5A1.1,1.0,21,1,0,286.1,527.3A1.1,1.0,21,1,0,284.1,526.5ZM331.4,547.5A1.2,1.1,175,1,0,329.0,547.7A1.2,1.1,175,1,0,331.4,547.5Z" fill="#f0dcc0" stroke="#d8bc98" stroke-width="0.6"/>
<path d="M277.5,531.3A2.1,1.5,28,1,0,281.3,533.3A2.1,1.5,28,1,0,277.5,531.3ZM325.8,544.1A1.9,0.8,124,1,0,323.7,547.2A1.9,0.8,124,1,0,325.8,544.1ZM333.3,557.4A1.6,1.1,13,1,0,336.5,558.1A1.6,1.1,13,1,0,333.3,557.4ZM338.9,534.9A1.6,0.9,45,1,0,341.1,537.1A1.6,0.9,45,1,0,338.9,534.9ZM334.7,546.7A2.4,1.4,128,1,0,331.7,550.4A2.4,1.4,128,1,0,334.7,546.7ZM300.4,566.5A2.1,1.0,106,1,0,299.2,570.7A2.1,1.0,106,1,0,300.4,566.5ZM307.4,564.5A2.5,1.6,62,1,0,309.7,568.9A2.5,1.6,62,1,0,307.4,564.5ZM278.0,534.3A2.4,1.4,3,1,0,282.8,534.5A2.4,1.4,3,1,0,278.0,534.3ZM313.2,576.0A1.6,0.8,36,1,0,315.8,577.9A1.6,0.8,36,1,0,313.2,576.0ZM334.3,555.7A1.6,0.9,78,1,0,335.0,558.7A1.6,0.9,78,1,0,334.3,555.7ZM287.7,534.4A2.2,1.1,150,1,0,283.8,536.6A2.2,1.1,150,1,0,287.7,534.4ZM320.0,538.5A2.3,1.4,49,1,0,323.0,542.0A2.3,1.4,49,1,0,320.0,538.5ZM297.4,528.8A2.2,1.3,156,1,0,293.3,530.6A2.2,1.3,156,1,0,297.4,528.8ZM310.1,538.8A2.2,1.5,73,1,0,311.4,542.9A2.2,1.5,73,1,0,310.1,538.8ZM324.2,572.0A2.4,1.2,162,1,0,319.6,573.5A2.4,1.2,162,1,0,324.2,572.0ZM315.1,566.6A2.2,0.9,126,1,0,312.5,570.1A2.2,0.9,126,1,0,315.1,566.6ZM297.7,547.0A1.8,0.8,170,1,0,294.2,547.7A1.8,0.8,170,1,0,297.7,547.0ZM317.1,551.4A2.1,1.4,59,1,0,319.3,555.0A2.1,1.4,59,1,0,317.1,551.4ZM342.9,562.4A1.8,1.1,81,1,0,343.4,565.9A1.8,1.1,81,1,0,342.9,562.4ZM327.9,524.9A1.8,0.8,96,1,0,327.5,528.4A1.8,0.8,96,1,0,327.9,524.9ZM289.5,525.2A2.1,1.2,70,1,0,290.9,529.2A2.1,1.2,70,1,0,289.5,525.2ZM300.5,554.4A2.5,1.0,118,1,0,298.2,558.8A2.5,1.0,118,1,0,300.5,554.4ZM329.6,531.8A2.2,1.4,14,1,0,333.9,532.9A2.2,1.4,14,1,0,329.6,531.8ZM343.1,533.9A2.6,1.7,170,1,0,338.1,534.9A2.6,1.7,170,1,0,343.1,533.9ZM293.0,538.9A2.0,1.3,47,1,0,295.7,541.8A2.0,1.3,47,1,0,293.0,538.9ZM322.1,532.6A2.6,1.4,81,1,0,322.9,537.7A2.6,1.4,81,1,0,322.1,532.6ZM334.0,539.5A2.1,1.2,151,1,0,330.4,541.6A2.1,1.2,151,1,0,334.0,539.5ZM289.0,527.0A1.5,0.7,77,1,0,289.6,530.0A1.5,0.7,77,1,0,289.0,527.0ZM343.3,547.5A1.9,0.8,144,1,0,340.3,549.7A1.9,0.8,144,1,0,343.3,547.5ZM322.5,558.1A2.6,1.3,128,1,0,319.4,562.2A2.6,1.3,128,1,0,322.5,558.1ZM310.0,524.9A2.3,1.4,53,1,0,312.7,528.5A2.3,1.4,53,1,0,310.0,524.9ZM340.3,529.2A1.8,1.2,29,1,0,343.4,531.0A1.8,1.2,29,1,0,340.3,529.2ZM317.4,568.4A1.9,0.9,170,1,0,313.6,569.0A1.9,0.9,170,1,0,317.4,568.4ZM336.2,553.4A1.5,0.9,2,1,0,339.3,553.5A1.5,0.9,2,1,0,336.2,553.4ZM316.0,546.0A2.6,1.5,70,1,0,317.8,550.9A2.6,1.5,70,1,0,316.0,546.0ZM339.0,535.6A1.8,1.1,50,1,0,341.3,538.3A1.8,1.1,50,1,0,339.0,535.6ZM314.9,529.5A1.5,0.7,125,1,0,313.1,532.0A1.5,0.7,125,1,0,314.9,529.5ZM276.6,561.7A1.8,0.8,2,1,0,280.1,561.8A1.8,0.8,2,1,0,276.6,561.7ZM315.5,546.7A1.5,0.8,59,1,0,317.0,549.4A1.5,0.8,59,1,0,315.5,546.7ZM319.3,553.0A1.6,1.0,29,1,0,322.1,554.5A1.6,1.0,29,1,0,319.3,553.0ZM319.3,570.0A2.7,1.5,111,1,0,317.4,575.0A2.7,1.5,111,1,0,319.3,570.0ZM292.8,573.3A1.8,0.7,59,1,0,294.7,576.4A1.8,0.7,59,1,0,292.8,573.3ZM284.7,575.0A1.8,1.2,140,1,0,281.9,577.3A1.8,1.2,140,1,0,284.7,575.0ZM327.8,570.3A2.2,1.0,165,1,0,323.5,571.4A2.2,1.0,165,1,0,327.8,570.3ZM300.3,529.7A2.6,1.3,15,1,0,305.3,531.0A2.6,1.3,15,1,0,300.3,529.7ZM280.0,544.4A2.6,1.3,114,1,0,277.9,549.1A2.6,1.3,114,1,0,280.0,544.4ZM342.5,524.7A2.3,1.2,88,1,0,342.6,529.3A2.3,1.2,88,1,0,342.5,524.7ZM330.2,552.0A2.3,1.1,70,1,0,331.8,556.3A2.3,1.1,70,1,0,330.2,552.0ZM292.7,559.0A2.6,1.3,178,1,0,287.5,559.2A2.6,1.3,178,1,0,292.7,559.0ZM279.1,533.5A2.0,0.9,76,1,0,280.1,537.4A2.0,0.9,76,1,0,279.1,533.5ZM301.4,564.4A2.3,1.2,34,1,0,305.2,567.1A2.3,1.2,34,1,0,301.4,564.4ZM334.4,525.6A1.9,1.0,93,1,0,334.2,529.3A1.9,1.0,93,1,0,334.4,525.6ZM342.4,542.0A1.7,0.7,175,1,0,339.1,542.3A1.7,0.7,175,1,0,342.4,542.0ZM323.8,527.6A1.5,0.8,46,1,0,325.9,529.8A1.5,0.8,46,1,0,323.8,527.6ZM278.9,573.5A2.4,1.1,6,1,0,283.7,574.0A2.4,1.1,6,1,0,278.9,573.5ZM336.6,525.9A2.5,1.7,67,1,0,338.6,530.5A2.5,1.7,67,1,0,336.6,525.9ZM345.5,535.8A2.5,1.7,154,1,0,341.1,538.0A2.5,1.7,154,1,0,345.5,535.8ZM285.0,527.2A2.3,1.2,152,1,0,280.9,529.4A2.3,1.2,152,1,0,285.0,527.2ZM286.9,554.8A1.8,0.7,61,1,0,288.7,557.9A1.8,0.7,61,1,0,286.9,554.8ZM284.8,558.7A2.0,1.2,118,1,0,282.9,562.3A2.0,1.2,118,1,0,284.8,558.7ZM333.4,574.7A2.5,1.6,135,1,0,329.9,578.2A2.5,1.6,135,1,0,333.4,574.7ZM330.1,535.5A2.3,0.9,141,1,0,326.5,538.4A2.3,0.9,141,1,0,330.1,535.5ZM278.4,547.0A2.3,1.2,22,1,0,282.7,548.7A2.3,1.2,22,1,0,278.4,547.0ZM319.6,539.2A2.3,1.4,27,1,0,323.7,541.3A2.3,1.4,27,1,0,319.6,539.2ZM341.8,566.8A2.5,1.3,19,1,0,346.5,568.4A2.5,1.3,19,1,0,341.8,566.8ZM278.5,530.6A1.5,0.9,45,1,0,280.7,532.8A1.5,0.9,45,1,0,278.5,530.6ZM283.1,539.3A2.4,1.2,135,1,0,279.6,542.8A2.4,1.2,135,1,0,283.1,539.3ZM278.8,524.5A2.7,1.7,67,1,0,280.8,529.4A2.7,1.7,67,1,0,278.8,524.5ZM309.2,554.9A2.2,1.1,162,1,0,305.0,556.2A2.2,1.1,162,1,0,309.2,554.9ZM342.9,567.6A1.6,1.0,173,1,0,339.7,568.0A1.6,1.0,173,1,0,342.9,567.6ZM321.8,561.6A2.5,1.4,29,1,0,326.3,564.1A2.5,1.4,29,1,0,321.8,561.6ZM283.3,536.0A2.1,1.3,26,1,0,287.1,537.8A2.1,1.3,26,1,0,283.3,536.0ZM314.1,567.4A2.5,1.7,136,1,0,310.5,570.8A2.5,1.7,136,1,0,314.1,567.4ZM313.5,528.7A2.2,1.5,127,1,0,310.8,532.2A2.2,1.5,127,1,0,313.5,528.7ZM304.2,567.0A1.6,0.8,130,1,0,302.1,569.5A1.6,0.8,130,1,0,304.2,567.0ZM333.0,575.0A2.4,1.1,29,1,0,337.2,577.4A2.4,1.1,29,1,0,333.0,575.0ZM316.1,542.2A2.0,0.8,4,1,0,320.1,542.5A2.0,0.8,4,1,0,316.1,542.2ZM321.0,562.0A2.3,1.5,90,1,0,321.0,566.5A2.3,1.5,90,1,0,321.0,562.0ZM300.4,554.7A2.7,1.3,123,1,0,297.5,559.2A2.7,1.3,123,1,0,300.4,554.7ZM330.2,552.4A1.6,0.8,116,1,0,328.8,555.2A1.6,0.8,116,1,0,330.2,552.4ZM341.6,551.5A1.8,0.8,43,1,0,344.2,554.0A1.8,0.8,43,1,0,341.6,551.5ZM329.5,537.6A2.5,1.3,99,1,0,328.7,542.6A2.5,1.3,99,1,0,329.5,537.6ZM275.5,558.7A2.1,0.9,6,1,0,279.6,559.2A2.1,0.9,6,1,0,275.5,558.7ZM336.7,526.1A1.9,1.3,118,1,0,334.9,529.4A1.9,1.3,118,1,0,336.7,526.1ZM297.9,560.4A2.5,1.7,94,1,0,297.5,565.5A2.5,1.7,94,1,0,297.9,560.4ZM342.2,542.3A2.4,1.4,25,1,0,346.6,544.4A2.4,1.4,25,1,0,342.2,542.3ZM308.9,551.5A2.0,1.2,36,1,0,312.2,553.9A2.0,1.2,36,1,0,308.9,551.5ZM284.4,537.6A2.1,1.4,138,1,0,281.3,540.4A2.1,1.4,138,1,0,284.4,537.6ZM302.5,535.1A2.1,1.1,5,1,0,306.6,535.5A2.1,1.1,5,1,0,302.5,535.1ZM303.6,557.4A2.3,1.0,59,1,0,306.0,561.4A2.3,1.0,59,1,0,303.6,557.4ZM282.6,559.0A1.7,1.1,12,1,0,286.0,559.7A1.7,1.1,12,1,0,282.6,559.0ZM303.3,560.9A1.5,1.0,107,1,0,302.4,563.8A1.5,1.0,107,1,0,303.3,560.9ZM309.2,529.6A2.1,1.2,157,1,0,305.4,531.3A2.1,1.2,157,1,0,309.2,529.6ZM281.4,534.7A2.2,0.9,7,1,0,285.9,535.3A2.2,0.9,7,1,0,281.4,534.7ZM311.3,560.9A2.2,1.4,180,1,0,306.9,560.9A2.2,1.4,180,1,0,311.3,560.9ZM327.3,552.9A2.3,1.2,109,1,0,325.8,557.3A2.3,1.2,109,1,0,327.3,552.9ZM280.6,573.3A2.7,1.1,167,1,0,275.3,574.5A2.7,1.1,167,1,0,280.6,573.3ZM323.2,540.9A2.4,1.6,7,1,0,327.9,541.5A2.4,1.6,7,1,0,323.2,540.9ZM304.0,528.1A2.4,1.2,37,1,0,307.8,530.9A2.4,1.2,37,1,0,304.0,528.1ZM306.5,569.7A2.6,1.6,7,1,0,311.7,570.4A2.6,1.6,7,1,0,306.5,569.7ZM329.5,547.8A1.6,0.8,164,1,0,326.4,548.7A1.6,0.8,164,1,0,329.5,547.8ZM314.8,569.4A1.7,0.8,14,1,0,318.1,570.2A1.7,0.8,14,1,0,314.8,569.4ZM325.4,557.3A2.0,1.4,8,1,0,329.4,557.9A2.0,1.4,8,1,0,325.4,557.3ZM283.9,570.8A1.9,1.3,110,1,0,282.6,574.5A1.9,1.3,110,1,0,283.9,570.8ZM332.8,558.7A1.8,1.0,105,1,0,331.8,562.2A1.8,1.0,105,1,0,332.8,558.7ZM339.1,527.9A2.1,1.5,89,1,0,339.1,532.2A2.1,1.5,89,1,0,339.1,527.9ZM315.5,547.6A2.6,1.5,53,1,0,318.5,551.7A2.6,1.5,53,1,0,315.5,547.6ZM326.6,552.2A2.1,1.0,169,1,0,322.6,553.0A2.1,1.0,169,1,0,326.6,552.2ZM306.9,531.9A2.0,0.9,154,1,0,303.3,533.6A2.0,0.9,154,1,0,306.9,531.9ZM341.9,533.0A2.3,1.2,94,1,0,341.6,537.7A2.3,1.2,94,1,0,341.9,533.0ZM329.7,568.3A1.6,0.9,6,1,0,332.9,568.6A1.6,0.9,6,1,0,329.7,568.3ZM290.9,571.3A1.7,1.1,81,1,0,291.5,574.6A1.7,1.1,81,1,0,290.9,571.3ZM291.4,539.3A1.6,1.0,37,1,0,294.0,541.2A1.6,1.0,37,1,0,291.4,539.3ZM283.8,539.6A2.1,1.4,99,1,0,283.1,543.8A2.1,1.4,99,1,0,283.8,539.6ZM278.2,572.4A2.6,1.7,65,1,0,280.4,577.1A2.6,1.7,65,1,0,278.2,572.4ZM338.5,533.7A1.9,1.1,63,1,0,340.2,537.1A1.9,1.1,63,1,0,338.5,533.7ZM279.2,554.0A2.2,1.0,58,1,0,281.5,557.7A2.2,1.0,58,1,0,279.2,554.0ZM326.2,562.6A2.0,1.1,81,1,0,326.8,566.6A2.0,1.1,81,1,0,326.2,562.6ZM336.7,576.2A2.4,1.3,154,1,0,332.4,578.2A2.4,1.3,154,1,0,336.7,576.2ZM289.3,530.3A2.4,1.3,49,1,0,292.5,533.9A2.4,1.3,49,1,0,289.3,530.3ZM342.6,566.4A2.0,1.1,143,1,0,339.4,568.8A2.0,1.1,143,1,0,342.6,566.4ZM330.7,532.5A2.5,1.7,54,1,0,333.6,536.6A2.5,1.7,54,1,0,330.7,532.5ZM340.6,534.2A1.7,0.8,78,1,0,341.2,537.5A1.7,0.8,78,1,0,340.6,534.2ZM317.0,564.7A2.4,1.7,180,1,0,312.3,564.7A2.4,1.7,180,1,0,317.0,564.7ZM282.5,525.1A1.9,1.2,50,1,0,285.0,528.1A1.9,1.2,50,1,0,282.5,525.1ZM304.7,542.9A2.5,1.7,105,1,0,303.4,547.7A2.5,1.7,105,1,0,304.7,542.9ZM293.7,544.7A1.9,0.9,115,1,0,292.1,548.2A1.9,0.9,115,1,0,293.7,544.7ZM297.1,553.7A1.7,0.7,176,1,0,293.6,553.9A1.7,0.7,176,1,0,297.1,553.7ZM332.9,571.1A1.8,0.9,72,1,0,334.0,574.5A1.8,0.9,72,1,0,332.9,571.1ZM299.3,546.6A1.8,1.0,45,1,0,301.9,549.1A1.8,1.0,45,1,0,299.3,546.6ZM309.2,549.1A2.5,1.2,86,1,0,309.6,554.1A2.5,1.2,86,1,0,309.2,549.1ZM286.6,547.2A1.8,1.2,42,1,0,289.4,549.6A1.8,1.2,42,1,0,286.6,547.2ZM322.2,546.2A2.2,1.3,81,1,0,323.0,550.6A2.2,1.3,81,1,0,322.2,546.2ZM336.7,556.0A1.9,1.2,96,1,0,336.3,559.7A1.9,1.2,96,1,0,336.7,556.0ZM288.8,573.6A2.0,1.3,170,1,0,284.8,574.3A2.0,1.3,170,1,0,288.8,573.6ZM303.9,545.4A2.2,1.1,141,1,0,300.5,548.1A2.2,1.1,141,1,0,303.9,545.4ZM277.0,568.7A1.8,1.1,64,1,0,278.6,572.0A1.8,1.1,64,1,0,277.0,568.7ZM313.0,553.1A1.6,0.9,25,1,0,315.9,554.5A1.6,0.9,25,1,0,313.0,553.1ZM286.4,559.4A2.0,1.1,150,1,0,282.9,561.4A2.0,1.1,150,1,0,286.4,559.4ZM301.1,550.3A1.8,1.2,156,1,0,297.9,551.7A1.8,1.2,156,1,0,301.1,550.3ZM340.3,551.0A2.2,1.0,168,1,0,336.0,551.9A2.2,1.0,168,1,0,340.3,551.0ZM337.0,544.9A1.9,1.3,135,1,0,334.3,547.7A1.9,1.3,135,1,0,337.0,544.9ZM305.6,540.1A1.8,0.8,139,1,0,303.0,542.4A1.8,0.8,139,1,0,305.6,540.1ZM317.3,550.5A2.5,1.0,172,1,0,312.4,551.3A2.5,1.0,172,1,0,317.3,550.5ZM331.4,537.9A1.7,0.9,21,1,0,334.5,539.1A1.7,0.9,21,1,0,331.4,537.9ZM325.9,526.7A1.8,1.2,14,1,0,329.5,527.6A1.8,1.2,14,1,0,325.9,526.7ZM344.0,531.4A1.8,0.9,34,1,0,347.0,533.4A1.8,0.9,34,1,0,344.0,531.4ZM284.1,553.9A2.5,1.7,116,1,0,281.9,558.4A2.5,1.7,116,1,0,284.1,553.9ZM305.0,566.1A1.8,1.0,169,1,0,301.4,566.8A1.8,1.0,169,1,0,305.0,566.1ZM314.3,538.3A2.4,1.3,170,1,0,309.6,539.1A2.4,1.3,170,1,0,314.3,538.3ZM308.1,570.9A2.5,1.3,132,1,0,304.7,574.7A2.5,1.3,132,1,0,308.1,570.9ZM321.4,557.3A1.8,0.7,125,1,0,319.3,560.2A1.8,0.7,125,1,0,321.4,557.3ZM292.8,573.7A2.2,1.0,39,1,0,296.3,576.5A2.2,1.0,39,1,0,292.8,573.7ZM322.3,562.4A2.4,1.4,123,1,0,319.7,566.4A2.4,1.4,123,1,0,322.3,562.4ZM342.6,536.7A2.7,1.4,52,1,0,345.9,540.9A2.7,1.4,52,1,0,342.6,536.7ZM309.3,556.7A2.1,0.9,0,1,0,313.5,556.7A2.1,0.9,0,1,0,309.3,556.7ZM311.4,525.0A2.1,1.0,103,1,0,310.5,529.0A2.1,1.0,103,1,0,311.4,525.0ZM331.3,535.5A1.9,1.0,36,1,0,334.4,537.8A1.9,1.0,36,1,0,331.3,535.5ZM341.8,528.2A2.5,1.7,100,1,0,340.9,533.1A2.5,1.7,100,1,0,341.8,528.2ZM287.1,527.2A2.2,1.5,94,1,0,286.7,531.6A2.2,1.5,94,1,0,287.1,527.2ZM280.3,536.6A2.4,1.6,89,1,0,280.4,541.5A2.4,1.6,89,1,0,280.3,536.6ZM316.3,548.6A2.6,1.8,41,1,0,320.3,552.1A2.6,1.8,41,1,0,316.3,548.6ZM295.5,545.8A2.3,1.2,47,1,0,298.7,549.2A2.3,1.2,47,1,0,295.5,545.8ZM289.3,567.8A1.7,0.9,83,1,0,289.7,571.2A1.7,0.9,83,1,0,289.3,567.8ZM346.7,545.9A2.4,1.0,162,1,0,342.3,547.4A2.4,1.0,162,1,0,346.7,545.9ZM280.2,541.7A1.6,1.0,145,1,0,277.7,543.5A1.6,1.0,145,1,0,280.2,541.7ZM308.1,535.6A1.7,0.7,83,1,0,308.5,538.9A1.7,0.7,83,1,0,308.1,535.6ZM346.9,562.6A1.6,1.0,139,1,0,344.4,564.7A1.6,1.0,139,1,0,346.9,562.6ZM291.5,553.7A2.6,1.7,18,1,0,296.5,555.4A2.6,1.7,18,1,0,291.5,553.7ZM321.1,550.6A1.5,1.0,23,1,0,323.9,551.8A1.5,1.0,23,1,0,321.1,550.6ZM344.3,562.4A2.7,1.1,151,1,0,339.6,565.1A2.7,1.1,151,1,0,344.3,562.4ZM316.0,534.9A2.3,1.4,20,1,0,320.3,536.5A2.3,1.4,20,1,0,316.0,534.9ZM320.6,546.2A2.6,1.6,22,1,0,325.5,548.1A2.6,1.6,22,1,0,320.6,546.2ZM295.9,568.9A2.1,1.1,34,1,0,299.3,571.1A2.1,1.1,34,1,0,295.9,568.9ZM338.9,547.6A2.3,1.5,79,1,0,339.8,552.1A2.3,1.5,79,1,0,338.9,547.6ZM281.7,569.9A1.8,1.2,73,1,0,282.8,573.3A1.8,1.2,73,1,0,281.7,569.9ZM308.6,536.0A1.7,1.0,1,1,0,311.9,536.0A1.7,1.0,1,1,0,308.6,536.0ZM290.5,563.4A2.1,1.0,93,1,0,290.3,567.6A2.1,1.0,93,1,0,290.5,563.4ZM337.5,554.3A1.5,0.8,29,1,0,340.1,555.8A1.5,0.8,29,1,0,337.5,554.3ZM343.2,532.4A2.0,1.4,81,1,0,343.8,536.4A2.0,1.4,81,1,0,343.2,532.4ZM320.6,531.6A2.7,1.3,88,1,0,320.8,536.9A2.7,1.3,88,1,0,320.6,531.6ZM287.8,535.6A2.0,1.1,102,1,0,287.0,539.5A2.0,1.1,102,1,0,287.8,535.6ZM307.4,565.4A1.6,0.7,6,1,0,310.6,565.7A1.6,0.7,6,1,0,307.4,565.4ZM301.0,570.2A1.7,0.7,76,1,0,301.9,573.6A1.7,0.7,76,1,0,301.0,570.2ZM282.0,536.8A2.5,1.3,126,1,0,279.1,540.8A2.5,1.3,126,1,0,282.0,536.8ZM340.3,574.0A2.2,1.1,124,1,0,337.9,577.7A2.2,1.1,124,1,0,340.3,574.0ZM296.7,528.9A1.8,1.2,104,1,0,295.8,532.3A1.8,1.2,104,1,0,296.7,528.9ZM286.0,554.3A2.1,0.8,110,1,0,284.6,558.3A2.1,0.8,110,1,0,286.0,554.3ZM330.9,533.8A2.2,1.3,121,1,0,328.6,537.6A2.2,1.3,121,1,0,330.9,533.8ZM297.8,555.3A1.9,1.3,158,1,0,294.2,556.8A1.9,1.3,158,1,0,297.8,555.3ZM316.0,544.2A1.7,1.0,177,1,0,312.6,544.4A1.7,1.0,177,1,0,316.0,544.2ZM314.3,574.8A2.0,1.1,36,1,0,317.6,577.2A2.0,1.1,36,1,0,314.3,574.8ZM293.8,556.5A2.1,1.4,1,1,0,298.0,556.5A2.1,1.4,1,1,0,293.8,556.5ZM339.7,545.4A1.7,1.1,66,1,0,341.1,548.4A1.7,1.1,66,1,0,339.7,545.4ZM308.5,572.1A2.3,1.2,90,1,0,308.5,576.7A2.3,1.2,90,1,0,308.5,572.1ZM313.1,573.6A2.2,1.3,20,1,0,317.2,575.1A2.2,1.3,20,1,0,313.1,573.6ZM320.7,575.0A1.6,0.7,122,1,0,319.0,577.7A1.6,0.7,122,1,0,320.7,575.0ZM331.0,537.0A1.9,0.8,135,1,0,328.4,539.6A1.9,0.8,135,1,0,331.0,537.0ZM328.6,542.7A1.6,0.6,177,1,0,325.4,542.8A1.6,0.6,177,1,0,328.6,542.7ZM316.6,568.3A1.6,0.8,99,1,0,316.1,571.4A1.6,0.8,99,1,0,316.6,568.3ZM318.4,558.0A1.9,1.2,85,1,0,318.7,561.7A1.9,1.2,85,1,0,318.4,558.0ZM311.8,536.6A2.6,1.3,8,1,0,317.0,537.3A2.6,1.3,8,1,0,311.8,536.6ZM296.1,557.9A1.5,0.8,160,1,0,293.2,559.0A1.5,0.8,160,1,0,296.1,557.9ZM297.2,573.8A2.7,1.7,38,1,0,301.4,577.1A2.7,1.7,38,1,0,297.2,573.8ZM277.1,573.1A2.5,1.6,75,1,0,278.3,577.9A2.5,1.6,75,1,0,277.1,573.1ZM322.5,530.5A2.2,1.3,98,1,0,321.9,534.8A2.2,1.3,98,1,0,322.5,530.5ZM304.4,558.9A1.9,0.8,9,1,0,308.1,559.5A1.9,0.8,9,1,0,304.4,558.9ZM347.2,555.8A2.6,1.2,161,1,0,342.4,557.4A2.6,1.2,161,1,0,347.2,555.8ZM331.0,527.1A2.7,1.4,169,1,0,325.7,528.1A2.7,1.4,169,1,0,331.0,527.1ZM340.8,547.0A1.5,0.7,107,1,0,339.9,550.0A1.5,0.7,107,1,0,340.8,547.0ZM331.8,565.6A2.1,1.0,164,1,0,327.8,566.8A2.1,1.0,164,1,0,331.8,565.6ZM339.3,526.7A2.6,1.3,89,1,0,339.4,531.9A2.6,1.3,89,1,0,339.3,526.7ZM331.1,549.7A2.1,1.4,19,1,0,335.1,551.1A2.1,1.4,19,1,0,331.1,549.7ZM299.3,531.5A1.6,0.8,131,1,0,297.2,533.9A1.6,0.8,131,1,0,299.3,531.5ZM289.7,532.7A2.6,1.7,148,1,0,285.2,535.5A2.6,1.7,148,1,0,289.7,532.7ZM325.5,554.2A2.0,1.1,45,1,0,328.3,557.1A2.0,1.1,45,1,0,325.5,554.2ZM299.0,545.8A2.0,1.2,72,1,0,300.3,549.7A2.0,1.2,72,1,0,299.0,545.8ZM319.5,526.5A2.3,1.3,91,1,0,319.4,531.2A2.3,1.3,91,1,0,319.5,526.5ZM296.0,561.5A2.5,1.5,91,1,0,295.9,566.4A2.5,1.5,91,1,0,296.0,561.5ZM293.5,568.0A1.9,1.2,143,1,0,290.4,570.3A1.9,1.2,143,1,0,293.5,568.0ZM300.8,574.1A2.0,1.0,72,1,0,302.1,577.9A2.0,1.0,72,1,0,300.8,574.1Z" fill="#747d8a" stroke="#b9b9b5" stroke-width="0.8"/>
<path d="M282.9,558.0A1.9,1.3,6,1,0,286.6,558.4A1.9,1.3,6,1,0,282.9,558.0ZM283.1,537.8A1.6,1.1,118,1,0,281.6,540.6A1.6,1.1,118,1,0,283.1,537.8ZM284.0,570.8A2.3,1.5,123,1,0,281.5,574.7A2.3,1.5,123,1,0,284.0,570.8ZM299.3,530.9A2.2,1.7,114,1,0,297.6,534.9A2.2,1.7,114,1,0,299.3,530.9ZM331.3,559.5A1.9,1.3,89,1,0,331.3,563.3A1.9,1.3,89,1,0,331.3,559.5ZM298.7,559.1A2.3,1.6,30,1,0,302.6,561.5A2.3,1.6,30,1,0,298.7,559.1ZM312.2,544.3A1.5,1.2,9,1,0,315.2,544.8A1.5,1.2,9,1,0,312.2,544.3ZM323.5,571.8A1.6,1.1,96,1,0,323.2,575.0A1.6,1.1,96,1,0,323.5,571.8ZM324.9,558.0A2.2,1.4,55,1,0,327.4,561.7A2.2,1.4,55,1,0,324.9,558.0ZM339.8,539.8A1.9,1.3,99,1,0,339.2,543.6A1.9,1.3,99,1,0,339.8,539.8ZM341.3,530.4A2.0,1.1,32,1,0,344.6,532.5A2.0,1.1,32,1,0,341.3,530.4ZM306.3,561.3A1.6,1.4,111,1,0,305.1,564.4A1.6,1.4,111,1,0,306.3,561.3ZM307.8,549.3A1.9,1.2,76,1,0,308.7,553.0A1.9,1.2,76,1,0,307.8,549.3ZM326.0,573.5A2.4,2.0,112,1,0,324.2,577.9A2.4,2.0,112,1,0,326.0,573.5ZM289.3,566.3A1.6,1.2,86,1,0,289.5,569.5A1.6,1.2,86,1,0,289.3,566.3ZM322.6,534.0A1.8,1.2,11,1,0,326.1,534.6A1.8,1.2,11,1,0,322.6,534.0ZM332.3,529.0A2.5,1.7,106,1,0,330.9,533.7A2.5,1.7,106,1,0,332.3,529.0ZM287.1,527.1A2.0,1.2,49,1,0,289.7,530.1A2.0,1.2,49,1,0,287.1,527.1ZM331.0,572.3A2.5,2.2,160,1,0,326.4,574.0A2.5,2.2,160,1,0,331.0,572.3ZM287.2,541.6A1.7,1.4,175,1,0,283.8,541.9A1.7,1.4,175,1,0,287.2,541.6ZM307.9,563.9A1.5,1.1,93,1,0,307.8,566.9A1.5,1.1,93,1,0,307.9,563.9ZM337.2,528.3A1.5,0.9,123,1,0,335.5,530.8A1.5,0.9,123,1,0,337.2,528.3ZM320.4,542.8A2.1,1.2,106,1,0,319.3,546.9A2.1,1.2,106,1,0,320.4,542.8ZM299.4,541.6A2.0,1.6,140,1,0,296.3,544.2A2.0,1.6,140,1,0,299.4,541.6ZM305.8,562.8A2.3,1.9,179,1,0,301.3,562.9A2.3,1.9,179,1,0,305.8,562.8ZM289.5,573.4A1.8,1.2,180,1,0,285.9,573.4A1.8,1.2,180,1,0,289.5,573.4ZM336.4,528.7A2.1,1.7,17,1,0,340.4,529.9A2.1,1.7,17,1,0,336.4,528.7ZM305.7,540.4A1.7,0.8,154,1,0,302.7,541.9A1.7,0.8,154,1,0,305.7,540.4ZM290.9,534.0A2.3,1.2,75,1,0,292.2,538.4A2.3,1.2,75,1,0,290.9,534.0ZM337.6,561.2A1.5,1.0,154,1,0,334.8,562.5A1.5,1.0,154,1,0,337.6,561.2ZM311.4,560.1A1.9,1.1,35,1,0,314.4,562.2A1.9,1.1,35,1,0,311.4,560.1ZM288.6,542.3A2.2,1.2,103,1,0,287.6,546.5A2.2,1.2,103,1,0,288.6,542.3ZM300.6,563.3A2.4,1.3,101,1,0,299.7,568.1A2.4,1.3,101,1,0,300.6,563.3ZM340.4,551.7A2.0,1.5,157,1,0,336.7,553.3A2.0,1.5,157,1,0,340.4,551.7ZM293.1,565.8A2.4,1.4,53,1,0,296.1,569.7A2.4,1.4,53,1,0,293.1,565.8ZM284.9,562.7A1.8,1.1,17,1,0,288.3,563.7A1.8,1.1,17,1,0,284.9,562.7ZM323.5,535.3A1.9,1.6,51,1,0,325.8,538.2A1.9,1.6,51,1,0,323.5,535.3ZM339.0,563.2A2.5,1.6,60,1,0,341.5,567.5A2.5,1.6,60,1,0,339.0,563.2ZM290.5,572.0A1.9,1.4,180,1,0,286.8,572.1A1.9,1.4,180,1,0,290.5,572.0Z" fill="#a3a4a5"/>
</g></g>
<text x="46.50" y="624.50" font-size="11.2" text-anchor="start" fill="#1e1e1e" transform="rotate(-30 46.50 624.50)">Vector+PBS</text>
<text x="98.70" y="642.50" font-size="11.2" text-anchor="start" fill="#1e1e1e" transform="rotate(-30 98.70 642.50)">Vector+Spermidine</text>
<text x="194.90" y="624.10" font-size="11.2" text-anchor="start" fill="#1e1e1e" transform="rotate(-30 194.90 624.10)">AOC1+PBS</text>
<text x="243.10" y="645.50" font-size="11.2" text-anchor="start" fill="#1e1e1e" transform="rotate(-30 243.10 645.50)">AOC1+Spermidine</text>
<text x="339.80" y="319.00" font-size="16.8" text-anchor="start" fill="#111" style="stroke-width:0.9px;stroke:#111">d</text>
<clipPath id="fl346"><rect x="387.60" y="346.40" width="125.80" height="97.10"/></clipPath>
<rect x="387.60" y="346.40" width="125.80" height="96.60" fill="#ffffff" stroke="#9a9a9a" stroke-width="1.0"/>
<g clip-path="url(#fl346)">
<path d="M388.50,443.00 L388.50,434.66 L388.72,403.06 L388.95,403.59 L389.17,413.85 L389.39,422.48 L389.61,430.52 L389.84,437.56 L390.06,440.50 L390.28,441.43 L390.51,442.09 L390.73,442.69 L390.95,442.96 L391.18,443.00 L391.40,443.00 L391.62,443.00 L391.84,443.00 L392.07,443.00 L392.29,443.00 L392.51,443.00 L392.74,443.00 L392.96,442.98 L393.18,442.79 L393.41,442.32 L393.63,441.79 L393.85,441.25 L394.07,440.74 L394.30,440.45 L394.52,440.83 L394.74,441.36 L394.97,441.89 L395.19,442.42 L395.41,442.88 L395.64,442.99 L395.86,443.00 L396.08,443.00 L396.30,443.00 L396.53,443.00 L396.75,443.00 L396.97,443.00 L397.20,443.00 L397.42,443.00 L397.64,443.00 L397.86,443.00 L398.09,443.00 L398.31,443.00 L398.53,443.00 L398.76,443.00 L398.98,443.00 L399.20,443.00 L399.43,443.00 L399.65,443.00 L399.87,442.98 L400.09,442.80 L400.32,442.29 L400.54,441.70 L400.76,441.11 L400.99,440.51 L401.21,439.92 L401.43,439.52 L401.66,439.91 L401.88,440.49 L402.10,441.09 L402.32,441.68 L402.55,442.27 L402.77,442.71 L402.99,442.50 L403.22,441.95 L403.44,441.36 L403.66,440.77 L403.89,440.18 L404.11,439.68 L404.33,439.64 L404.55,440.01 L404.78,440.45 L405.00,440.82 L405.22,440.74 L405.45,440.12 L405.67,439.38 L405.89,438.64 L406.11,437.90 L406.34,437.17 L406.56,436.58 L406.78,436.28 L407.01,436.05 L407.23,435.82 L407.45,435.59 L407.68,435.36 L407.90,435.13 L408.12,434.90 L408.34,434.67 L408.57,434.44 L408.79,434.21 L409.01,433.98 L409.24,433.75 L409.46,433.51 L409.68,433.28 L409.91,433.05 L410.13,432.82 L410.35,432.59 L410.57,432.36 L410.80,432.13 L411.02,431.90 L411.24,431.67 L411.47,431.44 L411.69,431.21 L411.91,430.97 L412.14,430.73 L412.36,430.38 L412.58,429.86 L412.80,429.31 L413.03,428.75 L413.25,428.20 L413.47,427.64 L413.70,427.09 L413.92,426.53 L414.14,425.98 L414.36,425.42 L414.59,424.87 L414.81,424.31 L415.03,423.76 L415.26,423.20 L415.48,422.65 L415.70,422.09 L415.93,421.54 L416.15,420.98 L416.37,420.43 L416.59,419.87 L416.82,419.29 L417.04,418.55 L417.26,417.68 L417.49,416.80 L417.71,415.91 L417.93,415.02 L418.16,414.13 L418.38,413.34 L418.60,413.13 L418.82,413.81 L419.05,414.58 L419.27,414.44 L419.49,412.44 L419.72,410.00 L419.94,407.57 L420.16,405.36 L420.39,403.86 L420.61,402.53 L420.83,401.19 L421.05,399.86 L421.28,398.53 L421.50,397.20 L421.72,395.87 L421.95,394.53 L422.17,393.20 L422.39,391.86 L422.61,390.50 L422.84,389.12 L423.06,387.74 L423.28,386.36 L423.51,384.98 L423.73,383.60 L423.95,382.21 L424.18,380.83 L424.40,379.65 L424.62,379.61 L424.84,381.06 L425.07,382.83 L425.29,384.55 L425.51,385.87 L425.74,386.40 L425.96,386.76 L426.18,387.11 L426.41,387.45 L426.63,387.46 L426.85,386.39 L427.07,385.06 L427.30,383.72 L427.52,382.81 L427.74,383.62 L427.97,385.00 L428.19,386.42 L428.41,387.84 L428.64,388.96 L428.86,388.75 L429.08,387.79 L429.30,386.72 L429.53,385.66 L429.75,384.99 L429.97,386.21 L430.20,389.09 L430.42,392.29 L430.64,395.49 L430.86,398.61 L431.09,401.29 L431.31,403.37 L431.53,405.32 L431.76,407.28 L431.98,409.23 L432.20,411.18 L432.43,413.14 L432.65,415.09 L432.87,417.04 L433.09,419.00 L433.32,420.79 L433.54,422.00 L433.76,423.07 L433.99,424.13 L434.21,425.20 L434.43,426.27 L434.66,427.33 L434.88,428.40 L435.10,429.46 L435.32,430.53 L435.55,431.53 L435.77,432.25 L435.99,432.78 L436.22,433.28 L436.44,433.78 L436.66,434.28 L436.89,434.77 L437.11,435.27 L437.33,435.77 L437.55,436.26 L437.78,436.76 L438.00,437.26 L438.22,437.76 L438.45,438.25 L438.67,438.75 L438.89,439.24 L439.11,439.67 L439.34,439.92 L439.56,440.13 L439.78,440.34 L440.01,440.55 L440.23,440.76 L440.45,440.97 L440.68,441.18 L440.90,441.39 L441.12,441.60 L441.34,441.81 L441.57,442.00 L441.79,442.10 L442.01,442.16 L442.24,442.20 L442.46,442.25 L442.68,442.29 L442.91,442.33 L443.13,442.38 L443.35,442.42 L443.57,442.47 L443.80,442.51 L444.02,442.56 L444.24,442.60 L444.47,442.64 L444.69,442.69 L444.91,442.73 L445.14,442.78 L445.36,442.82 L445.58,442.87 L445.80,442.91 L446.03,442.96 L446.25,442.99 L446.25,443.00 Z" fill="rgb(240,60,70)" fill-opacity="0.45"/>
<path d="M388.50,443.00 L388.50,437.67 L388.72,417.99 L388.95,420.94 L389.17,429.85 L389.39,434.47 L389.61,437.56 L389.84,440.19 L390.06,441.42 L390.28,441.95 L390.51,442.40 L390.73,442.79 L390.95,442.97 L391.18,443.00 L391.40,443.00 L391.62,443.00 L391.84,443.00 L392.07,443.00 L392.29,443.00 L392.51,443.00 L392.74,443.00 L392.96,442.98 L393.18,442.79 L393.41,442.32 L393.63,441.79 L393.85,441.25 L394.07,440.74 L394.30,440.45 L394.52,440.83 L394.74,441.36 L394.97,441.89 L395.19,442.42 L395.41,442.88 L395.64,442.99 L395.86,443.00 L396.08,443.00 L396.30,443.00 L396.53,443.00 L396.75,443.00 L396.97,443.00 L397.20,443.00 L397.42,443.00 L397.64,443.00 L397.86,443.00 L398.09,443.00 L398.31,443.00 L398.53,443.00 L398.76,443.00 L398.98,443.00 L399.20,443.00 L399.43,443.00 L399.65,443.00 L399.87,442.98 L400.09,442.80 L400.32,442.29 L400.54,441.70 L400.76,441.11 L400.99,440.51 L401.21,439.92 L401.43,439.52 L401.66,439.91 L401.88,440.49 L402.10,441.09 L402.32,441.68 L402.55,442.27 L402.77,442.71 L402.99,442.50 L403.22,441.95 L403.44,441.36 L403.66,440.77 L403.89,440.18 L404.11,439.68 L404.33,439.64 L404.55,440.01 L404.78,440.45 L405.00,440.84 L405.22,440.89 L405.45,440.53 L405.67,440.09 L405.89,439.65 L406.11,439.20 L406.34,438.76 L406.56,438.31 L406.78,437.88 L407.01,437.50 L407.23,437.30 L407.45,437.13 L407.68,436.97 L407.90,436.80 L408.12,436.64 L408.34,436.47 L408.57,436.31 L408.79,436.14 L409.01,435.98 L409.24,435.82 L409.46,435.65 L409.68,435.49 L409.91,435.32 L410.13,435.16 L410.35,434.99 L410.57,434.83 L410.80,434.66 L411.02,434.50 L411.24,434.34 L411.47,434.17 L411.69,434.01 L411.91,433.84 L412.14,433.68 L412.36,433.51 L412.58,433.35 L412.80,433.18 L413.03,433.01 L413.25,432.73 L413.47,432.18 L413.70,431.56 L413.92,430.95 L414.14,430.34 L414.36,429.73 L414.59,429.11 L414.81,428.50 L415.03,427.89 L415.26,427.27 L415.48,426.66 L415.70,426.05 L415.93,425.44 L416.15,424.82 L416.37,424.21 L416.59,423.60 L416.82,422.99 L417.04,422.37 L417.26,421.76 L417.49,421.15 L417.71,420.51 L417.93,419.76 L418.16,418.87 L418.38,417.96 L418.60,417.04 L418.82,416.12 L419.05,415.29 L419.27,415.11 L419.49,416.27 L419.72,417.70 L419.94,418.41 L420.16,417.12 L420.39,415.34 L420.61,413.57 L420.83,411.79 L421.05,410.01 L421.28,408.24 L421.50,406.46 L421.72,404.69 L421.95,402.91 L422.17,401.13 L422.39,399.36 L422.61,397.58 L422.84,395.81 L423.06,394.12 L423.28,392.85 L423.51,391.90 L423.73,391.01 L423.95,390.12 L424.18,389.24 L424.40,387.99 L424.62,384.74 L424.84,379.46 L425.07,377.50 L425.29,381.63 L425.51,386.55 L425.74,390.36 L425.96,393.72 L426.18,395.01 L426.41,390.99 L426.63,386.06 L426.85,382.38 L427.07,380.13 L427.30,382.37 L427.52,385.79 L427.74,389.12 L427.97,391.97 L428.19,393.81 L428.41,392.09 L428.64,388.88 L428.86,386.11 L429.08,383.69 L429.30,381.88 L429.53,382.63 L429.75,385.26 L429.97,388.21 L430.20,391.13 L430.42,394.03 L430.64,396.91 L430.86,399.73 L431.09,402.16 L431.31,404.07 L431.53,405.86 L431.76,407.66 L431.98,409.45 L432.20,411.24 L432.43,413.04 L432.65,414.83 L432.87,416.63 L433.09,418.42 L433.32,420.09 L433.54,421.31 L433.76,422.42 L433.99,423.53 L434.21,424.64 L434.43,425.75 L434.66,426.86 L434.88,427.97 L435.10,429.08 L435.32,430.19 L435.55,431.24 L435.77,431.99 L435.99,432.54 L436.22,433.05 L436.44,433.57 L436.66,434.08 L436.89,434.60 L437.11,435.11 L437.33,435.63 L437.55,436.14 L437.78,436.66 L438.00,437.17 L438.22,437.69 L438.45,438.20 L438.67,438.72 L438.89,439.23 L439.11,439.66 L439.34,439.88 L439.56,440.05 L439.78,440.22 L440.01,440.40 L440.23,440.57 L440.45,440.74 L440.68,440.91 L440.90,441.08 L441.12,441.26 L441.34,441.43 L441.57,441.60 L441.79,441.77 L442.01,441.94 L442.24,442.12 L442.46,442.29 L442.68,442.45 L442.91,442.55 L443.13,442.59 L443.35,442.62 L443.57,442.64 L443.80,442.67 L444.02,442.70 L444.24,442.73 L444.47,442.76 L444.69,442.79 L444.91,442.82 L445.14,442.85 L445.36,442.88 L445.58,442.91 L445.80,442.94 L446.03,442.97 L446.25,443.00 L446.25,443.00 Z" fill="rgb(40,200,240)" fill-opacity="0.45"/>
<path d="M416.22,443.00 L416.22,443.00 L416.43,442.97 L416.65,442.94 L416.86,442.91 L417.08,442.89 L417.29,442.86 L417.50,442.83 L417.72,442.80 L417.93,442.77 L418.15,442.74 L418.36,442.72 L418.57,442.69 L418.79,442.66 L419.00,442.63 L419.22,442.60 L419.43,442.57 L419.64,442.55 L419.86,442.52 L420.07,442.49 L420.29,442.46 L420.50,442.43 L420.72,442.40 L420.93,442.37 L421.14,442.35 L421.36,442.32 L421.57,442.29 L421.79,442.26 L422.00,442.23 L422.21,442.20 L422.43,442.18 L422.64,442.15 L422.86,442.12 L423.07,442.09 L423.28,442.05 L423.50,442.00 L423.71,441.95 L423.93,441.90 L424.14,441.85 L424.35,441.80 L424.57,441.75 L424.78,441.70 L425.00,441.65 L425.21,441.60 L425.42,441.55 L425.64,441.50 L425.85,441.45 L426.07,441.40 L426.28,441.35 L426.49,441.30 L426.71,441.25 L426.92,441.20 L427.14,441.15 L427.35,441.10 L427.56,441.05 L427.78,441.00 L427.99,440.95 L428.21,440.91 L428.42,440.86 L428.64,440.71 L428.85,440.14 L429.06,439.34 L429.28,438.49 L429.49,437.65 L429.71,436.80 L429.92,435.96 L430.13,435.12 L430.35,434.27 L430.56,433.43 L430.78,432.58 L430.99,431.64 L431.20,430.28 L431.42,428.80 L431.63,427.31 L431.85,425.82 L432.06,424.32 L432.27,422.83 L432.49,421.34 L432.70,419.85 L432.92,418.36 L433.13,416.85 L433.34,415.14 L433.56,412.94 L433.77,410.62 L433.99,408.30 L434.20,405.98 L434.41,403.66 L434.63,401.34 L434.84,399.02 L435.06,396.70 L435.27,394.39 L435.48,392.06 L435.70,389.71 L435.91,387.31 L436.13,384.90 L436.34,382.49 L436.56,380.08 L436.77,377.68 L436.98,375.27 L437.20,372.86 L437.41,370.58 L437.63,368.84 L437.84,367.43 L438.05,366.06 L438.27,364.77 L438.48,363.87 L438.70,363.48 L438.91,363.23 L439.12,363.26 L439.34,363.95 L439.55,364.80 L439.77,365.66 L439.98,366.51 L440.19,367.17 L440.41,366.98 L440.62,366.36 L440.84,365.67 L441.05,364.99 L441.26,364.44 L441.48,364.61 L441.69,365.78 L441.91,367.17 L442.12,368.56 L442.33,369.95 L442.55,371.34 L442.76,372.73 L442.98,374.21 L443.19,376.12 L443.40,378.22 L443.62,380.35 L443.83,382.47 L444.05,384.59 L444.26,386.72 L444.48,388.84 L444.69,390.96 L444.90,393.08 L445.12,395.20 L445.33,397.18 L445.55,398.61 L445.76,399.92 L445.97,401.22 L446.19,402.53 L446.40,403.83 L446.62,405.14 L446.83,406.44 L447.04,407.75 L447.26,409.05 L447.47,410.36 L447.69,411.66 L447.90,412.97 L448.11,414.27 L448.33,415.50 L448.54,416.43 L448.76,417.29 L448.97,418.14 L449.18,418.99 L449.40,419.84 L449.61,420.70 L449.83,421.55 L450.04,422.40 L450.25,423.25 L450.47,424.11 L450.68,424.96 L450.90,425.81 L451.11,426.66 L451.32,427.52 L451.54,428.37 L451.75,429.16 L451.97,429.71 L452.18,430.15 L452.40,430.58 L452.61,431.01 L452.82,431.43 L453.04,431.86 L453.25,432.29 L453.47,432.71 L453.68,433.14 L453.89,433.56 L454.11,433.99 L454.32,434.42 L454.54,434.84 L454.75,435.27 L454.96,435.70 L455.18,436.12 L455.39,436.55 L455.61,436.97 L455.82,437.40 L456.03,437.83 L456.25,438.24 L456.46,438.57 L456.68,438.74 L456.89,438.86 L457.10,438.99 L457.32,439.11 L457.53,439.24 L457.75,439.36 L457.96,439.48 L458.17,439.61 L458.39,439.73 L458.60,439.86 L458.82,439.98 L459.03,440.11 L459.24,440.23 L459.46,440.36 L459.67,440.48 L459.89,440.61 L460.10,440.73 L460.32,440.85 L460.53,440.98 L460.74,441.10 L460.96,441.23 L461.17,441.35 L461.39,441.48 L461.60,441.60 L461.81,441.73 L462.03,441.85 L462.24,441.97 L462.46,442.07 L462.67,442.10 L462.88,442.13 L463.10,442.15 L463.31,442.17 L463.53,442.19 L463.74,442.21 L463.95,442.23 L464.17,442.25 L464.38,442.28 L464.60,442.30 L464.81,442.32 L465.02,442.34 L465.24,442.36 L465.45,442.38 L465.67,442.40 L465.88,442.42 L466.09,442.45 L466.31,442.47 L466.52,442.49 L466.74,442.51 L466.95,442.53 L467.16,442.55 L467.38,442.57 L467.59,442.60 L467.81,442.62 L468.02,442.64 L468.24,442.66 L468.45,442.68 L468.66,442.70 L468.88,442.72 L469.09,442.74 L469.31,442.77 L469.52,442.79 L469.73,442.81 L469.95,442.83 L470.16,442.85 L470.38,442.87 L470.59,442.89 L470.80,442.91 L471.02,442.94 L471.23,442.96 L471.45,442.98 L471.66,443.00 L471.66,443.00 Z" fill="rgb(120,230,60)" fill-opacity="0.45"/>
<path d="M432.39,443.00 L432.39,442.99 L432.72,442.93 L433.05,442.86 L433.38,442.79 L433.71,442.72 L434.04,442.65 L434.37,442.58 L434.70,442.52 L435.03,442.45 L435.36,442.38 L435.69,442.31 L436.02,442.24 L436.35,442.17 L436.68,442.01 L437.01,441.46 L437.34,440.67 L437.67,439.84 L438.00,439.02 L438.33,438.19 L438.66,437.36 L438.99,436.36 L439.32,434.60 L439.65,432.37 L439.98,430.07 L440.31,427.77 L440.64,425.47 L440.97,423.17 L441.30,420.68 L441.63,417.35 L441.96,413.50 L442.29,409.57 L442.62,405.64 L442.95,401.71 L443.28,397.78 L443.61,393.85 L443.94,389.93 L444.27,386.00 L444.60,382.07 L444.93,378.14 L445.26,374.21 L445.59,370.28 L445.92,366.60 L446.25,364.01 L446.58,362.11 L446.91,360.31 L447.24,358.51 L447.57,356.71 L447.90,354.90 L448.23,353.42 L448.56,353.34 L448.89,354.13 L449.22,355.05 L449.55,355.97 L449.88,356.89 L450.21,357.83 L450.54,358.93 L450.87,360.20 L451.20,361.51 L451.53,362.83 L451.86,364.14 L452.19,365.46 L452.52,366.70 L452.85,367.56 L453.18,367.93 L453.51,368.19 L453.84,368.49 L454.17,369.12 L454.50,370.43 L454.83,371.90 L455.16,373.37 L455.49,374.85 L455.82,376.32 L456.15,377.80 L456.48,379.32 L456.81,380.95 L457.14,382.60 L457.47,384.26 L457.80,385.91 L458.13,387.56 L458.46,389.21 L458.79,390.86 L459.12,392.52 L459.45,394.15 L459.78,395.65 L460.11,397.00 L460.44,398.31 L460.77,399.63 L461.10,400.94 L461.43,402.26 L461.76,403.57 L462.09,404.89 L462.42,406.20 L462.75,407.51 L463.08,408.78 L463.41,409.84 L463.74,410.83 L464.07,411.82 L464.40,412.80 L464.73,413.79 L465.06,414.78 L465.39,415.76 L465.72,416.75 L466.05,417.73 L466.38,418.72 L466.71,419.70 L467.04,420.69 L467.37,421.68 L467.70,422.59 L468.03,423.21 L468.36,423.73 L468.69,424.24 L469.02,424.75 L469.35,425.26 L469.68,425.77 L470.01,426.28 L470.34,426.79 L470.67,427.30 L471.00,427.81 L471.33,428.32 L471.66,428.83 L471.99,429.34 L472.32,429.85 L472.65,430.36 L472.98,430.87 L473.31,431.36 L473.64,431.75 L473.97,432.02 L474.30,432.25 L474.63,432.49 L474.96,432.72 L475.29,432.96 L475.62,433.20 L475.95,433.43 L476.28,433.67 L476.61,433.91 L476.94,434.14 L477.27,434.38 L477.60,434.62 L477.93,434.85 L478.26,435.09 L478.59,435.33 L478.92,435.56 L479.25,435.80 L479.58,436.04 L479.91,436.27 L480.24,436.51 L480.57,436.75 L480.90,436.98 L481.23,437.22 L481.56,437.44 L481.89,437.59 L482.22,437.71 L482.55,437.83 L482.88,437.95 L483.21,438.07 L483.54,438.20 L483.87,438.32 L484.20,438.44 L484.53,438.56 L484.86,438.68 L485.19,438.80 L485.52,438.92 L485.85,439.05 L486.18,439.17 L486.51,439.29 L486.84,439.41 L487.17,439.53 L487.50,439.65 L487.83,439.77 L488.16,439.89 L488.49,440.02 L488.82,440.14 L489.15,440.26 L489.48,440.38 L489.81,440.50 L490.14,440.62 L490.47,440.74 L490.80,440.81 L491.13,440.85 L491.46,440.89 L491.79,440.92 L492.12,440.96 L492.45,441.00 L492.78,441.03 L493.11,441.07 L493.44,441.11 L493.77,441.15 L494.10,441.18 L494.43,441.22 L494.76,441.26 L495.09,441.29 L495.42,441.33 L495.75,441.37 L496.08,441.40 L496.41,441.44 L496.74,441.48 L497.07,441.51 L497.40,441.55 L497.73,441.59 L498.06,441.62 L498.39,441.66 L498.72,441.70 L499.05,441.73 L499.38,441.77 L499.71,441.81 L500.04,441.84 L500.37,441.88 L500.70,441.92 L501.03,441.95 L501.36,441.99 L501.69,442.03 L502.02,442.06 L502.35,442.09 L502.68,442.10 L503.01,442.12 L503.34,442.13 L503.67,442.14 L504.00,442.16 L504.33,442.17 L504.66,442.18 L504.99,442.20 L505.32,442.21 L505.65,442.23 L505.98,442.24 L506.31,442.25 L506.64,442.27 L506.97,442.28 L507.30,442.29 L507.63,442.31 L507.96,442.32 L508.29,442.33 L508.62,442.35 L508.95,442.36 L509.28,442.38 L509.61,442.39 L509.94,442.40 L510.27,442.42 L510.60,442.43 L510.93,442.44 L511.26,442.46 L511.59,442.47 L511.92,442.49 L512.25,442.50 L512.58,442.51 L512.91,442.53 L513.24,442.54 L513.57,442.55 L513.90,442.57 L514.23,442.58 L514.56,442.59 L514.89,442.61 L515.22,442.62 L515.55,442.63 L515.88,442.65 L516.21,442.66 L516.54,442.67 L516.87,442.68 L517.20,442.70 L517.53,442.71 L517.86,442.72 L517.86,443.00 Z" fill="rgb(250,150,70)" fill-opacity="0.45"/>
<path d="M388.50,434.66 L388.72,403.06 L388.95,403.59 L389.17,413.85 L389.39,422.48 L389.61,430.52 L389.84,437.56 L390.06,440.50 L390.28,441.43 L390.51,442.09 L390.73,442.69 L390.95,442.96 L391.18,443.00 L391.40,443.00 L391.62,443.00 L391.84,443.00 L392.07,443.00 L392.29,443.00 L392.51,443.00 L392.74,443.00 L392.96,442.98 L393.18,442.79 L393.41,442.32 L393.63,441.79 L393.85,441.25 L394.07,440.74 L394.30,440.45 L394.52,440.83 L394.74,441.36 L394.97,441.89 L395.19,442.42 L395.41,442.88 L395.64,442.99 L395.86,443.00 L396.08,443.00 L396.30,443.00 L396.53,443.00 L396.75,443.00 L396.97,443.00 L397.20,443.00 L397.42,443.00 L397.64,443.00 L397.86,443.00 L398.09,443.00 L398.31,443.00 L398.53,443.00 L398.76,443.00 L398.98,443.00 L399.20,443.00 L399.43,443.00 L399.65,443.00 L399.87,442.98 L400.09,442.80 L400.32,442.29 L400.54,441.70 L400.76,441.11 L400.99,440.51 L401.21,439.92 L401.43,439.52 L401.66,439.91 L401.88,440.49 L402.10,441.09 L402.32,441.68 L402.55,442.27 L402.77,442.71 L402.99,442.50 L403.22,441.95 L403.44,441.36 L403.66,440.77 L403.89,440.18 L404.11,439.68 L404.33,439.64 L404.55,440.01 L404.78,440.45 L405.00,440.82 L405.22,440.74 L405.45,440.12 L405.67,439.38 L405.89,438.64 L406.11,437.90 L406.34,437.17 L406.56,436.58 L406.78,436.28 L407.01,436.05 L407.23,435.82 L407.45,435.59 L407.68,435.36 L407.90,435.13 L408.12,434.90 L408.34,434.67 L408.57,434.44 L408.79,434.21 L409.01,433.98 L409.24,433.75 L409.46,433.51 L409.68,433.28 L409.91,433.05 L410.13,432.82 L410.35,432.59 L410.57,432.36 L410.80,432.13 L411.02,431.90 L411.24,431.67 L411.47,431.44 L411.69,431.21 L411.91,430.97 L412.14,430.73 L412.36,430.38 L412.58,429.86 L412.80,429.31 L413.03,428.75 L413.25,428.20 L413.47,427.64 L413.70,427.09 L413.92,426.53 L414.14,425.98 L414.36,425.42 L414.59,424.87 L414.81,424.31 L415.03,423.76 L415.26,423.20 L415.48,422.65 L415.70,422.09 L415.93,421.54 L416.15,420.98 L416.37,420.43 L416.59,419.87 L416.82,419.29 L417.04,418.55 L417.26,417.68 L417.49,416.80 L417.71,415.91 L417.93,415.02 L418.16,414.13 L418.38,413.34 L418.60,413.13 L418.82,413.81 L419.05,414.58 L419.27,414.44 L419.49,412.44 L419.72,410.00 L419.94,407.57 L420.16,405.36 L420.39,403.86 L420.61,402.53 L420.83,401.19 L421.05,399.86 L421.28,398.53 L421.50,397.20 L421.72,395.87 L421.95,394.53 L422.17,393.20 L422.39,391.86 L422.61,390.50 L422.84,389.12 L423.06,387.74 L423.28,386.36 L423.51,384.98 L423.73,383.60 L423.95,382.21 L424.18,380.83 L424.40,379.65 L424.62,379.61 L424.84,381.06 L425.07,382.83 L425.29,384.55 L425.51,385.87 L425.74,386.40 L425.96,386.76 L426.18,387.11 L426.41,387.45 L426.63,387.46 L426.85,386.39 L427.07,385.06 L427.30,383.72 L427.52,382.81 L427.74,383.62 L427.97,385.00 L428.19,386.42 L428.41,387.84 L428.64,388.96 L428.86,388.75 L429.08,387.79 L429.30,386.72 L429.53,385.66 L429.75,384.99 L429.97,386.21 L430.20,389.09 L430.42,392.29 L430.64,395.49 L430.86,398.61 L431.09,401.29 L431.31,403.37 L431.53,405.32 L431.76,407.28 L431.98,409.23 L432.20,411.18 L432.43,413.14 L432.65,415.09 L432.87,417.04 L433.09,419.00 L433.32,420.79 L433.54,422.00 L433.76,423.07 L433.99,424.13 L434.21,425.20 L434.43,426.27 L434.66,427.33 L434.88,428.40 L435.10,429.46 L435.32,430.53 L435.55,431.53 L435.77,432.25 L435.99,432.78 L436.22,433.28 L436.44,433.78 L436.66,434.28 L436.89,434.77 L437.11,435.27 L437.33,435.77 L437.55,436.26 L437.78,436.76 L438.00,437.26 L438.22,437.76 L438.45,438.25 L438.67,438.75 L438.89,439.24 L439.11,439.67 L439.34,439.92 L439.56,440.13 L439.78,440.34 L440.01,440.55 L440.23,440.76 L440.45,440.97 L440.68,441.18 L440.90,441.39 L441.12,441.60 L441.34,441.81 L441.57,442.00 L441.79,442.10 L442.01,442.16 L442.24,442.20 L442.46,442.25 L442.68,442.29 L442.91,442.33 L443.13,442.38 L443.35,442.42 L443.57,442.47 L443.80,442.51 L444.02,442.56 L444.24,442.60 L444.47,442.64 L444.69,442.69 L444.91,442.73 L445.14,442.78 L445.36,442.82 L445.58,442.87 L445.80,442.91 L446.03,442.96 L446.25,442.99" fill="none" stroke="#f04448" stroke-width="1.0"/>
<path d="M388.50,437.67 L388.72,417.99 L388.95,420.94 L389.17,429.85 L389.39,434.47 L389.61,437.56 L389.84,440.19 L390.06,441.42 L390.28,441.95 L390.51,442.40 L390.73,442.79 L390.95,442.97 L391.18,443.00 L391.40,443.00 L391.62,443.00 L391.84,443.00 L392.07,443.00 L392.29,443.00 L392.51,443.00 L392.74,443.00 L392.96,442.98 L393.18,442.79 L393.41,442.32 L393.63,441.79 L393.85,441.25 L394.07,440.74 L394.30,440.45 L394.52,440.83 L394.74,441.36 L394.97,441.89 L395.19,442.42 L395.41,442.88 L395.64,442.99 L395.86,443.00 L396.08,443.00 L396.30,443.00 L396.53,443.00 L396.75,443.00 L396.97,443.00 L397.20,443.00 L397.42,443.00 L397.64,443.00 L397.86,443.00 L398.09,443.00 L398.31,443.00 L398.53,443.00 L398.76,443.00 L398.98,443.00 L399.20,443.00 L399.43,443.00 L399.65,443.00 L399.87,442.98 L400.09,442.80 L400.32,442.29 L400.54,441.70 L400.76,441.11 L400.99,440.51 L401.21,439.92 L401.43,439.52 L401.66,439.91 L401.88,440.49 L402.10,441.09 L402.32,441.68 L402.55,442.27 L402.77,442.71 L402.99,442.50 L403.22,441.95 L403.44,441.36 L403.66,440.77 L403.89,440.18 L404.11,439.68 L404.33,439.64 L404.55,440.01 L404.78,440.45 L405.00,440.84 L405.22,440.89 L405.45,440.53 L405.67,440.09 L405.89,439.65 L406.11,439.20 L406.34,438.76 L406.56,438.31 L406.78,437.88 L407.01,437.50 L407.23,437.30 L407.45,437.13 L407.68,436.97 L407.90,436.80 L408.12,436.64 L408.34,436.47 L408.57,436.31 L408.79,436.14 L409.01,435.98 L409.24,435.82 L409.46,435.65 L409.68,435.49 L409.91,435.32 L410.13,435.16 L410.35,434.99 L410.57,434.83 L410.80,434.66 L411.02,434.50 L411.24,434.34 L411.47,434.17 L411.69,434.01 L411.91,433.84 L412.14,433.68 L412.36,433.51 L412.58,433.35 L412.80,433.18 L413.03,433.01 L413.25,432.73 L413.47,432.18 L413.70,431.56 L413.92,430.95 L414.14,430.34 L414.36,429.73 L414.59,429.11 L414.81,428.50 L415.03,427.89 L415.26,427.27 L415.48,426.66 L415.70,426.05 L415.93,425.44 L416.15,424.82 L416.37,424.21 L416.59,423.60 L416.82,422.99 L417.04,422.37 L417.26,421.76 L417.49,421.15 L417.71,420.51 L417.93,419.76 L418.16,418.87 L418.38,417.96 L418.60,417.04 L418.82,416.12 L419.05,415.29 L419.27,415.11 L419.49,416.27 L419.72,417.70 L419.94,418.41 L420.16,417.12 L420.39,415.34 L420.61,413.57 L420.83,411.79 L421.05,410.01 L421.28,408.24 L421.50,406.46 L421.72,404.69 L421.95,402.91 L422.17,401.13 L422.39,399.36 L422.61,397.58 L422.84,395.81 L423.06,394.12 L423.28,392.85 L423.51,391.90 L423.73,391.01 L423.95,390.12 L424.18,389.24 L424.40,387.99 L424.62,384.74 L424.84,379.46 L425.07,377.50 L425.29,381.63 L425.51,386.55 L425.74,390.36 L425.96,393.72 L426.18,395.01 L426.41,390.99 L426.63,386.06 L426.85,382.38 L427.07,380.13 L427.30,382.37 L427.52,385.79 L427.74,389.12 L427.97,391.97 L428.19,393.81 L428.41,392.09 L428.64,388.88 L428.86,386.11 L429.08,383.69 L429.30,381.88 L429.53,382.63 L429.75,385.26 L429.97,388.21 L430.20,391.13 L430.42,394.03 L430.64,396.91 L430.86,399.73 L431.09,402.16 L431.31,404.07 L431.53,405.86 L431.76,407.66 L431.98,409.45 L432.20,411.24 L432.43,413.04 L432.65,414.83 L432.87,416.63 L433.09,418.42 L433.32,420.09 L433.54,421.31 L433.76,422.42 L433.99,423.53 L434.21,424.64 L434.43,425.75 L434.66,426.86 L434.88,427.97 L435.10,429.08 L435.32,430.19 L435.55,431.24 L435.77,431.99 L435.99,432.54 L436.22,433.05 L436.44,433.57 L436.66,434.08 L436.89,434.60 L437.11,435.11 L437.33,435.63 L437.55,436.14 L437.78,436.66 L438.00,437.17 L438.22,437.69 L438.45,438.20 L438.67,438.72 L438.89,439.23 L439.11,439.66 L439.34,439.88 L439.56,440.05 L439.78,440.22 L440.01,440.40 L440.23,440.57 L440.45,440.74 L440.68,440.91 L440.90,441.08 L441.12,441.26 L441.34,441.43 L441.57,441.60 L441.79,441.77 L442.01,441.94 L442.24,442.12 L442.46,442.29 L442.68,442.45 L442.91,442.55 L443.13,442.59 L443.35,442.62 L443.57,442.64 L443.80,442.67 L444.02,442.70 L444.24,442.73 L444.47,442.76 L444.69,442.79 L444.91,442.82 L445.14,442.85 L445.36,442.88 L445.58,442.91 L445.80,442.94 L446.03,442.97 L446.25,443.00" fill="none" stroke="#2cc0f0" stroke-width="1.0"/>
<path d="M416.22,443.00 L416.43,442.97 L416.65,442.94 L416.86,442.91 L417.08,442.89 L417.29,442.86 L417.50,442.83 L417.72,442.80 L417.93,442.77 L418.15,442.74 L418.36,442.72 L418.57,442.69 L418.79,442.66 L419.00,442.63 L419.22,442.60 L419.43,442.57 L419.64,442.55 L419.86,442.52 L420.07,442.49 L420.29,442.46 L420.50,442.43 L420.72,442.40 L420.93,442.37 L421.14,442.35 L421.36,442.32 L421.57,442.29 L421.79,442.26 L422.00,442.23 L422.21,442.20 L422.43,442.18 L422.64,442.15 L422.86,442.12 L423.07,442.09 L423.28,442.05 L423.50,442.00 L423.71,441.95 L423.93,441.90 L424.14,441.85 L424.35,441.80 L424.57,441.75 L424.78,441.70 L425.00,441.65 L425.21,441.60 L425.42,441.55 L425.64,441.50 L425.85,441.45 L426.07,441.40 L426.28,441.35 L426.49,441.30 L426.71,441.25 L426.92,441.20 L427.14,441.15 L427.35,441.10 L427.56,441.05 L427.78,441.00 L427.99,440.95 L428.21,440.91 L428.42,440.86 L428.64,440.71 L428.85,440.14 L429.06,439.34 L429.28,438.49 L429.49,437.65 L429.71,436.80 L429.92,435.96 L430.13,435.12 L430.35,434.27 L430.56,433.43 L430.78,432.58 L430.99,431.64 L431.20,430.28 L431.42,428.80 L431.63,427.31 L431.85,425.82 L432.06,424.32 L432.27,422.83 L432.49,421.34 L432.70,419.85 L432.92,418.36 L433.13,416.85 L433.34,415.14 L433.56,412.94 L433.77,410.62 L433.99,408.30 L434.20,405.98 L434.41,403.66 L434.63,401.34 L434.84,399.02 L435.06,396.70 L435.27,394.39 L435.48,392.06 L435.70,389.71 L435.91,387.31 L436.13,384.90 L436.34,382.49 L436.56,380.08 L436.77,377.68 L436.98,375.27 L437.20,372.86 L437.41,370.58 L437.63,368.84 L437.84,367.43 L438.05,366.06 L438.27,364.77 L438.48,363.87 L438.70,363.48 L438.91,363.23 L439.12,363.26 L439.34,363.95 L439.55,364.80 L439.77,365.66 L439.98,366.51 L440.19,367.17 L440.41,366.98 L440.62,366.36 L440.84,365.67 L441.05,364.99 L441.26,364.44 L441.48,364.61 L441.69,365.78 L441.91,367.17 L442.12,368.56 L442.33,369.95 L442.55,371.34 L442.76,372.73 L442.98,374.21 L443.19,376.12 L443.40,378.22 L443.62,380.35 L443.83,382.47 L444.05,384.59 L444.26,386.72 L444.48,388.84 L444.69,390.96 L444.90,393.08 L445.12,395.20 L445.33,397.18 L445.55,398.61 L445.76,399.92 L445.97,401.22 L446.19,402.53 L446.40,403.83 L446.62,405.14 L446.83,406.44 L447.04,407.75 L447.26,409.05 L447.47,410.36 L447.69,411.66 L447.90,412.97 L448.11,414.27 L448.33,415.50 L448.54,416.43 L448.76,417.29 L448.97,418.14 L449.18,418.99 L449.40,419.84 L449.61,420.70 L449.83,421.55 L450.04,422.40 L450.25,423.25 L450.47,424.11 L450.68,424.96 L450.90,425.81 L451.11,426.66 L451.32,427.52 L451.54,428.37 L451.75,429.16 L451.97,429.71 L452.18,430.15 L452.40,430.58 L452.61,431.01 L452.82,431.43 L453.04,431.86 L453.25,432.29 L453.47,432.71 L453.68,433.14 L453.89,433.56 L454.11,433.99 L454.32,434.42 L454.54,434.84 L454.75,435.27 L454.96,435.70 L455.18,436.12 L455.39,436.55 L455.61,436.97 L455.82,437.40 L456.03,437.83 L456.25,438.24 L456.46,438.57 L456.68,438.74 L456.89,438.86 L457.10,438.99 L457.32,439.11 L457.53,439.24 L457.75,439.36 L457.96,439.48 L458.17,439.61 L458.39,439.73 L458.60,439.86 L458.82,439.98 L459.03,440.11 L459.24,440.23 L459.46,440.36 L459.67,440.48 L459.89,440.61 L460.10,440.73 L460.32,440.85 L460.53,440.98 L460.74,441.10 L460.96,441.23 L461.17,441.35 L461.39,441.48 L461.60,441.60 L461.81,441.73 L462.03,441.85 L462.24,441.97 L462.46,442.07 L462.67,442.10 L462.88,442.13 L463.10,442.15 L463.31,442.17 L463.53,442.19 L463.74,442.21 L463.95,442.23 L464.17,442.25 L464.38,442.28 L464.60,442.30 L464.81,442.32 L465.02,442.34 L465.24,442.36 L465.45,442.38 L465.67,442.40 L465.88,442.42 L466.09,442.45 L466.31,442.47 L466.52,442.49 L466.74,442.51 L466.95,442.53 L467.16,442.55 L467.38,442.57 L467.59,442.60 L467.81,442.62 L468.02,442.64 L468.24,442.66 L468.45,442.68 L468.66,442.70 L468.88,442.72 L469.09,442.74 L469.31,442.77 L469.52,442.79 L469.73,442.81 L469.95,442.83 L470.16,442.85 L470.38,442.87 L470.59,442.89 L470.80,442.91 L471.02,442.94 L471.23,442.96 L471.45,442.98 L471.66,443.00" fill="none" stroke="#7ee030" stroke-width="1.0"/>
<path d="M432.39,442.99 L432.72,442.93 L433.05,442.86 L433.38,442.79 L433.71,442.72 L434.04,442.65 L434.37,442.58 L434.70,442.52 L435.03,442.45 L435.36,442.38 L435.69,442.31 L436.02,442.24 L436.35,442.17 L436.68,442.01 L437.01,441.46 L437.34,440.67 L437.67,439.84 L438.00,439.02 L438.33,438.19 L438.66,437.36 L438.99,436.36 L439.32,434.60 L439.65,432.37 L439.98,430.07 L440.31,427.77 L440.64,425.47 L440.97,423.17 L441.30,420.68 L441.63,417.35 L441.96,413.50 L442.29,409.57 L442.62,405.64 L442.95,401.71 L443.28,397.78 L443.61,393.85 L443.94,389.93 L444.27,386.00 L444.60,382.07 L444.93,378.14 L445.26,374.21 L445.59,370.28 L445.92,366.60 L446.25,364.01 L446.58,362.11 L446.91,360.31 L447.24,358.51 L447.57,356.71 L447.90,354.90 L448.23,353.42 L448.56,353.34 L448.89,354.13 L449.22,355.05 L449.55,355.97 L449.88,356.89 L450.21,357.83 L450.54,358.93 L450.87,360.20 L451.20,361.51 L451.53,362.83 L451.86,364.14 L452.19,365.46 L452.52,366.70 L452.85,367.56 L453.18,367.93 L453.51,368.19 L453.84,368.49 L454.17,369.12 L454.50,370.43 L454.83,371.90 L455.16,373.37 L455.49,374.85 L455.82,376.32 L456.15,377.80 L456.48,379.32 L456.81,380.95 L457.14,382.60 L457.47,384.26 L457.80,385.91 L458.13,387.56 L458.46,389.21 L458.79,390.86 L459.12,392.52 L459.45,394.15 L459.78,395.65 L460.11,397.00 L460.44,398.31 L460.77,399.63 L461.10,400.94 L461.43,402.26 L461.76,403.57 L462.09,404.89 L462.42,406.20 L462.75,407.51 L463.08,408.78 L463.41,409.84 L463.74,410.83 L464.07,411.82 L464.40,412.80 L464.73,413.79 L465.06,414.78 L465.39,415.76 L465.72,416.75 L466.05,417.73 L466.38,418.72 L466.71,419.70 L467.04,420.69 L467.37,421.68 L467.70,422.59 L468.03,423.21 L468.36,423.73 L468.69,424.24 L469.02,424.75 L469.35,425.26 L469.68,425.77 L470.01,426.28 L470.34,426.79 L470.67,427.30 L471.00,427.81 L471.33,428.32 L471.66,428.83 L471.99,429.34 L472.32,429.85 L472.65,430.36 L472.98,430.87 L473.31,431.36 L473.64,431.75 L473.97,432.02 L474.30,432.25 L474.63,432.49 L474.96,432.72 L475.29,432.96 L475.62,433.20 L475.95,433.43 L476.28,433.67 L476.61,433.91 L476.94,434.14 L477.27,434.38 L477.60,434.62 L477.93,434.85 L478.26,435.09 L478.59,435.33 L478.92,435.56 L479.25,435.80 L479.58,436.04 L479.91,436.27 L480.24,436.51 L480.57,436.75 L480.90,436.98 L481.23,437.22 L481.56,437.44 L481.89,437.59 L482.22,437.71 L482.55,437.83 L482.88,437.95 L483.21,438.07 L483.54,438.20 L483.87,438.32 L484.20,438.44 L484.53,438.56 L484.86,438.68 L485.19,438.80 L485.52,438.92 L485.85,439.05 L486.18,439.17 L486.51,439.29 L486.84,439.41 L487.17,439.53 L487.50,439.65 L487.83,439.77 L488.16,439.89 L488.49,440.02 L488.82,440.14 L489.15,440.26 L489.48,440.38 L489.81,440.50 L490.14,440.62 L490.47,440.74 L490.80,440.81 L491.13,440.85 L491.46,440.89 L491.79,440.92 L492.12,440.96 L492.45,441.00 L492.78,441.03 L493.11,441.07 L493.44,441.11 L493.77,441.15 L494.10,441.18 L494.43,441.22 L494.76,441.26 L495.09,441.29 L495.42,441.33 L495.75,441.37 L496.08,441.40 L496.41,441.44 L496.74,441.48 L497.07,441.51 L497.40,441.55 L497.73,441.59 L498.06,441.62 L498.39,441.66 L498.72,441.70 L499.05,441.73 L499.38,441.77 L499.71,441.81 L500.04,441.84 L500.37,441.88 L500.70,441.92 L501.03,441.95 L501.36,441.99 L501.69,442.03 L502.02,442.06 L502.35,442.09 L502.68,442.10 L503.01,442.12 L503.34,442.13 L503.67,442.14 L504.00,442.16 L504.33,442.17 L504.66,442.18 L504.99,442.20 L505.32,442.21 L505.65,442.23 L505.98,442.24 L506.31,442.25 L506.64,442.27 L506.97,442.28 L507.30,442.29 L507.63,442.31 L507.96,442.32 L508.29,442.33 L508.62,442.35 L508.95,442.36 L509.28,442.38 L509.61,442.39 L509.94,442.40 L510.27,442.42 L510.60,442.43 L510.93,442.44 L511.26,442.46 L511.59,442.47 L511.92,442.49 L512.25,442.50 L512.58,442.51 L512.91,442.53 L513.24,442.54 L513.57,442.55 L513.90,442.57 L514.23,442.58 L514.56,442.59 L514.89,442.61 L515.22,442.62 L515.55,442.63 L515.88,442.65 L516.21,442.66 L516.54,442.67 L516.87,442.68 L517.20,442.70 L517.53,442.71 L517.86,442.72" fill="none" stroke="#f07c20" stroke-width="1.0"/>
</g>
<line x1="385.10" y1="443.00" x2="387.60" y2="443.00" stroke="#333" stroke-width="0.9"/>
<text x="385.20" y="446.10" font-size="8.6" text-anchor="end" fill="#1e1e1e">0</text>
<line x1="385.10" y1="424.60" x2="387.60" y2="424.60" stroke="#333" stroke-width="0.9"/>
<text x="385.20" y="427.70" font-size="8.6" text-anchor="end" fill="#1e1e1e">20</text>
<line x1="385.10" y1="406.20" x2="387.60" y2="406.20" stroke="#333" stroke-width="0.9"/>
<text x="385.20" y="409.30" font-size="8.6" text-anchor="end" fill="#1e1e1e">40</text>
<line x1="385.10" y1="387.80" x2="387.60" y2="387.80" stroke="#333" stroke-width="0.9"/>
<text x="385.20" y="390.90" font-size="8.6" text-anchor="end" fill="#1e1e1e">60</text>
<line x1="385.10" y1="369.40" x2="387.60" y2="369.40" stroke="#333" stroke-width="0.9"/>
<text x="385.20" y="372.50" font-size="8.6" text-anchor="end" fill="#1e1e1e">80</text>
<line x1="385.10" y1="351.00" x2="387.60" y2="351.00" stroke="#333" stroke-width="0.9"/>
<text x="385.20" y="354.10" font-size="8.6" text-anchor="end" fill="#1e1e1e">100</text>
<line x1="388.50" y1="443.00" x2="388.50" y2="445.50" stroke="#333" stroke-width="0.9"/>
<text x="386.20" y="453.00" font-size="8.4" fill="#1e1e1e">10<tspan font-size="5.6" dy="-3.4">0</tspan></text>
<line x1="411.60" y1="443.00" x2="411.60" y2="445.50" stroke="#333" stroke-width="0.9"/>
<text x="406.80" y="453.00" font-size="8.4" fill="#1e1e1e">10<tspan font-size="5.6" dy="-3.4">1</tspan></text>
<line x1="434.70" y1="443.00" x2="434.70" y2="445.50" stroke="#333" stroke-width="0.9"/>
<text x="428.60" y="453.00" font-size="8.4" fill="#1e1e1e">10<tspan font-size="5.6" dy="-3.4">2</tspan></text>
<line x1="457.80" y1="443.00" x2="457.80" y2="445.50" stroke="#333" stroke-width="0.9"/>
<text x="450.30" y="453.00" font-size="8.4" fill="#1e1e1e">10<tspan font-size="5.6" dy="-3.4">3</tspan></text>
<line x1="480.90" y1="443.00" x2="480.90" y2="445.50" stroke="#333" stroke-width="0.9"/>
<text x="475.50" y="453.00" font-size="8.4" fill="#1e1e1e">10<tspan font-size="5.6" dy="-3.4">4</tspan></text>
<line x1="504.00" y1="443.00" x2="504.00" y2="445.50" stroke="#333" stroke-width="0.9"/>
<text x="497.30" y="453.00" font-size="8.4" fill="#1e1e1e">10<tspan font-size="5.6" dy="-3.4">5</tspan></text>
<text x="445.40" y="465.00" font-size="8.0" text-anchor="middle" fill="#1e1e1e">Liperfluo</text>
<text x="371.20" y="396.00" font-size="8.5" text-anchor="middle" fill="#1e1e1e" transform="rotate(-90 371.20 396.00)">Normalized To Mode</text>
<text x="382.40" y="304.60" font-size="11.2" text-anchor="start" fill="#1e1e1e" style="stroke-width:0.5px">22Rv1</text>
<rect x="448.30" y="295.80" width="7.00" height="7.00" fill="#f68e96" stroke="#e63a48" stroke-width="1.0"/>
<text x="460.50" y="302.70" font-size="8.4" text-anchor="start" fill="#1e1e1e">Vector+PBS</text>
<rect x="448.30" y="308.10" width="7.00" height="7.00" fill="#8eeefa" stroke="#33d2ee" stroke-width="1.0"/>
<text x="460.50" y="315.00" font-size="8.4" text-anchor="start" fill="#1e1e1e">Vector+Spermidine</text>
<rect x="448.30" y="320.70" width="7.00" height="7.00" fill="#b0f090" stroke="#70dc48" stroke-width="1.0"/>
<text x="460.50" y="327.60" font-size="8.4" text-anchor="start" fill="#1e1e1e">AOC1+PBS</text>
<rect x="448.30" y="333.30" width="7.00" height="7.00" fill="#fcca9e" stroke="#f29c58" stroke-width="1.0"/>
<text x="460.50" y="340.20" font-size="8.4" text-anchor="start" fill="#1e1e1e">AOC1+Spermidine</text>
<clipPath id="fl554"><rect x="387.40" y="554.00" width="125.20" height="97.50"/></clipPath>
<rect x="387.40" y="554.00" width="125.20" height="97.00" fill="#ffffff" stroke="#9a9a9a" stroke-width="1.0"/>
<g clip-path="url(#fl554)">
<path d="M388.20,651.00 L388.20,650.36 L388.45,648.04 L388.69,648.58 L388.94,649.93 L389.18,650.83 L389.43,650.98 L389.67,650.96 L389.92,650.94 L390.16,650.92 L390.41,650.90 L390.65,650.88 L390.90,650.86 L391.14,650.84 L391.39,650.82 L391.64,650.80 L391.88,650.78 L392.13,650.76 L392.37,650.75 L392.62,650.73 L392.86,650.71 L393.11,650.69 L393.35,650.67 L393.60,650.65 L393.84,650.63 L394.09,650.61 L394.34,650.59 L394.58,650.57 L394.83,650.55 L395.07,650.54 L395.32,650.53 L395.56,650.53 L395.81,650.52 L396.05,650.51 L396.30,650.51 L396.54,650.50 L396.79,650.49 L397.03,650.49 L397.28,650.48 L397.53,650.47 L397.77,650.47 L398.02,650.46 L398.26,650.46 L398.51,650.45 L398.75,650.44 L399.00,650.44 L399.24,650.43 L399.49,650.42 L399.73,650.42 L399.98,650.41 L400.22,650.41 L400.47,650.40 L400.72,650.39 L400.96,650.39 L401.21,650.38 L401.45,650.37 L401.70,650.37 L401.94,650.36 L402.19,650.35 L402.43,650.35 L402.68,650.34 L402.92,650.34 L403.17,650.33 L403.42,650.32 L403.66,650.32 L403.91,650.31 L404.15,650.30 L404.40,650.30 L404.64,650.29 L404.89,650.28 L405.13,650.28 L405.38,650.27 L405.62,650.26 L405.87,650.21 L406.11,650.16 L406.36,650.10 L406.61,650.04 L406.85,649.97 L407.10,649.91 L407.34,649.85 L407.59,649.79 L407.83,649.73 L408.08,649.67 L408.32,649.61 L408.57,649.55 L408.81,649.49 L409.06,649.43 L409.30,649.37 L409.55,649.31 L409.80,649.25 L410.04,649.19 L410.29,649.13 L410.53,649.06 L410.78,649.00 L411.02,648.94 L411.27,648.88 L411.51,648.82 L411.76,648.76 L412.00,648.70 L412.25,648.64 L412.50,648.58 L412.74,648.52 L412.99,648.46 L413.23,648.40 L413.48,648.34 L413.72,648.28 L413.97,648.22 L414.21,648.16 L414.46,648.09 L414.70,648.03 L414.95,647.96 L415.19,647.80 L415.44,647.62 L415.69,647.44 L415.93,647.26 L416.18,647.07 L416.42,646.89 L416.67,646.70 L416.91,646.52 L417.16,646.34 L417.40,646.15 L417.65,645.97 L417.89,645.78 L418.14,645.60 L418.38,645.42 L418.63,645.23 L418.88,645.05 L419.12,644.86 L419.37,644.64 L419.61,644.20 L419.86,643.44 L420.10,642.61 L420.35,641.78 L420.59,640.95 L420.84,640.13 L421.08,639.30 L421.33,638.47 L421.58,637.64 L421.82,636.81 L422.07,635.91 L422.31,634.53 L422.56,632.25 L422.80,629.77 L423.05,627.28 L423.29,624.79 L423.54,622.83 L423.78,623.18 L424.03,624.34 L424.27,623.23 L424.52,621.10 L424.77,618.84 L425.01,616.37 L425.26,613.39 L425.50,610.28 L425.75,607.22 L425.99,604.40 L426.24,601.85 L426.48,599.37 L426.73,596.88 L426.97,594.51 L427.22,592.62 L427.46,590.93 L427.71,589.28 L427.96,587.62 L428.20,586.02 L428.45,584.82 L428.69,584.31 L428.94,583.95 L429.18,583.60 L429.43,583.24 L429.67,582.89 L429.92,582.75 L430.16,583.55 L430.41,584.79 L430.66,586.08 L430.90,587.38 L431.15,588.78 L431.39,590.39 L431.64,592.05 L431.88,593.70 L432.13,595.36 L432.37,597.05 L432.62,598.90 L432.86,600.87 L433.11,602.86 L433.35,604.85 L433.60,606.84 L433.85,608.89 L434.09,611.09 L434.34,613.32 L434.58,615.56 L434.83,617.80 L435.07,620.04 L435.32,622.27 L435.56,624.46 L435.81,626.39 L436.05,628.16 L436.30,629.90 L436.54,631.64 L436.79,633.38 L437.04,635.12 L437.28,636.82 L437.53,638.26 L437.77,639.26 L438.02,640.16 L438.26,641.05 L438.51,641.95 L438.75,642.84 L439.00,643.74 L439.24,644.63 L439.49,645.52 L439.74,646.31 L439.98,646.70 L440.23,646.99 L440.47,647.28 L440.72,647.57 L440.96,647.86 L441.21,648.15 L441.45,648.44 L441.70,648.73 L441.94,649.02 L442.19,649.31 L442.43,649.56 L442.68,649.66 L442.93,649.72 L443.17,649.77 L443.42,649.82 L443.66,649.86 L443.91,649.91 L444.15,649.96 L444.40,650.01 L444.64,650.06 L444.89,650.11 L445.13,650.16 L445.38,650.21 L445.62,650.26 L445.87,650.31 L446.12,650.36 L446.36,650.41 L446.61,650.46 L446.85,650.51 L447.10,650.55 L447.34,650.57 L447.59,650.60 L447.83,650.62 L448.08,650.64 L448.32,650.67 L448.57,650.69 L448.82,650.72 L449.06,650.74 L449.31,650.76 L449.55,650.79 L449.80,650.81 L450.04,650.83 L450.29,650.86 L450.53,650.88 L450.78,650.91 L451.02,650.93 L451.27,650.95 L451.51,650.98 L451.76,651.00 L451.76,651.00 Z" fill="rgb(240,60,70)" fill-opacity="0.45"/>
<path d="M388.20,651.00 L388.20,649.74 L388.45,645.18 L388.71,646.37 L388.96,649.11 L389.22,650.72 L389.47,650.99 L389.73,650.98 L389.98,650.98 L390.23,650.97 L390.49,650.96 L390.74,650.96 L391.00,650.95 L391.25,650.94 L391.50,650.94 L391.76,650.93 L392.01,650.92 L392.27,650.92 L392.52,650.91 L392.78,650.90 L393.03,650.90 L393.28,650.89 L393.54,650.88 L393.79,650.88 L394.05,650.87 L394.30,650.86 L394.55,650.85 L394.81,650.85 L395.06,650.84 L395.32,650.83 L395.57,650.83 L395.83,650.82 L396.08,650.81 L396.33,650.81 L396.59,650.80 L396.84,650.79 L397.10,650.79 L397.35,650.78 L397.60,650.77 L397.86,650.77 L398.11,650.76 L398.37,650.75 L398.62,650.75 L398.88,650.74 L399.13,650.73 L399.38,650.73 L399.64,650.72 L399.89,650.71 L400.15,650.71 L400.40,650.70 L400.65,650.69 L400.91,650.69 L401.16,650.68 L401.42,650.67 L401.67,650.67 L401.93,650.66 L402.18,650.65 L402.43,650.64 L402.69,650.64 L402.94,650.63 L403.20,650.62 L403.45,650.62 L403.70,650.61 L403.96,650.60 L404.21,650.60 L404.47,650.59 L404.72,650.58 L404.98,650.58 L405.23,650.57 L405.48,650.56 L405.74,650.56 L405.99,650.55 L406.25,650.54 L406.50,650.51 L406.75,650.46 L407.01,650.41 L407.26,650.36 L407.52,650.31 L407.77,650.25 L408.03,650.20 L408.28,650.15 L408.53,650.10 L408.79,650.05 L409.04,650.00 L409.30,649.95 L409.55,649.89 L409.80,649.84 L410.06,649.79 L410.31,649.74 L410.57,649.69 L410.82,649.64 L411.08,649.58 L411.33,649.53 L411.58,649.48 L411.84,649.43 L412.09,649.38 L412.35,649.33 L412.60,649.28 L412.85,649.22 L413.11,649.17 L413.36,649.12 L413.62,649.07 L413.87,649.02 L414.13,648.97 L414.38,648.91 L414.63,648.86 L414.89,648.81 L415.14,648.76 L415.40,648.69 L415.65,648.56 L415.90,648.40 L416.16,648.23 L416.41,648.07 L416.67,647.90 L416.92,647.74 L417.18,647.57 L417.43,647.40 L417.68,647.24 L417.94,647.07 L418.19,646.91 L418.45,646.74 L418.70,646.58 L418.95,646.41 L419.21,646.25 L419.46,646.08 L419.72,645.91 L419.97,645.75 L420.23,645.58 L420.48,645.42 L420.73,645.25 L420.99,645.09 L421.24,644.92 L421.50,644.76 L421.75,644.45 L422.00,643.54 L422.26,642.37 L422.51,641.17 L422.77,639.97 L423.02,638.77 L423.28,637.56 L423.53,636.36 L423.78,635.16 L424.04,633.96 L424.29,632.76 L424.55,631.56 L424.80,630.35 L425.05,629.10 L425.31,627.57 L425.56,625.71 L425.82,623.78 L426.07,621.85 L426.33,619.91 L426.58,617.98 L426.83,616.05 L427.09,614.12 L427.34,612.19 L427.60,610.26 L427.85,608.33 L428.10,606.39 L428.36,604.46 L428.61,602.52 L428.87,600.49 L429.12,598.23 L429.38,595.91 L429.63,593.60 L429.88,591.28 L430.14,588.96 L430.39,586.64 L430.65,584.32 L430.90,581.99 L431.15,579.54 L431.41,576.85 L431.66,574.11 L431.92,571.36 L432.17,568.61 L432.43,566.40 L432.68,566.41 L432.93,567.34 L433.19,568.37 L433.44,569.40 L433.70,570.61 L433.95,572.71 L434.20,575.74 L434.46,578.96 L434.71,582.18 L434.97,585.40 L435.22,588.62 L435.48,591.84 L435.73,595.06 L435.98,598.28 L436.24,601.50 L436.49,604.72 L436.75,607.94 L437.00,611.15 L437.25,614.34 L437.51,617.21 L437.76,619.43 L438.02,621.49 L438.27,623.55 L438.53,625.61 L438.78,627.67 L439.03,629.73 L439.29,631.79 L439.54,633.79 L439.80,635.44 L440.05,636.45 L440.30,637.30 L440.56,638.16 L440.81,639.02 L441.07,639.88 L441.32,640.74 L441.58,641.60 L441.83,642.46 L442.08,643.31 L442.34,644.12 L442.59,644.66 L442.85,644.96 L443.10,645.22 L443.35,645.47 L443.61,645.73 L443.86,645.99 L444.12,646.25 L444.37,646.50 L444.63,646.76 L444.88,647.02 L445.13,647.28 L445.39,647.53 L445.64,647.79 L445.90,648.05 L446.15,648.31 L446.40,648.56 L446.66,648.82 L446.91,649.06 L447.17,649.20 L447.42,649.27 L447.68,649.34 L447.93,649.40 L448.18,649.47 L448.44,649.54 L448.69,649.60 L448.95,649.67 L449.20,649.74 L449.45,649.80 L449.71,649.87 L449.96,649.94 L450.22,650.00 L450.47,650.07 L450.73,650.14 L450.98,650.20 L451.23,650.27 L451.49,650.34 L451.74,650.40 L452.00,650.47 L452.25,650.53 L452.50,650.60 L452.76,650.67 L453.01,650.73 L453.27,650.80 L453.52,650.87 L453.78,650.93 L454.03,650.99 L454.03,651.00 Z" fill="rgb(40,200,240)" fill-opacity="0.45"/>
<path d="M422.25,651.00 L422.25,650.98 L422.49,650.90 L422.72,650.81 L422.96,650.71 L423.20,650.62 L423.43,650.52 L423.67,650.42 L423.91,650.33 L424.14,650.23 L424.38,650.14 L424.62,650.04 L424.85,649.95 L425.09,649.85 L425.33,649.75 L425.56,649.66 L425.80,649.56 L426.04,649.47 L426.27,649.37 L426.51,649.27 L426.75,649.12 L426.98,648.71 L427.22,648.19 L427.46,647.66 L427.69,647.13 L427.93,646.59 L428.17,646.06 L428.40,645.53 L428.64,644.95 L428.88,643.94 L429.11,641.99 L429.35,639.81 L429.59,637.63 L429.82,635.46 L430.06,633.28 L430.30,631.10 L430.53,628.93 L430.77,626.75 L431.01,624.40 L431.24,621.28 L431.48,617.52 L431.72,613.65 L431.95,609.78 L432.19,605.91 L432.43,602.03 L432.66,598.16 L432.90,594.30 L433.14,590.45 L433.37,586.61 L433.61,582.78 L433.85,578.98 L434.08,575.56 L434.32,573.20 L434.56,571.09 L434.79,568.98 L435.03,567.07 L435.27,566.36 L435.50,567.52 L435.74,569.09 L435.98,570.67 L436.21,572.37 L436.45,574.75 L436.69,577.75 L436.92,580.87 L437.16,584.00 L437.40,587.12 L437.63,590.25 L437.87,593.35 L438.10,596.39 L438.34,599.39 L438.58,602.39 L438.81,605.38 L439.05,608.38 L439.29,611.38 L439.52,614.34 L439.76,617.00 L440.00,618.86 L440.23,620.53 L440.47,622.20 L440.71,623.86 L440.94,625.53 L441.18,627.20 L441.42,628.87 L441.65,630.54 L441.89,632.10 L442.13,633.17 L442.36,633.79 L442.60,634.32 L442.84,634.86 L443.07,635.39 L443.31,635.92 L443.55,636.46 L443.78,636.99 L444.02,637.52 L444.26,638.05 L444.49,638.59 L444.73,639.12 L444.97,639.65 L445.20,640.18 L445.44,640.72 L445.68,641.25 L445.91,641.77 L446.15,642.16 L446.39,642.35 L446.62,642.50 L446.86,642.65 L447.10,642.79 L447.33,642.94 L447.57,643.08 L447.81,643.23 L448.04,643.37 L448.28,643.52 L448.52,643.67 L448.75,643.81 L448.99,643.96 L449.23,644.10 L449.46,644.25 L449.70,644.40 L449.94,644.54 L450.17,644.69 L450.41,644.83 L450.65,644.98 L450.88,645.12 L451.12,645.27 L451.36,645.42 L451.59,645.56 L451.83,645.68 L452.07,645.76 L452.30,645.83 L452.54,645.90 L452.78,645.98 L453.01,646.05 L453.25,646.12 L453.49,646.20 L453.72,646.27 L453.96,646.34 L454.20,646.41 L454.43,646.49 L454.67,646.56 L454.91,646.63 L455.14,646.71 L455.38,646.78 L455.62,646.85 L455.85,646.92 L456.09,647.00 L456.33,647.07 L456.56,647.14 L456.80,647.22 L457.04,647.29 L457.27,647.36 L457.51,647.43 L457.75,647.51 L457.98,647.58 L458.22,647.65 L458.46,647.73 L458.69,647.80 L458.93,647.87 L459.17,647.95 L459.40,648.02 L459.64,648.09 L459.88,648.16 L460.11,648.24 L460.35,648.31 L460.59,648.38 L460.82,648.46 L461.06,648.53 L461.30,648.60 L461.53,648.67 L461.77,648.75 L462.01,648.82 L462.24,648.89 L462.48,648.97 L462.72,649.04 L462.95,649.11 L463.19,649.16 L463.43,649.19 L463.66,649.21 L463.90,649.24 L464.14,649.26 L464.37,649.28 L464.61,649.30 L464.85,649.33 L465.08,649.35 L465.32,649.37 L465.56,649.39 L465.79,649.42 L466.03,649.44 L466.27,649.46 L466.50,649.48 L466.74,649.51 L466.98,649.53 L467.21,649.55 L467.45,649.57 L467.69,649.60 L467.92,649.62 L468.16,649.64 L468.39,649.66 L468.63,649.69 L468.87,649.71 L469.10,649.73 L469.34,649.75 L469.58,649.78 L469.81,649.80 L470.05,649.82 L470.29,649.84 L470.52,649.87 L470.76,649.89 L471.00,649.91 L471.23,649.93 L471.47,649.96 L471.71,649.98 L471.94,650.00 L472.18,650.03 L472.42,650.05 L472.65,650.07 L472.89,650.09 L473.13,650.12 L473.36,650.14 L473.60,650.16 L473.84,650.18 L474.07,650.21 L474.31,650.23 L474.55,650.25 L474.78,650.27 L475.02,650.29 L475.26,650.31 L475.49,650.33 L475.73,650.35 L475.97,650.37 L476.20,650.39 L476.44,650.41 L476.68,650.43 L476.91,650.45 L477.15,650.47 L477.39,650.49 L477.62,650.51 L477.86,650.53 L478.10,650.55 L478.33,650.57 L478.57,650.59 L478.81,650.61 L479.04,650.63 L479.28,650.65 L479.52,650.67 L479.75,650.69 L479.99,650.70 L480.23,650.72 L480.46,650.74 L480.70,650.76 L480.94,650.78 L481.17,650.80 L481.41,650.82 L481.65,650.84 L481.88,650.86 L482.12,650.88 L482.36,650.90 L482.59,650.92 L482.83,650.94 L483.07,650.96 L483.30,650.98 L483.54,651.00 L483.54,651.00 Z" fill="rgb(120,230,60)" fill-opacity="0.45"/>
<path d="M426.79,651.00 L426.79,650.98 L427.04,650.90 L427.28,650.80 L427.53,650.70 L427.77,650.60 L428.02,650.50 L428.26,650.40 L428.51,650.30 L428.75,650.20 L429.00,650.10 L429.24,650.01 L429.49,649.91 L429.73,649.81 L429.98,649.71 L430.23,649.61 L430.47,649.51 L430.72,649.41 L430.96,649.31 L431.21,649.17 L431.45,648.85 L431.70,648.33 L431.94,647.78 L432.19,647.23 L432.43,646.67 L432.68,646.12 L432.93,645.57 L433.17,644.94 L433.42,643.70 L433.66,641.05 L433.91,638.07 L434.15,635.09 L434.40,632.10 L434.64,629.12 L434.89,626.14 L435.13,623.15 L435.38,620.17 L435.62,617.16 L435.87,614.08 L436.12,610.98 L436.36,607.87 L436.61,604.76 L436.85,601.65 L437.10,598.54 L437.34,595.40 L437.59,592.06 L437.83,588.54 L438.08,584.99 L438.32,581.44 L438.57,577.89 L438.81,574.35 L439.06,571.11 L439.31,568.87 L439.55,566.88 L439.80,564.89 L440.04,563.15 L440.29,562.73 L440.53,563.89 L440.78,565.38 L441.02,566.87 L441.27,568.25 L441.51,569.17 L441.76,569.86 L442.01,570.53 L442.25,571.20 L442.50,571.87 L442.74,572.65 L442.99,574.15 L443.23,576.74 L443.48,579.57 L443.72,582.41 L443.97,585.24 L444.21,588.08 L444.46,590.91 L444.70,593.69 L444.95,596.26 L445.20,598.75 L445.44,601.23 L445.69,603.72 L445.93,606.21 L446.18,608.69 L446.42,611.18 L446.67,613.67 L446.91,616.03 L447.16,617.88 L447.40,619.38 L447.65,620.82 L447.89,622.26 L448.14,623.70 L448.39,625.14 L448.63,626.59 L448.88,628.03 L449.12,629.47 L449.37,630.91 L449.61,632.27 L449.86,633.20 L450.10,633.79 L450.35,634.32 L450.59,634.84 L450.84,635.36 L451.09,635.89 L451.33,636.41 L451.58,636.93 L451.82,637.46 L452.07,637.98 L452.31,638.50 L452.56,639.03 L452.80,639.55 L453.05,640.07 L453.29,640.60 L453.54,641.12 L453.78,641.64 L454.03,642.11 L454.28,642.33 L454.52,642.50 L454.77,642.67 L455.01,642.83 L455.26,643.00 L455.50,643.16 L455.75,643.33 L455.99,643.49 L456.24,643.66 L456.48,643.83 L456.73,643.99 L456.97,644.16 L457.22,644.32 L457.47,644.49 L457.71,644.65 L457.96,644.82 L458.20,644.99 L458.45,645.15 L458.69,645.32 L458.94,645.48 L459.18,645.65 L459.43,645.81 L459.67,645.98 L459.92,646.15 L460.17,646.31 L460.41,646.48 L460.66,646.64 L460.90,646.77 L461.15,646.85 L461.39,646.91 L461.64,646.98 L461.88,647.04 L462.13,647.11 L462.37,647.17 L462.62,647.24 L462.86,647.30 L463.11,647.37 L463.36,647.43 L463.60,647.50 L463.85,647.56 L464.09,647.62 L464.34,647.69 L464.58,647.75 L464.83,647.82 L465.07,647.88 L465.32,647.95 L465.56,648.01 L465.81,648.08 L466.05,648.14 L466.30,648.21 L466.55,648.27 L466.79,648.34 L467.04,648.40 L467.28,648.47 L467.53,648.53 L467.77,648.59 L468.02,648.66 L468.26,648.72 L468.51,648.79 L468.75,648.85 L469.00,648.92 L469.25,648.98 L469.49,649.05 L469.74,649.11 L469.98,649.16 L470.23,649.20 L470.47,649.23 L470.72,649.26 L470.96,649.29 L471.21,649.32 L471.45,649.35 L471.70,649.38 L471.94,649.41 L472.19,649.44 L472.44,649.47 L472.68,649.50 L472.93,649.53 L473.17,649.56 L473.42,649.59 L473.66,649.62 L473.91,649.64 L474.15,649.67 L474.40,649.70 L474.64,649.73 L474.89,649.76 L475.13,649.79 L475.38,649.82 L475.63,649.85 L475.87,649.88 L476.12,649.91 L476.36,649.94 L476.61,649.97 L476.85,650.00 L477.10,650.03 L477.34,650.06 L477.59,650.09 L477.83,650.12 L478.08,650.15 L478.33,650.18 L478.57,650.21 L478.82,650.24 L479.06,650.27 L479.31,650.28 L479.55,650.30 L479.80,650.32 L480.04,650.33 L480.29,650.35 L480.53,650.36 L480.78,650.38 L481.02,650.40 L481.27,650.41 L481.52,650.43 L481.76,650.44 L482.01,650.46 L482.25,650.47 L482.50,650.49 L482.74,650.51 L482.99,650.52 L483.23,650.54 L483.48,650.55 L483.72,650.57 L483.97,650.59 L484.21,650.60 L484.46,650.62 L484.71,650.63 L484.95,650.65 L485.20,650.67 L485.44,650.68 L485.69,650.70 L485.93,650.71 L486.18,650.73 L486.42,650.75 L486.67,650.76 L486.91,650.78 L487.16,650.79 L487.41,650.81 L487.65,650.82 L487.90,650.84 L488.14,650.86 L488.39,650.87 L488.63,650.89 L488.88,650.90 L489.12,650.92 L489.37,650.94 L489.61,650.95 L489.86,650.97 L490.10,650.98 L490.35,651.00 L490.35,651.00 Z" fill="rgb(250,150,70)" fill-opacity="0.45"/>
<path d="M388.20,650.36 L388.45,648.04 L388.69,648.58 L388.94,649.93 L389.18,650.83 L389.43,650.98 L389.67,650.96 L389.92,650.94 L390.16,650.92 L390.41,650.90 L390.65,650.88 L390.90,650.86 L391.14,650.84 L391.39,650.82 L391.64,650.80 L391.88,650.78 L392.13,650.76 L392.37,650.75 L392.62,650.73 L392.86,650.71 L393.11,650.69 L393.35,650.67 L393.60,650.65 L393.84,650.63 L394.09,650.61 L394.34,650.59 L394.58,650.57 L394.83,650.55 L395.07,650.54 L395.32,650.53 L395.56,650.53 L395.81,650.52 L396.05,650.51 L396.30,650.51 L396.54,650.50 L396.79,650.49 L397.03,650.49 L397.28,650.48 L397.53,650.47 L397.77,650.47 L398.02,650.46 L398.26,650.46 L398.51,650.45 L398.75,650.44 L399.00,650.44 L399.24,650.43 L399.49,650.42 L399.73,650.42 L399.98,650.41 L400.22,650.41 L400.47,650.40 L400.72,650.39 L400.96,650.39 L401.21,650.38 L401.45,650.37 L401.70,650.37 L401.94,650.36 L402.19,650.35 L402.43,650.35 L402.68,650.34 L402.92,650.34 L403.17,650.33 L403.42,650.32 L403.66,650.32 L403.91,650.31 L404.15,650.30 L404.40,650.30 L404.64,650.29 L404.89,650.28 L405.13,650.28 L405.38,650.27 L405.62,650.26 L405.87,650.21 L406.11,650.16 L406.36,650.10 L406.61,650.04 L406.85,649.97 L407.10,649.91 L407.34,649.85 L407.59,649.79 L407.83,649.73 L408.08,649.67 L408.32,649.61 L408.57,649.55 L408.81,649.49 L409.06,649.43 L409.30,649.37 L409.55,649.31 L409.80,649.25 L410.04,649.19 L410.29,649.13 L410.53,649.06 L410.78,649.00 L411.02,648.94 L411.27,648.88 L411.51,648.82 L411.76,648.76 L412.00,648.70 L412.25,648.64 L412.50,648.58 L412.74,648.52 L412.99,648.46 L413.23,648.40 L413.48,648.34 L413.72,648.28 L413.97,648.22 L414.21,648.16 L414.46,648.09 L414.70,648.03 L414.95,647.96 L415.19,647.80 L415.44,647.62 L415.69,647.44 L415.93,647.26 L416.18,647.07 L416.42,646.89 L416.67,646.70 L416.91,646.52 L417.16,646.34 L417.40,646.15 L417.65,645.97 L417.89,645.78 L418.14,645.60 L418.38,645.42 L418.63,645.23 L418.88,645.05 L419.12,644.86 L419.37,644.64 L419.61,644.20 L419.86,643.44 L420.10,642.61 L420.35,641.78 L420.59,640.95 L420.84,640.13 L421.08,639.30 L421.33,638.47 L421.58,637.64 L421.82,636.81 L422.07,635.91 L422.31,634.53 L422.56,632.25 L422.80,629.77 L423.05,627.28 L423.29,624.79 L423.54,622.83 L423.78,623.18 L424.03,624.34 L424.27,623.23 L424.52,621.10 L424.77,618.84 L425.01,616.37 L425.26,613.39 L425.50,610.28 L425.75,607.22 L425.99,604.40 L426.24,601.85 L426.48,599.37 L426.73,596.88 L426.97,594.51 L427.22,592.62 L427.46,590.93 L427.71,589.28 L427.96,587.62 L428.20,586.02 L428.45,584.82 L428.69,584.31 L428.94,583.95 L429.18,583.60 L429.43,583.24 L429.67,582.89 L429.92,582.75 L430.16,583.55 L430.41,584.79 L430.66,586.08 L430.90,587.38 L431.15,588.78 L431.39,590.39 L431.64,592.05 L431.88,593.70 L432.13,595.36 L432.37,597.05 L432.62,598.90 L432.86,600.87 L433.11,602.86 L433.35,604.85 L433.60,606.84 L433.85,608.89 L434.09,611.09 L434.34,613.32 L434.58,615.56 L434.83,617.80 L435.07,620.04 L435.32,622.27 L435.56,624.46 L435.81,626.39 L436.05,628.16 L436.30,629.90 L436.54,631.64 L436.79,633.38 L437.04,635.12 L437.28,636.82 L437.53,638.26 L437.77,639.26 L438.02,640.16 L438.26,641.05 L438.51,641.95 L438.75,642.84 L439.00,643.74 L439.24,644.63 L439.49,645.52 L439.74,646.31 L439.98,646.70 L440.23,646.99 L440.47,647.28 L440.72,647.57 L440.96,647.86 L441.21,648.15 L441.45,648.44 L441.70,648.73 L441.94,649.02 L442.19,649.31 L442.43,649.56 L442.68,649.66 L442.93,649.72 L443.17,649.77 L443.42,649.82 L443.66,649.86 L443.91,649.91 L444.15,649.96 L444.40,650.01 L444.64,650.06 L444.89,650.11 L445.13,650.16 L445.38,650.21 L445.62,650.26 L445.87,650.31 L446.12,650.36 L446.36,650.41 L446.61,650.46 L446.85,650.51 L447.10,650.55 L447.34,650.57 L447.59,650.60 L447.83,650.62 L448.08,650.64 L448.32,650.67 L448.57,650.69 L448.82,650.72 L449.06,650.74 L449.31,650.76 L449.55,650.79 L449.80,650.81 L450.04,650.83 L450.29,650.86 L450.53,650.88 L450.78,650.91 L451.02,650.93 L451.27,650.95 L451.51,650.98 L451.76,651.00" fill="none" stroke="#f04448" stroke-width="1.0"/>
<path d="M388.20,649.74 L388.45,645.18 L388.71,646.37 L388.96,649.11 L389.22,650.72 L389.47,650.99 L389.73,650.98 L389.98,650.98 L390.23,650.97 L390.49,650.96 L390.74,650.96 L391.00,650.95 L391.25,650.94 L391.50,650.94 L391.76,650.93 L392.01,650.92 L392.27,650.92 L392.52,650.91 L392.78,650.90 L393.03,650.90 L393.28,650.89 L393.54,650.88 L393.79,650.88 L394.05,650.87 L394.30,650.86 L394.55,650.85 L394.81,650.85 L395.06,650.84 L395.32,650.83 L395.57,650.83 L395.83,650.82 L396.08,650.81 L396.33,650.81 L396.59,650.80 L396.84,650.79 L397.10,650.79 L397.35,650.78 L397.60,650.77 L397.86,650.77 L398.11,650.76 L398.37,650.75 L398.62,650.75 L398.88,650.74 L399.13,650.73 L399.38,650.73 L399.64,650.72 L399.89,650.71 L400.15,650.71 L400.40,650.70 L400.65,650.69 L400.91,650.69 L401.16,650.68 L401.42,650.67 L401.67,650.67 L401.93,650.66 L402.18,650.65 L402.43,650.64 L402.69,650.64 L402.94,650.63 L403.20,650.62 L403.45,650.62 L403.70,650.61 L403.96,650.60 L404.21,650.60 L404.47,650.59 L404.72,650.58 L404.98,650.58 L405.23,650.57 L405.48,650.56 L405.74,650.56 L405.99,650.55 L406.25,650.54 L406.50,650.51 L406.75,650.46 L407.01,650.41 L407.26,650.36 L407.52,650.31 L407.77,650.25 L408.03,650.20 L408.28,650.15 L408.53,650.10 L408.79,650.05 L409.04,650.00 L409.30,649.95 L409.55,649.89 L409.80,649.84 L410.06,649.79 L410.31,649.74 L410.57,649.69 L410.82,649.64 L411.08,649.58 L411.33,649.53 L411.58,649.48 L411.84,649.43 L412.09,649.38 L412.35,649.33 L412.60,649.28 L412.85,649.22 L413.11,649.17 L413.36,649.12 L413.62,649.07 L413.87,649.02 L414.13,648.97 L414.38,648.91 L414.63,648.86 L414.89,648.81 L415.14,648.76 L415.40,648.69 L415.65,648.56 L415.90,648.40 L416.16,648.23 L416.41,648.07 L416.67,647.90 L416.92,647.74 L417.18,647.57 L417.43,647.40 L417.68,647.24 L417.94,647.07 L418.19,646.91 L418.45,646.74 L418.70,646.58 L418.95,646.41 L419.21,646.25 L419.46,646.08 L419.72,645.91 L419.97,645.75 L420.23,645.58 L420.48,645.42 L420.73,645.25 L420.99,645.09 L421.24,644.92 L421.50,644.76 L421.75,644.45 L422.00,643.54 L422.26,642.37 L422.51,641.17 L422.77,639.97 L423.02,638.77 L423.28,637.56 L423.53,636.36 L423.78,635.16 L424.04,633.96 L424.29,632.76 L424.55,631.56 L424.80,630.35 L425.05,629.10 L425.31,627.57 L425.56,625.71 L425.82,623.78 L426.07,621.85 L426.33,619.91 L426.58,617.98 L426.83,616.05 L427.09,614.12 L427.34,612.19 L427.60,610.26 L427.85,608.33 L428.10,606.39 L428.36,604.46 L428.61,602.52 L428.87,600.49 L429.12,598.23 L429.38,595.91 L429.63,593.60 L429.88,591.28 L430.14,588.96 L430.39,586.64 L430.65,584.32 L430.90,581.99 L431.15,579.54 L431.41,576.85 L431.66,574.11 L431.92,571.36 L432.17,568.61 L432.43,566.40 L432.68,566.41 L432.93,567.34 L433.19,568.37 L433.44,569.40 L433.70,570.61 L433.95,572.71 L434.20,575.74 L434.46,578.96 L434.71,582.18 L434.97,585.40 L435.22,588.62 L435.48,591.84 L435.73,595.06 L435.98,598.28 L436.24,601.50 L436.49,604.72 L436.75,607.94 L437.00,611.15 L437.25,614.34 L437.51,617.21 L437.76,619.43 L438.02,621.49 L438.27,623.55 L438.53,625.61 L438.78,627.67 L439.03,629.73 L439.29,631.79 L439.54,633.79 L439.80,635.44 L440.05,636.45 L440.30,637.30 L440.56,638.16 L440.81,639.02 L441.07,639.88 L441.32,640.74 L441.58,641.60 L441.83,642.46 L442.08,643.31 L442.34,644.12 L442.59,644.66 L442.85,644.96 L443.10,645.22 L443.35,645.47 L443.61,645.73 L443.86,645.99 L444.12,646.25 L444.37,646.50 L444.63,646.76 L444.88,647.02 L445.13,647.28 L445.39,647.53 L445.64,647.79 L445.90,648.05 L446.15,648.31 L446.40,648.56 L446.66,648.82 L446.91,649.06 L447.17,649.20 L447.42,649.27 L447.68,649.34 L447.93,649.40 L448.18,649.47 L448.44,649.54 L448.69,649.60 L448.95,649.67 L449.20,649.74 L449.45,649.80 L449.71,649.87 L449.96,649.94 L450.22,650.00 L450.47,650.07 L450.73,650.14 L450.98,650.20 L451.23,650.27 L451.49,650.34 L451.74,650.40 L452.00,650.47 L452.25,650.53 L452.50,650.60 L452.76,650.67 L453.01,650.73 L453.27,650.80 L453.52,650.87 L453.78,650.93 L454.03,650.99" fill="none" stroke="#2cc0f0" stroke-width="1.0"/>
<path d="M422.25,650.98 L422.49,650.90 L422.72,650.81 L422.96,650.71 L423.20,650.62 L423.43,650.52 L423.67,650.42 L423.91,650.33 L424.14,650.23 L424.38,650.14 L424.62,650.04 L424.85,649.95 L425.09,649.85 L425.33,649.75 L425.56,649.66 L425.80,649.56 L426.04,649.47 L426.27,649.37 L426.51,649.27 L426.75,649.12 L426.98,648.71 L427.22,648.19 L427.46,647.66 L427.69,647.13 L427.93,646.59 L428.17,646.06 L428.40,645.53 L428.64,644.95 L428.88,643.94 L429.11,641.99 L429.35,639.81 L429.59,637.63 L429.82,635.46 L430.06,633.28 L430.30,631.10 L430.53,628.93 L430.77,626.75 L431.01,624.40 L431.24,621.28 L431.48,617.52 L431.72,613.65 L431.95,609.78 L432.19,605.91 L432.43,602.03 L432.66,598.16 L432.90,594.30 L433.14,590.45 L433.37,586.61 L433.61,582.78 L433.85,578.98 L434.08,575.56 L434.32,573.20 L434.56,571.09 L434.79,568.98 L435.03,567.07 L435.27,566.36 L435.50,567.52 L435.74,569.09 L435.98,570.67 L436.21,572.37 L436.45,574.75 L436.69,577.75 L436.92,580.87 L437.16,584.00 L437.40,587.12 L437.63,590.25 L437.87,593.35 L438.10,596.39 L438.34,599.39 L438.58,602.39 L438.81,605.38 L439.05,608.38 L439.29,611.38 L439.52,614.34 L439.76,617.00 L440.00,618.86 L440.23,620.53 L440.47,622.20 L440.71,623.86 L440.94,625.53 L441.18,627.20 L441.42,628.87 L441.65,630.54 L441.89,632.10 L442.13,633.17 L442.36,633.79 L442.60,634.32 L442.84,634.86 L443.07,635.39 L443.31,635.92 L443.55,636.46 L443.78,636.99 L444.02,637.52 L444.26,638.05 L444.49,638.59 L444.73,639.12 L444.97,639.65 L445.20,640.18 L445.44,640.72 L445.68,641.25 L445.91,641.77 L446.15,642.16 L446.39,642.35 L446.62,642.50 L446.86,642.65 L447.10,642.79 L447.33,642.94 L447.57,643.08 L447.81,643.23 L448.04,643.37 L448.28,643.52 L448.52,643.67 L448.75,643.81 L448.99,643.96 L449.23,644.10 L449.46,644.25 L449.70,644.40 L449.94,644.54 L450.17,644.69 L450.41,644.83 L450.65,644.98 L450.88,645.12 L451.12,645.27 L451.36,645.42 L451.59,645.56 L451.83,645.68 L452.07,645.76 L452.30,645.83 L452.54,645.90 L452.78,645.98 L453.01,646.05 L453.25,646.12 L453.49,646.20 L453.72,646.27 L453.96,646.34 L454.20,646.41 L454.43,646.49 L454.67,646.56 L454.91,646.63 L455.14,646.71 L455.38,646.78 L455.62,646.85 L455.85,646.92 L456.09,647.00 L456.33,647.07 L456.56,647.14 L456.80,647.22 L457.04,647.29 L457.27,647.36 L457.51,647.43 L457.75,647.51 L457.98,647.58 L458.22,647.65 L458.46,647.73 L458.69,647.80 L458.93,647.87 L459.17,647.95 L459.40,648.02 L459.64,648.09 L459.88,648.16 L460.11,648.24 L460.35,648.31 L460.59,648.38 L460.82,648.46 L461.06,648.53 L461.30,648.60 L461.53,648.67 L461.77,648.75 L462.01,648.82 L462.24,648.89 L462.48,648.97 L462.72,649.04 L462.95,649.11 L463.19,649.16 L463.43,649.19 L463.66,649.21 L463.90,649.24 L464.14,649.26 L464.37,649.28 L464.61,649.30 L464.85,649.33 L465.08,649.35 L465.32,649.37 L465.56,649.39 L465.79,649.42 L466.03,649.44 L466.27,649.46 L466.50,649.48 L466.74,649.51 L466.98,649.53 L467.21,649.55 L467.45,649.57 L467.69,649.60 L467.92,649.62 L468.16,649.64 L468.39,649.66 L468.63,649.69 L468.87,649.71 L469.10,649.73 L469.34,649.75 L469.58,649.78 L469.81,649.80 L470.05,649.82 L470.29,649.84 L470.52,649.87 L470.76,649.89 L471.00,649.91 L471.23,649.93 L471.47,649.96 L471.71,649.98 L471.94,650.00 L472.18,650.03 L472.42,650.05 L472.65,650.07 L472.89,650.09 L473.13,650.12 L473.36,650.14 L473.60,650.16 L473.84,650.18 L474.07,650.21 L474.31,650.23 L474.55,650.25 L474.78,650.27 L475.02,650.29 L475.26,650.31 L475.49,650.33 L475.73,650.35 L475.97,650.37 L476.20,650.39 L476.44,650.41 L476.68,650.43 L476.91,650.45 L477.15,650.47 L477.39,650.49 L477.62,650.51 L477.86,650.53 L478.10,650.55 L478.33,650.57 L478.57,650.59 L478.81,650.61 L479.04,650.63 L479.28,650.65 L479.52,650.67 L479.75,650.69 L479.99,650.70 L480.23,650.72 L480.46,650.74 L480.70,650.76 L480.94,650.78 L481.17,650.80 L481.41,650.82 L481.65,650.84 L481.88,650.86 L482.12,650.88 L482.36,650.90 L482.59,650.92 L482.83,650.94 L483.07,650.96 L483.30,650.98 L483.54,651.00" fill="none" stroke="#7ee030" stroke-width="1.0"/>
<path d="M426.79,650.98 L427.04,650.90 L427.28,650.80 L427.53,650.70 L427.77,650.60 L428.02,650.50 L428.26,650.40 L428.51,650.30 L428.75,650.20 L429.00,650.10 L429.24,650.01 L429.49,649.91 L429.73,649.81 L429.98,649.71 L430.23,649.61 L430.47,649.51 L430.72,649.41 L430.96,649.31 L431.21,649.17 L431.45,648.85 L431.70,648.33 L431.94,647.78 L432.19,647.23 L432.43,646.67 L432.68,646.12 L432.93,645.57 L433.17,644.94 L433.42,643.70 L433.66,641.05 L433.91,638.07 L434.15,635.09 L434.40,632.10 L434.64,629.12 L434.89,626.14 L435.13,623.15 L435.38,620.17 L435.62,617.16 L435.87,614.08 L436.12,610.98 L436.36,607.87 L436.61,604.76 L436.85,601.65 L437.10,598.54 L437.34,595.40 L437.59,592.06 L437.83,588.54 L438.08,584.99 L438.32,581.44 L438.57,577.89 L438.81,574.35 L439.06,571.11 L439.31,568.87 L439.55,566.88 L439.80,564.89 L440.04,563.15 L440.29,562.73 L440.53,563.89 L440.78,565.38 L441.02,566.87 L441.27,568.25 L441.51,569.17 L441.76,569.86 L442.01,570.53 L442.25,571.20 L442.50,571.87 L442.74,572.65 L442.99,574.15 L443.23,576.74 L443.48,579.57 L443.72,582.41 L443.97,585.24 L444.21,588.08 L444.46,590.91 L444.70,593.69 L444.95,596.26 L445.20,598.75 L445.44,601.23 L445.69,603.72 L445.93,606.21 L446.18,608.69 L446.42,611.18 L446.67,613.67 L446.91,616.03 L447.16,617.88 L447.40,619.38 L447.65,620.82 L447.89,622.26 L448.14,623.70 L448.39,625.14 L448.63,626.59 L448.88,628.03 L449.12,629.47 L449.37,630.91 L449.61,632.27 L449.86,633.20 L450.10,633.79 L450.35,634.32 L450.59,634.84 L450.84,635.36 L451.09,635.89 L451.33,636.41 L451.58,636.93 L451.82,637.46 L452.07,637.98 L452.31,638.50 L452.56,639.03 L452.80,639.55 L453.05,640.07 L453.29,640.60 L453.54,641.12 L453.78,641.64 L454.03,642.11 L454.28,642.33 L454.52,642.50 L454.77,642.67 L455.01,642.83 L455.26,643.00 L455.50,643.16 L455.75,643.33 L455.99,643.49 L456.24,643.66 L456.48,643.83 L456.73,643.99 L456.97,644.16 L457.22,644.32 L457.47,644.49 L457.71,644.65 L457.96,644.82 L458.20,644.99 L458.45,645.15 L458.69,645.32 L458.94,645.48 L459.18,645.65 L459.43,645.81 L459.67,645.98 L459.92,646.15 L460.17,646.31 L460.41,646.48 L460.66,646.64 L460.90,646.77 L461.15,646.85 L461.39,646.91 L461.64,646.98 L461.88,647.04 L462.13,647.11 L462.37,647.17 L462.62,647.24 L462.86,647.30 L463.11,647.37 L463.36,647.43 L463.60,647.50 L463.85,647.56 L464.09,647.62 L464.34,647.69 L464.58,647.75 L464.83,647.82 L465.07,647.88 L465.32,647.95 L465.56,648.01 L465.81,648.08 L466.05,648.14 L466.30,648.21 L466.55,648.27 L466.79,648.34 L467.04,648.40 L467.28,648.47 L467.53,648.53 L467.77,648.59 L468.02,648.66 L468.26,648.72 L468.51,648.79 L468.75,648.85 L469.00,648.92 L469.25,648.98 L469.49,649.05 L469.74,649.11 L469.98,649.16 L470.23,649.20 L470.47,649.23 L470.72,649.26 L470.96,649.29 L471.21,649.32 L471.45,649.35 L471.70,649.38 L471.94,649.41 L472.19,649.44 L472.44,649.47 L472.68,649.50 L472.93,649.53 L473.17,649.56 L473.42,649.59 L473.66,649.62 L473.91,649.64 L474.15,649.67 L474.40,649.70 L474.64,649.73 L474.89,649.76 L475.13,649.79 L475.38,649.82 L475.63,649.85 L475.87,649.88 L476.12,649.91 L476.36,649.94 L476.61,649.97 L476.85,650.00 L477.10,650.03 L477.34,650.06 L477.59,650.09 L477.83,650.12 L478.08,650.15 L478.33,650.18 L478.57,650.21 L478.82,650.24 L479.06,650.27 L479.31,650.28 L479.55,650.30 L479.80,650.32 L480.04,650.33 L480.29,650.35 L480.53,650.36 L480.78,650.38 L481.02,650.40 L481.27,650.41 L481.52,650.43 L481.76,650.44 L482.01,650.46 L482.25,650.47 L482.50,650.49 L482.74,650.51 L482.99,650.52 L483.23,650.54 L483.48,650.55 L483.72,650.57 L483.97,650.59 L484.21,650.60 L484.46,650.62 L484.71,650.63 L484.95,650.65 L485.20,650.67 L485.44,650.68 L485.69,650.70 L485.93,650.71 L486.18,650.73 L486.42,650.75 L486.67,650.76 L486.91,650.78 L487.16,650.79 L487.41,650.81 L487.65,650.82 L487.90,650.84 L488.14,650.86 L488.39,650.87 L488.63,650.89 L488.88,650.90 L489.12,650.92 L489.37,650.94 L489.61,650.95 L489.86,650.97 L490.10,650.98 L490.35,651.00" fill="none" stroke="#f07c20" stroke-width="1.0"/>
</g>
<line x1="384.90" y1="651.00" x2="387.40" y2="651.00" stroke="#333" stroke-width="0.9"/>
<text x="385.00" y="654.10" font-size="8.6" text-anchor="end" fill="#1e1e1e">0</text>
<line x1="384.90" y1="632.60" x2="387.40" y2="632.60" stroke="#333" stroke-width="0.9"/>
<text x="385.00" y="635.70" font-size="8.6" text-anchor="end" fill="#1e1e1e">20</text>
<line x1="384.90" y1="614.20" x2="387.40" y2="614.20" stroke="#333" stroke-width="0.9"/>
<text x="385.00" y="617.30" font-size="8.6" text-anchor="end" fill="#1e1e1e">40</text>
<line x1="384.90" y1="595.80" x2="387.40" y2="595.80" stroke="#333" stroke-width="0.9"/>
<text x="385.00" y="598.90" font-size="8.6" text-anchor="end" fill="#1e1e1e">60</text>
<line x1="384.90" y1="577.40" x2="387.40" y2="577.40" stroke="#333" stroke-width="0.9"/>
<text x="385.00" y="580.50" font-size="8.6" text-anchor="end" fill="#1e1e1e">80</text>
<line x1="384.90" y1="559.00" x2="387.40" y2="559.00" stroke="#333" stroke-width="0.9"/>
<text x="385.00" y="562.10" font-size="8.6" text-anchor="end" fill="#1e1e1e">100</text>
<line x1="388.20" y1="651.00" x2="388.20" y2="653.50" stroke="#333" stroke-width="0.9"/>
<text x="385.00" y="661.20" font-size="8.4" fill="#1e1e1e">10<tspan font-size="5.6" dy="-3.4">0</tspan></text>
<line x1="410.90" y1="651.00" x2="410.90" y2="653.50" stroke="#333" stroke-width="0.9"/>
<text x="405.60" y="661.20" font-size="8.4" fill="#1e1e1e">10<tspan font-size="5.6" dy="-3.4">1</tspan></text>
<line x1="433.60" y1="651.00" x2="433.60" y2="653.50" stroke="#333" stroke-width="0.9"/>
<text x="426.30" y="661.20" font-size="8.4" fill="#1e1e1e">10<tspan font-size="5.6" dy="-3.4">2</tspan></text>
<line x1="456.30" y1="651.00" x2="456.30" y2="653.50" stroke="#333" stroke-width="0.9"/>
<text x="450.30" y="661.20" font-size="8.4" fill="#1e1e1e">10<tspan font-size="5.6" dy="-3.4">3</tspan></text>
<line x1="479.00" y1="651.00" x2="479.00" y2="653.50" stroke="#333" stroke-width="0.9"/>
<text x="474.40" y="661.20" font-size="8.4" fill="#1e1e1e">10<tspan font-size="5.6" dy="-3.4">4</tspan></text>
<line x1="501.70" y1="651.00" x2="501.70" y2="653.50" stroke="#333" stroke-width="0.9"/>
<text x="495.00" y="661.20" font-size="8.4" fill="#1e1e1e">10<tspan font-size="5.6" dy="-3.4">5</tspan></text>
<text x="442.30" y="673.40" font-size="8.0" text-anchor="middle" fill="#1e1e1e">Liperfluo</text>
<text x="371.00" y="604.00" font-size="8.5" text-anchor="middle" fill="#1e1e1e" transform="rotate(-90 371.00 604.00)">Normalized To Mode</text>
<text x="385.60" y="513.60" font-size="11.2" text-anchor="start" fill="#1e1e1e" style="stroke-width:0.5px">DU145</text>
<rect x="449.30" y="498.30" width="7.00" height="7.00" fill="#f68e96" stroke="#e63a48" stroke-width="1.0"/>
<text x="461.50" y="505.20" font-size="8.4" text-anchor="start" fill="#1e1e1e">Vector+PBS</text>
<rect x="449.30" y="511.00" width="7.00" height="7.00" fill="#8eeefa" stroke="#33d2ee" stroke-width="1.0"/>
<text x="461.50" y="517.90" font-size="8.4" text-anchor="start" fill="#1e1e1e">Vector+Spermidine</text>
<rect x="449.30" y="523.70" width="7.00" height="7.00" fill="#b0f090" stroke="#70dc48" stroke-width="1.0"/>
<text x="461.50" y="530.60" font-size="8.4" text-anchor="start" fill="#1e1e1e">AOC1+PBS</text>
<rect x="449.30" y="536.30" width="7.00" height="7.00" fill="#fcca9e" stroke="#f29c58" stroke-width="1.0"/>
<text x="461.50" y="543.20" font-size="8.4" text-anchor="start" fill="#1e1e1e">AOC1+Spermidine</text>
<line x1="594.00" y1="319.35" x2="594.00" y2="440.85" stroke="#222" stroke-width="1.3"/>
<line x1="593.35" y1="440.20" x2="673.60" y2="440.20" stroke="#222" stroke-width="1.3"/>
<line x1="590.80" y1="319.95" x2="594.00" y2="319.95" stroke="#222" stroke-width="1.3"/>
<text x="589.40" y="324.05" font-size="11" text-anchor="end" fill="#1e1e1e">2500</text>
<line x1="590.80" y1="344.00" x2="594.00" y2="344.00" stroke="#222" stroke-width="1.3"/>
<text x="589.40" y="348.10" font-size="11" text-anchor="end" fill="#1e1e1e">2000</text>
<line x1="590.80" y1="368.05" x2="594.00" y2="368.05" stroke="#222" stroke-width="1.3"/>
<text x="589.40" y="372.15" font-size="11" text-anchor="end" fill="#1e1e1e">1500</text>
<line x1="590.80" y1="392.10" x2="594.00" y2="392.10" stroke="#222" stroke-width="1.3"/>
<text x="589.40" y="396.20" font-size="11" text-anchor="end" fill="#1e1e1e">1000</text>
<line x1="590.80" y1="416.15" x2="594.00" y2="416.15" stroke="#222" stroke-width="1.3"/>
<text x="589.40" y="420.25" font-size="11" text-anchor="end" fill="#1e1e1e">500</text>
<line x1="590.80" y1="440.20" x2="594.00" y2="440.20" stroke="#222" stroke-width="1.3"/>
<text x="589.40" y="444.30" font-size="11" text-anchor="end" fill="#1e1e1e">0</text>
<line x1="606.80" y1="324.60" x2="606.80" y2="435.60" stroke="#8a8a8a" stroke-width="1.1"/>
<line x1="625.00" y1="356.60" x2="625.00" y2="434.40" stroke="#8a8a8a" stroke-width="1.1"/>
<line x1="643.80" y1="316.00" x2="643.80" y2="421.00" stroke="#8a8a8a" stroke-width="1.1"/>
<line x1="662.00" y1="316.00" x2="662.00" y2="343.00" stroke="#8a8a8a" stroke-width="1.1"/>
<line x1="606.80" y1="356.60" x2="625.00" y2="356.60" stroke="#8a8a8a" stroke-width="1.1"/>
<line x1="606.80" y1="324.60" x2="643.80" y2="324.60" stroke="#8a8a8a" stroke-width="1.1"/>
<line x1="643.80" y1="316.00" x2="662.00" y2="316.00" stroke="#8a8a8a" stroke-width="1.1"/>
<line x1="606.80" y1="437.00" x2="606.80" y2="438.00" stroke="#222" stroke-width="1.3"/>
<line x1="604.20" y1="437.00" x2="609.40" y2="437.00" stroke="#222" stroke-width="1.3"/>
<rect x="600.60" y="438.00" width="12.40" height="2.20" fill="#8ea5d2" stroke="#222" stroke-width="1.3"/>
<line x1="606.80" y1="440.20" x2="606.80" y2="443.80" stroke="#222" stroke-width="1.3"/>
<line x1="625.00" y1="437.00" x2="625.00" y2="437.80" stroke="#222" stroke-width="1.3"/>
<line x1="622.40" y1="437.00" x2="627.60" y2="437.00" stroke="#222" stroke-width="1.3"/>
<rect x="618.60" y="437.80" width="12.80" height="2.40" fill="#7ea34a" stroke="#222" stroke-width="1.3"/>
<line x1="625.00" y1="440.20" x2="625.00" y2="443.80" stroke="#222" stroke-width="1.3"/>
<line x1="643.80" y1="424.60" x2="643.80" y2="425.60" stroke="#222" stroke-width="1.3"/>
<line x1="641.20" y1="424.60" x2="646.40" y2="424.60" stroke="#222" stroke-width="1.3"/>
<rect x="637.60" y="425.60" width="12.40" height="14.60" fill="#d08c8e" stroke="#222" stroke-width="1.3"/>
<line x1="643.80" y1="440.20" x2="643.80" y2="443.80" stroke="#222" stroke-width="1.3"/>
<line x1="662.00" y1="347.60" x2="662.00" y2="356.40" stroke="#222" stroke-width="1.3"/>
<line x1="659.40" y1="347.60" x2="664.60" y2="347.60" stroke="#222" stroke-width="1.3"/>
<rect x="655.80" y="356.40" width="12.40" height="83.80" fill="#f6994a" stroke="#222" stroke-width="1.3"/>
<line x1="662.00" y1="440.20" x2="662.00" y2="443.80" stroke="#222" stroke-width="1.3"/>
<text x="616.90" y="354.00" font-size="8.5" text-anchor="middle" fill="#333">ns</text>
<text x="626.20" y="322.20" font-size="8.5" text-anchor="middle" fill="#333">****</text>
<text x="653.50" y="313.60" font-size="8.5" text-anchor="middle" fill="#333">***</text>
<text x="555.60" y="381.50" font-size="11" text-anchor="middle" fill="#1e1e1e" transform="rotate(-90 555.60 381.50)">MFI of Liperfluo</text>
<text x="612.89" y="453.77" font-size="11" text-anchor="end" fill="#1e1e1e" transform="rotate(-30 612.89 453.77)">Vector+PBS</text>
<text x="632.79" y="451.88" font-size="11" text-anchor="end" fill="#1e1e1e" transform="rotate(-30 632.79 451.88)">Vector+Spermidine</text>
<text x="649.49" y="453.57" font-size="11" text-anchor="end" fill="#1e1e1e" transform="rotate(-30 649.49 453.57)">AOC1+PBS</text>
<text x="668.19" y="452.07" font-size="11" text-anchor="end" fill="#1e1e1e" transform="rotate(-30 668.19 452.07)">AOC1+Spermidine</text>
<line x1="589.40" y1="532.30" x2="589.40" y2="654.05" stroke="#222" stroke-width="1.3"/>
<line x1="588.75" y1="653.40" x2="670.40" y2="653.40" stroke="#222" stroke-width="1.3"/>
<line x1="586.20" y1="532.90" x2="589.40" y2="532.90" stroke="#222" stroke-width="1.3"/>
<text x="585.00" y="537.00" font-size="11" text-anchor="end" fill="#1e1e1e">500</text>
<line x1="586.20" y1="557.00" x2="589.40" y2="557.00" stroke="#222" stroke-width="1.3"/>
<text x="585.00" y="561.10" font-size="11" text-anchor="end" fill="#1e1e1e">400</text>
<line x1="586.20" y1="581.10" x2="589.40" y2="581.10" stroke="#222" stroke-width="1.3"/>
<text x="585.00" y="585.20" font-size="11" text-anchor="end" fill="#1e1e1e">300</text>
<line x1="586.20" y1="605.20" x2="589.40" y2="605.20" stroke="#222" stroke-width="1.3"/>
<text x="585.00" y="609.30" font-size="11" text-anchor="end" fill="#1e1e1e">200</text>
<line x1="586.20" y1="629.30" x2="589.40" y2="629.30" stroke="#222" stroke-width="1.3"/>
<text x="585.00" y="633.40" font-size="11" text-anchor="end" fill="#1e1e1e">100</text>
<line x1="586.20" y1="653.40" x2="589.40" y2="653.40" stroke="#222" stroke-width="1.3"/>
<text x="585.00" y="657.50" font-size="11" text-anchor="end" fill="#1e1e1e">0</text>
<line x1="602.30" y1="538.00" x2="602.30" y2="626.00" stroke="#8a8a8a" stroke-width="1.1"/>
<line x1="620.80" y1="551.60" x2="620.80" y2="619.40" stroke="#8a8a8a" stroke-width="1.1"/>
<line x1="639.30" y1="528.40" x2="639.30" y2="589.00" stroke="#8a8a8a" stroke-width="1.1"/>
<line x1="657.70" y1="528.40" x2="657.70" y2="545.00" stroke="#8a8a8a" stroke-width="1.1"/>
<line x1="602.30" y1="551.60" x2="620.80" y2="551.60" stroke="#8a8a8a" stroke-width="1.1"/>
<line x1="602.30" y1="538.00" x2="639.30" y2="538.00" stroke="#8a8a8a" stroke-width="1.1"/>
<line x1="639.30" y1="528.40" x2="657.70" y2="528.40" stroke="#8a8a8a" stroke-width="1.1"/>
<line x1="602.30" y1="628.40" x2="602.30" y2="630.40" stroke="#222" stroke-width="1.3"/>
<line x1="599.70" y1="628.40" x2="604.90" y2="628.40" stroke="#222" stroke-width="1.3"/>
<rect x="596.00" y="630.40" width="12.60" height="23.00" fill="#8ea5d2" stroke="#222" stroke-width="1.3"/>
<line x1="602.30" y1="653.40" x2="602.30" y2="657.00" stroke="#222" stroke-width="1.3"/>
<line x1="620.80" y1="625.20" x2="620.80" y2="628.00" stroke="#222" stroke-width="1.3"/>
<line x1="618.20" y1="625.20" x2="623.40" y2="625.20" stroke="#222" stroke-width="1.3"/>
<rect x="614.60" y="628.00" width="12.40" height="25.40" fill="#7ea34a" stroke="#222" stroke-width="1.3"/>
<line x1="620.80" y1="653.40" x2="620.80" y2="657.00" stroke="#222" stroke-width="1.3"/>
<line x1="639.30" y1="592.20" x2="639.30" y2="594.40" stroke="#222" stroke-width="1.3"/>
<line x1="636.70" y1="592.20" x2="641.90" y2="592.20" stroke="#222" stroke-width="1.3"/>
<rect x="633.00" y="594.40" width="12.60" height="59.00" fill="#d08c8e" stroke="#222" stroke-width="1.3"/>
<line x1="639.30" y1="653.40" x2="639.30" y2="657.00" stroke="#222" stroke-width="1.3"/>
<line x1="657.70" y1="551.20" x2="657.70" y2="553.00" stroke="#222" stroke-width="1.3"/>
<line x1="655.10" y1="551.20" x2="660.30" y2="551.20" stroke="#222" stroke-width="1.3"/>
<rect x="651.40" y="553.00" width="12.60" height="100.40" fill="#f6994a" stroke="#222" stroke-width="1.3"/>
<line x1="657.70" y1="653.40" x2="657.70" y2="657.00" stroke="#222" stroke-width="1.3"/>
<text x="611.50" y="548.80" font-size="8.5" text-anchor="middle" fill="#333">ns</text>
<text x="620.80" y="536.00" font-size="8.5" text-anchor="middle" fill="#333">****</text>
<text x="648.50" y="526.00" font-size="8.5" text-anchor="middle" fill="#333">****</text>
<text x="549.40" y="594.50" font-size="11" text-anchor="middle" fill="#1e1e1e" transform="rotate(-90 549.40 594.50)">MFI of Liperfluo</text>
<text x="607.89" y="666.38" font-size="11" text-anchor="end" fill="#1e1e1e" transform="rotate(-30 607.89 666.38)">Vector+PBS</text>
<text x="626.89" y="664.57" font-size="11" text-anchor="end" fill="#1e1e1e" transform="rotate(-30 626.89 664.57)">Vector+Spermidine</text>
<text x="643.99" y="666.17" font-size="11" text-anchor="end" fill="#1e1e1e" transform="rotate(-30 643.99 666.17)">AOC1+PBS</text>
<text x="663.29" y="665.27" font-size="11" text-anchor="end" fill="#1e1e1e" transform="rotate(-30 663.29 665.27)">AOC1+Spermidine</text>
<text x="28.60" y="692.20" font-size="16.8" text-anchor="start" fill="#111" style="stroke-width:0.9px;stroke:#111">e</text>
<text x="115.80" y="727.00" font-size="11.2" text-anchor="middle" fill="#1e1e1e" style="stroke-width:0.5px">22Rv1</text>
<line x1="77.40" y1="748.40" x2="77.40" y2="869.65" stroke="#222" stroke-width="1.3"/>
<line x1="76.75" y1="869.00" x2="158.40" y2="869.00" stroke="#222" stroke-width="1.3"/>
<line x1="74.20" y1="749.00" x2="77.40" y2="749.00" stroke="#222" stroke-width="1.3"/>
<text x="72.80" y="753.10" font-size="11" text-anchor="end" fill="#1e1e1e">2.0</text>
<line x1="74.20" y1="779.00" x2="77.40" y2="779.00" stroke="#222" stroke-width="1.3"/>
<text x="72.80" y="783.10" font-size="11" text-anchor="end" fill="#1e1e1e">1.5</text>
<line x1="74.20" y1="809.00" x2="77.40" y2="809.00" stroke="#222" stroke-width="1.3"/>
<text x="72.80" y="813.10" font-size="11" text-anchor="end" fill="#1e1e1e">1.0</text>
<line x1="74.20" y1="839.00" x2="77.40" y2="839.00" stroke="#222" stroke-width="1.3"/>
<text x="72.80" y="843.10" font-size="11" text-anchor="end" fill="#1e1e1e">0.5</text>
<line x1="74.20" y1="869.00" x2="77.40" y2="869.00" stroke="#222" stroke-width="1.3"/>
<text x="72.80" y="873.10" font-size="11" text-anchor="end" fill="#1e1e1e">0.0</text>
<line x1="90.00" y1="753.60" x2="90.00" y2="798.00" stroke="#444444" stroke-width="1.0"/>
<line x1="108.30" y1="767.60" x2="108.30" y2="777.00" stroke="#444444" stroke-width="1.0"/>
<line x1="127.00" y1="744.00" x2="127.00" y2="781.00" stroke="#444444" stroke-width="1.0"/>
<line x1="145.60" y1="744.00" x2="145.60" y2="761.00" stroke="#444444" stroke-width="1.0"/>
<line x1="90.00" y1="767.60" x2="108.30" y2="767.60" stroke="#444444" stroke-width="1.0"/>
<line x1="90.00" y1="753.60" x2="127.00" y2="753.60" stroke="#444444" stroke-width="1.0"/>
<line x1="127.00" y1="744.00" x2="145.60" y2="744.00" stroke="#444444" stroke-width="1.0"/>
<line x1="90.00" y1="803.60" x2="90.00" y2="808.60" stroke="#222" stroke-width="1.3"/>
<line x1="87.40" y1="803.60" x2="92.60" y2="803.60" stroke="#222" stroke-width="1.3"/>
<rect x="83.60" y="808.60" width="12.80" height="60.40" fill="#8ea5d2" stroke="#222" stroke-width="1.3"/>
<line x1="90.00" y1="869.00" x2="90.00" y2="872.60" stroke="#222" stroke-width="1.3"/>
<line x1="108.30" y1="802.40" x2="108.30" y2="805.40" stroke="#222" stroke-width="1.3"/>
<line x1="105.70" y1="802.40" x2="110.90" y2="802.40" stroke="#222" stroke-width="1.3"/>
<rect x="102.00" y="805.40" width="12.60" height="63.60" fill="#7ea34a" stroke="#222" stroke-width="1.3"/>
<line x1="108.30" y1="869.00" x2="108.30" y2="872.60" stroke="#222" stroke-width="1.3"/>
<line x1="127.00" y1="788.00" x2="127.00" y2="792.00" stroke="#222" stroke-width="1.3"/>
<line x1="124.40" y1="788.00" x2="129.60" y2="788.00" stroke="#222" stroke-width="1.3"/>
<rect x="120.60" y="792.00" width="12.80" height="77.00" fill="#d08c8e" stroke="#222" stroke-width="1.3"/>
<line x1="127.00" y1="869.00" x2="127.00" y2="872.60" stroke="#222" stroke-width="1.3"/>
<line x1="145.60" y1="764.40" x2="145.60" y2="769.00" stroke="#222" stroke-width="1.3"/>
<line x1="143.00" y1="764.40" x2="148.20" y2="764.40" stroke="#222" stroke-width="1.3"/>
<rect x="139.40" y="769.00" width="12.40" height="100.00" fill="#f6994a" stroke="#222" stroke-width="1.3"/>
<line x1="145.60" y1="869.00" x2="145.60" y2="872.60" stroke="#222" stroke-width="1.3"/>
<text x="99.20" y="764.50" font-size="8.5" text-anchor="middle" fill="#333">ns</text>
<text x="108.50" y="751.00" font-size="6" text-anchor="middle" fill="#333">*</text>
<text x="136.60" y="740.80" font-size="6" text-anchor="middle" fill="#333">**</text>
<text x="39.40" y="807.50" font-size="11" text-anchor="middle" fill="#1e1e1e" transform="rotate(-90 39.40 807.50)">Relative level of MDA</text>
<text x="52.40" y="806.50" font-size="11" text-anchor="middle" fill="#1e1e1e" transform="rotate(-90 52.40 806.50)">(Ratio to control)</text>
<text x="92.29" y="880.38" font-size="11" text-anchor="end" fill="#1e1e1e" transform="rotate(-30 92.29 880.38)">Vector+PBS</text>
<text x="114.29" y="878.57" font-size="11" text-anchor="end" fill="#1e1e1e" transform="rotate(-30 114.29 878.57)">Vector+Spermidine</text>
<text x="129.59" y="881.07" font-size="11" text-anchor="end" fill="#1e1e1e" transform="rotate(-30 129.59 881.07)">AOC1+PBS</text>
<text x="148.69" y="880.38" font-size="11" text-anchor="end" fill="#1e1e1e" transform="rotate(-30 148.69 880.38)">AOC1+Spermidine</text>
<text x="260.70" y="725.60" font-size="11.2" text-anchor="middle" fill="#1e1e1e" style="stroke-width:0.5px">DU145</text>
<line x1="221.00" y1="746.80" x2="221.00" y2="869.25" stroke="#222" stroke-width="1.3"/>
<line x1="220.35" y1="868.60" x2="301.60" y2="868.60" stroke="#222" stroke-width="1.3"/>
<line x1="217.80" y1="747.40" x2="221.00" y2="747.40" stroke="#222" stroke-width="1.3"/>
<text x="216.40" y="751.50" font-size="11" text-anchor="end" fill="#1e1e1e">2.0</text>
<line x1="217.80" y1="777.70" x2="221.00" y2="777.70" stroke="#222" stroke-width="1.3"/>
<text x="216.40" y="781.80" font-size="11" text-anchor="end" fill="#1e1e1e">1.5</text>
<line x1="217.80" y1="808.00" x2="221.00" y2="808.00" stroke="#222" stroke-width="1.3"/>
<text x="216.40" y="812.10" font-size="11" text-anchor="end" fill="#1e1e1e">1.0</text>
<line x1="217.80" y1="838.30" x2="221.00" y2="838.30" stroke="#222" stroke-width="1.3"/>
<text x="216.40" y="842.40" font-size="11" text-anchor="end" fill="#1e1e1e">0.5</text>
<line x1="217.80" y1="868.60" x2="221.00" y2="868.60" stroke="#222" stroke-width="1.3"/>
<text x="216.40" y="872.70" font-size="11" text-anchor="end" fill="#1e1e1e">0.0</text>
<line x1="233.00" y1="752.40" x2="233.00" y2="798.00" stroke="#444444" stroke-width="1.0"/>
<line x1="251.60" y1="766.00" x2="251.60" y2="776.60" stroke="#444444" stroke-width="1.0"/>
<line x1="269.90" y1="743.00" x2="269.90" y2="779.60" stroke="#444444" stroke-width="1.0"/>
<line x1="288.30" y1="743.00" x2="288.30" y2="759.40" stroke="#444444" stroke-width="1.0"/>
<line x1="233.00" y1="766.00" x2="251.60" y2="766.00" stroke="#444444" stroke-width="1.0"/>
<line x1="233.00" y1="752.40" x2="269.90" y2="752.40" stroke="#444444" stroke-width="1.0"/>
<line x1="269.90" y1="743.00" x2="288.30" y2="743.00" stroke="#444444" stroke-width="1.0"/>
<line x1="233.00" y1="803.00" x2="233.00" y2="807.60" stroke="#222" stroke-width="1.3"/>
<line x1="230.40" y1="803.00" x2="235.60" y2="803.00" stroke="#222" stroke-width="1.3"/>
<rect x="226.60" y="807.60" width="12.80" height="61.00" fill="#8ea5d2" stroke="#222" stroke-width="1.3"/>
<line x1="233.00" y1="868.60" x2="233.00" y2="872.20" stroke="#222" stroke-width="1.3"/>
<line x1="251.60" y1="799.40" x2="251.60" y2="803.60" stroke="#222" stroke-width="1.3"/>
<line x1="249.00" y1="799.40" x2="254.20" y2="799.40" stroke="#222" stroke-width="1.3"/>
<rect x="245.40" y="803.60" width="12.40" height="65.00" fill="#7ea34a" stroke="#222" stroke-width="1.3"/>
<line x1="251.60" y1="868.60" x2="251.60" y2="872.20" stroke="#222" stroke-width="1.3"/>
<line x1="269.90" y1="786.60" x2="269.90" y2="792.40" stroke="#222" stroke-width="1.3"/>
<line x1="267.30" y1="786.60" x2="272.50" y2="786.60" stroke="#222" stroke-width="1.3"/>
<rect x="263.60" y="792.40" width="12.60" height="76.20" fill="#d08c8e" stroke="#222" stroke-width="1.3"/>
<line x1="269.90" y1="868.60" x2="269.90" y2="872.20" stroke="#222" stroke-width="1.3"/>
<line x1="288.30" y1="769.60" x2="288.30" y2="775.60" stroke="#222" stroke-width="1.3"/>
<line x1="285.70" y1="769.60" x2="290.90" y2="769.60" stroke="#222" stroke-width="1.3"/>
<rect x="282.00" y="775.60" width="12.60" height="93.00" fill="#f6994a" stroke="#222" stroke-width="1.3"/>
<line x1="288.30" y1="868.60" x2="288.30" y2="872.20" stroke="#222" stroke-width="1.3"/>
<text x="242.20" y="762.50" font-size="8.5" text-anchor="middle" fill="#333">ns</text>
<text x="251.40" y="749.60" font-size="6" text-anchor="middle" fill="#333">*</text>
<text x="279.20" y="740.00" font-size="6" text-anchor="middle" fill="#333">*</text>
<text x="182.60" y="807.00" font-size="11" text-anchor="middle" fill="#1e1e1e" transform="rotate(-90 182.60 807.00)">Relative level of MDA</text>
<text x="195.60" y="806.00" font-size="11" text-anchor="middle" fill="#1e1e1e" transform="rotate(-90 195.60 806.00)">(Ratio to control)</text>
<text x="235.29" y="878.38" font-size="11" text-anchor="end" fill="#1e1e1e" transform="rotate(-30 235.29 878.38)">Vector+PBS</text>
<text x="257.89" y="876.77" font-size="11" text-anchor="end" fill="#1e1e1e" transform="rotate(-30 257.89 876.77)">Vector+Spermidine</text>
<text x="273.39" y="880.27" font-size="11" text-anchor="end" fill="#1e1e1e" transform="rotate(-30 273.39 880.27)">AOC1+PBS</text>
<text x="292.69" y="879.07" font-size="11" text-anchor="end" fill="#1e1e1e" transform="rotate(-30 292.69 879.07)">AOC1+Spermidine</text>
<text x="352.60" y="692.80" font-size="16.8" text-anchor="start" fill="#111" style="stroke-width:0.9px;stroke:#111">f</text>
<text x="408.80" y="743.60" font-size="10.9" text-anchor="end" fill="#1e1e1e">Vector</text>
<text x="408.80" y="758.00" font-size="10.9" text-anchor="end" fill="#1e1e1e">Flag-AOC1</text>
<text x="408.80" y="773.00" font-size="10.9" text-anchor="end" fill="#1e1e1e">PBS</text>
<text x="408.80" y="786.20" font-size="10.9" text-anchor="end" fill="#1e1e1e">Spermidine</text>
<line x1="425.20" y1="739.40" x2="430.80" y2="739.40" stroke="#1a1a1a" stroke-width="1.05"/>
<line x1="428.00" y1="736.90" x2="428.00" y2="741.90" stroke="#1a1a1a" stroke-width="1.05"/>
<line x1="448.80" y1="739.40" x2="454.40" y2="739.40" stroke="#1a1a1a" stroke-width="1.05"/>
<line x1="451.60" y1="736.90" x2="451.60" y2="741.90" stroke="#1a1a1a" stroke-width="1.05"/>
<line x1="474.80" y1="739.40" x2="478.00" y2="739.40" stroke="#1a1a1a" stroke-width="1.05"/>
<line x1="494.00" y1="739.40" x2="497.20" y2="739.40" stroke="#1a1a1a" stroke-width="1.05"/>
<line x1="522.20" y1="739.40" x2="527.80" y2="739.40" stroke="#1a1a1a" stroke-width="1.05"/>
<line x1="525.00" y1="736.90" x2="525.00" y2="741.90" stroke="#1a1a1a" stroke-width="1.05"/>
<line x1="545.80" y1="739.40" x2="551.40" y2="739.40" stroke="#1a1a1a" stroke-width="1.05"/>
<line x1="548.60" y1="736.90" x2="548.60" y2="741.90" stroke="#1a1a1a" stroke-width="1.05"/>
<line x1="572.00" y1="739.40" x2="575.20" y2="739.40" stroke="#1a1a1a" stroke-width="1.05"/>
<line x1="591.00" y1="739.40" x2="594.20" y2="739.40" stroke="#1a1a1a" stroke-width="1.05"/>
<line x1="426.40" y1="754.60" x2="429.60" y2="754.60" stroke="#1a1a1a" stroke-width="1.05"/>
<line x1="450.00" y1="754.60" x2="453.20" y2="754.60" stroke="#1a1a1a" stroke-width="1.05"/>
<line x1="473.60" y1="754.60" x2="479.20" y2="754.60" stroke="#1a1a1a" stroke-width="1.05"/>
<line x1="476.40" y1="752.10" x2="476.40" y2="757.10" stroke="#1a1a1a" stroke-width="1.05"/>
<line x1="492.80" y1="754.60" x2="498.40" y2="754.60" stroke="#1a1a1a" stroke-width="1.05"/>
<line x1="495.60" y1="752.10" x2="495.60" y2="757.10" stroke="#1a1a1a" stroke-width="1.05"/>
<line x1="523.40" y1="754.60" x2="526.60" y2="754.60" stroke="#1a1a1a" stroke-width="1.05"/>
<line x1="547.00" y1="754.60" x2="550.20" y2="754.60" stroke="#1a1a1a" stroke-width="1.05"/>
<line x1="570.80" y1="754.60" x2="576.40" y2="754.60" stroke="#1a1a1a" stroke-width="1.05"/>
<line x1="573.60" y1="752.10" x2="573.60" y2="757.10" stroke="#1a1a1a" stroke-width="1.05"/>
<line x1="589.80" y1="754.60" x2="595.40" y2="754.60" stroke="#1a1a1a" stroke-width="1.05"/>
<line x1="592.60" y1="752.10" x2="592.60" y2="757.10" stroke="#1a1a1a" stroke-width="1.05"/>
<line x1="425.20" y1="768.50" x2="430.80" y2="768.50" stroke="#1a1a1a" stroke-width="1.05"/>
<line x1="428.00" y1="766.00" x2="428.00" y2="771.00" stroke="#1a1a1a" stroke-width="1.05"/>
<line x1="450.00" y1="768.50" x2="453.20" y2="768.50" stroke="#1a1a1a" stroke-width="1.05"/>
<line x1="473.60" y1="768.50" x2="479.20" y2="768.50" stroke="#1a1a1a" stroke-width="1.05"/>
<line x1="476.40" y1="766.00" x2="476.40" y2="771.00" stroke="#1a1a1a" stroke-width="1.05"/>
<line x1="494.00" y1="768.50" x2="497.20" y2="768.50" stroke="#1a1a1a" stroke-width="1.05"/>
<line x1="522.20" y1="768.50" x2="527.80" y2="768.50" stroke="#1a1a1a" stroke-width="1.05"/>
<line x1="525.00" y1="766.00" x2="525.00" y2="771.00" stroke="#1a1a1a" stroke-width="1.05"/>
<line x1="547.00" y1="768.50" x2="550.20" y2="768.50" stroke="#1a1a1a" stroke-width="1.05"/>
<line x1="570.80" y1="768.50" x2="576.40" y2="768.50" stroke="#1a1a1a" stroke-width="1.05"/>
<line x1="573.60" y1="766.00" x2="573.60" y2="771.00" stroke="#1a1a1a" stroke-width="1.05"/>
<line x1="591.00" y1="768.50" x2="594.20" y2="768.50" stroke="#1a1a1a" stroke-width="1.05"/>
<line x1="426.40" y1="783.60" x2="429.60" y2="783.60" stroke="#1a1a1a" stroke-width="1.05"/>
<line x1="448.80" y1="783.60" x2="454.40" y2="783.60" stroke="#1a1a1a" stroke-width="1.05"/>
<line x1="451.60" y1="781.10" x2="451.60" y2="786.10" stroke="#1a1a1a" stroke-width="1.05"/>
<line x1="474.80" y1="783.60" x2="478.00" y2="783.60" stroke="#1a1a1a" stroke-width="1.05"/>
<line x1="492.80" y1="783.60" x2="498.40" y2="783.60" stroke="#1a1a1a" stroke-width="1.05"/>
<line x1="495.60" y1="781.10" x2="495.60" y2="786.10" stroke="#1a1a1a" stroke-width="1.05"/>
<line x1="523.40" y1="783.60" x2="526.60" y2="783.60" stroke="#1a1a1a" stroke-width="1.05"/>
<line x1="545.80" y1="783.60" x2="551.40" y2="783.60" stroke="#1a1a1a" stroke-width="1.05"/>
<line x1="548.60" y1="781.10" x2="548.60" y2="786.10" stroke="#1a1a1a" stroke-width="1.05"/>
<line x1="572.00" y1="783.60" x2="575.20" y2="783.60" stroke="#1a1a1a" stroke-width="1.05"/>
<line x1="589.80" y1="783.60" x2="595.40" y2="783.60" stroke="#1a1a1a" stroke-width="1.05"/>
<line x1="592.60" y1="781.10" x2="592.60" y2="786.10" stroke="#1a1a1a" stroke-width="1.05"/>
<defs><filter id="bl" x="-20%" y="-100%" width="140%" height="300%"><feGaussianBlur stdDeviation="0.55"/></filter></defs>
<rect x="416.10" y="793.90" width="191.50" height="72.90" fill="#b2b2b2"/>
<rect x="416.60" y="794.40" width="190.50" height="16.40" fill="#ebebeb" stroke="#2a2a2a" stroke-width="1.0"/>
<rect x="416.60" y="813.40" width="190.50" height="15.70" fill="#e2e2e2" stroke="#2a2a2a" stroke-width="1.0"/>
<rect x="416.60" y="831.50" width="190.50" height="15.80" fill="#eeeeee" stroke="#2a2a2a" stroke-width="1.0"/>
<rect x="416.60" y="849.60" width="190.50" height="16.70" fill="#e9e9e9" stroke="#2a2a2a" stroke-width="1.0"/>
<ellipse cx="430.85" cy="802.00" rx="7.25" ry="1.20" fill="#161616" opacity="0.95" filter="url(#bl)" transform="rotate(-0.4 430.9 802.0)"/>
<rect x="444.50" y="800.40" width="17.70" height="3.20" rx="2.56" ry="1.60" fill="#161616" opacity="1" filter="url(#bl)" transform="rotate(-0.3 453.4 802.0)"/>
<rect x="467.50" y="799.60" width="19.30" height="4.80" rx="3.84" ry="2.40" fill="#161616" opacity="1" filter="url(#bl)" transform="rotate(0.2 477.1 802.0)"/>
<rect x="490.30" y="799.00" width="20.10" height="6.00" rx="4.80" ry="3.00" fill="#161616" opacity="1" filter="url(#bl)" transform="rotate(-0.4 500.4 802.0)"/>
<ellipse cx="523.50" cy="802.00" rx="8.10" ry="1.20" fill="#161616" opacity="0.9" filter="url(#bl)" transform="rotate(0.1 523.5 802.0)"/>
<rect x="537.60" y="800.70" width="18.00" height="2.60" rx="2.08" ry="1.30" fill="#161616" opacity="0.95" filter="url(#bl)" transform="rotate(-0.1 546.6 802.0)"/>
<rect x="560.40" y="799.80" width="18.60" height="4.40" rx="3.52" ry="2.20" fill="#161616" opacity="1" filter="url(#bl)" transform="rotate(-0.4 569.7 802.0)"/>
<rect x="583.60" y="799.30" width="18.40" height="5.40" rx="4.32" ry="2.70" fill="#161616" opacity="1" filter="url(#bl)" transform="rotate(0.0 592.8 802.0)"/>
<ellipse cx="432.00" cy="822.00" rx="7.00" ry="0.90" fill="#161616" opacity="0.75" filter="url(#bl)" transform="rotate(-0.9 432.0 822.0)"/>
<rect x="444.00" y="820.60" width="19.00" height="2.80" rx="2.24" ry="1.40" fill="#161616" opacity="1" filter="url(#bl)" transform="rotate(-0.1 453.5 822.0)"/>
<rect x="466.00" y="820.20" width="19.60" height="3.60" rx="2.88" ry="1.80" fill="#161616" opacity="1" filter="url(#bl)" transform="rotate(-0.4 475.8 822.0)"/>
<rect x="489.00" y="820.05" width="19.00" height="3.90" rx="3.12" ry="1.95" fill="#161616" opacity="1" filter="url(#bl)" transform="rotate(-0.4 498.5 822.0)"/>
<ellipse cx="521.00" cy="822.00" rx="8.00" ry="1.05" fill="#161616" opacity="0.85" filter="url(#bl)" transform="rotate(-0.2 521.0 822.0)"/>
<rect x="534.00" y="820.40" width="19.00" height="3.20" rx="2.56" ry="1.60" fill="#161616" opacity="1" filter="url(#bl)" transform="rotate(0.3 543.5 822.0)"/>
<rect x="556.00" y="819.50" width="20.40" height="5.00" rx="4.00" ry="2.50" fill="#161616" opacity="1" filter="url(#bl)" transform="rotate(-0.4 566.2 822.0)"/>
<rect x="579.60" y="819.70" width="20.40" height="4.60" rx="3.68" ry="2.30" fill="#161616" opacity="1" filter="url(#bl)" transform="rotate(-0.3 589.8 822.0)"/>
<rect x="423.60" y="835.80" width="21.70" height="5.60" rx="4.48" ry="2.80" fill="#161616" opacity="1" filter="url(#bl)" transform="rotate(0.1 434.5 838.6)"/>
<rect x="448.50" y="835.90" width="20.10" height="5.40" rx="4.32" ry="2.70" fill="#161616" opacity="1" filter="url(#bl)" transform="rotate(0.4 458.6 838.6)"/>
<rect x="471.80" y="836.65" width="19.30" height="3.90" rx="3.12" ry="1.95" fill="#161616" opacity="1" filter="url(#bl)" transform="rotate(0.1 481.5 838.6)"/>
<ellipse cx="504.75" cy="838.60" rx="8.05" ry="0.85" fill="#161616" opacity="0.75" filter="url(#bl)" transform="rotate(-0.2 504.8 838.6)"/>
<rect x="518.40" y="836.30" width="18.60" height="4.60" rx="3.68" ry="2.30" fill="#161616" opacity="1" filter="url(#bl)" transform="rotate(0.5 527.7 838.6)"/>
<rect x="541.00" y="836.30" width="19.00" height="4.60" rx="3.68" ry="2.30" fill="#161616" opacity="1" filter="url(#bl)" transform="rotate(-0.5 550.5 838.6)"/>
<rect x="564.40" y="836.95" width="17.60" height="3.30" rx="2.64" ry="1.65" fill="#161616" opacity="1" filter="url(#bl)" transform="rotate(0.4 573.2 838.6)"/>
<ellipse cx="594.50" cy="838.60" rx="5.50" ry="0.70" fill="#161616" opacity="0.35" filter="url(#bl)" transform="rotate(-0.4 594.5 838.6)"/>
<rect x="422.80" y="855.30" width="17.70" height="6.60" rx="5.28" ry="3.30" fill="#161616" opacity="1" filter="url(#bl)" transform="rotate(-0.4 431.6 858.6)"/>
<rect x="445.00" y="855.40" width="18.00" height="6.40" rx="5.12" ry="3.20" fill="#161616" opacity="1" filter="url(#bl)" transform="rotate(-0.4 454.0 858.6)"/>
<rect x="467.00" y="855.50" width="19.30" height="6.20" rx="4.96" ry="3.10" fill="#161616" opacity="1" filter="url(#bl)" transform="rotate(-0.2 476.6 858.6)"/>
<rect x="490.30" y="855.50" width="19.30" height="6.20" rx="4.96" ry="3.10" fill="#161616" opacity="1" filter="url(#bl)" transform="rotate(0.3 500.0 858.6)"/>
<rect x="513.40" y="855.50" width="19.60" height="6.20" rx="4.96" ry="3.10" fill="#161616" opacity="1" filter="url(#bl)" transform="rotate(-0.3 523.2 858.6)"/>
<rect x="537.00" y="855.50" width="19.40" height="6.20" rx="4.96" ry="3.10" fill="#161616" opacity="1" filter="url(#bl)" transform="rotate(0.1 546.7 858.6)"/>
<rect x="560.00" y="855.50" width="20.00" height="6.20" rx="4.96" ry="3.10" fill="#161616" opacity="1" filter="url(#bl)" transform="rotate(0.1 570.0 858.6)"/>
<rect x="583.60" y="855.30" width="18.80" height="6.60" rx="5.28" ry="3.30" fill="#161616" opacity="1" filter="url(#bl)" transform="rotate(-0.1 593.0 858.6)"/>
<text x="406.40" y="806.00" font-size="10.8" text-anchor="end" fill="#1e1e1e">TFR</text>
<text x="406.40" y="824.60" font-size="10.8" text-anchor="end" fill="#1e1e1e">TF</text>
<text x="406.40" y="842.50" font-size="10.8" text-anchor="end" fill="#1e1e1e">FTH1</text>
<text x="406.40" y="863.10" font-size="10.8" text-anchor="end" fill="#1e1e1e">GAPDH</text>
<text x="622.20" y="804.60" font-size="10.8" text-anchor="start" fill="#1e1e1e">98KD</text>
<text x="622.20" y="823.40" font-size="10.8" text-anchor="start" fill="#1e1e1e">77KD</text>
<text x="622.20" y="843.60" font-size="10.8" text-anchor="start" fill="#1e1e1e">21KD</text>
<text x="622.20" y="862.60" font-size="10.8" text-anchor="start" fill="#1e1e1e">37KD</text>
<line x1="423.00" y1="873.40" x2="505.60" y2="873.40" stroke="#1a1a1a" stroke-width="1.3"/>
<line x1="518.00" y1="873.20" x2="600.40" y2="873.20" stroke="#6a6a6a" stroke-width="1.3"/>
<text x="464.20" y="886.00" font-size="10.8" text-anchor="middle" fill="#1e1e1e" style="stroke-width:0.45px">22Rv1</text>
<text x="563.00" y="885.60" font-size="10.8" text-anchor="middle" fill="#1e1e1e" style="stroke-width:0.45px">DU145</text>
</svg></body></html>
